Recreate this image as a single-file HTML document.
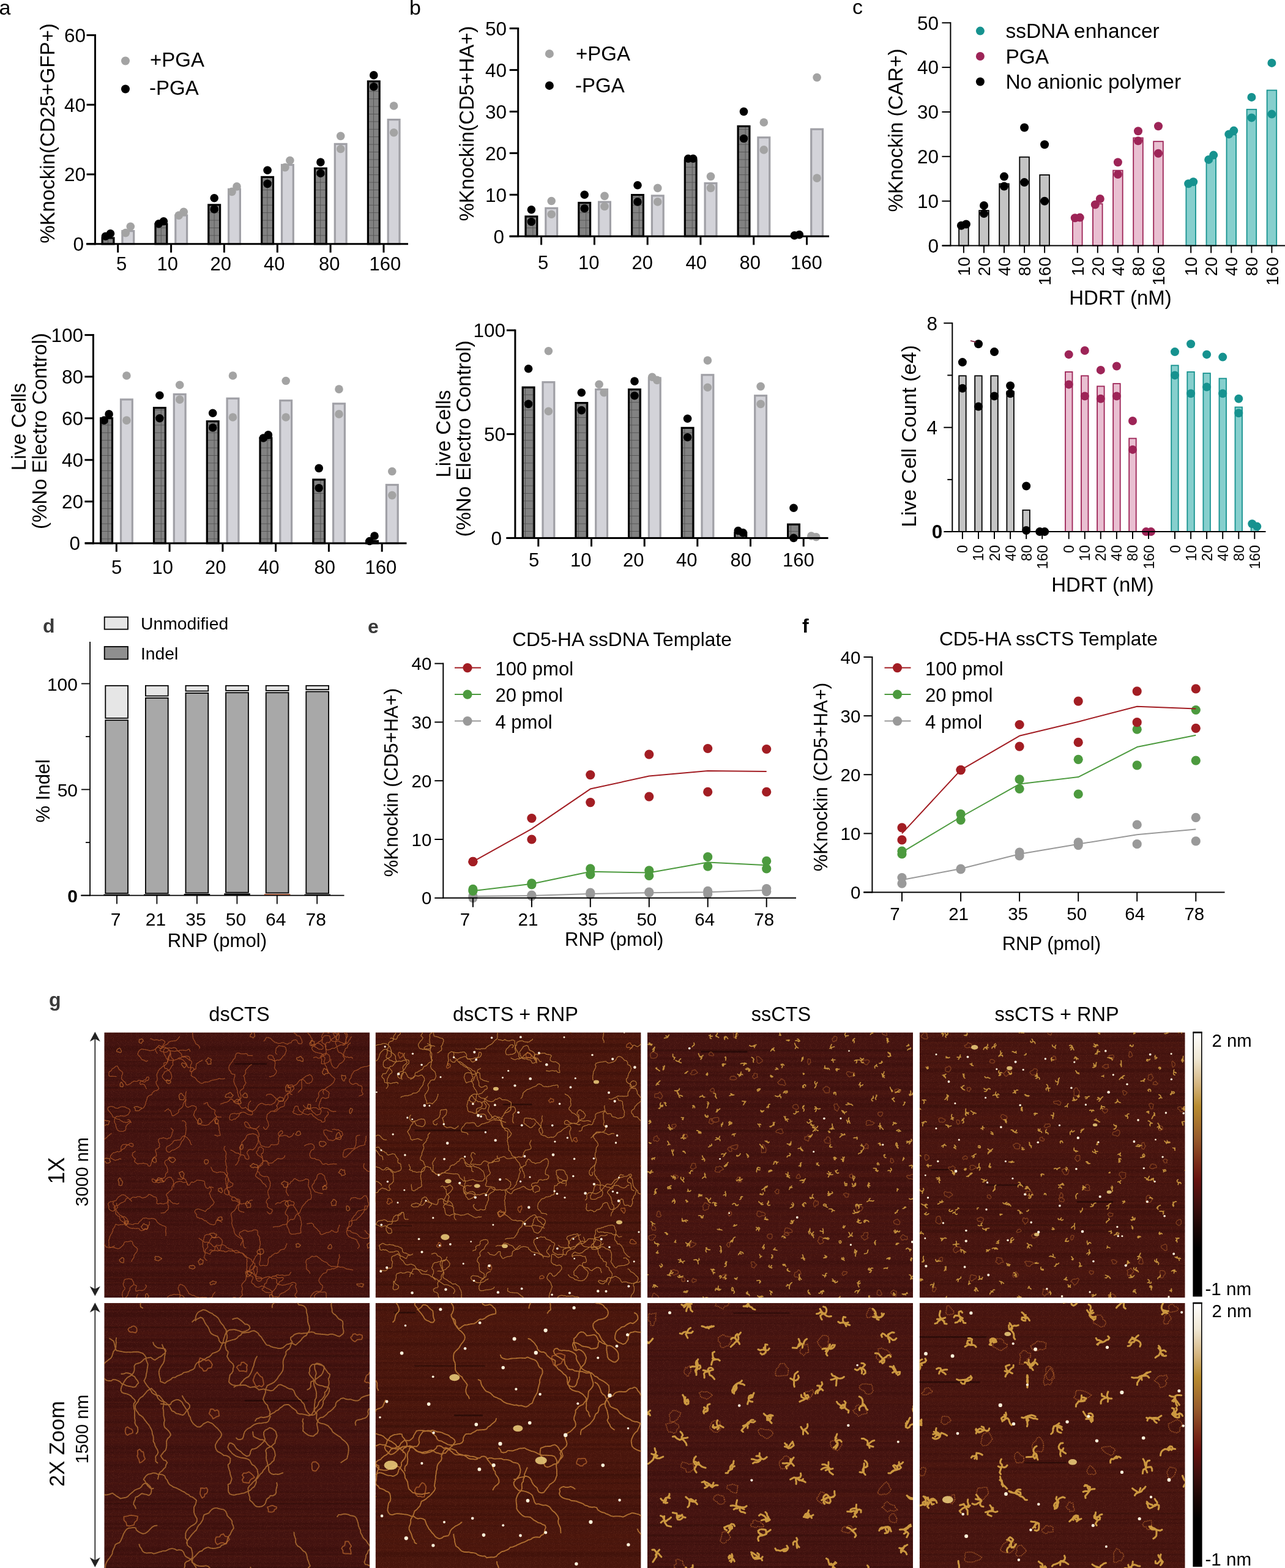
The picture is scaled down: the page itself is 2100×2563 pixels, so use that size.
<!DOCTYPE html>
<html><head><meta charset="utf-8"><title>Figure</title>
<style>
html,body{margin:0;padding:0;background:#fff;}
svg{display:block;}
text{font-family:"Liberation Sans", Arial, sans-serif;}
</style></head><body>
<svg width="2100" height="2563" viewBox="0 0 2100 2563">
<defs>
<pattern id="grid" width="12.4" height="12.4" patternUnits="userSpaceOnUse" x="2.4" y="0">
<rect width="12.4" height="12.4" fill="#828282"/>
<path d="M0 0.4 H12.4 M0.4 0 V12.4" stroke="#505050" stroke-width="0.9" fill="none"/>
</pattern>
<linearGradient id="cbar" x1="0" y1="0" x2="0" y2="1">
<stop offset="0" stop-color="#ffffff"/>
<stop offset="0.1" stop-color="#efe7d4"/>
<stop offset="0.2" stop-color="#d4b47e"/>
<stop offset="0.28" stop-color="#b88c30"/>
<stop offset="0.4" stop-color="#985c2c"/>
<stop offset="0.5" stop-color="#782a18"/>
<stop offset="0.56" stop-color="#661210"/>
<stop offset="0.65" stop-color="#3e0f0e"/>
<stop offset="0.74" stop-color="#1a0605"/>
<stop offset="0.82" stop-color="#000000"/>
<stop offset="1" stop-color="#000000"/>
</linearGradient>
<filter id="grain" x="0" y="0" width="100%" height="100%" filterUnits="objectBoundingBox">
<feTurbulence type="fractalNoise" baseFrequency="0.9" numOctaves="1" seed="3" result="n"/>
<feColorMatrix in="n" type="matrix" values="0 0 0 0 0.45  0 0 0 0 0.12  0 0 0 0 0.06  1.0 0 0 0 -0.55"/>
</filter>
</defs>
<g id="afm">
<clipPath id="clip0"><rect x="170.3" y="1687.5" width="434" height="433.5"/></clipPath>
<g clip-path="url(#clip0)">
<rect x="170.3" y="1687.5" width="434" height="433.5" fill="#42120f"/>
<rect x="170.3" y="1687.5" width="434" height="433.5" fill="#000" filter="url(#grain)"/>
<rect x="170.3" y="1700.6" width="434" height="1.3" fill="#6a2414" opacity="0.1"/>
<rect x="170.3" y="1710.3" width="434" height="2.8" fill="#140302" opacity="0.1"/>
<rect x="170.3" y="1713.2" width="434" height="2.6" fill="#140302" opacity="0.1"/>
<rect x="170.3" y="1715.8" width="434" height="1.7" fill="#140302" opacity="0.1"/>
<rect x="170.3" y="1724.9" width="434" height="2.4" fill="#6a2414" opacity="0.1"/>
<rect x="170.3" y="1731.2" width="434" height="3.1" fill="#6a2414" opacity="0.1"/>
<rect x="170.3" y="1734.3" width="434" height="1.9" fill="#140302" opacity="0.1"/>
<rect x="170.3" y="1740.6" width="434" height="3.5" fill="#140302" opacity="0.1"/>
<rect x="170.3" y="1747.8" width="434" height="3.9" fill="#6a2414" opacity="0.1"/>
<rect x="170.3" y="1754.7" width="434" height="1.8" fill="#140302" opacity="0.1"/>
<rect x="170.3" y="1760.4" width="434" height="1.4" fill="#140302" opacity="0.1"/>
<rect x="170.3" y="1764.4" width="434" height="2.3" fill="#140302" opacity="0.1"/>
<rect x="170.3" y="1768.2" width="434" height="1.3" fill="#6a2414" opacity="0.1"/>
<rect x="170.3" y="1771.3" width="434" height="3.4" fill="#6a2414" opacity="0.1"/>
<rect x="170.3" y="1774.7" width="434" height="1.6" fill="#6a2414" opacity="0.1"/>
<rect x="170.3" y="1776.4" width="434" height="2.9" fill="#140302" opacity="0.2"/>
<rect x="170.3" y="1779.3" width="434" height="1.6" fill="#6a2414" opacity="0.1"/>
<rect x="170.3" y="1780.9" width="434" height="2" fill="#6a2414" opacity="0.1"/>
<rect x="170.3" y="1794.6" width="434" height="1.5" fill="#140302" opacity="0.1"/>
<rect x="170.3" y="1796.2" width="434" height="3.5" fill="#140302" opacity="0.1"/>
<rect x="170.3" y="1808.1" width="434" height="2.3" fill="#140302" opacity="0.1"/>
<rect x="170.3" y="1810.4" width="434" height="3.9" fill="#140302" opacity="0.1"/>
<rect x="170.3" y="1816" width="434" height="2.8" fill="#6a2414" opacity="0.1"/>
<rect x="170.3" y="1818.8" width="434" height="3.2" fill="#140302" opacity="0.1"/>
<rect x="170.3" y="1824.7" width="434" height="2.8" fill="#6a2414" opacity="0.1"/>
<rect x="170.3" y="1827.5" width="434" height="1.6" fill="#140302" opacity="0.1"/>
<rect x="170.3" y="1829.1" width="434" height="2.3" fill="#140302" opacity="0.1"/>
<rect x="170.3" y="1833.6" width="434" height="1.4" fill="#6a2414" opacity="0.1"/>
<rect x="170.3" y="1842" width="434" height="1.4" fill="#140302" opacity="0.1"/>
<rect x="170.3" y="1847.1" width="434" height="3.9" fill="#140302" opacity="0.1"/>
<rect x="170.3" y="1878" width="434" height="2.9" fill="#6a2414" opacity="0.1"/>
<rect x="170.3" y="1880.9" width="434" height="2.8" fill="#140302" opacity="0.1"/>
<rect x="170.3" y="1887.7" width="434" height="3.2" fill="#6a2414" opacity="0.1"/>
<rect x="170.3" y="1890.9" width="434" height="2.7" fill="#6a2414" opacity="0.1"/>
<rect x="170.3" y="1896" width="434" height="2.4" fill="#140302" opacity="0.1"/>
<rect x="170.3" y="1900.9" width="434" height="3.8" fill="#6a2414" opacity="0.1"/>
<rect x="170.3" y="1906.6" width="434" height="1.6" fill="#140302" opacity="0.1"/>
<rect x="170.3" y="1908.2" width="434" height="3" fill="#6a2414" opacity="0.1"/>
<rect x="170.3" y="1913.2" width="434" height="1.6" fill="#6a2414" opacity="0.1"/>
<rect x="170.3" y="1920.6" width="434" height="1.9" fill="#140302" opacity="0.1"/>
<rect x="170.3" y="1929.2" width="434" height="1.8" fill="#140302" opacity="0.1"/>
<rect x="170.3" y="1931.1" width="434" height="1.8" fill="#140302" opacity="0.1"/>
<rect x="170.3" y="1941.7" width="434" height="1.2" fill="#140302" opacity="0.1"/>
<rect x="170.3" y="1944" width="434" height="2.7" fill="#6a2414" opacity="0.1"/>
<rect x="170.3" y="1946.7" width="434" height="1.1" fill="#140302" opacity="0.1"/>
<rect x="170.3" y="1948.9" width="434" height="1.7" fill="#140302" opacity="0.1"/>
<rect x="170.3" y="1950.6" width="434" height="2.9" fill="#6a2414" opacity="0.1"/>
<rect x="170.3" y="1961.9" width="434" height="1.5" fill="#140302" opacity="0.1"/>
<rect x="170.3" y="1963.4" width="434" height="3.1" fill="#140302" opacity="0.1"/>
<rect x="170.3" y="1971.2" width="434" height="3.3" fill="#6a2414" opacity="0.1"/>
<rect x="170.3" y="1974.4" width="434" height="3.7" fill="#140302" opacity="0.2"/>
<rect x="170.3" y="1978.2" width="434" height="3.2" fill="#140302" opacity="0.1"/>
<rect x="170.3" y="1993.8" width="434" height="3" fill="#140302" opacity="0.1"/>
<rect x="170.3" y="2000.2" width="434" height="3.2" fill="#140302" opacity="0.1"/>
<rect x="170.3" y="2011.9" width="434" height="3.6" fill="#6a2414" opacity="0.1"/>
<rect x="170.3" y="2023.4" width="434" height="1.5" fill="#6a2414" opacity="0.1"/>
<rect x="170.3" y="2024.9" width="434" height="1.4" fill="#140302" opacity="0.1"/>
<rect x="170.3" y="2035" width="434" height="1.3" fill="#140302" opacity="0.1"/>
<rect x="170.3" y="2044.6" width="434" height="1.9" fill="#6a2414" opacity="0.1"/>
<rect x="170.3" y="2046.5" width="434" height="3.7" fill="#140302" opacity="0.1"/>
<rect x="170.3" y="2054.1" width="434" height="2.7" fill="#140302" opacity="0.1"/>
<rect x="170.3" y="2060.4" width="434" height="2.5" fill="#6a2414" opacity="0.1"/>
<rect x="170.3" y="2065.7" width="434" height="3.1" fill="#140302" opacity="0.1"/>
<rect x="170.3" y="2071" width="434" height="3.8" fill="#6a2414" opacity="0.1"/>
<rect x="170.3" y="2074.8" width="434" height="1.4" fill="#6a2414" opacity="0.1"/>
<rect x="170.3" y="2079.8" width="434" height="2" fill="#140302" opacity="0.1"/>
<rect x="170.3" y="2081.8" width="434" height="3.8" fill="#140302" opacity="0.1"/>
<rect x="170.3" y="2085.6" width="434" height="1.1" fill="#140302" opacity="0.1"/>
<rect x="170.3" y="2086.6" width="434" height="3.1" fill="#6a2414" opacity="0.1"/>
<rect x="170.3" y="2089.7" width="434" height="2.9" fill="#140302" opacity="0.1"/>
<rect x="170.3" y="2093.9" width="434" height="1.8" fill="#140302" opacity="0.1"/>
<rect x="170.3" y="2095.7" width="434" height="2.3" fill="#6a2414" opacity="0.1"/>
<rect x="170.3" y="2098" width="434" height="2.6" fill="#140302" opacity="0.1"/>
<rect x="170.3" y="2114" width="434" height="1.9" fill="#6a2414" opacity="0.1"/>
<rect x="170.3" y="2117.6" width="434" height="3.7" fill="#140302" opacity="0.1"/>
<rect x="382.8" y="1737.6" width="53.4" height="2.7" fill="#0a0101" opacity="0.45"/>
<path d="M450.1 1968.6l1.8-1.6 2-1.2 2.3 .5 2.4 0 1.5-1.9 2.3-.7 2-1.2 2.4 0 2.3 .7 2.4-.6 2.3-.6 1.7 1.6 2.4 .6 2.3 .7 .8 2.2-.8 2.3-2.3 .6-2.4-.6-2.2 .9-1.8 1.7-1.2 2-1.3 2-1.1 2.2-1 2.1-.8 2.3 .6 2.3 2.1 1.2 1.5 1.9 .3 2.4-.2 2.4-.8 2.2 0 2.4-.3 2.4-.6 2.4 .5 2.3 1 2.2 1.3 2 .7 2.3 .5 2.4 .9 2.2 1.9 1.5 2.4 .3 2.3-.3 2.4 0 2.2-.9 2.4 0 2.4-.4 2.3-.6-.3-2.4-.3-2.4 0-2.4 .5-2.3 .5-2.4 .6-2.3-.6-2.3 .1-2.4-1.2-2.1-.2-2.4-.4-2.4-1.2-2-1.9-1.4 0-2.4-1.1-2.2-.9-2.2-1.7-1.7-.9-2.2-1.5-1.8-1.4-2-.6-2.3 M554.5 2050.7l-.2 2.4 1 2.1-1.4 2-.9 2.2-.1 2.4-.1 2.4-1 2.2 .1 2.4 .4 2.4-2.4 .5-2.1 1.2-2.1 1.1-2.4-.4-2.1 1.1-2.3 .6-2.4-.2-2.2 .8-.1 2.4-1.4 2-2.4 .5-2.3 .6-1.3 2-1.7 1.7-1.3 2-1.4 2-1 2.1-.3 2.4 1 2.2 1.1 2.1 1.7 1.7 2 1.4 .5 2.3-.6 2.4-.9 2.2-1.3 2-2.2 .9-2.4 .3-2.4-.6-2.2 1-2.2 .9-1.8 1.7-1.3 1.9-1.6 1.9-.9 2.2-.3 2.4-1.2 2-2 1.3-2.4 .3-2.3-.5-2.4 .6-2.1 1-1.5 1.9-1.1 2.1-1.5 2 .1 2.4 M609.1 2124.9l.4 2.4 .3 2.4 .3 2.4 1.3 2 2.4-.2 2.4 .5 1.6 1.8 1.4 1.9 2.3 .9 2.3 .3 2.4-.7 2.2-.7 2.4 0 2.1 1.1 2.3 .9 1.7 1.7 .8 2.2-.6 2.3-1.4 2-.6 2.3-.2 2.4 1.5 1.9 2.3-.4 2.3-.6 1.4-2 2-1.3 2.3-.7 2.3 .5 .8 2.3 .1 2.4-1.3 2-1.2 2.1-.8 2.2 1.5 1.9 1.1 2.1 1.1 2.2 1.8 1.4 2.4 .5 1.7 1.7 2.3 .6 1.8 1.6 M447.6 1816.9l2.4 0 2.1-1.2 1.7-1.7 1.8-1.5 1.7-1.7 2.1-1.2 2.3-.5 2.3-.8 1.1-2.1 0-2.4 0-2.4 1.8-1.5 1.3-2.1 1.6-1.7 1-2.2-.1-2.4-.6-2.4 1.2-2 2.1-1.2 2.2-1 1.9-1.6 1.2-2 1.8-1.6-.4-2.4-1-2.2-1.6-1.8-2.4 .3-2.4 .2-2.2 1-.4 2.4 2.2 1 2-1.3 2.4-.3 2.3-.6 1.9-1.5 2.1-1.2 2.1-1.2 1.3-2 1.5-1.9 1.3-2 2.1-1.1 2.3-.8 2.3 .6 1.8 1.6 1.7 1.8 1.1 2.1 2.4 .5 2.4-.1 1.9-1.3 2.2-1.1 .7-2.3 .8-2.2-.6-2.4-.7-2.2-1.7-1.8-2.1-1.1-1.8 1.5-2.4 .4-2.1 1.1-1.9 1.6-2 1.3-1.7 1.6-1.1 2.2 .3 2.4-.6 2.3 .8 2.3-.2 2.4 .2 2.3-.6 2.4-1.7 1.6-1.8 1.6-1.7 1.8 M501.6 2000.3l2.4-.2 2.3-.5 2.4-.5 2 1.1 1.9 1.5 .1 2.4 1.8 1.7 1.7 1.6 2 1.4 1.3 2 1.8 1.6 1.7 1.6-.2 2.4 2.1 1.4 2.4-.1 2-1.2 2.4-.4 1.8-1.6 2.4 .2 2.3-.7 2-1.3 1.7-1.7 2.1 1 2 1.5 2.2 .8 2.4-.2 1.9-1.5-.1-2.4 0-2.4 1.4-1.9 .7-2.3 .3-2.4 M297.6 1832.2l2.4-.3 2.1 1.1 1.3 2 .6 2.4-1 2.2 .9 2.2 .3 2.4-.2 2.4-.2 2.4-.3 2.3-.2 2.4-.8 2.3-1 2.2-.6 2.3-1.1 2.1-1.4 2-1.9 1.4-.4 2.4-1.2 2-.9 2.2-1.5 1.9-2.1 1.3-1.9 1.4-2.1 1.1-2 1.5-2.4 0-2.1 1.1-1.5 1.8-2.3 .7-2.3-.8-1.7-1.7-.5-2.3 .1-2.4 1.4-2 2.2-1 2.1-1.1 1.8-1.6 2-1.4 1.2-2 1.4-2 2-1.3 2.3 .2 2.4-.6 2.3-.1 2.4-.6 1.2-2.1 1.1-2.1 1.9-1.4 2.4-.4 1.9 1.5 2 1.3 1.6 1.8 1.5 1.9 1.6 1.8 .6 2.3 .7 2.3 1.5 1.9 M480.2 1852.3l-1.4 1.9-1.1 2.2-2 1.3-2.2 1-2.4-.1-1.6-1.8-2.3-.6-2.3-.7-2.2 1-2.4 .1-2.4 .5-2.2-1-1.2-2 .8-2.3 1.6-1.7 1.8-1.7 2.4 .1 1 2.1-.9 2.3-2 1.2-1.9 1.5-1 2.2-1 2.2-.3 2.3 1 2.2-.8 2.3-.3 2.4-1.7 1.7-2.4 0-2.3 .4-2.4 .1-2.4-.6-1.8 1.6-1.1 2.1-2.3 .5-2.4 .1-2.4-.3-2.3-.8-2.3-.5-2.2-1-1.6-1.8-.3-2.4-1.1-2.1-1.1-2.2-.9-2.2 0-2.4 1.4-2-.1-2.4 0-2.4-1.5-1.8-.6-2.3-1.7-1.8-2.2-1-2.1-1.1-2.4-.4-2.2-.8-2-1.4-.7-2.3-1.5-1.9-1-2.1-1.9-1.5-2.4-.5-1.6 1.7 .7 2.3 .8 2.3 1.4 1.9 2.1 1.1 2.3 .8 2.4-.1 2.4 .1 2.1 1.2 2.4 .3 2.3-.4 2.1-1.2 1.8-1.6 1.5-1.8 M362.6 1997.8l-2.1-1.2-1.7-1.7-2.1-1.1-2 1.4-2.1 1.1 0 2.4-.9 2.2-2.1 1.1-2.4-.1-2.4-.7-2.3-.6-1.8-1.5-2.2-1.1-1.1-2.1-2.3-.6-2.2-.9-1.7-1.7-2.2-1.1-2.4 0-2.1-1.1-2.3-.5-1-2.2-.1-2.4-1.1-2.1-1.7-1.7 .1-2.4 1.6-1.9 2.2-.8 2.4-.5 2.2 .9 2.2 .8 2.3 .8 2.3 .7 2.1 1.2 1.3-1.9 1.5-1.9 2.3-.9 2.1-1.2 1-2.1 1.7-1.7 2.1-1.1 1.2-2 1.1-2.2-1.1-2.1-1.4-1.9-1.3-2.1-1.4-1.9-.9-2.3-.5-2.3-1.3-2 1.2-2.1 1.3-2 1-2.2-.9-2.2-1.4-2-2.1-1.2 M596.1 2011.3l1.9 1.4 .9 2.2 1.8 1.6 2.2 .9 .4 2.4-.2 2.4-1.7 1.7-2.4 0-2.4 .5-2.4-.1-2.2-.8-2.2-1-2.2-.9-1.4-1.9-1.6-1.8-2.1-1.3-2.2-.7-2.4-.6-2.3-.5-2-1.4-1.3-1.9-2.4 .2-2.4-.4-.5-2.3 .8-2.3 1.8-1.6 2.4-.1 1.8-1.5 1.1-2.2 .8-2.2-.7-2.3-.2-2.4 .3-2.4 1.8-1.6 1.2-2.1 1.6-1.8 1.9-1.5 .6-2.3 1.6-1.8 1.5-1.8 2.4-.3 2.4-.4 2.2-.9 2.2-.9 2.1 1.3 2.2-.9 .9-2.2 .7-2.3 1.5-1.9 .8-2.2-.5-2.4-1-2.2-.1-2.4-.5-2.3-1.1-2.1-1.1-2.2-2.4-.4-2.2 1.1-1.3 2-2 1.3-2.1 1.1-2.3-.8-2.4-.2-2-1.3-2.4 0-2.4 .2-2.4 .4-1.5 1.8-.9 2.2 M272.9 2128.2l1.8-1.6-.5-2.4-1-2.1 .8-2.3 2-1.4 2.1-1.2 2.4-.1 2.2-.9 2.3-.8 2.2 1 2.3-.5 2.4-.1 2.2 1 2.3 .5 2.2 .9 1.8 1.6 1.3 2 .9 2.2 2.3 .8 1.9 1.4 .8 2.3-.3 2.4-1.8 1.6-2.2 .9-1.7 1.6-2.4 .1-2.4 0-2.4-.2-2.2 1.1-2.3 .6-2.2-1-2.4-.3-2.3 .7-2-1.3-2-1.3-2.4-.3-2.4-.3-2.2 1.1-2.3 .6-2.3-.6-2.3-.8-2.1-1-2-1.4-1.8-1.6-1.9-1.5-.4-2.3-1.9-1.5-2.2-.9-2.4-.3-2.2 1-2.4-.2-2.4-.3-1.8 1.6-1 2.1-.8 2.3 0 2.4-.9 2.2-2.1 1.1-2 1.5-2.2 .7-2.2 1-2-1.3-2.1-1.1-.8-2.3-.8-2.3-.1-2.4-.9-2.2-.9-2.2-.5-2.4 1.4-1.9 .2-2.4 1.3-2 M244.3 1996.9l0 2.4-.1 2.4-1.7 1.6-.1 2.4-1.2 2.1-1.3 2-2.4-.6-2 1.2-2.3 .9-2.3 .4-2.1-1.2-1.2-2.1-2.3-.5-2.4 .1-2.4 .1-2.4-.6-2.4 .4-2.3-.6-2.3-.7-2-1.2-1.7-1.8-1.2-2.1-1.4-1.9-1-2.1-.3-2.4-.3-2.4-1.4-1.9-1.5-1.9-1.4-1.9-2.4-.5-1.8-1.6-1.2-2.1-2-1.4-.9-2.2-1.2-2-1-2.2-.1-2.4-1.3-2.1-1.9-1.4-.5-2.4 1.3-2 M344.9 1907.8l.7 2.2 1.1 2.2 1.3 2 2.1 1.2 2.3 .5 2.3 .9 2.3-.7 2.3-.6 2.4 .3 2.4 0 2.2 .9 1.8 1.6 1.2 2.1 .9 2.2-.8 2.3-1.1 2.1 .5 2.4 .6 2.3-.1 2.4 .4 2.4 .7 2.3 0 2.4 .5 2.3 1.4 2 1.2 2 0 2.4 .6 2.4 1.5 1.8 2 1.4 2.3 .8 2.3 .4 2.2 .9 1.4 1.9 1.6 1.9 2.1 1 1.4 2 1 2.2-.6 2.3-1.4 2 0 2.4-.4 2.3 .7 2.3 1.6 1.7 2.3 .9 2.4 .4 2.2 .8 M237.6 2100.2l2 1.5-.9 2.2-1.3 2-1.4 2-2.1 1.1-2.3 .5-2.4-.3-2.4-.1-2.2 1-2.4 .4-.6-2.3 .1-2.4 1.3-2 0-2.4-2.3-.7-2-1.3-.1-2.4-1-2.2-1.2-2.1-1.2-2.1-2.4 .2-2.2-.8-2.4 .6-2.3 .2-2.3 .8-1 2.2-.1 2.4-1.3 2 .4 2.4 .8 2.3 1.6 1.8 .1 2.4-1.7 1.7-1.4 1.9-1 2.2-.1 2.4-.2 2.4 1 2.2-.1 2.4-.6 2.3 0 2.4-1 2.2-2.3 .8-2 1.2 M412.5 1961.8l-2.4-.2-2 1.3-1.2 2.1-1.6 1.8-2.3 .4-2.4-.1-2.4 .1-2.3 .7-2.4-.2-2-1.4-2.2-.9-1.7-1.7-2.3-.6-2.4-.5-2.4 .1-1.8-1.5 .1-2.4 .8-2.3 2.4 .4 2.3 .7 1.4 1.9 2.3 .5 2.4 .1 1.4 2 .3 2.4-.7 2.2-1.8 1.7-1.4 1.9-1.6 1.8-.3 2.4-1.6 1.8-1.2 2.1-1.8 1.6-2 1.4-1.7 1.6-.4 2.4 .5 2.4 .6 2.3 .2 2.4 .3 2.4-.1 2.4-.5 2.3 .8 2.3 .6 2.3 .8 2.3 1.2 2 .3 2.4 .2 2.4 1 2.2 1 2.2 1.8 1.6 1.8 1.6 2 1.2 2.1 1.3 2.1 1 2.1 1.3 1.1 2.2 .1 2.4-.3 2.3 .6 2.3 .5 2.4 1.2 2.1 2.3 .5 M548.8 1816.7l-2.4 0-2.4 .2-2.3-.8-2.1-1-1.9-1.6-1.9-1.3-2.4-.6-2.4-.1-2.3-.5-2.2-1-1.8 1.6-1.8 1.6-2.4 .4-1.8-1.6-2-1.3-2.4-.1-2.4-.2-2.2 .9-2.3 .7-2.4 .3-2.4-.2-2.3 .6-2.4 .5-1.7 1.6-.8 2.3-1 2.2-1.3 2-2.3 .7-2.4-.2-2.4 .4-1.9-1.3-2.3-.9-2.3-.5-.9-2.2 1.7-1.7-.2-2.4 1.1-2.2 1-2.2 2.1-1 2.4 .5 .8 2.3 .3 2.3 1.2 2.1 1.7 1.7 2.1 1.2 2 1.3 2.1 1.2 2.3 .6 2.3 .7 2.3 .7 1.8-1.6 2.3-.5 2.3 .6 .9 2.3 1.7 1.7 2.1 1.2 1.7 1.6 2 1.3 2 1.4 2.3 .4 2.3 .9 .5 2.3 2.4 .1 2.3-.9 1-2.1-.9-2.3 1.1-2.1 1.7-1.7 1.6-1.8 1.6-1.8 .1-2.4-1.3-2 M512.4 1729l2.1-1.1 2.4-.1 1.9 1.4 2.3 .7 2.2-1.1 .9-2.2 1.4-2 2.1-1 2.2-1.1 2.2-.9 2.2 .8 2 1.4 1.9 1.4 .6 2.3 .2 2.4-.4 2.4-.1 2.4-1.9 1.4-2.3 1-2.2 .8-2.1 1.1-2.4-.1-2.4-.3 .2-2.4 .3-2.4 .1-2.4-1.4-1.9 1.2-2.1 1.9-1.5 2.3-.8 2.1-1.1 .8-2.3 .6-2.3-.4-2.4-.6-2.3-.1-2.4 .8-2.3-1.6-1.8-1.5-1.8-2.1-1.3-1.9-1.3 .8-2.3 .4-2.3-.1-2.4-1.4-2 .7-2.3 .8-2.3 1.7-1.6 1.6-1.8 2.4 .6 2.3 .5 2.2 .9 1.7-1.7 1.6-1.7 2.4 .2 1.1 2.2 .8 2.2 1.1 2.1 1.6 1.8 .4 2.4 1.8 1.6 1.1 2.1 2.3-.9 .8-2.2 .1-2.4 .4-2.4-1.2-2.1-2.3-.2-2.4-.5-2.2-.9-1-2.2 M292.2 1966.7l-1.9 1.4-2.3-.3-2.3-.8-2.4 .2-1.9-1.5-2-1.3-1.3-2-2.1-1.3-1.9 1.4-.7 2.3-1.4 2-2.4 .2-2.1 1.1-2.4-.5-2.3-.6-2.4 .3-2.2 .8-2-1.3 .1-2.4 .7-2.3-1.2-2-.3-2.4-2-1.4-2.4 .1-1.8-1.6-2.1-1.2-2.1-1.1-2.4-.1-.9 2.2-2.1 1.2-2 1.4-2.4 .1-2.1 1.1-2.2-1-2.1-1.2-2.3-.4-2.4 .2-2 1.4-2.4-.2-2.3-.5-2.1 1-1.5 1.9-2.2 1 M425.5 2050.5l-2.3-1-2.3 .7-1.5 1.9-1.7 1.7-1 2.2-1.1 2.1-1.1 2.1-.3 2.4-1.3 2-.5 2.4-2.1 1.2-1.1 2.1-1 2.2 .2 2.4-1.3 2-2 1.3-1.7 1.7 .4 2.4 2.2 1 1.8 1.5 2.3 .6 2.3 .8 1.2 2.1-.8 2.2-1 2.2-.9 2.2 .6 2.3 2 1.3 2 1.3 1.1 2.1 2 1.3 2.2 1 2.4-.1 2.2-1 2.1-1.1 2.4 .3 2.1 1 2.1 1.2 2 1.3 2.3 .9 2.2 1 2 1.3 1.6 1.8 .7 2.3-.7 2.3 1 2.2 1.9 1.4 2.3 .7 2.4-.4 2.2 .9 2.2-1 .6-2.3 1.5-1.9 2.1-1.1 2.3-.7 2.2-1 1.9-1.5 2-1.3 1.9-1.4 1.9-1.5 1.3-2 .8-2.3 1.6-1.8 2.2-.9 M465.5 1888.9l-.5 2.3-1.9 1.5-2 1.3-2.4 .4-2.3-.6-2.4-.2-2 1.4-1.7 1.7-2.1 1.1-1.6 1.8-2 1.4-2.4 .2-2.3 .3-2-1.3-1.7-1.7-2.3-.8-2.4-.4-2-1.3-.2-2.4-1.9-1.5-1.8-1.5-2.1-1.1-2.1-1.3-1.2-2-1.4-2 .7-2.3 2-1.4 .4-2.3 .8-2.3 2-1.3 2.4 .5 1.8 1.6 1.8 1.4-.4 2.4-.1 2.4-.8 2.2-2.3 .7 0 2.4 1.5 1.9 .2 2.4 .3 2.4 .2 2.4 .3 2.4-.4 2.3-1 2.2-2.1 1.3-1.7 1.6-1.8 1.6-.5 2.3-1.2 2.1-.7 2.3-.6 2.3-1.6 1.8-.4 2.4 1.5 1.8 1.8 1.6 2.1 1.2 2 1.3 1.7 1.7 1.5 1.9 .8 2.2 2.1 1.3 2 1.3 1.4 1.9 1.1 2.2 M330.6 1732.8l-1.9 1.5-2.3 .9-1.9 1.4-2 1.3-2 1.4 .3 2.3-.7 2.3 .2 2.4-1.5 1.9-2.4 .4-1.5 1.9-2.1 1-2.4 .1 .2-2.4 1.3-2 0-2.4-.8-2.3 .8-2.3 1.4-1.9 .2-2.4-1.2-2-2.3-.8-1.9-1.5-1.8-1.6-2-1.2-2.1-1.3-2.3 .4-2.4-.3-.6-2.3-.1-2.4-1.8-1.5-1.8-1.7-1.8-1.6-1.9-1.4-1.1-2.1-1.6-1.8-2.3-.5-2.4 .6-2.3 .6-2.3-.6-2.4 .2-2.4-.1-2.3 .6-2.2 1-.7 2.4-.3 2.3 .7 2.4 .7 2.2 1.7 1.8 .7 2.2 1 2.2 1.7 1.7 2.3 .8 2.3 .6 2.4-.2 2.1 1.1 2.1-1.3 2.3-.7 2.3-.6 1.7-1.7 2.2-.9 2.4 .2 1.7-1.8 2.3-.7 2.4 .2 2.3-.4 2.4 0 2.1 1.1 1.3 2 .1 2.4 M576.5 2075.9l-2.3-.6-2.4-.2-2.3-.6-2.4-.2-2.3-.9-2-1.2-2.2-.9-2.4-.2-2.4 .3-2.2-1-2.4-.3-2.4 0-2.4 .2-2.3-.4-2.4 .4-2-1.3-2.1-1.2-1.7-1.6-1.4-2-2.2-1-2.3-.7-2-1.3-2.1-1.1-1.7-1.7-1.6-1.8-2.2-.9-1.6-1.8-2.2-1-2.1 1.2-2.4 .1-2.1-1.1-1.7 1.6-2 1.4-2.1 1.3-2.2 .8-1.5 1.9-.7 2.3 .4 2.3 .8 2.3-.6 2.4 .6 2.3-.3 2.4 1.7 1.7 1.9 1.5 1.5 1.8 .8 2.3 M440.3 1904.6l-2.3-.8 0-2.4-.5-2.3-1.8-1.6-2.3-.5-2.2 1.1-2 1.3-1.4 1.9-1.8 1.6-1.2 2.1-2.3 .6-1.3 2.1-.4 2.3 .4 2.4-.2 2.4 2 1.3 1.3 2 .8 2.3 2.2 .9 2 1.4 2.3 .6 2.4-.2 2.4-.1 2.1 1.1 .7 2.3 .4 2.4 1.3 2 .8 2.3-.2 2.4 0 2.4-.5 2.3-.8 2.3-1.3 2-1.1 2.2 0 2.4 .3 2.3 .7 2.3 .9 2.2 .3 2.4-2.2 .9-1.5 1.9-1.1 2.2 0 2.4 1.6 1.8 .5 2.3-.2 2.4 1.4 1.9 2.1 1.2 2.2 .9 2.2 1.1 0 2.4-1.1 2.1-1.3 2-2.4 .2-1.8-1.6-1.8-1.6 M209.1 1958.1l-2.3 .7-1.5 1.9-.8 2.3-2 1.3-2.1 1.2-2.2 .7-2.1 1.2-1.7 1.7-1.9 1.5-2.4 0-2.2 .9-1.6 1.8 .6 2.3 .5 2.3 1.3 2 .3 2.4 .2 2.4 2 1.3 1.7 1.7 2.3 .7 .6 2.3 .3 2.4 1.5 1.9 2 1.3 2.1 1 1.4 2 2.1 1.2 2.4 .4 2.4-.3 2.4 .1 2.3 .7 2.3 .3 2.1-1.2 2.3-.6 2.4 .4 2.4-.2 .8-2.3 1.8-1.6 1.8-1.5 1.7-1.8 1.6-1.8 2.4 0 2.4-.3 2.3 .8 2.3 .6 2.4-.1 2.3-.6 2.4 .2 2.3 .8 2 1.2 1.3 2.1 1.1 2.1 1.9 1.4 1.8 1.6 2.2 .8 2 1.4 2.3 .7 2.3 .7 1.9 1.5-.5 2.3-.2 2.4-.2 2.4 .7 2.3-.2 2.4-.2 2.4 M513.2 1709.6l1.7 1.7 2.2 .9 2 1.4 1.9 1.5 2.4 0 2.4 .2 2.1-1.3 .2-2.3-.9-2.3-1.8-1.5-2-1.3-2.2-.9-2.3-.7-2.3 .9-1.2 2.1-1.5 1.8-2.4 .1-2.1-1.3-.8-2.2-.8-2.3 1.5-1.9 1.5-1.9-.8-2.2-1.6-1.8-.9-2.2-1.2-2.1-1.7-1.7-1.5-1.9-1-2.2-2.3-.8-1.8-1.6-.2-2.3 .4-2.4 1.1-2.1 1.6-1.8 .8-2.3-.5-2.3 .4-2.4 .9-2.2 .1-2.4 M554.2 1681.3l-1.3 2.1 .9 2.2 .7 2.3-1.4 2-.8 2.2-2.2 1-2 1.3-2.2 1-1.3 2-2.2 1-1.7 1.7-1.3 2-1.1 2.1-2.4-.4-2.3 .4-1.4 2 0 2.4-.9 2.2 1.1 2.2 .9 2.2 2 1.3 2.2-.8 2.4-.3 1.7-1.6 2.4-.6 2.3 .5 1.9-1.5 2-1.4 2.2-.9 2.2-1 2.1-1 2.4-.2 2.2 1 2-1.3 1.8-1.6 .9-2.2-.8-2.3 .1-2.4 .9-2.2 1.4-2 .5-2.4-.8-2.2-1.3-2-1.4-2-1.2-2.1-2.3-.6-2.4 .1-2.4 0 M341.8 2018.1l-2.4-.2-2.4 .3-2 1.3-1 2.2-.8 2.3-.3 2.3-1.2 2.1-.4 2.4 .1 2.4 .2 2.3-.3 2.4 1.2 2.1 .1 2.4 .4 2.4 1.3 2 2.1 1.1 2.4 .1 2 1.3 2.3 .8 .8-2.3 1.5-1.8 2-1.3 2.3-.9 1.5-1.8 .1-2.4 .9-2.2 1.2-2.1 2.3 .3 2.3 .7 2.2-.9 2.2-.9 2.4 .2 2.1 1.2 2.2 1 .8 2.3 2.3 .4 1.9 1.6 2.3 .4 2.4 .3 1.5 1.9 2.2 1 1 2.2 2.2 .8 2.4-.3 2.4 0 2.4-.1 2.3 .8 1.9 1.4 1.2 2.1 1.7 1.8 1.8 1.5 2.3 .4 2.3 .8 2 1.3 2.2 1.1 .6 2.3 1.8 1.5 1.5 1.9 2.1 1.1 .1 2.4-.4 2.4-.7 2.3-1.8 1.6-2.2 .9-1.8 1.6-2.4 .5-2.4 .2-2.1 1.1-2.3 .6 M515.7 2127.5l-1.7-1.7 .8-2.3-.6-2.4-.7-2.2 1.2-2.1 1.5-1.9 1.9-1.4 2.2-1 2.3-.5 2.4 .2 2.4-.2 2.4-.3 2.4 .5 1 2.1-.1 2.4 0 2.4 .4 2.4 2.4 .4 2.4-.3 2.2 .9 1.2 2 .4 2.4 .1 2.4-1.6 1.8 .2 2.4-1.8 1.6-2.4 .1-2.3 .4-2.4 .3-2.3-.7-2.4 .2-2.2-1-1.9-1.4-2.4-.5-1.9 1.4-2.2 .8-2.4-.2-2.3-.7-2.1 1.2-2.1 1.1-.7 2.2 0 2.4-.3 2.4 1 2.2 1.1 2.1 .2 2.4 .5 2.4 2 1.3 .7 2.3 0 2.4 M168.4 1701.3l-2.4 .1-2.4 0-2.2-1.1-2.1 1.2-2.2 .8-2.4 .2-2.3 .7-2.4-.4-2.3-.6-2.1-1.1-.9-2.3-2-1.3-2.1-1.1-.4-2.3-1.2-2.1-1.4-1.9-.3-2.4-2.2-1-2.3-.6-2.2-1-1.2-2.1-.5-2.3-.5-2.4-2.1-1-2.1-1.1-2.3-.8-2.2 .9-1.7 1.7-1.2 2.1-.3 2.4 1 2.2 1.6 1.8 1.8 1.5 .5 2.4-.2 2.4-.5 2.3-1 2.2-.4 2.3 .5 2.4-1.5 1.9 .4 2.3 .7 2.3 1.2 2.1 1.7 1.7 .7 2.3-1 2.2 .5 2.4 .2 2.4-.7 2.3 .4 2.3 .7 2.3 1.2 2.1 1.6 1.8 1.2 2.1 .2 2.4 .6 2.3 1.2 2.1 1 2.2 1.4 1.9 .5 2.3-.2 2.4-.8 2.3-2.1 1.2-1.3 2-1.5 1.9-2.3 .8 M471.5 1954.4l-1.6-1.8-.8-2.2-1.5-1.9 .2-2.4 .4-2.4 0-2.4 1.1-2.1 1-2.2 1.8-1.5 2.3-.9 .4-2.4 2.1-1.2 2-1.3 .9-2.2 2.2-1.1 2 1.3 2.2 1.1 2 1.3 2.4 .2 2.3-.5 2.4-.3 2.2-1 1.9-1.4 2.4 .3 2.3 .7 .6 2.3-.4 2.4 0 2.4-.8 2.3 .9 2.2 1.1 2.2 1 2.1 .8 2.3 .8 2.3-.3 2.3 1 2.2 0 2.4 0 2.4-.9 2.2-2.2 .8-2.4 .5-1.1 2.1-2.2 1.1-.9 2.2-1.8 1.6-1.6 1.8-1.6 1.7-1 2.3-.9 2.2-1.2 2.1-.6 2.3-1.2 2.1-2 1.3-2.3 .4-1.4 2-1.1 2.1-.8 2.3-1.5 1.9-2.3 .6-2.4-.3-2.1 1.1-1.5 1.9-1.7 1.7-1 2.2-2.1 1.1-2.4 .6-2.4-.1-2 1.2-2.3 .9-2.1 1-2.4 .1-2.4 0-2.4 .3-2.3 .6 M292 1730.8l2.4-.1 2.3 .8 2.2 .9 1.8 1.6 1.1 2.2 2.1 1.2 .9 2.2 1.1 2.2 .5 2.3 2.2 1 2.4 .1 2.4-.4 2.3 .6 1.6 1.8-1.1 2.2-1.7 1.6-1.4 2-.2 2.4-.5 2.3 1.7 1.8 2.2 1 2.2 .8 1.5 1.9 1.5 1.9 1.4 1.9 2.1 1.2 1.8 1.6 2.2 1 2.4-.2 1.9-1.4 2.3-.8 2.3 .3 2.4-.2 2.3-.9 2-1.2 2.3-.7 2.4-.3 2.3-.6 2.4-.3 2.3-.7 2.1-1.2 2.3 .9 2.4 .1 2.4-.1 2.2-.9 M409.8 1799.5l-1.6 1.8-1.5 1.8-.5 2.4-.7 2.3 .3 2.4-.2 2.4 1.6 1.8 2.2 1.1 2.2 .9 1.1 2.1 .1 2.4-1.7 1.7-2.4-.5-2.3-.4-2.3-.8-2-1.3-2.1-1.2-2.4-.5-2.3 .2-2 1.4-2.3 .7-2.4-.2-2.2 1-2.1-1.1-2.4 .1-2.4 .5-2.3 .6-1.2 2.1-.7 2.3-.3 2.3 .8 2.3 2.2 .9 2.4-.6 2-1.3 2.3 .2 1.6-1.8 1.9-1.4 1.9-1.6 .7-2.2 .9-2.3 1.5-1.9 M338.2 2060.3l-2.1-1.2-1.3-1.9-1.5-2 .9-2.2 .8-2.3 .3-2.4-.2-2.3 .3-2.4 1.2-2.1 1.9-1.4 1.3-2-.8-2.3 .1-2.4 1.5-1.8 1.5-1.9 .8-2.3 1.2-2.1 1.5-1.8 2.2-1.1 2.4 0 2.3 .6 2.4-.2 2.1-1 2 1.2 1.8 1.7 1.6 1.7 1 2.2-.2 2.4-.4 2.4-1 2.1-.9 2.3-.6 2.3-.3 2.4-1.5 1.8-2.4 .5-2.2-.8-2.4 0-2.4 .5-2.3-.5-2.2-1.1-2.1 1 M279.6 1893.5l-2.4-.3-2.1 1-1.7 1.7-2.3 .7-1.8 1.6-.2 2.4 .7 2.3 1.3 2 1.6 1.8 .6 2.4 .7 2.2-.1 2.4 .2 2.4-2.1 1.1-1.4 1.9-.1 2.4-.8 2.3-1.8 1.6-2.2 1-2.3 .5-2.2 1.1-2.2 1-2.1 1-1.5 1.9-2.1 1.2-2.3-.4-1.9-1.6-.7-2.2 .6-2.4 2.2 .9 1.9 1.5 2.4 .5 2.1-1.1 2.4 .4 2.2 .9 2.4-.3 1.6 1.7 2.4 .1 1.5-2 1.1-2.1 2-1.3 1.9-1.4 2.4-.1 2.4 .4 1 2.2 1.6 1.8 .9 2.2 .3 2.4-.4 2.4 .6 2.3-.2 2.4 M496 1806.5l.8 2.3 2 1.3 2.3 .9 2.3 .6 2.3 .5 2.1 1.3 1.6 1.8 1.2 2 1.8 1.6 2.1 1.2 1.6 1.8 2.2 .9 2.2-1 2.3-.5 1.2-2.1 .8-2.3 .1-2.4-1.4-1.9-1.7-1.8-.4-2.3-.1-2.4 1-2.2 .4-2.4 1.4-1.9 0-2.4 1.7-1.7 1.8-1.6 2.2 .9 2.2 1 2.2-1 2.3-.4 .8-2.3-.1-2.4 .9-2.3-.9-2.2-2-1.3-2.1-1.2-1.8-1.7-2.3-.2-2.4 .1-1.9 1.4-2.1 1.3-1.3 2-1 2.1 .9 2.3-.6 2.3-.9 2.2-1.8 1.6-.6 2.3-.8 2.3 M325.9 1713.6l.6-2.3-1.7-1.7-1.6-1.9-2.2-.8-1.8-1.6-.3-2.4-1.2-2-1.3-2.1-1.1-2.1-.1-2.4-.4-2.3 0-2.4-.1-2.4 .4-2.4 0-2.4 0-2.4-1.1-2.1-1.9-1.5-1.9-1.5-1.4-1.9-1.9-1.6-2.2 .9-1.3 2-.2 2.4-2.3 .9-2.4-.2-1.8-1.5-1.6-1.9-1.7-1.6-2.4 .3-2.4 0-.8-2.3-.9-2.2-1.8-1.6-2.3-.4-1.7-1.8-2.3-.7-2-1.3-1.8-1.6-1.5-1.9-2.1-1.1-1.7-1.7-2.4-.4-2.3-.6-2.1-1.2-1.8-1.5-2.1-1.3-.7-2.2-1.7-1.8-1.6-1.8-1.9-1.5-2.1-1.2-2.3-.5-2.2-1-2.4 .1-2.2-1-2.3 .5-2.4 .5-2.1-1.2-2-1.3-1.3-2-1.4-1.9-2.1-1.2-1.9 1.4-1.6 1.8-.8 2.3-.3 2.3 .8 2.3 .8 2.3 1.5 1.8 .9 2.3 2.4-.3 1.6-1.7 1.2-2.1 2.4 .3 2.1 1.1 1.5 1.9 1.2 2 .5 2.4 .1 2.4 M377 1879.8l2.3 .8 2 1.2 2 1.3 2 1.4 2.4 .4 2.4 .3 1.6 1.7 2.3 .9 2.3-.3 2.3 .8 1.5 1.8 .3 2.4 1.6 1.8 2.3 .9 2.2-.9 .4-2.4-.7-2.3-1-2.1-1.4-2-.1-2.4 1.5-1.9 1.4-1.9 2.4-.6 2.3 .5 2.3 .6 1.3-2 2-1.4 1.2-2.1 1.1-2.1 .9-2.2 1.7-1.7 0-2.4 0-2.4 .8-2.2-1.5-1.9-.3-2.4-1.4-1.9-2.2-.9-2.3-.7-2.4-.5-2.2 .8-2.4-.2-2.2 1-2.1 1.1-1.2 2.1-.8 2.3-1.2 2-1.8 1.6-1.5 1.8-1.9 1.6 0 2.4-1 2.2-.9 2.2-.4 2.4-.8 2.3 1.1 2.1 0 2.4 .2 2.4-.7 2.3-.5 2.3-1.6 1.8-.3 2.4 .1 2.4-1.3 2-.9 2.2-1.4 2-1.8 1.6 M576.2 1730l-1.4-1.9-2.4 .3-2.4 .4-2-1.3-2.3 .4-2.2-1.1-1.7-1.7-1.8-1.6-1.6-1.8-2.2-.9-2.3-.7-1.5-1.9-.6-2.3-.7-2.3-.4-2.4-.6-2.3-1.3-2-.6-2.3 .6-2.4 .5-2.3 .2-2.4 .4-2.3 .6-2.4 .1-2.4 2-1.3 1.1-2.1 2.3-.6 2.4-.1 2.4-.1 2.3 1 .5 2.3 1.9 1.4 .2 2.4 0 2.4 .1 2.4-.5 2.3-.2 2.4-1.2 2.1-1.8 1.5-2.4 .2 M269.1 1816.3l2.1-1.2 1.8-1.5 2-1.4 1.2 2.1 2.4 .6 .5 2.3 1 2.2 .6 2.3 .9 2.3 2.4-.5 2-1.2 2-1.4 2.1-1.1 1.8-1.7 .2-2.4 .6-2.3 2.1-1.1 2-1.4 1.6-1.8 .8-2.2 .1-2.4 1.1-2.2 1.3-2 1.3-2 .2-2.4 .6-2.3-.5-2.4 .3-2.4-.1-2.4 1-2.2 M381.7 2125.8l-.5-2.3-1-2.2 2.2-.9 2.4 .4 1.8 1.5 2.4-.6 2.3-.6 2.1-1.1 1.4-2 1.8-1.5-1-2.2-.2-2.4 .1-2.4 1.1-2.2-.5-2.3-1-2.2-.2-2.4 1.2-2.1 1.5-1.8 1.6-1.8 1.9-1.5 .7-2.2 .4-2.4 .1-2.4 1.8-1.6 1.5-1.9-1.1-2.2-.7-2.3-.9-2.2 .2-2.4 .5-2.4-.3-2.4 .4-2.4-.4-2.3 .5-2.4-.4-2.3 .2-2.4-.3-2.4-1.6-1.8-2-1.4-1.4-1.9-2-1.3-2.4 0-2.3-.8-1.5-1.8-2.2-1-2.3-.8-2.3 .6-2.2 .8-2.3-.6-2.4 .6-2.2-1-2.2 .8-2.1 1.2-2.4 .1-1.8-1.6-2.4 .2-2.3-.5-2.4 0-1.8-1.7-1.2-2-.7-2.3-2-1.3-2.2 1-2.2-.8-1.6-1.8-1.7-1.8-1.8-1.5-2.1-1.2-2.3-.6-2.4 0-2.4 .3-1.6-1.9-2.2-.8-1.6-1.9-2.1-1.1-2.1-1 M198.1 1881.6l-.2-2.4-.2-2.4 .3-2.4 1.2-2 1.7-1.8 2.4 .1 2.4-.2 2.3 .5 2.4 .3 1.8 1.5 2.2 1.1 2.4 .2 1.1-2.1-.7-2.3-2.2-1-2.4 .3-1.9 1.3-1.9 1.5-2.3 .8-1.5 1.8-.8 2.3-2.2 1.1-2.1 1.1-1.8 1.5-1.8 1.7-2.2 .9-2.3-.8-2.2 .9-2.1 1.1-2.4 0-1.7 1.7-1.6 1.8-1.3 2 0 2.4 1.8 1.6 2.1 1 2 1.3 2.3 .8 2.2-.9 2.4-.3 1.8-1.6 2.4 .5 M361.5 1825.9l-2.4-.1-2.4 .2-2.3-.8-1.7 1.7-2.3 .8-1.3 1.9-1.7 1.8-1.4 1.9-2 1.3-1.5 1.9-1.7 1.7-2.3 .7-2.3 .6-2.4-.2-2.3-.4-2.4 0-1.8-1.7-2.1-1.2-1.6-1.7-.8-2.3-1.5-1.8-1.4-2-1.5-1.9-1.1-2.1-1.1-2.2 1.2-2.1 .3-2.3 1.1-2.2 1.8-1.6 .5-2.3-.7-2.3-2.1-1.1-2.3-.6-2.4-.2-2.2 1.1-2.2 .8-2.2 1-2-1.3-1.6-1.8-.4-2.4 0-2.4 .3-2.4 1-2.2 M164 2126.2l2.1 1.2 1.7 1.7 .8 2.3 1 2.1 1 2.2 1.6 1.8 2.2-.9 1-2.2 1.1-2.2 .2-2.4 1.3-2 2.4 0 2.2-.9 2.3-.8 2.3 .6 2.3-.6 2.2-1.1 2.3 .4 2.4 0 2.4-.4 2.4 .3 2.2-1 1.2-2 1.2-2.1 2-1.4 1-2.2 .7-2.3 .4-2.3 1.5-1.9 .9-2.2-.1-2.4 1.4-2 2-1.3 1.9-1.4 1.1-2.2 M182 1852.7l-2 1.3-1.8 1.7-2 1.4-1.4 1.9-2.2 1.1-1.4 1.9-1.6 1.7-2.3 .9-2 1.3-2.1 1.2-2.3 .7-1.6 1.7-.2 2.4-.5 2.3-1.5 2-2.2-.8-1.7-1.7-1.9-1.5-2.2-.9-1.8-1.6-1.7-1.7-1.6-1.8-2.4-.4-2.3 .5-2.3 .6-2.2-1.1-2.2-1-2-1.3-2.3-.5-2.2-1-.9-2.2-1.1-2.2-.2-2.4-1.6-1.8-2.4 .3-2.4 .1-2.2-.9-1-2.1-1.6-1.8-1.5-2-1.1-2.1 .6-2.3 1.1-2.1 1.9-1.5 1.7-1.8-.6-2.3 1-2.2-.6-2.3 1.1-2.1 1.4-2 1.1-2.1 1.4-2-1.1-2.2-.8-2.2-1.5-1.9-.4-2.4-.7-2.3-.4-2.3-1.3-2.1-.8-2.2 M411.2 1740.2l-2.2 1-1.8 1.6-1.6 1.8-1.6 1.7-1.6 1.8-1.3 2.1 .4 2.4-.3 2.3-1.4 2-1.8 1.6 1.3 2 .3 2.4 .3 2.4 .6 2.3 1.4 2-1 2.2-1.2 2.1-1.6 1.8 .3 2.3-1.7 1.8-2 1.2-1.7 1.7-.9 2.3 .2 2.4 1.4 1.9 .1 2.4 .1 2.4-.7 2.3-2.2 .9-2 1.4 .1 2.4 0 2.4 1.3 2 1.7 1.6 1 2.2 1.7 1.7 2.3 .6 2.3-.8 2.2-.9 1.4 2 1.7 1.7 1.8 1.6 2.1 1.2 2.3 .4 2.4-.4 2-1.3 1.8-1.6 1.4-1.9 1.2-2.1 1.4-2 1.6-1.7 2-1.4 2.2-1.1 2.4 .4 2.1 1.1 2.2 .9 2.4-.1 2.4-.3 2.3 .6 2.4-.2 2.1-1.2 2.1-1.1 1.9-1.5 1.3-2.1 .7-2.3-.3-2.3-2-1.4-1.5-1.9-1.8-1.6-2-1.3-2.3-.5-2.4 .2-2.4 .2-1.3 2 M489.4 2127.8l-2.4-.3-1.5-1.9 0-2.4-.4-2.4-2-1.3-1.3-2 .8-2.3 1.7-1.6 1-2.2-.6-2.3-.3-2.4-1.2-2.1-.7-2.3 1.3-1.9-.3-2.4-2-1.4-2.3-.6-2.4 .5-1.9 1.3-2.4 .5-2.3 .6-2.4 .5-2.1 1-2.4 .1-2.4 .5-2.2-1-2.4 0-2-1.2-2-1.4-.5-2.3 .6-2.4-.9-2.2-2.3-.7-2.4-.4-2.2 .7-1.8-1.6-2.2-1-1.5 1.9-1.9 1.5-.9 2.2-.6 2.4-1.1 2.1-2.2 1.1-.4 2.3-.4 2.4-1.1 2.1-2.2 1 .4 2.4 2.2 1 1.7 1.7 2.2 .9 2.4 0 2.4 .5 2.4-.1 2.4-.1 1.2-2 2.1-1.3 1.1-2.1 1.8-1.6 .7-2.3 .9-2.2 1.7-1.7 1.8-1.6 .7-2.3 1.7-1.7 2.3-.5 1.7-1.7 1.1-2.2-1.4-2-2.2 .8-2.4 .3-2.4-.2-2.4-.4-.9-2.2-2.4-.3-2.3 .6-2.3 .7 M549.9 1902.7l-2.4 0-2.4-.3-2.3 .5-2.4-.1-2.3 .7-2.4 .2-1.9-1.6-2.4-.1-2 1.3-2.3-.6-1.4-1.9-1.2-2.1-1.8-1.6-2-1.3-2.4-.1-2.4-.5-1.3-2-2.4 .4-2.3-.3-2.2-1-.8-2.3-.7-2.3 .1-2.4 1.2-2 .6-2.3 1.9-1.5 2.3-.8 1.3-2.1-.1-2.4-1-2.1-1.6-1.8-2.3-.6-2.4 0-2.4 .4-2.3 .7-2.2 .9-1.9 1.5 M310.6 1718.7l-.6-2.4-1.8-1.5-1.9 1.4-2.2 .9-2.4-.2-2.4-.4-2.4 .2-2.4 0-2.2 .9-2.4 .3-2.4 0-2.2 .8-2.3-.7-2.4 0-2.3-.7-2.3-.7-1.8 1.6-1.8 1.6-2.3 .3-2.4-.3-2.3-.7-2.3-.7-1.9-1.5 1-2.1 1.2-2.1 1.7-1.7 1.1-2.1 1.3-2.1 1.5-1.8 .6-2.3-1.7-1.7-2.2-1-2.2-.8-1.9 1.4-2.4-.1-2.2-1-2.4 .2-2.4 .4-2.3-.6-2-1.3-2.4-.6 M241.2 1733.7l-2 1.3-2.3-.8-1.8-1.6-2.4-.1-1.7-1.7-1.2-2.1-1.6-1.7-1.5-1.9-1.7-1.6 .6-2.4 1-2.1 1.2-2.1 2-1.4 2.3-.8 2.3 .7 2.4-.1 2.2 .8 2.4 .3 2.3 .8 2.4 .1 2.3-.5 2.4-.2 2-1.4 2.1-1.2 1.7-1.7 1.6-1.8 1.4-1.9 2.2 1 2.2 .8 2.4 .6 1.9-1.4 1.8-1.6 2.3-.8 1.9-1.5 1.1-2.1 2.2-1 2.2-.9 2.4-.1 2.4-.2 2.4-.3 2.1-1.2 1.5-1.8 1.6-1.8 1.2-2.1 M595.3 1902l-1 2.2 0 2.4 .3 2.3 1.9 1.5 1.8 1.6 1.6 1.8 2.3 .8 2.4-.1 2.3-.4 2.4 0 1.5 1.9 1.5 1.9 2.2 .9 1.7 1.7 1.8 1.6 1.6 1.8 1.5 1.8-.7 2.3-1.3 2-1.4 1.9 .3 2.4 2.4-.3 1.5-1.8 1.5-1.9 2.3-.6 2.3 .6 1.4-2 1.9-1.4 2.1-1.2 2.4-.3 1.7-1.7 2.2-.9 2.4 .6 2.3-.4 1.5 1.9 1.5 1.8 1.3 2.1 1.6 1.7 1.8 1.6 1 2.2 .6 2.3 M221 1881.7l-1.8 1.6-2.3 .7-.3 2.4-.3 2.4 1.4 1.9 1.4 2 2.1 1.2-.6 2.3-1.2 2.1 1.8 1.6 2 1.4 1.9 1.5 2.2-1 2.4 .1 2.4-.1 2.3-.6 2.2 .8 2.4 .3 2.2 1 1 2.2 2.2 1 1.9-1.5 .5-2.3 .7-2.3 .7-2.3 1.1-2.1 1-2.2 1.2-2.1 2-1.4 2.3-.7-.2-2.4-.2-2.4-.9-2.2-.6-2.3 1.3-2.1 2.3-.3 1.7-1.8 1.8-1.5-.8-2.3 1-2.2-1.4-2-.8-2.3-.1-2.4 1.3-2 2.2-.9 2.4 .3 2-1.2 2.3 .7 2.3 .9 2.3 .4 1.9-1.5 2.4 .2 1.2-2.1 1.2-2 .7-2.3 .1-2.4 1.3-2.1 .5-2.3-2-1.3-1.5-1.9 M186.9 2036.5l-2 1.2-2.3 .9-2.2 .7-2.4 .5-2.1-1.3-2.4 0-1.3-2-1.3-2-1.2-2.1-1.8-1.6-1.6-1.8-2-1.4-1.5-1.8-2.4 .3-1.7 1.7-1.8 1.6 .3 2.4 .5 2.3 .9 2.3 .5 2.3-.3 2.4-.9 2.2-1.9 1.5-2.1 1.1-2 1.3 .3 2.4-1.5 1.9-2.4-.3-2.4-.4-2.4 .1-2.3-.7-1.4-1.9-1.4-2-1.3-2-2.2-1.1-2.3 .4-2.4 .6-2.4 .3-2.4 .1-2.1 1-1.2 2.1-1.4 1.9-1.7 1.7-.3 2.4 .7 2.3 1.8 1.6 1.4 2 2.4-.1 2.4 .3 2.2 .9 2.4 .4 1.5 1.9 .1 2.4 .6 2.3 1.1 2.2 2.2 .9 1.9 1.4 1.5 1.9 2.4 .5 2.2 .9 1.3 2 .7 2.3 1.8 1.6 2.2 .8 1.8 1.6 .8 2.3 .1 2.4 .6 2.3-.8 2.2-1.5 2 .4 2.3 M233.1 1811.9l1.7-1.6 1.3-2 1.2-2.1 .7-2.3 .3-2.4 1-2.2 .7-2.3 .4-2.4 1.1-2.1 1.9-1.5 2.1-1.2 2.4-.2 .6-2.4 1.5-1.8 1.7-1.7 2.2-1 2.4-.2 2-1.4 1.4-1.9-1-2.1-1.2-2.1-1.4-2-.8-2.3-.3-2.3 1.6-1.8 .5-2.3-.2-2.4-.4-2.4-.2-2.4 .4-2.3 1.3-2 .6-2.4 1.5-1.8 1.6-1.9 2-1.2 1.4-1.9 2.2-1.1 2.1-1 1.7-1.7 1.5-2 .8-2.2 .5-2.4 .3-2.4 .6-2.3 1-2.2 1.1-2.1 .7-2.3 1.8-1.5 M586.8 1791.5l2.3-.8 2.3-.7 1.8-1.6-.8-2.3-1.4-1.9 .2-2.4 .7-2.3-.3-2.4-.8-2.2-2.4-.3-2.3-.7-1.6-1.8-2-1.4-2.4 .2-1.9 1.3-2.4 .3-2-1.3-1.9-1.5-1-2.2 .1-2.4 1.4-2 1.5-1.8 .2-2.4 .8-2.3 1.5-1.8 1-2.2 1.4-1.9 2.3-.8 2.3-.7 2.2-1 1.9-1.4 1.9-1.5 2.3-.7 2.3-.6 2.3-.7 2.4 0 2.3-.7 2.3-.8 1.7-1.6 2.1-1.3 .3-2.4 1.3-2 .3-2.4 1.3-2 .1-2.4 .5-2.3 1.6-1.8 2.4-.4 2.1-1.1 1.4-2 1.8-1.6 1.1-2.1 2.1-1.2 2.1-1.1 2.4 .2 2.4-.2 1.6 1.8 1.2 2.1 2.4 .4 2.2-1 2.4 0 1.5 1.8 1.5 1.9 1.6 1.8 1.4 2-.4 2.4-.7 2.3 M542.8 1849.8l-2.4-.6-2.3-.5-2.3-.6-2.1-1.2-2.4-.1-2.2 .9-.1 2.4 .6 2.4 .7 2.2 1.8 1.6 1.4 2 1.4 1.9 .9 2.2 2.1 1.2 2.4-.1 2.3 .8 2.4-.1 1.9-1.4 1.8-1.6 2.2-.9 2.2-.9 2.4-.1 1.8-1.6 2.1-1.2 .8-2.3-.7-2.3-.9-2.2-2.3-.6-1.9-1.5-2-1.2-2.3 .9-2.1-1.2-2.4-.5-2.3 .7 M350.9 1855.4l2.3 .4 2.1 1.3 2.2-.9 2.4-.1 0-2.4-.9-2.2-.1-2.4-1.3-2.1 .6-2.3-.3-2.4-.6-2.3-.4-2.4-2-1.1-2.3-1-.8-2.2 .8-2.3 .6-2.3 .7-2.3-.6-2.4-1.2-2-1.5-1.9 .3-2.4 .9-2.2-1.7-1.7-2.3-.9-2.2-.8-1.6-1.8-1.9-1.5-1.6-1.7-1-2.2-.2-2.4-2.4-.1-1.7 1.7-2.3 .2 M412.4 1725.5l-2.4-.1-2.4 0-2.4-.3-1.2-2-2.1-1.2-2.3 .8-2.4-.2-2.4 .1-2.4-.4-2.1-1-2.4 0-2 1.4-1 2.2-.4 2.4-.5 2.3-1.9 1.5-1.5 1.9-.7 2.3-1.8 1.6-1.3 2-1.5 1.9-.9 2.2-.3 2.4 0 2.4 1.2 2.1 1.8 1.5 .3 2.4 1.8 1.6 2.3 .6 2.4 .4-.1 2.4-.6 2.3-.8 2.3-.3 2.4-.1 2.4 1 2.1 .7 2.3 1.1 2.2 1.1 2.1 1.2 2.1 .4 2.3 .9 2.3-.3 2.3 .8 2.3 .5 2.3 .9 2.3 1.6 1.8-.1 2.4-1.2 2-2.2 1-2.1 1.1-2.4-.2-1.9-1.3-1.8-1.6-1.8-1.6-2.4 .5-1.1 2.2-2 1.2-2.1 1.2-2.3 .6-2.4 .2-2 1.4-2.3 .5-2.2 1 M348.7 1941.5l-2.2-1.1-2.4 0-2.2 .9-2.1 1.3-2.2-.7-1.6-1.9-.7-2.2-1-2.3 .5-2.3-1-2.2-2.3-.9-2.3-.5-2.4-.2-2.4-.3-2.4-.1-1.9 1.5-2.1 1.2-2 1.3-2.1-1.1-2.1 1.2-1.1 2.2-1.4 1.9-2.3 .2-1.3-2-.3-2.4-.9-2.2-1.1-2.1-1.5-1.9-2.3-.5-2 1.3-2.4 .1-2.3-.8-2.4 .1 M367.8 1873.6l-1.6 1.8 0 2.4 .5 2.3 1.8 1.7 .8 2.2 .6 2.4-.8 2.2-.4 2.4 .9 2.2-.7 2.3-.6 2.4 .7 2.3 .4 2.3 .1 2.4 1.2 2.1-.3 2.4-.7 2.3 .6 2.3 .6 2.3 1.3 2.1-1 2.1 .1 2.4 1 2.2 .6 2.3-.4 2.4 .6 2.3-1.5 1.8 .3 2.4-.6 2.4 .5 2.3-.3 2.4 .8 2.3 2.1 1.2 .3 2.4 0 2.4-1.8 1.5-2.4-.5-2.2-.9-1.5-1.9 .2-2.4 .2-2.4 1.5-1.9 2.2-1 2-1.2 2.4 .3 1.8-1.7 2.3-.7 1-2.2 .5-2.3-2.3-.9-2-1.3-1.8-1.6-.8-2.2-.9-2.3-1.2-2.1-.3-2.4-1.9-1.4-2.1-1.2 M351.2 2112.1l-1.3 2-1.7 1.7-.7 2.3-.7 2.3-2.4 .5-2.3 .4-2.3 .8-2.1-1.2-2.4-.5-2.3 .3-2.4-.3-2.4 .3-2.3 .5-2.2-.9-2.4-.4-2.3-.8-1.5-1.8-2.4 .2-2.2-1-2.2-1.1-2.2-.9-.6-2.3-1.4-1.9-1-2.2-1.6-1.8-1-2.2-1.6-1.8-2.1-1.2-2.1-1.1-2.3-.6-2.1 1.2-.5 2.4-1.1 2.1 .3 2.4 1.1 2.1 .9 2.2 .5 2.4 .2 2.4 .4 2.3-1.2 2.1-.5 2.4-.2 2.4 .9 2.2 2.4 .4 2.2 1 2.3-.7 2.1-1.2 2.4-.1 M430.6 1842.3l1.1 2.2 1.8 1.6 2.3-.6 1-2.2 1.5-1.9 1-2.2-.7-2.3-.5-2.3-.9-2.2-1-2.2-.8-2.3 .8-2.2 .1-2.4 .9-2.3 2.1-1.2 1.7-1.6 1.7-1.7 2.4-.2 2.4-.3 1.9-1.4 2-1.4 1.9-1.5-.1-2.4-1.5-1.8 1.6-1.8 1.1-2.2 .6-2.3 2.4-.6 2.2-.7 2.4 0 1.5-1.9 1-2.2 1-2.2 .3-2.4 2-1.3 1.6-1.8 1.6-1.7 2.4 .3 1.8 1.6 2.1 1.1 M598.4 1857.1l-.2 2.4-.5 2.4 .3 2.4-1.1 2.1-.9 2.2 .6 2.4-2.3 .8-2.3 .7-2.4 .2-2.2 .8-2.2 1-1.7 1.7-2.4 .1-1.4 1.9-2.1 1.2-1.7 1.7-1.9 1.5-1.4 1.9-1.9 1.6-1.7 1.6-1.6 1.8-1.9 1.4-2.3 .9-2.2-.8-.5-2.4 .3-2.4 .4-2.3 .8-2.3 .8-2.2 2.4-.4 2.1-1.2 2.3-.5 2.4 .3 2.4-.2 2.4 0 2.3-.7 .7-2.3 1.3-2 .5-2.3 .4-2.4-.3-2.4 .6-2.3-.6-2.4 .3-2.3 1.3-2.1 2.3-.4 2.4-.3 M190.1 1759.8l-2.3-.5-2.4 0-2.4-.1-2.4 .3-2.3-.7-.5-2.3 .1-2.4 .6-2.4 2.2-.8 1.6-1.8 1.2-2.1 2.2-1 1.8-1.6 1.8-1.6 2.3-.4 1.4 2 .7 2.2 1.5 1.9 1.9 1.5 2 1.3 1.3 2 0 2.4-1.3 2-.2 2.4-.4 2.4 1 2.2 1.8 1.6 1.5 1.9 2.2 1 .5 2.3 1.5 1.9 2.4-.2 2-1.3 2.3-.7 1.5-1.9 2.1-1.2 2.1-1.1 2.3 .7 2.4-.2 1.8-1.5 2.4-.1 2.4 .6 2.1 1.1 2.2 1 2.4-.3 1.2-2.1 2.4 .1 1.7-1.7 1-2.2-1.2-2.1-2.4 .3-1.1 2.2-1.1 2.1-2.4 .5-2 1.3-2.4 .2-1.7 1.6-1.1 2.2 1.4 1.9 2.3-.7 2.4 .3 1.9 1.5 1.1 2.1 1 2.2 1.3 2 M198.3 1989.4l2.4-.3 2.3-.6 2.1 1.3 1.7 1.6 1.3 2 1.2 2.1-.2 2.4-2.2 .9-2.4 .4-1.6 1.7-2.3 .9-2.3-.2-2.4 .2-2.3 .8-2.3-.7-2.2-.9-1 2.1-.7 2.3-1.4 2-1.7 1.7 .3 2.4-1.1 2.1-.8 2.3-1.5 1.8-1 2.2-1.1 2.2-.2 2.4-1.2 2.1 .1 2.4 .2 2.4 .1 2.4-.4 2.3 1.2 2.1 2.1 1.2 2.3-.7 2.4 .3 2.3 .6 2.2 1 2.3 .5 2.4-.3 1.8-1.6 1.9-1.4 1.7-1.8 1.9-1.4 .1-2.4 1.5-1.9 2.2-.8 2.4 .4 2.3-.6 2.3-.8 2.3 .5 1.6 1.8-.1 2.4 1.4 1.9 1.6 1.8 1.9 1.5 1.9 1.4 1.1 2.1-.5 2.3-.8 2.3-1.7 1.7-1.4 1.9-1.3 2.1 0 2.4-.9 2.2-1.7 1.7-1 2.2-.9 2.2 M475.5 2079.6l-1.6 1.8-.6 2.3-2.3 .6-2.4 0-2.3 .6-2.4 .2-2.1-1.2-2.4 .3-2.3 .6-2.2-.9-2.4-.2-1.9 1.4-2 1.3-2.4-.5-1.8 1.5-2.4 .5-2-1.3-2.4 .2-2.3 .7-2.4 .5-2.1 1-2.2 1-2.4 .2-2.3-.4-2.4 .5-2.3-.7-1-2.2-.2-2.3 1.2-2.2 .6-2.3 .9-2.2-.6-2.3 .2-2.4-.1-2.4-2-1.4-2.3-.6-1.5 1.9-1 2.1 .5 2.4 .9 2.2 .8 2.3 .7 2.3 1.8 1.6 1.1 2.1 2.2 1 2.3 .3 2.4 .4 2 1.4-.6 2.3-1.4 2-2.2 .8-2.4-.5-1.9-1.4-1.2-2.1-.4-2.4-.7-2.3-1.9-1.5-1-2.1-2.2-1.1-2.3-.6-1.9-1.5-2.3-.6-1.7-1.8-2.3-.6 M256.9 1721.8l-1.1-2.1-1.3-2-.2-2.4 .8-2.3 2-1.4 2.4 0 1.6 1.8 2.3 .8 2-1.4 2.2-1 2.4-.1 1.9 1.4 2 1.2 2 1.4 2 1.3 .6 2.4 .5 2.3 .1 2.4-.2 2.4 1.2 2.1 1.5 1.9 1.9 1.4-.4 2.4-1.1 2.1 .8 2.3-.4 2.4-1.9 1.4-1 2.2-1.1 2.1-1.5 1.9-2.1 1.1-2.4 .3-1.7 1.6-2.3 .7-.5 2.4-1.6 1.7-1.2 2.1 .5 2.4 1.5 1.8 1.5 1.9 1.8 1.6 2.3 .3 2.4 .5 2.2-.8 1.8-1.7 1.3-2 .3-2.4-.3-2.3-.8-2.3-.4-2.4-1.8-1.5-1.3-2.1-2-1.3-1.7-1.8-2.4 .1-1.4-1.9-.2-2.4-.6-2.3 .2-2.4 2.2-1 2.3 .6 1.8-1.7 .3-2.3 1.1-2.2 .4-2.3 .3-2.4 1.4-2 1.2-2-.9-2.3-.4-2.3-1.5-1.9 M263.2 1982.9l2.4-.3 2.4-.3 2.2-.9 1.3-1.9 2-1.5 1.5-1.8 .1-2.4 .4-2.4-1-2.2-.3-2.3 1-2.3-.8-2.3-.3-2.3-.1-2.4-1-2.2-1.2-2.1 .8-2.2 2.1-1.2 1.6-1.8 1.9-1.6 2-1.2 1.1-2.2-.3-2.3 .6-2.4 1.7-1.6 1.7-1.7 1.6-1.8 2-1.3 2.4-.4 2.3-.6 2.4-.1 2.1 1.1 2.2 1 2.3-.6 2.4 0 1.5 1.9 1 2.2 M527.1 1950.9l-2.4-.2-2.3-.6-2.4-.3-2.1-1.2-2.4 0-1.6-1.8-1.4-2-1.4-1.9-1-2.1-.4-2.4 1.3-2 1.5-1.9 1.4-1.9-.2-2.4 2-1.3 1.4-2 .9-2.2 .2-2.4 1.1-2.2 1.9-1.4 2.4-.4 2.4 .4 1.7 1.6 2.1 1.1 1 2.2 .1 2.4 .8 2.3 1.5 1.8 .5 2.4 .6 2.3-.8 2.3-2.4 .4-1.6 1.8-2.3 .8 M393.5 2035.4l.2-2.4 1.6-1.8 1-2.2 .4-2.4-.7-2.3-1.5-1.9-1.4-1.9-2-1.3 0-2.4 .8-2.2 2.2-1.1 2.1-1.1 1.9-1.5 2.4-.1 2.2 .9 1.9 1.5 2.3-.7 2.3-.3 2.4-.2 2.1-1.2 2.3-.8 2.4 .3 2.1 1 .8 2.3-.2 2.4 0 2.4 1.6 1.7 1.3 2 .4 2.4-.1 2.4 .8 2.3 .3 2.3 0 2.4-.6 2.4-.7 2.3 .1 2.4 .3 2.3 .3 2.4 .9 2.3-.3 2.3 0 2.4 .1 2.4 0 2.4 0 2.4-1.1 2.2-.4 2.3-.2 2.4 1.3 2 2.4 0 2.3-.7 2.4 .5 2.4 .2 2.3-.6 .7-2.3 .7-2.3 .2-2.4-.4-2.4 1.2-2 1-2.2 2.4-.1 1.3-2 2-1.4 1.9-1.5 2.1-1.2 2.3 .4 2.1-1.2 1.8-1.6 1.1-2.1 2.1-1.2 2.3-.5 2.4-.1 1.5-2 1.5-1.8 .2-2.4 1.3-2 .2-2.4 M540.7 1731.5l-.2 2.4 .2 2.4 .7 2.3 .8 2.3 1.4 1.9 1.6 1.8 2.2 1.1 2.4 .2 1.7-1.7 1.3-2 1.2-2.1 1.5-1.8 2.3-.9 1.9-1.4 1.6-1.8 1.3-2 .9-2.2-1.6-1.8-1.4-2 1.1-2.1 .1-2.4 .7-2.3 1.5-1.9 0-2.4 1.5-1.8 2.3-.9 .5-2.4 .5-2.3 2-1.4 1.9-1.5 M215.1 1963.5l-1.6-1.8-1.6-1.7-1.9-1.6-1.7-1.6-2.1-1.2-1.8-1.6-2.2-1-2.4-.2-2.1 1.1-1.9 1.4-2.1 1.1-1.5 1.9-1.4 2-1.2 2.1-2.3 .6-2.3 .6-2.4 .6-2.3 0-2.1 1.3-1.4 2 0 2.4 1.3 1.9-.4 2.4 .6 2.3 1.9 1.5 2.1 1.2 2.3 .6 2-1.3 1.8-1.6 2.1-1.2 1.6-1.8-.3-2.4-1.2-2.1-.1-2.4 M440.3 1759.7l2.4 .4 1.9-1.3 2.4-.2 1.7-1.8 1.7-1.7 1.1-2.1 .5-2.3-1.3-2-1.7-1.8-.5-2.3 .8-2.3 0-2.4 .7-2.3-.8-2.3-.7-2.3-.2-2.4-1.6-1.8-.7-2.3-1.9-1.4-2.4-.4-2.4 .1-1.3 2.1 .1 2.4 1.6 1.7 2.3 .7 2.4 .2 2 1.3 2.1 1.3 2.2-.9 2.2-.9 2.4 .1 2.4-.3 1.5-1.9 1.7-1.7 1.2-2.1 1.7-1.6 2-1.4 .5-2.3 .9-2.2 .8-2.3-.8-2.2-.1-2.4-1.9-1.5-2.3-.6-2.4-.4-2.4-.2-2.3-.5-1.5 1.8-2.1 1.2-1.2 2.1-.1 2.4-.5 2.3 0 2.4 1.8 1.6 M431.3 1701.6l1.7-1.7 1-2.2 1.5-1.9 2.4 0 2.2 .8 2.3 .7 1.6 1.8 1.5 1.9 2.1 1.1 1.6 1.8 2.4 .3 2.2 1 2.4 .3 2.4-.3 2.2-1 2.4 0 2.1 1 2.3 .9 2.2 .9 1.8-1.6 2.3-.5 2.2-.9 1-2.2 2-1.4 2.3-.7 2.4 0 1.8 1.5 .7 2.3 1.3 2.1 2.3 .5 2.4-.1 1.6-1.8-.5-2.4-.4-2.3-1.4-2.1-.6-2.3-1.7-1.7-2.3-.3-2.3-.8-1-2.2-2.3-.7-1.3-2-1.1-2.1 .4-2.4 .8-2.3 .6-2.3 1.5-1.9-1.3-2-1-2.1-1.8-1.7-1.4-2-.9-2.2-.5-2.3-.1-2.4 M574.5 1694.8l-1.9 1.6-.4 2.3-1.9 1.5-1 2.2-1 2.2-2.2 1-2.4 .2-2.4-.2-2-1.4-2.3-.4-2.1-1.2-2.2-1.1-2.3 .7-2.3 .4-2.4-.5-2.4-.1-1.7-1.6-1.5-1.9-.8-2.3-.2-2.4-2.2-.9-2.4-.3-2.4 .3-2.4 .2-1 2.2-1.7 1.6-1 2.2-1.2 2.1-2.2 1-2.1 1.2-1.8 1.6-2.1 1.1-2.3 .9-1.7 1.7-1.2 2.1-1.8 1.6 .3 2.3 1.3 2.1 1.8 1.5 2 1.3 2.4 .6 2.3 .6 2.3 .5 2.4 .5 2.2 .9 1.4 1.9 .8 2.3 1.8 1.6 .6 2.3-.9 2.2-.9 2.3 1 2.1 .7 2.3 .7 2.3 1.8 1.6 .2 2.4 1 2.2-.2 2.3 1.5 1.9 1.8 1.6 1.7 1.7 1.5 1.9 1.6 1.8 1.9 1.4 2 1.3 .8 2.2-1.2 2.1-.7 2.3-1.4 1.9-2 1.4-1.6 1.8-2.1 1.2-2 1.3-2.1 1.1-1.8 1.6-1.9 1.5-1.8 1.6-1.3 2 .9 2.2 .7 2.3 M601.4 1971.7l-2.3-.5-2.4-.1-.8 2.2 .7 2.3-.3 2.4-1.8 1.6-.6 2.3-1.7 1.7-1.5 1.9-1.4 1.9-1.8 1.6-1.9 1.5-1.9 1.4-1 2.2-2.4 .1-2.4 .6-2.3 .4-2.4 .4-2.3 .7-.2 2.4-.2 2.4-.2 2.4-.5 2.4-1.2 2-.9 2.3-1.3 2 .2 2.3 .4 2.4 1.2 2.1 1.4 2 2.1 1 2.2 1 2.1 1.1 2.4 .4 2.2 1 2.3 .5 .4 2.3 1.1 2.1 1.2 2.2 1.1 2.1 .8 2.3-1.4 2-1.7 1.6 M214.5 1834.7l-1.8-1.6-2.4-.1-2 1.4-2.3 .4-2.4-.5-2.4-.3-1.9-1.3-2.2-1-1.6-1.8-2.4-.5-2.3-.6-2.2-1-1.8-1.5-2.4-.5-.6-2.3-1.2-2.1-1.7-1.6-1.3-2.1-1.6-1.7-1.6-1.9-.5-2.3 1.2-2.1 2.3-.7 2.3-.6 2.4 .5 2.3 .4 1.8 1.7 2.3 .4 2.4 .2 1.9-1.4 2.4-.7 2.3-.7 2.3 .4 2.4 .2 2.1 1.2 2.2 .9 2.3 .7 1.5 1.9 .3 2.4-1.3 2.1-1.1 2.1-1.7 1.7-2.3 .9-2.1 1.1-2.4-.1-2.3-.3-2.4-.3-2.3 .9-2.3 .3-2.4 .1-1.6 1.9-1.1 2.1-.2 2.4 0 2.4 .9 2.2 1.4 2-.3 2.4 1.1 2.1 .6 2.3 1.1 2.2 1.9 1.5 2.3 .6 2.4 .1 2.4 .2 2.2-.9 2-1.4 .7-2.3-.2-2.3 1-2.2 1.4-2 1.8-1.6 2-1.3 1.7-1.7-1-2.1-1.9-1.5-2.4 .2" fill="none" stroke="#c0642c" stroke-width="1.3" stroke-linecap="round" stroke-linejoin="round" stroke-dasharray="2 1.2" opacity="0.7"/>
<path d="M557.6 1857.4l-.1 2.9-1.5 2-2 .3-1.5-.8-1.9 .2-1.7-1.7 .3-2.9 .5-2.3 1-2 1.5-1.5 2-.5 1.2 2.5 .7 1.9Z M491.2 2035.7l-1.5 1.3-.7 1.3-1.4 .2-1.1-.4-1.9 .7-.5-1.6 .2-1.5-.7-1.8 1.5-.7 1.2-.5 1.4-.4 .7 1.5 1.6 .3Z M179.3 1897l1.6 1.8-1.9 1.4-2.5 1-2.9-.1-1-2.1-2.2-.6-1.9-1.4 1.6-1.5 .9-1.8 2.7-.5 2.5 .5 3-.1 .3 2Z M563.1 1916.4l1.6 2.8-2.2 1.6-2.2 .2-2 .8-.8-2.8-1.8-.7-2.4-1.9 2-2.2 .9-2.3 2.1-.8 1.8 1.9 2.3-.9 1.1 2.1Z M286.9 1895.4l-.8 1.7-1.5 1.4-1.8 1.8-3-.8-1.5-1.6-1.5-1-.4-1.5-1-1.9 1.3-2 3.3 .3 2.4 0 2.2 .7 .9 1.5Z M469.5 1935.7l.7 1.8-.2 2.7-2.9 .3-2.6 .4-1.5-2.2 .2-1.9-3.2-1.1 .4-2.3 2.1-1.3 1.9-1.7 2.5 1.4 2 .6 2.1 1.1Z M255.1 1896.3l.7 1.9-1.1 1.5-1.6 .5-1.5-.4-1-1.2-1.5-.6-.8-1.7 1.1-1.6 .8-1.4 1.3-.8 1.6-.1 1.5 .5 .4 1.9Z M495.4 1730.9l0 1.7-.3 2.4-3.5-.7-1.8-1.4-2.4 .7-1.5-1.1-1.3-1.6 .3-1.9 3.1-.3 1.3-1.4 2.5-.6 1.1 2.1 1.6 .7Z M475.1 1779.5l-.3 2.8-1.5 2.1-2.2-.9-1.4 0-2.1 .7-.6-2.5-.1-2.2-.1-2.4 1-2.1 1.5-2.1 2 1.3 .5 3 1.6 .3Z M241 2005.2l.5 2.7-2.4 1-2.2-.8-1.6 1.9-1.9-1-1.3-1.7-1.5-2.1 2-1.9 1-1.7 1.6-1.7 1.8 1.9 1.9 0 2.1 1Z M420.8 1905.6l1.5 2.2-3.6 .6-2.7-1-1.7 1.4-2-.6-2.1-.9-1.7-1.7 2.9-1.2 .7-1.5 1.9-1.3 2.1 1.8 2 0 2.1 .7Z M301.5 1793l-.3 2.6-1.3 2.2-2.3-.2-1.8-.1-2-.2-.6-2.3-.5-2-.3-2.4 1.3-2 1.8-1.7 2.2 1.2 .9 2.2 1.7 .7Z M354.2 2019.1l-1.9 1.3 .4 2.3-2.4 1-2.4-1.1-1.9-.7 .2-1.8-1.7-1-2.2-2.4 3.1-.9 2.4-.2 2.2 0 1.1 1.4 2.7 .3Z M607.6 2035.8l-1.4 1.8-.6 1.7-1.6-.6-1.1 .8-2 .8-.2-2.6-.6-1.9 0-2.3 1.8-.4 .9-1.5 1.4 .3 .8 1.4 2.4 0Z M533.2 1869.7l-1.6 1.9-1.8 1.2-1.7 1.4-2.3-.1-2.1-.9-1.4-1.5-.4-2-.2-2.2 1.6-1.8 2.6 .1 2 0 2.2 .4 2 1.3Z M513.3 1705l.5 1.8-1.7 .8-1.6-.2-1.7 2.1-1.9-1-.5-1.9-.6-1.6 1.8-1.1 .1-1.6 1.1-2.1 1.9 1.5 1.7 .3 1.5 1.1Z M279.2 1768.2l-.6 1.6-1.5 .8-1.2 .7-1.4-.4-1-.6-1.1-.8-.4-1.3-.4-1.7 1-1.5 1.9 .4 1.2 .4 1.1 .4 1.1 .6Z M430.8 2045.9l-.1 2.2-1.8 1.4-1.9 1-2.1-.5-1.7-.9-2.6-.8-.5-2.4 1.5-2 1.5-1.3 1.9-.5 2-.8 2.6 .3 .7 2.3Z M404 1790.8l.5 1.7-.8 1.8-2.3-.3-1.5-.2-1.7-.2-1.2-1.2-.6-1.6 1-1.4 1.2-1 1-1.7 2 0 1.3 1.5 .8 1.2Z M549.3 1966l-.2 1.8-.3 2.6-2.4-.4-1.8 .7-2.4-.1-.2-2.7-1-1.9 .9-2 1.7-.7 .8-2.9 2.3 .2 1.4 1.9 1.9 1.2Z M177.9 1835.2l-.2 1.9-1.4 1.6-2.6-.5-2 1.4-2.2-.9-.9-1.8-2.6-1.7 1.9-2 2.4-.7 1.5-1.5 2 1 2.4-.2 3.1 .8Z M344.1 1734.5l.8 2-.2 2.9-2.5-.3-2.1 .7-1.3-1.8-.2-2.1-2.5-1.4 1-2.3 1.8-1 1.2-2.4 2 1.2 1.8 .7 1.7 1.4Z M200.5 1932.2l-.7 2.3-.5 2.7-1.7 .7-1.7-.2-1.6-.7 .3-3.2-.3-1.6-1.3-2.8 1-2.4 1.7-1.7 1.8 1.6 .5 2.9 1.6 .3Z M353 2096.9l-1.3 1.2-1 1.1-2.2-.7-1.4 1.1-3 .6-.4-1.9-.8-1.4 1.2-1.3 2.1-.2 .7-1.6 2 .3 1.5 .7 3.1 .3Z M462.7 1796.8l.9 1.7-1.6 1.3-2.7-.5-1.8 .6-1.8-.7-1.3-1-2-1.4 1.9-1.5 1.6-.9 1.4-1.3 2.1 .8 2 .3 1.7 1Z M202.1 2059.9l.2 1.9-.5 2.2-1.8-.2-1.3-.2-1.3-.6-1.1-1.2-1.3-1.9 1.2-1.9 1.6-.5 .8-1.5 1.5-.4 1.5 .6 1 1.7Z M265.7 1929.5l2 2.3-4 .3-2.2 0-2.1 1.4-2.2-1-2.9-.9 .2-2.1 3.5-.9-.8-2.1 2-1.6 2.6 1.1 2.7 .2 .3 1.9Z M491.4 1852.7l0 1.5-1.5 .8-1.4 .8-1.8 .1-1.8-.5-1.8-1 .8-1.7 1.1-1.1 .3-1.3 1.3-1 2.1-.4 1.7 .9 .2 1.7Z M565.5 1761.6l-.8 1.6-1.4 .6-.5 3.1-2.3-.3-.7-2.6-1.3-.8 .2-1.6-.6-1.7 .2-2.7 2.6 1.1 1.4 0 2.1-.4 .2 2.2Z M393 1800.8l1.4 1.8-1.5 1.7-3.2-.3-2.3 0-2.1-.7-1.8-1-1.8-1.5 2-1.5 1.7-1 1.7-1.6 2.7 .4 2.2 .8 1.3 1.4Z M542.1 2038.1l-.2 1.4-.6 1.4-1.4 .2-1.3-.1-1.7 .1-1-1.3 .2-1.7 .7-1.2 .9-.7 .7-1.5 1.7-.7 1.2 1.4 .6 1.4Z M536.1 1751.7l0 2.8-2.8 .2-1.4 0-1.6 2.4-1.8-1.1-1.5-1.8-.3-2.5 1.7-1.8 .2-2.5 1.7-1.1 1.7 1.8 1.8-.3 1.6 1.4Z M331.8 2062.6l-.2 2.2-1.1 1.8-1.8-.9-1.3 1.6-1.8-.4-.3-2.4-1.3-1.9 .9-2.1 1.4-1.1 1-2.2 1.5 1.5 1.2 .8 2.1 .5Z M409.3 1969.2l.7 2.3-1.1 2.2-2.4-.5-1.9 1.1-1.3-1.9 .2-2.1-2.2-1.1 .1-2.3 1.2-1.9 1.8-1.8 1.9 2.7 1.1 .8 2.2 .4Z M410.8 2082.2l-2 1.1-.2 1.5-1.5 1.2-2.4 1-2.4-1 .2-2.4-1-1.4-.2-1.8 2.1-.8 1.6-.9 2.1-.1 2.2 .3 2.8 1Z M356.8 1833l-.7 1.3 .2 2.3-1.6 .6-1.6-.5-1.4-.6 .1-2-.8-1.1-.7-2.1 1.5-.9 1.3-1.1 1.5 .1 .9 1.5 1.4 .7Z M381.2 1790.4l-1.5 1.8-1.4 1.5-2.5 .5-2-1.2-3.1 1-2.8-1.2 1.1-2.4 .6-1.7 2.3-.7 1.7-.9 2.6-1.7 1.9 1.9 1 1.6Z M264.5 2057.2l-1.9 1.6-2.2 .7-1.3 1.5-2.2-.7-2.1-.3-1.9-1.1 1.2-1.7-1.1-1.7 1-1.9 3 .5 2-.3 1.6 .9 1.2 1.1Z M318.9 2071.1l-.8 1.5-1.4 1-1.7 .8-1.8-.8-1.5-.4-2.1-.5-.4-1.6 .2-1.6 1.9-.9 2 .2 1.6-.7 1.8 .5 1.1 1.2Z M507.5 1808.7l.2 1.6-1.1 .9-.8 1.5-1.4 .7-.7-2.3-.8-1-.6-1.4 .7-1.4 .2-2 1.3-.3 1.2 .6 1.6-.5 .5 1.9Z M234.3 1701.6l-1.4 1.3-1 .7-.7 1.9-1.6-.4-1.3-.6-1.2-1.2 .5-1.7-.3-1.7 .9-1.3 1.6 .4 1.3-.9 1.5 .3 .9 1.5Z M209.3 1998.7l-.3 1.1-.9 .7-.9 .5-1.6 2-1.5-1.2 .2-2-.7-1.1 .9-1 .3-1.2 1-1.4 1.4 1.1 1.6-.1 1.5 .9Z M198.3 1717.1l.2 1.7-1.1 1.5-1.9 .2-1.4-1-1.5 0-1.9-.6 0-1.8 .8-1.5 1.1-1 1.3-.8 1.7-.7 1.3 1.3 .3 1.5Z M534.3 1941.3l-.9 1.4-.5 1.5-1.8-.4-1.1 0-2.2 1.1-.4-2 .2-1.6 .1-1.4 1.4-.5 .7-1.7 1.7-.3 .6 2 1.5 .4Z M575.5 1815.6l-.6 1.1-.2 1.5-.9 .6-1.2 1.5-1.3-.8 .1-2.5-.4-1.4 .3-1.5 .8-.8 .6-1.8 1.2 .2 1.1 .6 1.3 1Z M201.4 1773.2l-.1 1.6-.7 1.7-1.4 0-1.1-.4-1.4 .1-.5-1.5 .1-1.5-.2-1.5 .7-1.3 1-1.4 1.5 .2 .5 2 .8 .7Z M397.1 1875l.1 1.6-1 1-.9 1.1-1.2 .1-1-1-1.4-.9 0-1.9 1.1-1.3 .4-1.3 .9-.8 1.3-.6 1.5 .2 .2 2.2Z M363.4 1945.5l.3 1.4-.7 1.5-1.6 1.4-1.9-1.6-.9-.9-1.8-.4 .2-1.4-.1-1.4 .7-1.5 1.8-.2 1.9-.8 1.4 1.3-.5 1.8Z M243.3 2118.8l-1.2 1.2-.3 1.5-1.1 1-1.3-.2-1.7 .1 0-2.2 .7-1.4-1-1.6 .7-1.4 1.2-1.1 1.5-.2 .6 2.2 1 .7Z M594.3 2100.5l-1.6 1.1 .3 1.9-2.7 0-1.6-1.3-1.9 .3-1.3-.8-2.1-1.2-.3-1.9 4.1 .3 1.4-.2 1.7-1 1.5 .8 2.4 .5Z M470.7 1967.7l.7 1.8-.5 2-1.4 1-1.3-1.5-.6-1.3-1.3-.4-.4-1.6 .4-1.6 .7-1.5 1.1-.7 1.4-.6 1.1 1.1-.3 2.2Z M571.7 1975.2l-.1 1.9-1.4 .9-1 1.1-1.4 0-1-1.1-.9-1.1 .3-1.7-.1-1.4 .1-2.3 1.6-.4 1.4 .5 1 1 .4 1.4Z M416.2 1691.5l.3 2.4-1.5 1.1-1.1 1.7-1.4-.9-1.1-1-2.7-.1 .5-3.2 1.7-1.7 .4-1.7 1.3-.5 1.4-2 2.1 .3-.5 3.8Z M446.6 2120.9l-1.4 1.8-1.5 .1-.3 2.8-1.5 .3-1.7-.3-1.1-2.1 1.9-2.6-.3-1.5-.2-2.7 1.5-.2 1.5-1.1 1.2 1.6 .3 2.1Z M231.9 1812.1l-2.7 1.3-1.1 1.3-1.8 1-2.6 0-2.6-.4 0-2-.1-1.2-2.1-1.9 2-1.4 2.9-.1 2.3 .4 1.3 1.1 3 .2Z M304.5 1741l-.7 1.6-1 1.2-1.2 1.5-1.7-.7-.7-1.6-.7-.8-1.1-1.2-.8-2.1 1.2-1.8 2.3 .9 1.1 .6 1.3-.1 1.2 .9Z M301 1919.9l-1.1 1.7 .3 3.5-1.9 1.1-1.6-2.2-1.5-.4-.2-2.1-1-1.6-1.3-3.1 2.3-.9 1.6-.6 1.6-.8 .9 2.2 1.5 1Z M363.2 1992.5l.3 1.4-1.9 .6-1.3 1.1-1.9-.2-1.5-.7-2.4-.5 .7-1.7 1.5-1 .1-1.3 1.7-.6 1.9-.6 2.2 .5-.2 1.9Z M329.8 1833.2l0 2.3-1.8 .8-1.1 .5-1.3 1-1.7-.4-1.2-1.8 .7-2.4 .9-1.3 0-2.3 1.2-1.5 1.6 .4 1.2 1.2 .6 1.8Z M340.5 1899l-.3 1.4-1.1 1-1.1 1-1.8 .6-1.2-1.3-.8-1.3-.4-1.4 .4-1.5 .6-1.5 1.6-.6 1.5 .4 1.6 .2 1 1.3Z" fill="none" stroke="#bc6a2e" stroke-width="1.3" stroke-linejoin="round" opacity="0.75"/>
</g>
<clipPath id="clip1"><rect x="613.6" y="1687.5" width="434" height="433.5"/></clipPath>
<g clip-path="url(#clip1)">
<rect x="613.6" y="1687.5" width="434" height="433.5" fill="#48150c"/>
<rect x="613.6" y="1687.5" width="434" height="433.5" fill="#000" filter="url(#grain)"/>
<rect x="613.6" y="1687.5" width="434" height="1.5" fill="#140302" opacity="0.1"/>
<rect x="613.6" y="1692.3" width="434" height="2.2" fill="#6a2414" opacity="0.1"/>
<rect x="613.6" y="1694.5" width="434" height="3.1" fill="#6a2414" opacity="0.1"/>
<rect x="613.6" y="1697.6" width="434" height="1.3" fill="#140302" opacity="0.1"/>
<rect x="613.6" y="1700" width="434" height="3.5" fill="#6a2414" opacity="0.1"/>
<rect x="613.6" y="1703.5" width="434" height="2.1" fill="#6a2414" opacity="0.1"/>
<rect x="613.6" y="1705.6" width="434" height="2.3" fill="#140302" opacity="0.1"/>
<rect x="613.6" y="1707.9" width="434" height="1.2" fill="#140302" opacity="0.1"/>
<rect x="613.6" y="1709.2" width="434" height="2.2" fill="#140302" opacity="0.1"/>
<rect x="613.6" y="1716" width="434" height="2.6" fill="#140302" opacity="0.1"/>
<rect x="613.6" y="1718.6" width="434" height="2.7" fill="#140302" opacity="0.1"/>
<rect x="613.6" y="1721.3" width="434" height="1.1" fill="#6a2414" opacity="0.1"/>
<rect x="613.6" y="1724.6" width="434" height="1.1" fill="#6a2414" opacity="0.1"/>
<rect x="613.6" y="1736.5" width="434" height="2.4" fill="#140302" opacity="0.1"/>
<rect x="613.6" y="1745.1" width="434" height="3.1" fill="#6a2414" opacity="0.1"/>
<rect x="613.6" y="1748.2" width="434" height="3.5" fill="#6a2414" opacity="0.1"/>
<rect x="613.6" y="1751.7" width="434" height="2.1" fill="#140302" opacity="0.1"/>
<rect x="613.6" y="1753.8" width="434" height="3.4" fill="#140302" opacity="0.1"/>
<rect x="613.6" y="1760" width="434" height="3.7" fill="#6a2414" opacity="0.1"/>
<rect x="613.6" y="1766.1" width="434" height="3.7" fill="#140302" opacity="0.1"/>
<rect x="613.6" y="1771.7" width="434" height="3.2" fill="#140302" opacity="0.1"/>
<rect x="613.6" y="1774.9" width="434" height="1" fill="#140302" opacity="0.1"/>
<rect x="613.6" y="1775.9" width="434" height="3.8" fill="#6a2414" opacity="0.1"/>
<rect x="613.6" y="1779.8" width="434" height="1.5" fill="#6a2414" opacity="0.1"/>
<rect x="613.6" y="1785.2" width="434" height="2.3" fill="#140302" opacity="0.1"/>
<rect x="613.6" y="1793.4" width="434" height="1.9" fill="#140302" opacity="0.1"/>
<rect x="613.6" y="1808.8" width="434" height="3.6" fill="#140302" opacity="0.1"/>
<rect x="613.6" y="1815.4" width="434" height="2.7" fill="#6a2414" opacity="0.1"/>
<rect x="613.6" y="1818.1" width="434" height="3.2" fill="#6a2414" opacity="0.1"/>
<rect x="613.6" y="1831.2" width="434" height="3.8" fill="#6a2414" opacity="0.1"/>
<rect x="613.6" y="1836.4" width="434" height="2.3" fill="#6a2414" opacity="0.1"/>
<rect x="613.6" y="1838.7" width="434" height="3.5" fill="#140302" opacity="0.2"/>
<rect x="613.6" y="1842.2" width="434" height="1.4" fill="#6a2414" opacity="0.1"/>
<rect x="613.6" y="1843.6" width="434" height="1.2" fill="#140302" opacity="0.1"/>
<rect x="613.6" y="1844.8" width="434" height="1.1" fill="#140302" opacity="0.1"/>
<rect x="613.6" y="1853.3" width="434" height="1.7" fill="#6a2414" opacity="0.1"/>
<rect x="613.6" y="1861.1" width="434" height="2.2" fill="#6a2414" opacity="0.1"/>
<rect x="613.6" y="1866.2" width="434" height="3.8" fill="#140302" opacity="0.1"/>
<rect x="613.6" y="1869.9" width="434" height="1.3" fill="#6a2414" opacity="0.1"/>
<rect x="613.6" y="1871.2" width="434" height="1.7" fill="#6a2414" opacity="0.1"/>
<rect x="613.6" y="1872.9" width="434" height="2.4" fill="#6a2414" opacity="0.1"/>
<rect x="613.6" y="1875.3" width="434" height="3.9" fill="#140302" opacity="0.1"/>
<rect x="613.6" y="1879.3" width="434" height="1.5" fill="#140302" opacity="0.2"/>
<rect x="613.6" y="1884.2" width="434" height="4" fill="#140302" opacity="0.1"/>
<rect x="613.6" y="1889.7" width="434" height="3.4" fill="#6a2414" opacity="0.1"/>
<rect x="613.6" y="1898.7" width="434" height="2.7" fill="#6a2414" opacity="0.1"/>
<rect x="613.6" y="1907.6" width="434" height="3.2" fill="#140302" opacity="0.1"/>
<rect x="613.6" y="1920.4" width="434" height="2.5" fill="#6a2414" opacity="0.1"/>
<rect x="613.6" y="1925" width="434" height="3.9" fill="#6a2414" opacity="0.1"/>
<rect x="613.6" y="1928.9" width="434" height="1" fill="#140302" opacity="0.1"/>
<rect x="613.6" y="1929.9" width="434" height="2.5" fill="#140302" opacity="0.1"/>
<rect x="613.6" y="1935.1" width="434" height="3.9" fill="#6a2414" opacity="0.1"/>
<rect x="613.6" y="1942.9" width="434" height="3.4" fill="#6a2414" opacity="0.1"/>
<rect x="613.6" y="1946.2" width="434" height="1.1" fill="#140302" opacity="0.1"/>
<rect x="613.6" y="1947.3" width="434" height="1.1" fill="#140302" opacity="0.2"/>
<rect x="613.6" y="1948.4" width="434" height="2" fill="#140302" opacity="0.1"/>
<rect x="613.6" y="1952" width="434" height="2.1" fill="#6a2414" opacity="0.1"/>
<rect x="613.6" y="1955.8" width="434" height="1.2" fill="#140302" opacity="0.1"/>
<rect x="613.6" y="1957" width="434" height="3.8" fill="#6a2414" opacity="0.1"/>
<rect x="613.6" y="1960.9" width="434" height="2.1" fill="#140302" opacity="0.1"/>
<rect x="613.6" y="1973.7" width="434" height="2.6" fill="#140302" opacity="0.1"/>
<rect x="613.6" y="1979.6" width="434" height="1.1" fill="#140302" opacity="0.1"/>
<rect x="613.6" y="1980.6" width="434" height="3.5" fill="#140302" opacity="0.1"/>
<rect x="613.6" y="1994.9" width="434" height="1.9" fill="#6a2414" opacity="0.1"/>
<rect x="613.6" y="1996.7" width="434" height="3.5" fill="#140302" opacity="0.2"/>
<rect x="613.6" y="2012.4" width="434" height="3.7" fill="#140302" opacity="0.2"/>
<rect x="613.6" y="2021.3" width="434" height="3.3" fill="#140302" opacity="0.1"/>
<rect x="613.6" y="2026.7" width="434" height="1.4" fill="#140302" opacity="0.1"/>
<rect x="613.6" y="2028" width="434" height="1.1" fill="#140302" opacity="0.1"/>
<rect x="613.6" y="2031.9" width="434" height="1.2" fill="#140302" opacity="0.1"/>
<rect x="613.6" y="2033.1" width="434" height="2.8" fill="#6a2414" opacity="0.1"/>
<rect x="613.6" y="2038" width="434" height="2.4" fill="#140302" opacity="0.1"/>
<rect x="613.6" y="2042.8" width="434" height="3.8" fill="#140302" opacity="0.1"/>
<rect x="613.6" y="2046.6" width="434" height="2" fill="#6a2414" opacity="0.1"/>
<rect x="613.6" y="2054.7" width="434" height="3.6" fill="#140302" opacity="0.1"/>
<rect x="613.6" y="2067.7" width="434" height="3.4" fill="#140302" opacity="0.1"/>
<rect x="613.6" y="2071" width="434" height="3.6" fill="#6a2414" opacity="0.1"/>
<rect x="613.6" y="2083.5" width="434" height="3.5" fill="#140302" opacity="0.1"/>
<rect x="613.6" y="2087" width="434" height="1.5" fill="#140302" opacity="0.1"/>
<rect x="613.6" y="2094.4" width="434" height="2.4" fill="#140302" opacity="0.1"/>
<rect x="613.6" y="2097.9" width="434" height="3.4" fill="#140302" opacity="0.2"/>
<rect x="613.6" y="2102.3" width="434" height="1.9" fill="#6a2414" opacity="0.1"/>
<rect x="613.6" y="2118.2" width="434" height="3.5" fill="#6a2414" opacity="0.1"/>
<rect x="605.5" y="2002.9" width="67.5" height="1.5" fill="#0a0101" opacity="0.45"/>
<rect x="677.6" y="1846.3" width="119.4" height="2.9" fill="#0a0101" opacity="0.45"/>
<rect x="821.7" y="1804" width="47.8" height="2.7" fill="#0a0101" opacity="0.45"/>
<path d="M739.6 1719.7l2.4 .1 2.2 .9 2.4-.1 2.4 .3 2.3-.7 2.4-.2 2.3-.3 2.4-.3 1.9 1.4 1.5 1.9 .9 2.2-.8 2.3 .6 2.3 2.1 1.2 2.4 .1 2.4-.2 2.4 .2 2.2-.8 2.3-.8 2.3-.5 2.4-.1 2.4-.3 1.9-1.5 1.1-2.2 .5-2.3-1.3-2-2.4-.3-.8 2.2 .2 2.4-1.2 2.1-.8 2.3-1.7 1.6-1.4 2-1.4 2-2.1 1.1-2.4 .1-1.7-1.7-1.2-2.1-2.2-.9-2.4 .2-.9-2.3-1.7-1.7-2.4-.5-2.2 .8-2.3 .8-2.3 .6-2.1 1.2-2 1.3-1.7 1.7-2.3 .8-1 2.1-2.4 .3-2.2-1-1.9-1.4-.5-2.4 M705.5 2049.8l2.2-.9 2.3-.5 2.4 .2 1.6 1.9 .8 2.2 2.3 .6 2.2 1 1.7 1.7 .9 2.2-1.1 2.2-.6 2.3-1 2.2 .2 2.4 1.1 2.1 .9 2.2 .7 2.3 1.4 2 1.3 2-.3 2.4-1.3 2-1.4 2-.8 2.2 .3 2.4-.4 2.4-2.2 1-1.7 1.7-1.4 2-.6 2.3 .6 2.3 .4 2.4-1.5 1.8-2.4 0-2 1.4-1.9 1.4 .4 2.4 1.6 1.8 2.4 .4 2 1.2 1.5 1.9 0 2.4 .6 2.3 1.7 1.8 .8 2.2 1.4 2 1 2.2 2.2-.8 2.4-.3 2.4-.5 2.2-1 1.9-1.4 1.6-1.7 2.4 .1 2.4-.5 2.2-.9 2.4 .4 1.4 2 M1019 2056.6l2.3-.6 2.4 .3 1.2 2.1 2.2 .9 .6 2.4 .7 2.2-1.7 1.8-1.8 1.5-2.4 .3-2.2 1-2.4 .2-2.4-.1-2.3 .6-2.4 .1-2.2 1.1-1.5 1.9-2.3-.6-1.4-1.9-1.6-1.8-1-2.2-1.6-1.8-.9-2.2 1-2.2 .3-2.3-.7-2.3 .6-2.4 0-2.4-.5-2.3-1-2.2-.8-2.2-2.4-.4-1.9-1.5-2.4-.2-1.7-1.6-2-1.4-2.4-.6-2.3 .2-1.5 1.9-2.3 .6-2.4 .4-2.3-.8-1.3-2-1.9-1.5-.9-2.3 1.2-2.1-.3-2.3-.1-2.4 .7-2.3 1.3-2.1 2.3-.4 2.4-.2 2.4-.5 1.4-1.9 2.3-.7 2.4 .5 2.4-.1 2.3-.4 2.1-1.3 M773.6 1915.2l-2.3-.8-.4-2.4 .1-2.4-1.4-1.9-.6-2.3-1.9-1.6-2.4-.2-1.4-1.9-2.1-1.2-1.3-2-1.3-2-.4-2.4-2.1-1.2-2.4 .4-2 1.3-.6 2.3-1.8 1.7-2.3 .6-1.2 2.1-2.1 1.1-1.6 1.9-2.4-.1-2.2 .9-1.8 1.6-.5 2.4-1.3 2-1.8 1.6-2.3 .7-1.9 1.5-1.8 1.6-2.2 .8-2.2 1-2.3 .7-2.4 0-2.4 .3-2.4-.2-1.6-1.7-2-1.4-2.2-1.1-1.1-2.1-1.4-2-.3-2.4-2.4-.2-2.1-1.2-2.4-.3-2.2 .9-2.1 1.2-1.6 1.8-1.5 1.8-.4 2.4-.7 2.3 0 2.4-.8 2.3 .2 2.4 .3 2.3 .4 2.4 .7 2.3-.5 2.4 .3 2.3 .6 2.4-1.6 1.8-2.1 1.1-2.3 .6-1.5 2-2.3 .5-1.5 1.8-2.4 .4-2.2-1-.6-2.3-.3-2.4-.4-2.3 .1-2.4 M623.5 1937.5l-.9-2.2-2.1-1.1-1.6-1.8-2.3-.9-2.2-.8-2.3-.8-2.4 .3-2.3-.7 .7-2.3-.3-2.4-1.1-2.1-1.9-1.6-.9-2.2-1.1-2.1 0-2.4 1.9-1.5 .6-2.3 1.4-2 1.7-1.7 2.3-.8 2.3 .6 2.3 .6 2.3 .8 2.3 .5 2 1.4 1.9 1.4 2.1 1.1 2.3-.7 1.6-1.9 1.8-1.5 2.3 .5 2 1.3 1.6 1.9 1.1 2.1 1.8 1.6 1.8 1.5 .5 2.4-.3 2.3 .6 2.3-.1 2.4 .1 2.4-.3 2.4-1.6 1.8-1.4 1.9-2.3 .6-1.3 2-.5 2.4 1.3 2 .9 2.2-1.7 1.7-2.3-.4-2.1-1.3-1.9-1.5-2.4 .1-2.1-1.2-2.3 .8-1.6 1.7-2.3 .9-.9 2.2-1.3 2-2.4-.4-1.3 2.1-.6 2.3 .1 2.4 .8 2.3-.4 2.3 .3 2.4-.5 2.3-2.1 1.2-.9 2.2-.2 2.4 .3 2.4 .1 2.4 .5 2.4 .1 2.4 1.5 1.7 .7 2.4 M1045.9 2094.5l-1.8 1.5-2.4 .1-2.4 .5-2.3 .7-1.6 1.7-.4 2.4 1.4 2 0 2.4 .2 2.4-.4 2.3-.9 2.3-1.3 2-1.8 1.6-.7 2.3-.5 2.3-1.4 2-1.8 1.6-1.5 1.8-1.5 1.9-.5 2.4-.1 2.4 1.7 1.7 2.1 1.1 1.2 2.1 1.7 1.7 2.2 1 .4 2.3 1.4 2 1.1 2.1 2.2 1.1 2.3 .6 2.4 .4 2 1.3 2.3 .7 2.3 .3 1.9 1.5 2.2 1 2 1.2 2.3 .8 2.4-.3 1.8-1.5 1.4-2 1.9-1.5 2-1.4-.3-2.3-1.9-1.6-1.4-1.9-1.1-2.1 .3-2.4 0-2.4 .1-2.4-1.5-1.8-1.9-1.6-.3-2.4-2.1-1-2.1-1.1-.1-2.4 .8-2.3 .6-2.3 .4-2.4 .6-2.3 .3-2.4-.4-2.4-2-1.2-1.6-1.8 .1-2.4-1.2-2.1-1.6-1.8-.5-2.3 M775 1968.8l-1.7 1.6 .7 2.3 1.3 2 1.9 1.5 1.5 1.9 2.4 .3 2.3-.5 2-1.4 2.3 .9 2.3 .4 2.4-.5 1.4-1.9-.5-2.3 .9-2.2 1.3-2.1 .7-2.3 .5-2.3 1.3-2 .5-2.4-.4-2.3 .3-2.4 .1-2.4 2.1-1.2 1.4-1.9 2.3-.6 1.9-1.6 1.8-1.5 1.2-2.1-.6-2.3-2.3-.8-2.4-.5-2.2-.9-2.4 .4-2.3-.3-2.4-.2-1.3-2.1 1-2.2 .4-2.3 1-2.2-.8-2.3-.1-2.4 .8-2.2 1.6-1.8 2-1.3 1.8-1.7 .2-2.4-1.3-2-.8-2.3-.6-2.3 .1-2.4-1.1-2.1 0-2.4 1.7-1.7 2.3-.5 2.3-.6 1.4-2 2.4 .1 2.4 .5 2.3-.5 2.4 .2 1.8-1.6-.7-2.3-2.1-1.2-1.3-1.9 .4-2.4 M874.7 1836l-.5 2.3-1.8 1.5-1.9 1.6-1.6 1.7-2.4 .4-1.9-1.5-1.9-1.4-2.2-1-1.3-2-2.3-.8-.9-2.2 .5-2.4 .1-2.4 1.1-2.1 2.4-.2 2.4 .2 2.3 .6 2.4-.3 1.9 1.5 2.2-.8 2.2 .9 1.7 1.8 1.1 2.1 1.9 1.5 1.8 1.6 1.3 2 1.8 1.6 1.1 2.1 1.3 2 .5 2.4 .8 2.2 .2 2.4-1.4 2 M826.5 1834.6l-2.3-.6-2.3-.9-2.2-.9-2-1.3-1.9-1.5-1.1-2.1-1.8-1.6-2.2-.9-2.2-.9-1.9 1.4-2.3 .6-1.3 2.1-1.4 1.9-2.3 .6-2.4-.5-1.8-1.6-.4-2.3-.6-2.3-1.6-1.9-2.2-.9-2.4 .2-2.4 .1-2.3 .6-2.4-.4-1.7-1.7-.8-2.3 .3-2.4 .3-2.3 1.8-1.6 2.4-.4 2.3-.5 1.9-1.6 .9-2.2-.4-2.4 .3-2.4 2.1-1.1 2.1-1 2 1.3 1.5 1.9 1.5 1.9 1.9 1.5 .5 2.3-1 2.2-.5 2.3-.9 2.3 .9 2.2 1.6 1.8 .9 2.2 2.1 1.2 .6 2.3 1.5 1.9 2.3 .9 1.9 1.3 2.2-1 1.8-1.5 2.3-.9 2 1.3 1.8 1.6 2.4-.4 M631.3 1779l1.7-1.7 1-2.1 .1-2.4-1.3-2-.1-2.4 .1-2.4 .3-2.4 1-2.1 1-2.2 1-2.2 1.6-1.8 2.1-1.2 1.2-2.1-1.1-2.1-1.6-1.8-1.5-1.9-2.3-.7-2.4 .1-2.4 0-1.8-1.5-1.5-1.9-.1-2.4 .1-2.4 .6-2.3 1.6-1.8 2.2-1 1.7-1.6 2.2-.9 2.1-1.3 2-1.3 .9-2.2-.3-2.4-.2-2.4 .6-2.3-.9-2.2-1.1-2.1-.3-2.4-1.9-1.4-1.5-1.9-2.1-1.2-2.2-1-2.4-.1-2.4 .3-2 1.3-2.4 .1-2.4 .4-2.4 .3-1.8 1.5-2.4 0-2.3 .8-2.3 .5-1.8 1.6-2.3-.6-2.3 .7-2.2 1-2.4 .1-2.3-.5-2.2 1-2.4 .1-1.7-1.7-1-2.2-.3-2.3-1.8-1.6-1.7-1.7 1.3-2 2.3-.8 2.3-.4 1.2 2.1 2 1.2 2.2 1.1 2.3-.4 2.4-.6 2.4-.3 2.3 .2 2.4-.2 M1016 2021l-2.3 .8-2.4 .1-1.8-1.6-1.4-2-2.3-.2-2.4 .4-2.2-.9-1.7-1.8-2.4 0-2.3-.5-2.3-.7-2.4-.1-2.3 .6-1.9-1.4-2.4 .2-2.4-.3-2.2 .8-2.1-1.2-1-2.2 0-2.4 2.3-.6 2.4 0 2.1-1 2.4-.6 2.2-.9 2.2-.8 2.4-.5 2.2-1 2.4-.1 2.3-.6 2.4 0 2.2 1 1.3 2.1 .1 2.3 .9 2.2 1.3 2.1-.3 2.4-.1 2.4-.6 2.3-1.1 2.1-.4 2.4 .4 2.4 1.2 2 2 1.5 .1 2.4 1.8 1.5 2.3-.5 1.7 1.7 1.8 1.6 1.1 2.1 1.3 2 .9 2.2 .5 2.4 1 2.2 1.4 2 1.8 1.6 1.5 1.8 1.9 1.4 2.2 1 M935.7 2052.9l2.3-.7 2.4-.2 2.4-.3 2.3 .4 2.4-.3 2.4 .6 2.1 1.1 2.4 .3 2.4-.1-.1 2.4 1.3 2 .4 2.4-.3 2.4-2.3 .9-2.3-.5-1.5 1.9-.5 2.4 1.2 2.1 1 2.1 1.7 1.8 1.9 1.5 2 1.3 1.3 2 .7 2.3-.7 2.3-.6 2.3-1.2 2.1-1.3 2-1.8 1.6-1.8 1.6-2.3 .7-2.4 .4-2.3-.3-2.4-.6-2.2-.8-2.4-.3-1.7-1.7-2-1.3-2.3-.6-2.3-.8-1.5-1.9-1.5-1.8 M850.4 2036.2l-2.3 .4-1.4 2-2 1.3-.9 2.3-2.2 .9-2 1.2-1.9 1.6-.5 2.3-.1 2.4-.9 2.3-2.4 .5-2.3 .4-2.4 .1-2.1 1.1-2.3 .7-1.9 1.5-2.3-.6-.7-2.3-1.7-1.8-.6-2.3 .5-2.4-.9-2.2-2.4 .4-1.8 1.6-1.5 1.9-1.8 1.6-2.2 .9-2.3-.7-2.3-.7-2.4-.2-1.2-2.1-2-1.3 M667.2 1993.2l-2.4-.2-2.4 0-1.5-1.8-.4-2.4-.3-2.4-.2-2.4-.6-2.3-2.4-.3-1.9 1.5-2.1 1-1.9 1.5-.8 2.2 .4 2.4-.1 2.4-1.1 2.1-2 1.4-2.3 .1-2.4 .1-2.3 .7-2.4 .2-2.3-.7-2.4 .5-1.8-1.6-2.1-1.1-2.3-.6-2.1 1.3-2.4-.2-2.2 .8-2.4 .3-1.6 1.8-1.3 2-.6 2.3 2.3 .8 2.2 1 2.2 .9 2.1 1.2 2.2-.9 2.2-1 2.4-.1 2.2 .9 1.5 1.9 2.1 1.1 2.4 .4 1.4 1.9 .4 2.4 0 2.4-1.9 1.4-2.4 .1-2.2-.8-1.2-2.2-1.2-2-.4-2.4 .1-2.4 1.2-2.1 1.6-1.8 2.1-1.1 2.4-.2 2.2-.9 .8-2.3-.3-2.4 .6-2.3 1.1-2.1 .8-2.3 1.9-1.4 1.8-1.5 2.4 .1 2.3 .7 2.2-1 1.4-1.9 1.6-1.8 M994.7 2100l-.3-2.3 1.8-1.6 .9-2.2 .7-2.3 0-2.4 1.7-1.8 .8-2.2 .3-2.4-.9-2.2-1.3-2-1.7-1.7-1.1-2.2-.4-2.3-1.9-1.5-2.3-.7-.8-2.3 1-2.2-.1-2.4-2.1-1.1-2.4-.2-1.3-2-.8-2.3-2.3-.9-1.1-2.1-.3-2.4-2.1-1.1-.4-2.4-1-2.2 .1-2.4-.2-2.4-1.2-2-2.1-1.2-2.4 0-2.1 1.2-2.2-1-2.3-.4-2.4 .1-1.4 2-2 1.2-2.3 .9-1.7 1.7-1.9 1.5-1.6 1.7-2.4 .5-2.1 1.1-2.3-.7-2.4-.6-2.1-1.1-2.4 .5-1.4 1.9-1.6 1.8-.1 2.4 1.6 1.8 M1008.9 1794.8l1.2 2.1 1.5 1.9 2.4 .2 2.2 .9 1.5 1.9-.4 2.3 .6 2.3 .5 2.4-.4 2.3 .8 2.3 1.2 2.1 .7 2.3-.7 2.2 .4 2.4-.8 2.3-1.8 1.6-2.1 1-2.4-.1-2.2 1-2.4-.2-1.9-1.4-2.3-.8-2.4-.1-2.2-1-.5-2.3-1.5-1.9-2.4-.2-2.4 .4-2-1.3-1.1-2.1-1.8-1.7-2.3 .7-2.1 1-2.4 .4-2.2 .9-2.4 .5-2.1 1-1.7 1.8-.1 2.4 .2 2.4-1 2.2-1.7 1.7-.1 2.4-1.4 2-.3 2.3-2 1.3-2.4-.2-2.3-.7-2 1.4-2.3 .5-2.3 .8-2.2 1-1.7 1.6-.1 2.4-.8 2.3-2.1 1.2-2.4 0 M606.4 1733.8l2.3-.9 2.2 .8 2.4 .7 2.2-.9 1.9-1.5 1.1-2.2 .9-2.2 .6-2.3 .7-2.3 1-2.2 1.6-1.8 1.9-1.5 1.5-1.8 2.4-.6 2.4 .1 1.9 1.4 2 1.3 2.4 .2 1.9 1.5 1.6 1.7 2 1.4 1.7 1.6 1.3 2.1 .2 2.3-.2 2.4 1.2 2.1 0 2.4-1.6 1.7-1.8 1.6-1.3 2.1-1.6 1.7-2.4 .2-2.1 1.2-1.5 1.9-.7 2.3-1.3 2-1.2 2.1-1.2 2.1-2.3 .5-2.4-.1-1 2.1-1.3 2.1 1 2.2 1.9 1.4 1.4 2 .2 2.4 .5 2.3 2.4 .4 2.4 .1 2.4 .3 2.2 .9 2.4-.5 2.2-.9 2.4 .1 2.3-.7 2.4 .4 .7 2.3 M825.7 2025.5l2.2-1.1 2.4-.1 2.4-.1 2.4-.3 2.4-.3 2.3-.2 1.7-1.7 1.2-2.1 1.8-1.5 .6-2.4 1.5-1.8 .4-2.4 1.1-2.2 1.6-1.7 1.9-1.5 1.5-1.9 .6-2.3 .3-2.4 1.6-1.7 2.1-1.2 1.8-1.5 1.7-1.7 1.8-1.7 1.9-1.4 1.7-1.7 2.2-.8 2-1.3 2.3-1 2.2 .8 1.1 2.2 1.2 2 .7 2.3 1.1 2.1 1.8 1.6 2.1 1.3 1.6 1.7 1.3 2.1 2.4 .3 1.8-1.7 .8-2.2 .2-2.4-1.4-1.9-1.9-1.5-2.2-1.1-1.8-1.5-2.4-.5-2.4 .1-2.4 0-2.3 .5-1.2 2.1-1.3 2-.5 2.3 .1 2.4-1.4 1.9-.4 2.4-1.1 2.2 1.3 2 1 2.2 1 2.1 .7 2.3 2.2 1 2.2 .9 2.4 .2 1.7-1.7 1.8-1.6 1.2-2.1 .8-2.2 1.5-1.9 1.8-1.6 .8-2.3 .5-2.3 M973.7 2009.9l-.6 2.3 .3 2.4 0 2.4-1.5 1.8-.5 2.4 .5 2.3 1.2 2.1 .1 2.4-1.6 1.8-1.1 2.2-2.1 1.1-1.5 1.8-.8 2.3 .6 2.3 .9 2.2 2.4 .6 2.4 .2 2.3-.3 2.2-1.1 2-1.2 1.7-1.8 .7-2.3 .3-2.3 .8-2.3-.8-2.2-2.1-1.2-2.3-.8-2.3-.5-1.7-1.7-2.4 .4-2.4-.2-2.3 0-2.4-.5-2.3 .7-1.4 1.9-1.9 1.5-1.5 1.8-2.3-.8-2.1-1-2.4 .4-2.1 1.2-1.5 1.8-2.1 1.3-1.9 1.4-.7 2.2-1.4 2.1-1.7 1.6-2 1.3-2.4-.2-2.2-1-1.1-2.1-2.4 .4-2.3 .4-2.4 .1-2.4-.3-2.4-.4-2.4-.3-2-1.3-1.6-1.8 M829.9 2105.7l-.3 2.4 .1 2.4 2.2 .9 2.1 1.2 2.4 .1 2.4 .2 2.3 .4 2.4-.2 2.4 .3 1.9 1.4 2 1.4 1.5 1.9 2.3 .7 1.4 1.9 .9 2.3 0 2.4 1.5 1.8 2 1.4 2.4 .4 2.2-.8 2.2 .9 2.4 .5 2.1-1.2 1.7-1.7 2.2-.9 2.4-.4 2.4-.1 2.4 .2 2.2 .9 2.2 1 1.3 2 2.3 .6 2.4 .2 2.3 .6 2 1.4 1.4 2 2.2 .9 2.4 .1 1.8-1.5 .4-2.4 1.2-2.1 .1-2.4 1.6-1.7 1.8-1.6 1.5-1.9 1.4-2 1.8-1.5 2.4-.5 2.3-.6 2.1 1.2 2.3-.5 2.2 1.1 2.4-.1 2.4-.1 2.4-.1 2.3-.4 2.4 .7 2.2 .8 2.4 0 2.4 .2 2 1.3 .2 2.4 .1 2.4 0 2.4 2 1.3 2.4 0 2.4 0 2.3 .6 2.3 .6 2 1.3 1.6 1.8 2.2 1.1 1.8 1.5 1.5 1.9 M948.1 1837.8l-2.2 1-2.1-1.1-2.3-.4-2.1-1.3-2.4-.2-2.3 .7-2.4 .5-2.2 .9-2.4 .1-2.4 .1-2.3-.8-.7-2.3 .6-2.3 2-1.3 2.4 .1 1.9 1.5 1.5 1.9 2.3 .5 2.3 .8 2.4-.2 2.2 1 2.1-1 2.2-1.1 .7-2.3 .7-2.3 0-2.4 .4-2.4 .1-2.4-1.9-1.5-1.5-1.9 1.2-2.1 1.3-2 1.6-1.7 2.4 .5 1.6 1.7 2.3 .9 1.1 2.1 1.7 1.8 .9 2.2-1 2.2-1 2.1-2 1.4-2.4 .1-1.6 1.8-1.8 1.6-2.2 1 M711.5 2092l-1.8-1.7-1.5-1.8-1.8-1.5 .1-2.4 1.3-2 .8-2.3 0-2.4-.6-2.3-1.8-1.6-.6-2.3 1.4-2 .2-2.4 1.4-1.9 1.8-1.6 2.4-.2 2.4-.5 2.2-1 2.4-.2 2.2-.8 2.3-.9 2.3-.6 2.2-.8 2.2 1 1.6 1.8 1.6 1.8 .9 2.2-.5 2.4-.9 2.2-2 1.4-1.8 1.5-1.5 1.9-2.3 .7-2.2 .9-2 1.4-2.4 0-2.3-.6-2.3 .6 M772.8 2044.6l2.1-1.2 2.4-.4 .7-2.3-.7-2.3 1.6-1.9 2.1-1 2.4-.4 1.3-2-.3-2.4 1-2.2 2.2-.9 2.2-1 2.4-.4 2.4 .2 2.2 .8 .8 2.3 .1 2.4-1.7 1.7-1.8 1.6-1.3 2-1 2.2-.8 2.2-2.1 1.2-2.1 1.3-1.5 1.8-1.4 2 .3 2.4 .9 2.2-1.7 1.7-2 1.3-.9 2.3-.8 2.2 .4 2.4 1.9 1.6 1 2.1-.2 2.4 .1 2.4 .5 2.3 0 2.4 .7 2.4 2.2 .8 1.8 1.7 2.2 .8 1.2 2.1-.4 2.4 0 2.4-1.2 2-1.9 1.5-2.2 .9-.4 2.4-.2 2.4-.8 2.3-1.7 1.6 .1 2.4 0 2.4 .7 2.3 1.9 1.6 2.3-.3 2.4-.2 2.3-.8 2.3-.5 2.4 .1 2.4-.4 2.4-.3 2.3-.7 2.1-1 1.4-2 M715.8 1788.3l-.2 2.4-.8 2.3-.9 2.2-.6 2.3-2 1.4-1.3 2-1.8 1.6-1.6 1.8-2.2-1.1-2.4-.3-2.3 .5-2.3 .7-.1-2.4 0-2.4-1.3-2-.7-2.3-.8-2.3-.4-2.3 1-2.2 1.8-1.6 1-2.2 1.4-1.9 .8-2.3 .3-2.4-1-2.2-.2-2.3 1.2-2.2 1.7-1.6 .8-2.3 1.9-1.5 2.3-.5 2.4 .1 1.4-1.9 1-2.2 .7-2.3-.7-2.3-.3-2.4-.8-2.2-1.8-1.6-1.8-1.6-1.9-1.4-.9-2.3-.9-2.2 1.1-2.1-.1-2.4 .6-2.4 .4-2.3-.6-2.4 .6-2.3-.1-2.4 .2-2.4 0-2.4-1.4-2-1.5-1.8-1.9-1.5-2.3-.3-2.4-.3-2.3-.7-.7-2.3 1.7-1.8 2.1-1 2.3-.7 2.3-.8 2.4-.2 2.1 1.1 2.4 0 2.2 .8 M785.3 1746.1l-1.8 1.5-2.3 .8-1 2.2-.2 2.4-1.5 1.8-2.2 .8-2.3 .8-2.2-.9-2.1-1.1-2.3-.9-2.3-.2-2.4 .2-2.2 1.1-1.1 2.2-.5 2.3-.6 2.3 1.2 2.1 .6 2.4 .7 2.3 1.4 1.9 2.1-1.1 2.3-.7 2.4-.7 2.3-.5 2.3-.6 .7-2.3 .9-2.2 .7-2.3 1.6-1.8 .7-2.3-1.4-2-.5-2.3-2.2-1-2.3-.6-1.3-2.1-2.1-1.2-2.1-1-2.2-.9-1.9-1.5-1.9-1.5-2-1.3-1.8-1.6-1.9-1.5-2-1.4-2.3-.3 M786.7 1988.9l-2.3 .5-2.4-.4-2.3 .8-2.3 .7-2.2-.9-2.2-1-2-1.2-2.2-1.1-2-1.3-2.2-1.1-2.3 .5-2.2 .9-2.3 .7-2.4 .2-2.4 .3-2.3-.6-2.3-.9-2.4-.2-2.2-.9-2.4 .5-2.3 .7-2.2 .8-1.9 1.5-2.2-1-2.4-.4-1.8-1.6-.9-2.2-.4-2.4-.4-2.4-.3-2.4-1.8-1.5 .1-2.4 1.5-1.9 1.4-1.9 2.4-.3 1.9-1.5-.5-2.4 .8-2.2 .6-2.4 1.1-2.1-1-2.2-1.8-1.6-1.6-1.8-.5-2.3 .1-2.4-.7-2.3-2-1.4-1.3-2 M923.5 1788.2l1.9 1.4 2.3 .7 1.7 1.7 1.4 2 1.8 1.5 .2 2.4-.5 2.3 .3 2.4 .6 2.3-.4 2.4-1.5 1.9-1.4 1.9 0 2.4 2 1.4 1.6 1.8 1.2 2.1 2.3 .7 2.2 1 1.8 1.6 2.1 1.2 1.1 2.1 1.6 1.8 .3 2.3 1.7 1.7 2.4 .4 2.2 .9 2.4 0 2.4-.4 2.3-.5 2.4 .4 2.3 .6 1.8 1.6 M796.7 1792l-1.2 2.1-2.1 1.1-1.6 1.8 .1 2.4-.7 2.3 1 2.1 1.7 1.7 .8 2.3-.6 2.3-1.2 2.1-2.4 .4-2.2-1-2.2 .8-2 1.4-1.3 1.9-1.9 1.6-2.3 .4-.8 2.3-2.4-.1-2.2-1-2.2-1-2.4-.4-2.3-.2-1.6-1.8-.5-2.3-.2-2.4-.9-2.2 0-2.4 .9-2.3 .4-2.3 .6-2.4 1.6-1.8 0-2.4 1.4-2 1.6-1.7 1.9-1.5 2.1-1.2 2.4-.3 2.3 .3 2.4 .3 2.3-.7 2.3-.8 2.3-.5 1.4-2 2-1.3 .9-2.2 2.3-.7 2-1.3 0-2.4-1.1-2.1-2.4-.2-2 1.4-2.2 .9-2.4 .4-1.9-1.6-1.5-1.8 .1-2.4-.3-2.4-.7-2.3-1.1-2.1-.8-2.3-.2-2.4-.8-2.2-.7-2.3 1.3-2 2.4-.4 2.1 1.1 .4 2.4 .1 2.4 .1 2.4 1.1 2.1 2.3 .8 1.8 1.6 2.3 .7 2.3 .3 2.3 .8 2.4 .5 M669.3 2087l1-2.2 .2-2.4 1.2-2.1 1.8-1.5 .9-2.3 .8-2.3 2.4 .2 2.3-.3 2.2 1 2.2 1 1.3 2 1.6 1.8 1.3 2 2.2 .8 2.4-.1 2.4 .5 2.4 .2 2.3 .5 2.3 .7 1.5 2 2.1 1 2.4 .2 1.9 1.6 2.1 1.1 2.1 1.1 1.6 1.8 2 1.3 2 1.4 2 1.3 2 1.4 1.9 1.4 2.4-.2 2.3 .4 2.4 .6 2 1.3 2.3 .7 1.8 1.5 1.9 1.5 1.4 1.9 .8 2.3-1 2.2-1.2 2.1 M733 1741.7l-1.6-1.8 .2-2.4 .6-2.3 1.4-2-.9-2.2-.2-2.4-.2-2.4 .2-2.4 1-2.2 2.1-1.2 1.9-1.4 2.3 .3 1.7 1.7 .5 2.4-.7 2.3 .2 2.3 1.7 1.7 2.1 1.2 2 1.3 .7 2.3 1.8 1.7 1.7 1.7 1.6 1.7 2.3 .7 1.8 1.6 1.9 1.4 2.1 1.2 2.4 .4 1.1 2.2 2 1.3 1.9 1.5 1.2 2.1 .7 2.3 .7 2.3 .5 2.3 1.4 1.9-.6 2.4-1.9 1.4-.3 2.4 1.3 2 1.3 2 .9 2.2-.5 2.4 1.5 1.9 .8 2.2 1.8 1.7 1.1 2.1 .9 2.2 .4 2.4-1.3 2-.2 2.4-.2 2.4-.5 2.3-1 2.2-.9 2.2-2.4 .7-2.2-.7-2.1-1.2-1.7-1.8-.4-2.3 1.3-2.1 .7-2.2 2.3-.9 1.8 1.6 1.4 2 1.3 2 1.8 1.5 2.2 1.1 1.6 1.8 2.3-.5 2.3 .8 1.3 2 M638 1697.3l2.2-.8 2 1.3 2.3 .7 2.4 .4 1.9-1.3 .6-2.4 .9-2.2 2-1.3 1.8-1.7 .4-2.3 .4-2.4 1.3-2 .8-2.3-1.1-2.1-2-1.4-2.4-.2-2.3-.5-1.9-1.5-2.3-.8-1.9-1.5 .1-2.4-.1-2.3 1.4-2 2.4 .1 2.4 .2 2.3-.5 2.3-.6 2.4-.2 2.1 1.3 1.1 2.1 2.3 .8 2.4-.2 2.4 .4 2.1 1.1 2.3-.5 1.7-1.7 2.2-1 2.3-.6 2.2 .9 2.2 1.1 1.4 1.9 2.2 .9 2-1.3 1.9-1.4 2.4 .5 2 1.2 1.2 2.1 .7 2.3 1.2 2.1-.2 2.4-.2 2.4-1.7 1.6-2.2 1.1-1.1 2.1-1.1 2.1-1.3 2.1-1.1 2.1 2 1.3 1.5 1.9-1 2.2-1.5 1.9-1.9 1.4-1.1 2.1-1.4 2-.9 2.2 .9 2.3 .9 2.2 1.7 1.6 2.4 .2 2.2 1.1 2-1.2 2.4-.1 2.4 .4 2.4-.1 2.4-.2 .1-2.4-.1-2.4-1.3-2-1.9-1.4-2.4 0 M987 1704l.1-2.4-1.3-2-.8-2.3 .4-2.4 .8-2.2 .1-2.4 .3-2.4 .2-2.4 .6-2.3 .8-2.3 1.3-2-.3-2.4 1.4-1.9-1-2.2-1.1-2.2-2.1-1.2-1.4-1.9-.5-2.4-.5-2.3-.7-2.3-.2-2.4 0-2.4 1.5-1.9 1.4-1.9 1.8-1.6 1.9-1.5 1.9-1.5 1.8-1.5 2.1-1.2 1.9-1.5 1.4-1.9 1.6-1.9 1.1-2.1 0-2.4 2.3-.6 .5-2.3-.3-2.4 .5-2.3-.9-2.2-1.4-2-1.3-2-2.4-.1-2.1 1.2-2.1 1.2-2.3 .5-2.4-.1-2.4 .1-2.4-.2-2.1 1.3-1.3 2-1.2 2.1-2.2 .8-2.3-.9 M1053.8 1740.4l2.2 1.1 2.4 0 2.2 .8 2.1-1.2 2.1 1.2 2.1 1.2 2-1.3 1.9-1.4 1.3-2.1 1.9-1.4 .3-2.4 1.3-2.1 1.1-2.1 2.3-.7 2.1 1.2 2.3 .6 .9 2.2 .4 2.3-1 2.2-1.6 1.8-2.2-.8-2-1.3-1.6-1.8-2.4-.2-2.3 .7-1.8 1.5-2.1 1.2-1.9 1.5-2 1.4-2 1.3-1.8 1.6-2.2 .9-1.4 2-1.1 2.1-2 1.3 M797.9 2090.1l-1.7 1.6-2.4 .5-1.6 1.8-2 1.4-2.3 .6-2.3 .7-2.4 0-2.4-.1-2.3-.4-2-1.5-2.3-.6-2-1.4-1.7-1.6-1-2.2 .8-2.3 1.9-1.4 2.4 0 2.4 .5 2.4 .1 2.3 .4 1.7 1.7 2.3 .7 2.1 1.2 2.3-.7 2.1-1.1 1.9-1.5 .3-2.4 .8-2.3 1.7-1.7 2.1-1 2.4-.6 M631.5 1863.1l-2.4 0-2.3-.6-2-1.4-1.6-1.7-1.3-2-1.9-1.5-2.3-.6-2.3 .8-2 1.4-1.8 1.6-2.4 .3-1.9 1.5-2.1 1.1-1.9 1.5-2.2 .8-2.3 .8-2.1 1.2-1.3 2-.8 2.3-1.2 2.1 1.5 1.9 2.1 1.2 2.3 .5 2.3 .9 2.1 1 2.2 1 2.4 .4 2.2-.9 1.3-2.1 2.3-.8 2.3-.5 2.4-.3 1.6 1.8 1.3 2 1.5 1.9 2.2 1 2.4 .3 1.4 2 2.3 .4 .8 2.3 1.9 1.5 2.2-.8 2.4-.5 2.2-1 2.4 .2 2.2 .8 .9 2.2 1.4 2 1.2 2 1.8 1.7-.9 2.2 .1 2.4 1.4 2 2.4 .3 1 2.1 .1 2.4 .9 2.2-.3 2.4-1.2 2.1-2.2 1.1-2.3 .5-2.2 1-2.3 .5-2.4-.3-1.9-1.5-1.5-1.9-2.1-1.2-2.4 .3-2.4-.1-2 1.4 M655.1 1793.8l1.8-1.6 2.4-.4 2.3-.7 2.4-.2 2.3 .3 2.2-1 2.4-.5 2.2-1 1.6-1.7 2.4-.4 2.4 .1 2.2-.9 1.7-1.7 1.9-1.4 .6-2.4 1.6-1.8 1.2-2 1.7-1.8 1.1-2.1 .1-2.4 1-2.2 1.1-2.1 0-2.4-.7-2.3-1.8-1.7-1.3-2-2.4-.1-2.1 1-2.3 .7-2.3-.7-2.4-.1-2 1.4-1.4 1.9-2.2 1.1-1.7 1.6 M1027.8 1937.3l-2.4 .2-1.6 1.8-1.7 1.7-2.2 .9-2.4-.4-2.3-.8-2.2-.9-1.9-1.5-2.2-.8-2.4 0-2.4 .2-2.2 .9-1.9 1.5-1.6 1.8-1.8 1.6-1.3 2-2 1.4-.8 2.2 1.4 2 1.7 1.7 1.1 2.1 1.7 1.8 .5 2.3 .3 2.4 .9 2.2-.2 2.4 .9 2.2 1.9 1.5 .6 2.3 .2 2.4-1.2 2.1-.4 2.4-1.1 2.1-1.6 1.8-.4 2.4-.5 2.3 M893.7 1985.5l-1.6-1.8-2.4-.1-2.4-.4-2.4 .1-1-2.1-1.3-2.1-1.9-1.4-1.4-2-.6-2.3 0-2.4 .5-2.3 .6-2.3 1.5-1.9 1.7-1.8 1.2-2 2-1.4 2.4-.2 2-1.3 1.9-1.5 2.4 0 2.4-.5 2.3-.5 1.5-1.9 2.3-.2 2.3-.9 .2-2.4-.2-2.4-.1-2.4 .3-2.3 0-2.4 .4-2.4 2.4 .1 2.1-1.2 .8-2.3 2.3-.5 1.8-1.6 2.4-.2 1.9-1.5 2.1-1.1 2.4-.4 1 2.1-.5 2.4 .4 2.4-.7 2.3 M877.1 1737.5l-.2-2.4-1.8-1.5-1.4-2-1.5-1.9 .3-2.4 1.4-1.9 .9-2.2 2.4 .1 2.2 1 2.1-1.1 1.9-1.4 2.4-.2 2.4-.2 2.4 .1 1.9 1.5 2.3 .5 2.4 .3 2.4 .5 1.6 1.7-1.3 2-.8 2.3 0 2.4 1.6 1.8 2.2 .9 2.4 .5 2.3-.6 2 1.2 2 1.3 2 1.4 .9 2.2-.3 2.4-.6 2.3 .2 2.4 .9 2.2 .1 2.4-2.4 .1-1.9-1.4-1.6-1.8-2.3 .8-2.4-.6-2.3-.4-2.3 .7-2.3 .5-2.4-.5-2.4-.3 M689.8 1863.7l-2.4-.4-2.1-1.1-2.2-1-2.4 .3-2.2 .9-2.4 .1-2.1 1.2-2.1-1.1-1.3-2.1 0-2.4-1.1-2.1-1.2-2.1-1.1-2.1-1.3-2.1 1.5-1.9 1.5-1.9 1.2-2 .4-2.4 1.2-2 1.7-1.8 1.5-1.8 .2-2.4 2.4-.1 1 2.1 1.1 2.2 1.5 1.9 2.3 .5 2.4 .4 2.2 .8 2.4 .2 2.1-1.1 1.3-2 1.1-2.2-.1-2.4-.5-2.3-1.4-2-2.4-.1-2.3-.5-2.3 .7-2.4 .6-1.9 1.4-2.3 .6-2.4 .4-2 1.3-2.3-.7-1.6-1.8-1.3-2.1-.2-2.4 .2-2.4 1.5-1.9 M1047.1 1905.6l.8 2.2 1.9 1.5 2.2-1.1 2.3-.6 2.3 .6 2-1.4 1.9-1.5 2.3-.7 2.2 .8 1.2 2.1 1.3 2 2.1 1.1 1.4 2 .5 2.3 .5 2.3 1.1 2.2 1.9 1.4 1.3 2.1 0 2.4 1.5 1.8 .4 2.4 .5 2.3-.5 2.4-1.8 1.5-2.3-.5-2.3-.8-2.3-.5-2.2 1.1-1.7 1.6-2.2 1-2.4 .1-1.6 1.7-1.8 1.7-1.3 2-1.3 2-2.2 1-2.3 .7-.6 2.4-1.2 2-2.4 .4-2.3-.7-1.7-1.7 .1-2.4-1.8-1.5-1.7-1.7-1.5-1.9-1.5-1.9-1.3-2 0-2.4-.7-2.3 0-2.4-.3-2.3-1.1-2.2-2.1-1.1-1.1-2.1-.2-2.4 M886.4 1823.9l-.8 2.3-.1 2.3 1 2.2-.5 2.4-1.4 2-.4 2.3 .1 2.4-.3 2.4-1.6 1.8-1.7 1.7 .3 2.4 .8 2.3 1.5 1.8 .9 2.3 2.2 1 2.2 1 2.4-.2 1.7 1.7 2.1 1.1 2.3 .5 2.3-.8 2.4-.1 2.4 .4 1.9-1.4 2.1-1.2 1.2-2 1.2-2.2 1.9-1.3 2.3-.8 2.2-1 1.5-1.9 2-1.3 1.7-1.7 2.3-.7 1.8-1.5 2.1-1.2 2.2-1 1.6 1.8 .9 2.3-.6 2.3-1.3 2-.4 2.4 .2 2.4 .6 2.3 .8 2.2 .4 2.4 .8 2.3 1 2.2 .7 2.2 M826.4 1926.8l2.1 1 2 1.3 1.8 1.7 2.1 1.1 0 2.4 .4 2.4-.9 2.2-1.3 2-1.4 1.9-2.4 .5-2.1 1-1 2.2 .4 2.4 .8 2.3-.6 2.3-1.2 2.1 .7 2.3-.7 2.3-.8 2.2 .7 2.4 .2 2.4-.3 2.3 .7 2.3 .2 2.4 .3 2.4 .4 2.4-.5 2.3-1.7 1.6-1.9 1.6-1.2 2-2 1.4-2.4 .4-2-1.3-1.1-2.2-.7-2.3 1.5-1.8 2.4 0 2.2 .9 2.4 .1 2.4 .5 1.1 2.1 1.5 1.9 2.2 1.1 1.8 1.5 2 1.4 1.7 1.7 1.8 1.6 2.2 .8 2.4 .4 2.4-.4 1.9 1.4 2.4-.2 2.4-.3 2.4 .4 2.2 .9 1 2.2 1.4 1.9 .9 2.3 2.1 1.2 2.4 .1 2.4 0 2.4 .1 2.3-.6 2.2-1 2.4-.1 2.2 .9 2.4 .1 2.3 .6 2.2 .9 2.4 .2 2 1.4 2.2 .9 M870.5 1698.4l-1.4 1.9-2.3 .9-1.6 1.7-2.4 .6-2.3-.3-2.4-.1-2.3-.7-2.1-1.2-2.4 .1-2.3 .4-2.2 1-2.2 1.1-.2 2.4-.5 2.3-1.6 1.8-.7 2.3 0 2.4 .9 2.2 .3 2.4-1.6 1.7-2.1 1.2-2.2 .9-2.4-.1-2.3 .8-2.4 0-2.3-.4-.8-2.3-.7-2.3 .9-2.2 .9-2.3 1.9-1.5 1.6-1.7 1.3-2 2-1.4 2.3-.4 2.2 .9-.3 2.4-1.9 1.5 M749.1 1934l1.7 1.7 2.1 1.3 2.1 1 2.1 1.3 2.2 .9 1.4 2-.3 2.3-.8 2.3 1.9 1.5 1.9 1.5 2.3-.6 2.1-1.2 2.4 .1 2.3-.5 2.1 1.2 1.7 1.7 .4 2.3-1.4 2-1.5 1.9-1.8 1.5-2.3 .8-2.1 1.1-2.4 .3-1.2-2.1-1.8-1.5-1.1-2.2 .4-2.4-.9-2.2-2-1.4-1.1-2.1 0-2.4 .5-2.4 1.3-2 .2-2.4 0-2.4 1.1-2.1-.3-2.4-1.3-2 .2-2.4-.6-2.3 M777.4 1713.8l2.1 1.1 2.4-.3 2.3 .5 2.2-.9 2.4 0 2.4 0 2.4-.4 1.2-2 2-1.4 1.9-1.4 2.2-1.1 2.1-1.1 1.9-1.5 1.5-1.8 1.4-2 1.8-1.6 2.1-1.2 1.2-2.1 .1-2.4-.3-2.4 .5-2.3 .1-2.4 1.6-1.8 .8-2.3 1.3-2 .1-2.4 .3-2.4 .8-2.2 .4-2.4 .8-2.3 1.1-2.1-.6-2.3 .9-2.2 .7-2.3-.6-2.3 .8-2.3-.2-2.4-.6-2.3-1.1-2.1-2-1.4-.4-2.3-.1-2.4 .3-2.4 .7-2.3 .7-2.3 .4-2.4-.2-2.3-.5-2.4-1.2-2.1-1.8-1.6-2-1.3-1.5-1.8-1.5-1.9-1.4-2-2.4-.5-.9-2.3-.4-2.3-.1-2.4-.4-2.4 .8-2.2 .3-2.4 2.2-1 1.7-1.7-.4-2.3 0-2.4-1.1-2.2-1.3-2-1.4-1.9 1.8-1.6 2.4 .2 2.1 1.3 2.4 .1 2.3-.3 2.4 .2 2.3 .8 2.2 .9 2.4 .1 1.6 1.8 2.4 0 M835 1729.2l2 1.3 2.2 .9 2.3 .8 2.3-.7 2.1-1.2 2.2 .9 2.2-1 2.2-1 2.4 0 2.3-.5 2.4-.2 2.4-.4 2.4 .3 2 1.2 2.4 .5 2.3-.4 2.4-.3 1.5 1.9 1.8 1.6-.3 2.4-1.9 1.5-2.2 .9-2.4 .2-1.2-2.1-.9-2.2-2.1-1.2-2.4-.1-2.1-1-2.3-.8-2.3 .6-2.3-.8-2-1.3-.8-2.3-1.4-1.9-.3-2.4-1-2.2 1.1-2.1 1.6-1.7 1.3-2.1 1.5-1.9 1.1-2.1 2.3-.5 2.2-.9 2.4 .4 1.2 2.1 .7 2.3 .8 2.3 1.8 1.5 2.4 .5 2 1.4 1.8 1.5 .5 2.4-.6 2.3 .7 2.3 2 1.4 2.4 .1 1.6 1.7 1.2 2.1 1.4 2 2.4 0 M824.4 1819.9l2.1-1.2 2.3-.3 2.1-1.2 2.1-1.2 1.4-2 .7-2.3-.6-2.3 .7-2.3 .2-2.4-.1-2.4-1.7-1.6-2.3-.8-1.7-1.6-2.4-.3-2.4-.4-2.4 .1-2.4-.1-1.4-1.9-2.1-1.3-2.2 .7-1.7 1.8-2.4-.3-1.9 1.5-1.7 1.6-2.2 1-2.4 0-2.4-.6-2.3-.4-1.9-1.5-2.1-1.1-1.8-1.6-2.4-.4-2.3-.2-2.1-1.3-1.8-1.5-1.4-2 M625.7 1895.6l-.2-2.4-.4-2.4-1.8-1.6-2.4-.3-1.3-2-1.6-1.9-.9-2.2-1.9-1.4-.9-2.3-2.3-.4-2-1.4-2.3-.7-2.2-.9-1.4-1.9-2.1-1.3-1.1-2.1 .9-2.3 0-2.4 .6-2.3-.2-2.4-1.4-2-.4-2.3 .8-2.3 .2-2.4-.3-2.3-.7-2.3 0-2.4-2.2-.9-1.9-1.5-1.9-1.4-2.4 .2-2.4-.1-2.4 .5-2.4 .3-2.2 .7-2.3 .7-1.7 1.7-1.6 1.8-2.2 1.1-2.3-.6-2.4 .4 M969.3 1765.6l-.7-2.3 .1-2.4 .1-2.4 .5-2.3 .4-2.4 .2-2.4 1.4-1.9 .9-2.3 1-2.1 .7-2.3-1.2-2.1 .9-2.3 2.2-1 2.3-.6 2.3-.5 2.4-.5 2.4 .1 2.3-.8 2.4-.2 1.9 1.4 2 1.3 2.4-.2 2.3-.6 2.4-.6 2.2-.8 2-1.4 1.6-1.8 .9-2.2 1.4-2 2-1.2 2.4 .2 2.2 1 1.8 1.5 1.6 1.9 1.6 1.7 2.4 .4 1.9 1.4 .9 2.3-.1 2.4 2 1.3 2.2 1 .8 2.3 .9 2.2-.8 2.3-.6 2.3-1.6 1.7-1.1 2.2-.7 2.3-.7 2.3-.5 2.3-1.9 1.5-.2 2.4 .5 2.3 1.6 1.8 2 1.3 2.3 .7 1.7 1.8 .6 2.3 2.2 .7 2.4-.5 1.7-1.7 1.6-1.8-.1-2.4-1-2.2-2.1-1.1-2.4-.3-2.1 1.1-1.6 1.8-1.2 2.1 .2 2.4 .3 2.4 1.9 1.4 2.1-1.2 1.8-1.6 M959 1967.7l-.6 2.3 .2 2.4-.8 2.3 .5 2.3 1.5 1.9 2.4 .3 2.1-1.1 2.4 .2 2.3 .9 1.7 1.6 2.3-.7 1.6-1.9 2.1-1 2.4-.2 2-1.3 1.1-2.1 2-1.4 .3-2.4 1.1-2.1 2.1-1.1 2.2-1.1 2.4 .4 1.1 2.1 .7 2.3 1.2 2.1 .7 2.3 1.5 1.9 2.2 .8 2.4-.7 2.3-.3 1.8-1.7 2-1.2 1.8-1.6 1-2.2 1.8-1.6 .8-2.2-.3-2.4 .6-2.3 1.9-1.6 2.1 1 .7 2.3 .1 2.4 .7 2.3 1.1 2.2 2.3 .6 2.3-.6 2.3 .6 1.8 1.6 2.4-.2 .8-2.3 1.1-2.1 .3-2.4-.3-2.4-.4-2.4 1.9-1.4 .1-2.4 1.2-2.2 1.9-1.4 .1-2.4 1-2.2 .4-2.3 M668.3 1903.4l.6 2.3 1.4 2 .3 2.3-1.7 1.7 1.9 1.3 2.4-.1 1.1 2.1 2.4-.1 2.3 .7 2.3 .8 2.3-.6 2.4-.2 2.4 0 2.3-.6 2-1.4 1-2.2 .7-2.3 .7-2.3-.7-2.3-1.3-2-.4-2.4-1.3-2-2.1-1.2-2.2-.9-.4-2.3 .6-2.4 1.3-2 .9-2.2-.2-2.4 1.1-2.1 .8-2.3 1-2.2 .7-2.3-.8-2.3-.8-2.2 1.5-1.9 1.7-1.7 1.6-1.8 1.2-2.1 .2-2.4 1.9-1.5 .2-2.4-.2-2.4 1.5-1.8 1.7-1.7 M897.7 2121l-.6-2.3 .9-2.2 .2-2.4 1.1-2.1 1-2.2 .4-2.4 1-2.2 .8-2.2-1.3-2-.6-2.4-.8-2.3-1.5-1.8-1.6-1.8-1.8-1.5-1.1-2.2 .4-2.4 1.3-2 1.1-2.1 1.8-1.6 2.3 .6 1.3 2 1.3 2 2.3 .8 2.1-1.3 2-1.3 1.3-2 1.8-1.6 1.9-1.4 1.2-2.1 1.7-1.7 .4-2.3-.4-2.4-1.6-1.8-2.3-.7-2.3 .8-2.4 .3-1.6-1.8-2.4 0-1.8-1.5-1.7-1.8-.9-2.2 .4-2.4 .4-2.3 .1-2.4-.5-2.4 1.5-1.9 2.4 .5 2.2 .8 1.6 1.9 1.8 1.5 2.2 1 2.3-.7 2.1-1.1 2.1-1.2 .9-2.2 .1-2.4 .3-2.4-.6-2.3 1.4-1.9 2.4-.4 2.1-1.2 2.4-.3 2.4-.1 2.4-.2 2.3-.7 2.1-1 2.4-.2 2.3-.8 1.7-1.7 2.1-1.1 2.2-1 2.4-.2 2.4-.4 2.1-1 .9-2.3-.5-2.3-.8-2.3-1.1-2.1 M945.1 2089.3l-1.7-1.7-1.3-2-2.3-.3-1.9-1.5 .2-2.4-.5-2.3 1.2-2.1 1.9-1.4 1-2.2 1.6-1.7 1.6-1.8 1.5-1.9 2.4 0 2.1 1.2 2 1.2 2.3 .9 2.2 .9 2.4-.1 2.1 1.1 1.5 1.8 1.9 1.5 2.4 .5 1.5-1.9 2.1-1.1 2-1.3 2.2-1 2.4 .2 2.2 1 1.8 1.6-.3 2.4 1.3 2-.4 2.4 M661.1 1721.4l-1.1 2.2 .1 2.4 .6 2.3 1.1 2.1 1.9 1.5 .2 2.4 1.4 1.9-1.1 2.1-2.1 1.3-1.7 1.6-1.6 1.8-.6 2.4 .9 2.2-.3 2.4 .1 2.4-.1 2.4-1.2 2-.9 2.2-.6 2.4-1.7 1.6-2.2-.9-1.6-1.8-1.1-2.2 .4-2.4 1.5-1.8 1.9-1.5 2.3-.8 2.3-.6 1.9-1.5 1.4-1.9 1.2-2.1 1.3-2 .7-2.3 1.9-1.6 1.9-1.3 .1-2.4 0-2.4-2.2-1.1-2.4-.1-2.2 1-2.3-.3-1.9 1.4-2.4 .4-2.4-.4-2.3 .6-2.4 0-2.3 .7-2.4-.4-2.1-1.1-2.2-1-2.3-.4-1.2-2.1-2.2-.9-1.9-1.4-.1-2.4 1.1-2.1 .8-2.3 0-2.4-.3-2.4 .3-2.4 1.6-1.7 .7-2.3-.5-2.4-.2-2.3 1.4-1.9 1.9-1.6 2.4-.3 2.1-1.1 .4-2.4 .2-2.4 .4-2.3 1.3-2.1 1.6-1.8 .7-2.3 M833.7 1943.8l2.4 0 1.8-1.5 2.1-1.3 1.1-2.1 1.6-1.8 1.4-2-.1-2.4 1.1-2.1 1.1-2.1 .8-2.3 .8-2.3 .3-2.3 .6-2.4 1-2.2 .8-2.2-1.5-1.9 0-2.4 1.7-1.7 2-1.3 2.4-.5 1.4-1.9 2.4-.5 .8-2.2-.6-2.3 1.9-1.5 .6-2.4 1.8-1.5 2.3 .6 1.3 2 1.6 1.9 2 1.2 2.4 0 1.7 1.8 2.2-1 2.3-.5 2.4 0 2.1-1.2 1.7-1.7 2.1-1.2 2.1-1.2 1.9-1.4 2.4 0 1.5 1.9 .8 2.3 .1 2.4-.5 2.3-.5 2.4-1 2.2-1.2 2-1 2.2-.7 2.3 .1 2.4-.7 2.3 2 1.4 2.3 .4 1.7 1.7-.1 2.4-1.3 2-2 1.3-2.4 .2-2.4 .5-2.3 .6-2.2-1-2.4 .2-2 1.3-.3 2.4-1.7 1.6-2.4-.4-2.3 .4-2.4 .4-1.8 1.6-.3 2.3 1.7 1.8 1.2 2.1-.6 2.3 .3 2.4 1.6 1.8 M674.4 2049.7l-2 1.4-2.4 .3-2.2-.8-2.2-.9-2-1.4-2.4-.1-2.1-1-1.5-1.9 .1-2.4-.9-2.3-2.1-1.2-2.2-.9-2-1.3-2.4 0-2.4-.5-2-1.2-2.3-.6-2.4-.3-2.4-.4-2.4 .5-2.4 .1-2.3-.4-1.9-1.5-2.3-.7-2 1.4-2.2 1-1.6 1.8 1.2 2.1 .1 2.4 .8 2.2 2.3 .5 2.1-1.2 2.2 1 2.3-.6 2 1.3 2 1.4 2 1.2 2.4-.2 2.4 0 2.4-.4 2.2-.9 2.4-.4 2.3 .5 .9 2.2 1.2 2.1 1.2 2.1 .2 2.4-.5 2.3 1.7 1.8 1.8 1.5 1.9 1.5 1.2 2.1 1.1 2.1 1.9 1.5 2.3 .7 2.4-.3 2.2-1 2.4 .1 2.2 1 2.2 .9 1.8 1.6 .9 2.3 1.5 1.8 2.2 .9 2.3 .8 2.4 0 2.1 1.2 2.2 1 2.2 .7 2.4-.3 1.2-2 M948.7 2018.2l-2.2 1-2.4 .6-2.3 .3-1.4 2-2.4 .5-2.3 .3-1.7 1.8-1.3 2-1.6 1.7-2.1 1.2 .4 2.3-.4 2.4-.2 2.4 1.8 1.7 1.7 1.7 .6 2.3-2.2 .9-2.1 1.2-1.8 1.6-1.1 2.1 0 2.4-2.3 .8-2-1.3-2.4 .2-2.4 .1-2.4 0-2.4 .4-2.2-.8-2.2-1-2.1-1.2-1.7-1.7-.3-2.4 1.3-2 .1-2.4 .5-2.4 1.3-2-.1-2.4-1.9-1.5-2.3-.6-1.5-1.9-2-1.3-2.3-.7-2.3-.6-2.2-1-.7-2.3-2.3-.6-2.4 .3-2.3-.6-2.3 .6-2.1 1.2-2.2 .8-2.3 .7-2.2 1.1-.6 2.3-.4 2.3 1.1 2.2 .9 2.2 1.3 2 1 2.2 .6 2.3 1.8 1.6 1.2 2 1.2 2.1 1.4 2 2.2 .8 1.8 1.6 1 2.2 .2 2.4 M1029.2 1715.3l1.9-1.5 1.6-1.8 1.1-2.1 1.9-1.5 2.4 .2 1.6 1.8 2.4 .4 1.9-1.3 2.1-1.2 1.2-2.1 2-1.3 1.1-2.1-.8-2.3 .4-2.3 1.1-2.1 .7-2.3 1.2-2.1 .3-2.4 1.2-2.1 2.3 .6 1.6 1.8 1.7 1.7 1.4 1.9 2.4-.1 2.4 0 2.2-.9 2.3-.8 2.3-.8 .6-2.4 .6-2.3-.1-2.4 .1-2.4-1.3-2-1.2-2-.3-2.4 .3-2.4-1.3-2.1-2.3 .6-2.2 1-2 1.2-1.6 1.8-1.6 1.8-2.4 .1-2.3-.8-2.4-.1-2.3-.6-2.1-1.1-2.2-1.1-2.3-.5-2.2-1-1.6-1.8-2.2 .9-2 1.3-1.9 1.5-1.9 1.4-2 1.3-2.2 .9-2.2-.9-1.1-2.2-1.6-1.8-.9-2.2-.6-2.3-1.3-2-1-2.2-2.1-1.1-2.2-.9-2.3-.7-2.2-1-2.4-.1-2.4 .4-2.2 .8-1.1 2.1-1.3 2-2.3 .6-2.4 .3 M745 1993.7l-1.8-1.6-.8-2.3-.1-2.4 1.1-2.1-1-2.2-.9-2.2 0-2.4-.5-2.4 .4-2.3-2-1.5-1.8-1.5-2.4-.4-2.3-.6-2.4-.5-2.3-.6-2.2-1-1.2-2 0-2.4 .4-2.4 1.7-1.7 1-2.2 1-2.2 1.2-2.1 2-1.3 2-1.2 1.8-1.7 1.5-1.8 1.3-2 1.3-2.1-.7-2.3-1.8-1.6-1.6-1.8-2.3 .6-1.8 1.6-2.2 1-2.4-.1-2.4-.5-2.1-1-2.2 1 M764.6 1854.7l-.5-2.3-2.3-.9-2.3-.4-2.3-.6-2.4-.4-1-2.2 .1-2.4 1.3-2 1.1-2.1 2.1-1.2 1-2.2 1.4-1.9 2.3-.7 2.4 .2 2.4-.1 2.4-.4 2.4-.1 2.3 .5 1.8 1.6 1 2.2 1.6 1.8 2.4 0 2.1-1.1 1.8-1.6 2-1.4 2.3-.2 2.4-.7 2.1-1 2.4-.2 2.2-1.1 1.9-1.4 2.2-.9 2.2-1.1 2.4 .1 2.3 .5 2.3-.5 2.3 1 2.3-.3 1.5 1.9 1.4 2 .9 2.2 .4 2.3-.2 2.4 1.9 1.4 2.3 .7 2.4 .1 2.2 1 1.9 1.5 1 2.2 1.5 1.9 1.6 1.7-.8 2.3-1.2 2-1.7 1.8-1.9 1.4-2 1.3 M656.9 1764.5l-.4-2.3-1.3-2.1 .3-2.4 .9-2.2 1.7-1.7 2.1-1.1 2.4 .1 1.2 2.1 1.2 2 1.1 2.2 1.2 2.1 2.2 1 2.4 0 2.3 .6 1.9-1.4 1.5-1.9 .6-2.3 .1-2.4 1.4-2 2.4 .1 1.6-1.8 2.3-.8 1.8-1.5 2.3-.7 1.4-2 .7-2.2 2.1-1.2 2.3-.6 1.7-1.8 1.5-1.9 1.7-1.6 2.2-1 2.2-1 .7-2.3-1.8-1.6-.5-2.3-.6-2.3-.6-2.3 .2-2.4 .5-2.4-.6-2.3 .2-2.4 .9-2.2 .8-2.3-1.7-1.6-.6-2.3-.5-2.4-.3-2.4-.2-2.4 .8-2.2-.2-2.4-.1-2.4 .8-2.3 2.1-1 2-1.3 2.4-.6 2.3-.6 2.4 .5 .8-2.2 1.9-1.5 2.4 .2 2.3 .4 2.4 .2 2.1-1.1 M974.1 1899.9l-.9 2.3-.8 2.2-.7 2.3-.5 2.4 .8 2.2 .3 2.4-1.5 1.8 .5 2.4 .8 2.3 1 2.1 1.9 1.5 .4 2.4 1.8 1.6 1.8 1.6 1.2 2.1 1 2.2-.2 2.4 .1 2.4-.4 2.3-.1 2.4 1.8 1.6 1.6 1.8 1.1 2.1-.2 2.4-.6 2.3-1.2 2.1-2.1 1.1-2.3 .7-2.4 .6-1.7 1.7-2.3 .7-2.4 .1-2.4-.1-2.2-.9-.3-2.4-.2-2.4 1.4-1.9 1-2.2 1.6-1.8 1.2-2.1 .3-2.3 .5-2.4 .8-2.3 1.5-1.8 1.9-1.5 2.3 .5 2.4 .4 2.4 0 2.4-.3 2 1.2 2.4 .7 2 1.2 2.3 .7 2.4-.1 2 1.4 2.1 1.2 1.9-1.4 .3-2.4 1.4-1.9 .7-2.3 1.4-2 1.9-1.4 1.5-1.9 1.4-2 1.2-2 .2-2.4 1.1-2.1 1.7-1.8 2.1 1.2 2.4-.1 M749.1 1840.2l-1.5 1.9-2 1.2-1.8 1.6-2.4-.3-2.1-1.1-2.2-1-2.4 0-2.4 .4-2.3 .6-1.7-1.7-2.2-.9-.7-2.3-.4-2.3 .1-2.4-.7-2.3-.8-2.3-.6-2.3 2.2-1 1.3-2 2-1.3 .7-2.3 .7-2.3 .2-2.4-.5-2.3-2.4 .1-2.4 .4-2.4 .2-2.3 .4-.6 2.3-.2 2.4 .1 2.4-.9 2.2-.7 2.3-1.8 1.6-1.9 1.4-2.3 .9-1.7 1.7-2 1.2-.2 2.4 1 2.2 2.1 1.2 2.4-.2 1.1-2.1 M912.4 1923.5l.6 2.3 2.3 .7 2.1 1 1.8 1.7 2.4 .3 2.2 .9 2.4-.2 .8-2.3 .7-2.3-.7-2.3-.4-2.4-1.9-1.5-.9-2.2-.7-2.3-1.7-1.7-2.2-.9-2.4-.1-2.4-.4-2.3 .7-2.4 .4-.9 2.2 .7 2.3-.4 2.4 1.6 1.8-.1 2.4 .5 2.4 1 2.2 .1 2.4 2.1 1.2 2.3 .6 2 1.3 2.4 .1 2.4 .1 M856.4 1925.1l1-2.2-.3-2.4-.9-2.2-.4-2.4-1.7-1.6-.6-2.4-.4-2.3-1.4-2-1.6-1.7-.5-2.4-.9-2.2-1.6-1.8-1.7-1.7-1.2-2.1-1.8-1.6-.1-2.4-2.2-1-2.3-.8-1.4-1.9-.7-2.3-1-2.2-1.4-1.9-1.9-1.5-.4-2.3 .4-2.4-.3-2.4-1-2.2-.1-2.4-.6-2.3-.4-2.3 .9-2.2-.2-2.4-.3-2.4 .3-2.4 0-2.4 .2-2.4-2-1.3-2.3-.7-.8-2.3-1.6-1.7-1.2-2.1-1.9-1.5-1.1-2.2-.1-2.4-.1-2.4 .3-2.3 .3-2.4 .9-2.3 1.6-1.7 1.3-2 1-2.2 1.3-2 1.2-2.1 1.8-1.6 1.7-1.7 .9-2.3 2.4 .1 2.2-.9 2.3-.7 2.3 .5 1.5 2 .7 2.3 0 2.4-1.2 2-1.7 1.7-1.4 2 .5 2.3-.4 2.4-.4 2.4-.2 2.4 .3 2.3 1.4 2 M985.8 2032.8l-1.6 1.8-2.4 .5-2 1.3-2 1.3-2.4 .5-2.3-.4-2.4-.2-2.4 .7-2.4 0-2.3 .3-2.4 0-2.4-.5-2.4-.3-2.3-.4-1.8-1.6-1.6-1.8-1-2.2-.6-2.3-1.1-2.1-1.7-1.7 .1-2.4-.8-2.2-.5-2.4-1.3-2-2.3 .8-2.4 .1-2.4 .2-2.1 1.1-2.4 .4-2.3 .7-2.2 .9-1.3 2-.2 2.4 1.9 1.5 .9 2.2 1.5 1.8 .3 2.4 M642.9 2094.1l1.7 1.6 1.1 2.1 1.8 1.6 2.2 1 1.8 1.6-.1 2.4-1.1 2.1-2.2 1.1-2.3 .5-2.4-.1-1.2-2 .3-2.4 .8-2.3 0-2.4-.4-2.3 1.3-2 2.1-1.3 .4-2.3 .8-2.3-.1-2.4 .1-2.4 1.3-2 2.3-.6 2.3-.9 2.3-.6 2 1.3 2.4-.3 2.4-.2 1.9-1.4 2.4-.1 2.3 .5 2.3 .8 1.9 1.5 2.2 .8 M621.4 2076l2.3 .5 2.4 .2 2.4 .5 2.3-.4 1.9-1.6 1.5-1.8 2.3-.8 2.4 .4 1.6-1.8 .3-2.3-.1-2.4 .8-2.3-.1-2.4-1.7-1.8 .2-2.3 0-2.4 1.6-1.9 2.2-.9 2.2-.8 2.2-1 1.8-1.6 1.3 2 2 1.3 2.3 .7 2.2 .8 2.1 1.3 2 1.3 2.4 .5 .9-2.2 1-2.2 2.3-.7 2.4-.3 M608 1997.1l.8-2.3 2-1.2 .7-2.3-1.2-2.1-1.4-1.9-1.4-2-2.2-.9-1.3-2-2-1.3-2.3-.6-1.1-2.2-.3-2.3-.5-2.4 .2-2.3 .1-2.4-1.9-1.5-2.4-.1-2.1-1.1-2.4-.5-2.2-.9-2.3-.6-2.4-.3-2.4 .5-2.3 .3-2.3 .9-2.1 1.1-2.4 .3-1.6 1.8 .8 2.2 .1 2.4-.5 2.4 .3 2.3 1.5 1.9 2.2 1.1 .9 2.2 2.1 1.2 2.2 1.1 .7-2.3-.4-2.4-1.1-2.1 M1003.5 1853.1l-2.3-.5-2.4 .4-2.1 1.2-2.2 .7-2.1-1.2-2.1-1.3-2.3-.5-2.1-1-2.4-.3-2.4 .2-2.2 .9-2.4 0-2.3 .9-2 1.3-1.7 1.7-.8 2.2 .6 2.3 1.8 1.6 .8 2.2 2 1.4 1.1 2.1 1.3 2.1 .1 2.4-1.2 2.1-1.7 1.6-.1 2.4-.5 2.4 .2 2.4-1.4 1.9-.1 2.4-.2 2.4 .7 2.3 1.1 2.1 .7 2.3-.9 2.2-.4 2.4-.9 2.2-1.3 2-2.1 1.2-1.4 1.9-2 1.3-1.1 2.2-1.4 1.9-.4 2.4-.2 2.4 1.3 2 1.8 1.6 2.2-1.1 .4-2.3-.8-2.3 M935.3 1679.6l-2.4 .3-2.2 .8-1.8 1.7-.6 2.3 1.9 1.4 1.8 1.6 2.2-1 .5-2.3-.4-2.4-.9-2.2 .5-2.4 .3-2.3-1-2.2-.4-2.4-.6-2.3-.6-2.4 1-2.2 2.2-.7 2.2-.9 2.4-.7 1.2-2 .4-2.4 .6-2.3-1.5-1.9-1.4-1.9-2.1-1.2-1.6-1.7-.9-2.3-.6-2.3-2-1.3-2.2-1-1.9 1.5 .5 2.3 .7 2.3 1.7 1.7 2.1 1.2 2.3-.3 2.1-1.2 2.3-.7 2.2-1 2.3 .3 2.4 .4 2.1 1.2 2.1 1.2 2.2 1 1.2 2 1.2 2.1 2.2 .9 1.2 2.1 1.9 1.3 .3 2.4-1 2.2-2.2 1-2.3 .7-2.3 .4 M956.4 1961.5l2-1.3 .9-2.2-.5-2.3 .2-2.4 1.1-2.1 2-1.5 2.3-.2 2.4-.1 2.4 .6 2.2 .9 2.3 .4 2.3-.9 2.2-1 1.9-1.4 1.8-1.6 2-1.4 .8-2.2 2-1.3 1-2.2 1.9-1.5 1.5-1.9 2.3-.6 2.4 .6 2.3 .3 2.2-1.1 1-2.1 1.6-1.8 1.3-2 2.1-1.2 2.2-1 2.2-1.1 2.2-.8 2.2-.9 2.4-.1 2.1-1.1 2.4-.2 2.4-.1 2.1-1.2 1.6-1.8 2.3-.7 1.9 1.5-.6 2.3-2.1 1.2-2 1.3-1.7 1.7-.6 2.3 .3 2.4 2 1.3 2.3 .4 1.3 2 .3 2.4 .1 2.4 .2 2.4 1 2.2 2.2 1 2.2 .9 M899.3 2035.8l-1.5 1.9-1.1 2.1-1 2.2-1.8 1.6-.8 2.2 1.3 2.1 1.7 1.6 1.5 1.9 .7 2.3-2.2 1-2.3-.7-2.4-.3-2.3-.3-2.4-.4-1.7-1.7-2.2-.9-2.3-.9-1.8-1.5-2.4 0-2.3-.6-2.2-1-2.4-.3-1.9-1.4-1.6-1.8-2-1.2-.4-2.4-2.3-.7-2.3-.6-2.4-.4-2.3 .3-2.4 .5-2.1 1.2-1.7 1.6-2.2 1-2.4 .1-1.9-1.4-2-1.5-1-2.1-2.1-1.2-2.2-.9-2.3-.7-1.9-1.5-2.4-.4-2.1-1-2.3 .9-1.4 1.9-2 1.3-2.4 .3-2.3-.2-2.4 .2-2.2 1.1 M711.8 1892.6l-1.3 2-1.1 2.1-1.5 1.9-1 2.2 0 2.4 1.1 2.2-.2 2.3 .1 2.4-.5 2.4 .2 2.4 2 1.4 1.8 1.5 1.7 1.7 2.4 .4 2.2 .8 2.4-.4 .5-2.3 2.2-1 2.4 .1 2.4-.2 2.2 .8 2.4 0 2.4 .4 2.4 .3 2.4 .3 2.4 .2 2.4-.2 2.4 0 2.3 .7 1.3 2 .6 2.3 1.3 2.1 2 1.3 1.7 1.6 1.6 1.8 2.4 0 2.4 0 2.4-.3 2.2-1 2.4-.3 2.3-.6 2.4-.1 1.9 1.5 2.3 .4 2.4 .5 2.4 .1 2.4-.2 2.3 .1 2.3-.8 .9-2.2 1.8-1.7-.3-2.3-.7-2.3-.4-2.4-.7-2.3-.9-2.2-2.1-1.1-1.6-1.9-2-1.3-1.9-1.4-2.4-.2-2.1-1.2-2.4-.2-1.2-2.1-2.2 1-2.1 1.2-2.4-.3-2.3-.3-2.4-.3-1-2.2-.9-2.3-1.6-1.7 M1046.5 1831.5l-1.6-1.9-1.6-1.7-1.5-1.9-2.3-.6-2.4 .2-1.9-1.5-.5-2.3-1.9-1.5-1.1-2.2 .5-2.3 1.6-1.8 2.1-1.2 1.3-2 .5-2.4 1.8-1.5 1.6-1.8 1.6-1.8 2.2-1 1.5-1.8 2.1-1.3 0-2.4-.9-2.2-1.7-1.7-1.2-2.1-1.7-1.8-1.7-1.6 .2-2.4-.6-2.3-1.3-2-1.2-2.1-2.3 .4-2.4-.5-2.3 .4-2.2 1.1-.2 2.4-1.7 1.7-1 2.2-.2 2.3 .4 2.4-2.3 .8-2.4 0-2.4 .2-2.4-.3-2.4 .2-2.4-.1-2.3-.5-2 1.3-2 1.4-2.3 .5-2.1 1.3-2.2 .9-2.4-.1-2.2-.9 M701.1 1974.1l1-2.1 2-1.4 1.2-2-1-2.2-2.3-.8-2.2-.8-2-1.4-2.2 .8-1.8 1.6-.9 2.2-1.7 1.7-2.3 .6-2.3-.9-1.8-1.5-2.3-.7-2.3-.8-2.2 .8-2.4 .4-2.3 .8-1.4 1.9 1.8 1.6 2.2 1 2.4 0 2.3-.4 2.4 .1 1.7-1.7 1.6-1.8 1.7-1.7-.3-2.4 1.6-1.8-.2-2.4 1-2.2 2.2-.9 1.9-1.4 2.3 .9 1.4 1.9 1.1 2.1 1.6 1.8 1.4 2 2.2 .9 2.1 1.1 2.2 1 2.3 .5 2.3 .9 1.9-1.5 .7-2.2 .2-2.4 .1-2.4 2.3-.8 2.3-.7 2.4 .2 1.9 1.5 2 1.3 1.9 1.5 2.4 .1 2.1-1.1 2.1 1.2 1.9 1.5 1.5 1.9 1.1 2.1 .1 2.4 M874.3 1949.3l2.1-1.1 2.2-.9 2.4-.3 .7-2.3 .4-2.4-1.2-2-1.8-1.6-2.3-.8-2.4 .1-2.1 1.2-1.6 1.7-1 2.2-1.7 1.7-2.4 0-2.3-.7-2.1-1.1-2.2-1.1-1.4-1.9-2.3-.8-2.2 1-2.2 1-2.1 1.1-2.3 .5-2.2 1-2.3 .6-2 1.3-1.9 1.5-.9 2.2-1.4 1.9-2.4-.4-1.6-1.8-2.3-.4-.9-2.2-1.6-1.8-2.3 .5-2.4 0-2.4 .6-2-1.3-2.4 .2-2.4 .3-2.4 0-2.2-.9-2.4 .2-1.7-1.7-2.1-1.2-2.2 .8-1.2 2.1-1.2 2.1-1.2 2-1.5 2-2.3 .6-2.4-.5-2.2 1-2.2 .7-2.2 1.1-2.3-.8-2.3 .5-2.4-.2-2.3-.5-2.3-.8-2.3-.8-2.4 .1-2.4 0-2.2 .7-2.4 .6-1.8-1.6-.7-2.3 0-2.4-.9-2.3 .7-2.3 1.5-1.8 2.3-.6 2-1.3 2.3 .7 2.4 .5 2.3-.8 M988.1 1807.1l-.5 2.4 .6 2.4 .4 2.3-.1 2.4-1.7 1.7-1.4 2 .9 2.2-.2 2.4 0 2.4 .4 2.4 .6 2.3 .2 2.4-1.2 2.1 .4 2.4 1.6 1.8 1.6 1.7 .5 2.4-1.3 2-1.1 2.1-2.2 1-2.3 .8-2.3-.5-2.4 0-2.4 0-2.3 .9-1.4 1.9-1.9 1.5-1.5 1.8-1.2 2.1-2 1.4 M814.2 1699.1l2.3 .6 2.4 .2 2.1 1 2.3-.6 1.9-1.5 1.8 1.6 2.3 .7 2.4 .2 2.3-.5 2.3-.8 2.4 0 2.1 1 .3 2.4 .3 2.4 .2 2.4 .7 2.3 .3 2.4 .9 2.2 1.2 2.1 1.3 2 .9 2.2 1 2.2-.2 2.4 .6 2.3 1.9 1.5 2.3-.4 1.8-1.6 1.2-2.1 1.9-1.5 1.8-1.6 2-1.3 2.4-.2 2.3 .6 1.5 1.9 1.7 1.7 1.3 2 2.1 1.2 2.2 .9 1.8 1.5 2 1.5 M911.9 1777.7l.4-2.4-1.5-1.9-2.3 .2-2.3 .7-2.4-.2-2.2 1-2.4 .6-2.3 .3-2.4 .4-2.4-.4-2.4 .1-2.3-.6-1.8-1.7-1.9-1.3-2.3-.8-2.4 .4-1.6 1.8-1.9 1.5-2.2 .8-2.3 .6-2.1 1.2-2.2 1-2.1 1.1-2.4 .5-2 1.2-1.8 1.6-1.9 1.5-1.7 1.7-.2 2.4-.8 2.3-.7 2.3-1.7 1.6 M715 1720.8l2.3-.8 1.6-1.8 2.1-1.1 .8-2.2-.2-2.4-.7-2.3 1.6-1.7 1-2.2 .6-2.3 .9-2.3-.4-2.3-1.3-2-2.4-.4-2.3-.6-2.2-1-2.2-.8-2.4-.5-2.3-.4-.6-2.4-.3-2.3-1-2.2-.9-2.3-1.8-1.5-.3-2.4-.1-2.4 .5-2.3 2.4 0 2.2-.8 1.6-1.9 1.3-2 1.9-1.4 1.6-1.8 2.3-.7 2.4 .2 2.1-1.1 1.6-1.8 1.6-1.8 1.2-2.1 1.7-1.7 1.9-1.4 1.7-1.7 1.7-1.7 2.1-1.2 2.4 .4 .9 2.2 1.9 1.5 .8 2.2 2.1 1.3 2.4-.1 2.2-1 1-2.2 2.4 0 2.2 .9 1.7 1.6 2.3 .8 1.9 1.5 2.3 .4 1.4 1.9 .9 2.3 1 2.1 2 1.5 2.3 .2 1.1 2.1 .8 2.3-1.6 1.8-.8 2.2-1.8 1.7-1.2 2-2.1 1.3-2.4 .1-2.4 .1-1.9-1.5-1.9-1.4-2.4 .2-2.4-.2-2.3 .4 M730.5 2054.7l-.8 2.2-1.1 2.2-1.7 1.7-2.4 .2-1.6 1.8-.4 2.3-.3 2.4 .8 2.3 .4 2.3-.3 2.4 .9 2.2 1.1 2.1 .6 2.4-1 2.2-1 2.2 .3 2.4 1.8 1.5 2.1 1.3 2.2 1 1.8 1.5 1.8 1.6 2.2 .8 1.8 1.6 1.8 1.6 2.4-.2 2.4-.2 1.8 1.6 2 1.4 2.1 1.2 .7 2.3 .9 2.2 1.4 2 .6 2.3 .4 2.4 0 2.4-.3 2.4 .4 2.3-.5 2.4-1.7 1.7-2 1.3-2.3 .5 M1026.1 2074l2.2 1 1.3 2 1.4 1.9 2.3 .9 2 1.2 1.8 1.6 1.6 1.8 1.7 1.7 1.9 1.4 .6 2.3-.5 2.4-.9 2.2-1.9 1.4-2.2 .9-2.3 .8-2.3 .7-2.2-.9-2.4-.2-2.3-.6-2.1-1.2-2.4 .1-2.4 0-2.3 .7-1.7-1.7-.9-2.2-1.3-2.1-1.9-1.3-2.2-1.1-1.9-1.5-2.4 .2-2.1 1-2 1.4-2.4 .1-2.2-.8-2.4 .6-1.6 1.8-.8 2.2 .4 2.4-2.4 .5-1.3 1.9-2.2 1.2-2.3-.5-2.3-.6-1.8-1.7-1.6-1.7 1.9-1.5 2.4 .4 2.2 .9 2.3 .7 2.1-1.3 2.4 0 1.7-1.6 .6-2.4 M776.6 1886.7l-1.5-1.8-2.1-1.1-2.3 .7-.4 2.4-1 2.2 1.1 2.1 1.2 2.1 .9 2.2-1.5 1.8-1.1 2.2-.9 2.2 1.3 2 2.1-1.1 2.4 .5 2.4-.1 2.3 .7 2.4-.1 2.4 .3 2.2-.9 1.3-2.1 1.5-1.8 2-1.4 2.4 .1 2 1.2 2.3 .8 2.3 .7 2.4 .1 2.3-.3 1.9-1.5 .8-2.3 1.7-1.6 2.4-.4 2.2-1 2.3-.5 2.2-1.2 2.3-.5 2.1-1.1 2.3 .9 1.5 1.8 2.2 1 2.4 0 2.4-.3 2.3-.5 2.4-.5 2.4-.1 2.3-.6 2.4-.1 2-1.3 2.3 .6 2.4 .5 2.2-.9 .3-2.3 1-2.2 .3-2.4 1.4-1.9 1.4-2 2.4 0 2.3-.7 2.3-.5 2-1.4 .2-2.4-1-2.2-1.1-2.1-.1-2.4 1.3-2 .8-2.3" fill="none" stroke="#cc8c40" stroke-width="1.3" stroke-linecap="round" stroke-linejoin="round" stroke-dasharray="2 1.2" opacity="0.8"/>
<path d="M1034.1 1709.2l-.5 1.9-1.3 1.8-2.7-.3-1.6-.9-2.7 .9-1.8-1.4 .5-2 .3-1.7 1.7-1 1.5-1.4 2.5-.7 1 2.4 1.1 1Z M824.7 1983.8l-.6 1.6-1.5 1.3-2.2 .3-2.9 2.6-2.7-1.7 1.1-2.9-1.7-1.2 .4-1.7 .9-1.8 2.1-2 2.8 2.3 2 .3 3.7 .5Z M658.3 1724.6l0 2-1.8 .7-1.2 1.2-2 1.5-.9-2.5-.5-1.6-1.2-1.3 .3-1.9 .4-2.4 2.1-.3 1.5 2 1.8-.6 1.6 1.1Z M720.7 2035.2l.6 1.9-1.8 .7-1.4-.2-1.2 1.3-1.7-.3-1.5-1.3 .1-2.1 2.1-.9 .1-1.3 .8-2 1.7 .3 1.5 .7 .6 1.7Z M1039.1 2030l.8 2.3-2.6 1-2.4-.1-1.7-.1-1.7-.5-2-.8-.2-1.8 .8-1.5 .4-1.9 2.3-.9 2.2 1 1.2 1.1 .8 1.1Z M803.6 2071.5l.1 2.2-.8 2.1-1.7 .3-1.1-1.8-1.1-.1-1.7-.5-.5-2.2 .5-2.2 1.4-1 1.2-.5 1.4-1.1 1.1 1.4 .4 1.8Z M904.4 1798.8l.3 1.7-1.6 .8-1.8-.8-1.3 1.6-1.9-.3-.7-1.5-1-1.5 1.8-1.1 .8-.9 .8-1.8 1.7 1.2 1.4 .3 1.9 .7Z M867.9 1725.3l.4 2.1-1.8 1.3-2.2-.1-2 1.4-1.9-1.1-.2-2.1-1-1.5 .6-1.6 .6-2 1.8-1.9 2.2 2 1.3 1 2 .7Z M736.2 1742.2l-.4 1.7-1.5 .4-1 .4-1.1 1.5-1.7-.3-.8-1.8 .4-1.9 .9-1.2 .2-1.6 .9-1.3 1.4 .5 1.2 .6 1.1 1.2Z M1021.8 1978.1l0 1.5-.6 1.6-1.3 2.1-2.1-1.8-.4-1.9-1.6-.2-.7-1.3-.5-1.9 1.1-1.7 2.3 .8 1.5-.6 1.8 .2-.2 2Z M889.4 2087.6l-1.2 1.5-1.2 .7-1.3-.2-.9 .2-2 .9-1.2-1.3 .5-1.8 .4-1.3 1.2-.6 1-.7 1.3-.5 .9 1.1 1.4 .6Z M641.1 1963.6l-.4 2.2-2.5 .1-.9 1.2-1.8 1.5-2-1-1.4-1.7 1.2-2.3 .8-1.2-.5-2.7 1.9-.9 1.9 .7 1.7 .6 .8 1.8Z M852.6 1976.1l-1 1.4-.7 1-.5 3.1-1.7-.1-.9-2.2-1.4-1 0-2.2 .3-1.9 .9-1.6 1.5 .8 1.1-1.6 2.2-.9 .5 2.9Z M943 1862.9l.8 1.9-1.2 1.4-1.5 .6-1.2-1.2-.7-.9-2 0-.5-1.8 1-1.5 .7-1.4 1.4-.2 1.3-.5 1.4 .5-.2 2Z" fill="none" stroke="#bc6a2e" stroke-width="1.3" stroke-linejoin="round" opacity="0.75"/>
<ellipse cx="727.4" cy="2022.1" rx="7.1" ry="4.8" fill="#e8c878" opacity="0.9"/>
<ellipse cx="974.5" cy="1768.5" rx="4.6" ry="3.1" fill="#e8c878" opacity="0.9"/>
<ellipse cx="1012" cy="1997.9" rx="5.1" ry="3.4" fill="#e8c878" opacity="0.9"/>
<ellipse cx="779.8" cy="1938.5" rx="5" ry="3.3" fill="#e8c878" opacity="0.9"/>
<ellipse cx="810.4" cy="1779.7" rx="4.5" ry="3" fill="#e8c878" opacity="0.9"/>
<ellipse cx="732.4" cy="1930.8" rx="5.3" ry="3.5" fill="#e8c878" opacity="0.9"/>
<ellipse cx="825" cy="2036.8" rx="5" ry="3.3" fill="#e8c878" opacity="0.9"/>
<circle cx="665.8" cy="1826.9" r="1.6" fill="#fff4dc"/>
<circle cx="726.1" cy="1894.6" r="1.9" fill="#fff4dc"/>
<circle cx="1008.7" cy="1949.7" r="1.8" fill="#fff4dc"/>
<circle cx="866" cy="1924" r="1.5" fill="#fff4dc"/>
<circle cx="786.1" cy="1824.9" r="1.8" fill="#fff4dc"/>
<circle cx="956.6" cy="1950.5" r="2.3" fill="#fff4dc"/>
<circle cx="906.9" cy="1866" r="1.6" fill="#fff4dc"/>
<circle cx="990.5" cy="2110.7" r="2" fill="#fff4dc"/>
<circle cx="830.7" cy="1750.3" r="1.5" fill="#fff4dc"/>
<circle cx="852.8" cy="1839.3" r="1.9" fill="#fff4dc"/>
<circle cx="877.8" cy="2023.8" r="1.3" fill="#fff4dc"/>
<circle cx="880.9" cy="1721.2" r="1.9" fill="#fff4dc"/>
<circle cx="940.3" cy="1762.5" r="1.6" fill="#fff4dc"/>
<circle cx="793.4" cy="1850.8" r="1.7" fill="#fff4dc"/>
<circle cx="808.9" cy="1806.2" r="1.9" fill="#fff4dc"/>
<circle cx="757.2" cy="2065.4" r="1.5" fill="#fff4dc"/>
<circle cx="689.5" cy="2046.6" r="2" fill="#fff4dc"/>
<circle cx="701.9" cy="1807.4" r="1.4" fill="#fff4dc"/>
<circle cx="1001.5" cy="1947.6" r="1.7" fill="#fff4dc"/>
<circle cx="809.7" cy="1863.9" r="2.2" fill="#fff4dc"/>
<circle cx="970.9" cy="1935.6" r="2.1" fill="#fff4dc"/>
<circle cx="674.5" cy="1722.3" r="1.6" fill="#fff4dc"/>
<circle cx="902.1" cy="2116.2" r="1.7" fill="#fff4dc"/>
<circle cx="642.2" cy="1854.1" r="1.7" fill="#fff4dc"/>
<circle cx="673.6" cy="2113.3" r="2.2" fill="#fff4dc"/>
<circle cx="720" cy="1760.6" r="1.5" fill="#fff4dc"/>
<circle cx="623" cy="1880" r="1.6" fill="#fff4dc"/>
<circle cx="716.9" cy="1920.7" r="1.7" fill="#fff4dc"/>
<circle cx="1001.2" cy="1731.1" r="2.1" fill="#fff4dc"/>
<circle cx="995" cy="1786.1" r="2" fill="#fff4dc"/>
<circle cx="728.5" cy="2107.8" r="2.2" fill="#fff4dc"/>
<circle cx="850.9" cy="1695.2" r="1.9" fill="#fff4dc"/>
<circle cx="718.5" cy="2035.7" r="1.6" fill="#fff4dc"/>
<circle cx="1036.2" cy="2061.9" r="1.5" fill="#fff4dc"/>
<circle cx="817.2" cy="1928" r="2.1" fill="#fff4dc"/>
<circle cx="938.7" cy="2057.2" r="1.3" fill="#fff4dc"/>
<circle cx="1044" cy="2013.8" r="1.6" fill="#fff4dc"/>
<circle cx="910.8" cy="2040.8" r="1.9" fill="#fff4dc"/>
<circle cx="772.9" cy="1804.4" r="1.8" fill="#fff4dc"/>
<circle cx="968" cy="1724.4" r="1.7" fill="#fff4dc"/>
<circle cx="873.7" cy="2050.8" r="1.4" fill="#fff4dc"/>
<circle cx="725.3" cy="1837.5" r="1.7" fill="#fff4dc"/>
<circle cx="821.5" cy="1761.5" r="1.4" fill="#fff4dc"/>
<circle cx="803.6" cy="1696.3" r="1.7" fill="#fff4dc"/>
<circle cx="1008.6" cy="1856.1" r="1.8" fill="#fff4dc"/>
<circle cx="650" cy="1965.7" r="1.5" fill="#fff4dc"/>
<circle cx="707.8" cy="1990.7" r="1.6" fill="#fff4dc"/>
<circle cx="661.9" cy="1888" r="1.8" fill="#fff4dc"/>
<circle cx="1004.7" cy="1800.1" r="2.1" fill="#fff4dc"/>
<circle cx="1027.4" cy="2102.6" r="2" fill="#fff4dc"/>
<circle cx="660.8" cy="1945.3" r="1.4" fill="#fff4dc"/>
<circle cx="990.9" cy="1841" r="2.2" fill="#fff4dc"/>
<circle cx="622.3" cy="2078.1" r="2" fill="#fff4dc"/>
<circle cx="805.9" cy="2002" r="1.5" fill="#fff4dc"/>
<circle cx="735.9" cy="2033.8" r="1.9" fill="#fff4dc"/>
<circle cx="906.1" cy="1947" r="1.7" fill="#fff4dc"/>
<circle cx="741.7" cy="1728.2" r="1.6" fill="#fff4dc"/>
<circle cx="774.6" cy="2093.4" r="1.7" fill="#fff4dc"/>
<circle cx="930.9" cy="2113.4" r="2" fill="#fff4dc"/>
<circle cx="615.4" cy="1785.3" r="1.3" fill="#fff4dc"/>
<circle cx="769.7" cy="2029.5" r="1.3" fill="#fff4dc"/>
<circle cx="776.8" cy="1957.3" r="2.1" fill="#fff4dc"/>
<circle cx="902.7" cy="1839.6" r="1.8" fill="#fff4dc"/>
<circle cx="775.3" cy="1719.8" r="2.1" fill="#fff4dc"/>
<circle cx="1006.5" cy="1867.9" r="1.7" fill="#fff4dc"/>
<circle cx="995.9" cy="2038.5" r="1.7" fill="#fff4dc"/>
<circle cx="689.1" cy="1740.5" r="1.8" fill="#fff4dc"/>
<circle cx="857.4" cy="1890.1" r="2" fill="#fff4dc"/>
<circle cx="893.3" cy="1740.2" r="2.3" fill="#fff4dc"/>
<circle cx="629.2" cy="1710.8" r="1.6" fill="#fff4dc"/>
<circle cx="938.6" cy="1894.2" r="1.7" fill="#fff4dc"/>
<circle cx="633.4" cy="1931.4" r="1.7" fill="#fff4dc"/>
<circle cx="684.6" cy="2025.2" r="1.8" fill="#fff4dc"/>
<circle cx="696" cy="1962.7" r="1.4" fill="#fff4dc"/>
<circle cx="799.5" cy="2069" r="2.3" fill="#fff4dc"/>
<circle cx="927.3" cy="1859.8" r="1.6" fill="#fff4dc"/>
<circle cx="857.7" cy="2000.5" r="1.9" fill="#fff4dc"/>
<circle cx="914.6" cy="1804.2" r="1.7" fill="#fff4dc"/>
<circle cx="922" cy="1695.5" r="1.4" fill="#fff4dc"/>
<circle cx="751.3" cy="1933.8" r="2" fill="#fff4dc"/>
<circle cx="813.9" cy="2112.4" r="2.2" fill="#fff4dc"/>
<circle cx="852.7" cy="2106.4" r="1.9" fill="#fff4dc"/>
<circle cx="623.3" cy="2002.1" r="1.9" fill="#fff4dc"/>
<circle cx="632.2" cy="2072.1" r="2.1" fill="#fff4dc"/>
<circle cx="982.7" cy="2025.6" r="2" fill="#fff4dc"/>
<circle cx="759.7" cy="1890.7" r="1.6" fill="#fff4dc"/>
<circle cx="693.8" cy="1807" r="2.2" fill="#fff4dc"/>
<circle cx="1037.4" cy="1744.6" r="2.3" fill="#fff4dc"/>
<circle cx="794.3" cy="1953.3" r="1.9" fill="#fff4dc"/>
<circle cx="841.5" cy="1774.5" r="2.1" fill="#fff4dc"/>
<circle cx="910.4" cy="1951.3" r="1.8" fill="#fff4dc"/>
<circle cx="970.4" cy="1893.6" r="1.7" fill="#fff4dc"/>
<circle cx="651.2" cy="1755.4" r="2.2" fill="#fff4dc"/>
<circle cx="1020.2" cy="1687.6" r="1.4" fill="#fff4dc"/>
<circle cx="864.3" cy="1973.5" r="2.2" fill="#fff4dc"/>
<circle cx="1011.5" cy="1924.9" r="1.3" fill="#fff4dc"/>
<circle cx="778.2" cy="1732" r="1.9" fill="#fff4dc"/>
<circle cx="936.8" cy="1922.5" r="1.7" fill="#fff4dc"/>
<circle cx="932.5" cy="1777.2" r="1.9" fill="#fff4dc"/>
<circle cx="937" cy="2025" r="1.6" fill="#fff4dc"/>
<circle cx="673.7" cy="1829.6" r="1.4" fill="#fff4dc"/>
<circle cx="731.2" cy="1868.6" r="2.3" fill="#fff4dc"/>
<circle cx="1011" cy="1963" r="2.2" fill="#fff4dc"/>
<circle cx="850.6" cy="1931.2" r="1.6" fill="#fff4dc"/>
<circle cx="781.5" cy="1823.4" r="2.3" fill="#fff4dc"/>
<circle cx="923" cy="1957.5" r="1.6" fill="#fff4dc"/>
<circle cx="904" cy="1887.6" r="2.3" fill="#fff4dc"/>
<circle cx="977.3" cy="2110.4" r="2.2" fill="#fff4dc"/>
<circle cx="866.7" cy="1763.2" r="2.3" fill="#fff4dc"/>
<circle cx="847.2" cy="1818.3" r="1.9" fill="#fff4dc"/>
</g>
<clipPath id="clip2"><rect x="1058" y="1687.5" width="434" height="433.5"/></clipPath>
<g clip-path="url(#clip2)">
<rect x="1058" y="1687.5" width="434" height="433.5" fill="#441310"/>
<rect x="1058" y="1687.5" width="434" height="433.5" fill="#000" filter="url(#grain)"/>
<rect x="1058" y="1691.9" width="434" height="1.2" fill="#140302" opacity="0.1"/>
<rect x="1058" y="1697.1" width="434" height="2.2" fill="#6a2414" opacity="0.1"/>
<rect x="1058" y="1715.2" width="434" height="3.4" fill="#140302" opacity="0.2"/>
<rect x="1058" y="1723.1" width="434" height="2.5" fill="#6a2414" opacity="0.1"/>
<rect x="1058" y="1728.4" width="434" height="3.9" fill="#140302" opacity="0.1"/>
<rect x="1058" y="1737.3" width="434" height="3.6" fill="#140302" opacity="0.1"/>
<rect x="1058" y="1740.9" width="434" height="2.2" fill="#140302" opacity="0.1"/>
<rect x="1058" y="1746" width="434" height="3" fill="#6a2414" opacity="0.1"/>
<rect x="1058" y="1750" width="434" height="1.3" fill="#6a2414" opacity="0.1"/>
<rect x="1058" y="1751.3" width="434" height="2.2" fill="#140302" opacity="0.1"/>
<rect x="1058" y="1755.9" width="434" height="1.3" fill="#140302" opacity="0.1"/>
<rect x="1058" y="1757.2" width="434" height="2.1" fill="#140302" opacity="0.1"/>
<rect x="1058" y="1765.5" width="434" height="1.8" fill="#6a2414" opacity="0.1"/>
<rect x="1058" y="1767.3" width="434" height="2.9" fill="#140302" opacity="0.1"/>
<rect x="1058" y="1775.8" width="434" height="3.5" fill="#140302" opacity="0.1"/>
<rect x="1058" y="1779.3" width="434" height="3.3" fill="#140302" opacity="0.1"/>
<rect x="1058" y="1782.6" width="434" height="3.4" fill="#6a2414" opacity="0.1"/>
<rect x="1058" y="1786" width="434" height="3.8" fill="#6a2414" opacity="0.1"/>
<rect x="1058" y="1793.4" width="434" height="3.2" fill="#140302" opacity="0.1"/>
<rect x="1058" y="1796.7" width="434" height="2" fill="#140302" opacity="0.1"/>
<rect x="1058" y="1803.1" width="434" height="2" fill="#140302" opacity="0.1"/>
<rect x="1058" y="1805.1" width="434" height="3" fill="#140302" opacity="0.1"/>
<rect x="1058" y="1808.1" width="434" height="2.4" fill="#140302" opacity="0.1"/>
<rect x="1058" y="1810.5" width="434" height="1.2" fill="#6a2414" opacity="0.1"/>
<rect x="1058" y="1814" width="434" height="2.9" fill="#140302" opacity="0.1"/>
<rect x="1058" y="1824" width="434" height="3.2" fill="#140302" opacity="0.1"/>
<rect x="1058" y="1837.6" width="434" height="1.5" fill="#140302" opacity="0.1"/>
<rect x="1058" y="1846.6" width="434" height="2.4" fill="#140302" opacity="0.2"/>
<rect x="1058" y="1849" width="434" height="1.8" fill="#140302" opacity="0.1"/>
<rect x="1058" y="1855.2" width="434" height="1.1" fill="#6a2414" opacity="0.1"/>
<rect x="1058" y="1871.4" width="434" height="3.1" fill="#6a2414" opacity="0.1"/>
<rect x="1058" y="1883" width="434" height="3.5" fill="#140302" opacity="0.1"/>
<rect x="1058" y="1886.5" width="434" height="3.8" fill="#140302" opacity="0.1"/>
<rect x="1058" y="1890.3" width="434" height="2" fill="#6a2414" opacity="0.1"/>
<rect x="1058" y="1899.3" width="434" height="3.8" fill="#6a2414" opacity="0.1"/>
<rect x="1058" y="1903" width="434" height="3.9" fill="#140302" opacity="0.1"/>
<rect x="1058" y="1906.9" width="434" height="3.7" fill="#140302" opacity="0.1"/>
<rect x="1058" y="1910.6" width="434" height="3.5" fill="#140302" opacity="0.1"/>
<rect x="1058" y="1917" width="434" height="3.8" fill="#6a2414" opacity="0.1"/>
<rect x="1058" y="1920.8" width="434" height="2.3" fill="#6a2414" opacity="0.1"/>
<rect x="1058" y="1923.2" width="434" height="1" fill="#6a2414" opacity="0.1"/>
<rect x="1058" y="1924.2" width="434" height="3.1" fill="#140302" opacity="0.1"/>
<rect x="1058" y="1927.3" width="434" height="3" fill="#140302" opacity="0.1"/>
<rect x="1058" y="1930.2" width="434" height="1.3" fill="#140302" opacity="0.1"/>
<rect x="1058" y="1939.6" width="434" height="3.5" fill="#140302" opacity="0.1"/>
<rect x="1058" y="1943.2" width="434" height="2.7" fill="#140302" opacity="0.1"/>
<rect x="1058" y="1945.8" width="434" height="1.1" fill="#6a2414" opacity="0.1"/>
<rect x="1058" y="1946.9" width="434" height="3.8" fill="#140302" opacity="0.1"/>
<rect x="1058" y="1950.8" width="434" height="3.2" fill="#6a2414" opacity="0.1"/>
<rect x="1058" y="1958" width="434" height="1.5" fill="#6a2414" opacity="0.1"/>
<rect x="1058" y="1962.6" width="434" height="1.8" fill="#6a2414" opacity="0.1"/>
<rect x="1058" y="1964.4" width="434" height="3.7" fill="#6a2414" opacity="0.1"/>
<rect x="1058" y="1969.6" width="434" height="1.4" fill="#140302" opacity="0.1"/>
<rect x="1058" y="1973.1" width="434" height="2.2" fill="#140302" opacity="0.1"/>
<rect x="1058" y="1975.4" width="434" height="2.5" fill="#140302" opacity="0.1"/>
<rect x="1058" y="1981.4" width="434" height="1.5" fill="#6a2414" opacity="0.1"/>
<rect x="1058" y="1982.9" width="434" height="3.4" fill="#6a2414" opacity="0.1"/>
<rect x="1058" y="1995" width="434" height="1.3" fill="#6a2414" opacity="0.1"/>
<rect x="1058" y="1996.3" width="434" height="1.7" fill="#6a2414" opacity="0.1"/>
<rect x="1058" y="2001.9" width="434" height="1.4" fill="#6a2414" opacity="0.1"/>
<rect x="1058" y="2007" width="434" height="2.2" fill="#6a2414" opacity="0.1"/>
<rect x="1058" y="2012.8" width="434" height="1.3" fill="#6a2414" opacity="0.1"/>
<rect x="1058" y="2016.3" width="434" height="2.3" fill="#140302" opacity="0.1"/>
<rect x="1058" y="2029.1" width="434" height="1.5" fill="#140302" opacity="0.1"/>
<rect x="1058" y="2030.6" width="434" height="1.4" fill="#6a2414" opacity="0.1"/>
<rect x="1058" y="2032" width="434" height="2.9" fill="#6a2414" opacity="0.1"/>
<rect x="1058" y="2034.8" width="434" height="2" fill="#140302" opacity="0.1"/>
<rect x="1058" y="2036.8" width="434" height="2.2" fill="#6a2414" opacity="0.1"/>
<rect x="1058" y="2039" width="434" height="1.6" fill="#6a2414" opacity="0.1"/>
<rect x="1058" y="2049.5" width="434" height="2.2" fill="#6a2414" opacity="0.1"/>
<rect x="1058" y="2060.9" width="434" height="2.7" fill="#140302" opacity="0.1"/>
<rect x="1058" y="2063.7" width="434" height="1.4" fill="#140302" opacity="0.1"/>
<rect x="1058" y="2065" width="434" height="2.1" fill="#140302" opacity="0.1"/>
<rect x="1058" y="2070.4" width="434" height="2.5" fill="#6a2414" opacity="0.1"/>
<rect x="1058" y="2075.7" width="434" height="1.9" fill="#6a2414" opacity="0.1"/>
<rect x="1058" y="2077.5" width="434" height="1.5" fill="#6a2414" opacity="0.1"/>
<rect x="1058" y="2080.2" width="434" height="1.7" fill="#6a2414" opacity="0.1"/>
<rect x="1058" y="2081.9" width="434" height="1.5" fill="#6a2414" opacity="0.1"/>
<rect x="1058" y="2086.2" width="434" height="3.4" fill="#140302" opacity="0.1"/>
<rect x="1058" y="2089.7" width="434" height="1" fill="#6a2414" opacity="0.1"/>
<rect x="1058" y="2094.5" width="434" height="2.9" fill="#140302" opacity="0.1"/>
<rect x="1058" y="2099.5" width="434" height="3.3" fill="#6a2414" opacity="0.1"/>
<rect x="1058" y="2104.5" width="434" height="3.2" fill="#140302" opacity="0.1"/>
<rect x="1058" y="2107.7" width="434" height="3.9" fill="#140302" opacity="0.1"/>
<rect x="1145.1" y="1717.7" width="76.3" height="3" fill="#0a0101" opacity="0.45"/>
<path d="M1140.3 1753l-1.9 1.5-2 .6-1.1 1.5-2.3 0-3 .2-1.9-1.7 2.5-2.1 0-1.3 .3-1.7 2.1-.6 2.5-1 1.9 1.5 .8 1.6Z M1204.9 1874.9l.4 1.5-1.2 1.4-2.2 1-2.6-.2-1.5-1.4-2.7-.5-1.8-1.8 2.3-1.5 2.1-.8 1.9-.4 2.2-.8 3.6-.3 .7 2.1Z M1119.1 2091.6l.3 1.4-.4 1.7-1.7-.2-1.5 .6-1.4-.6 0-1.8-.8-1.1 .4-1.3 .8-1 .9-1.9 1.7 .8 .9 1.3 1.2 .7Z M1079.7 1985.1l.8 1.9-1.2 1.6-1.8 .7-1.9-.3-1.7-.6-1.4-1.4 .9-1.9 .6-1.2-.1-2.1 1.4-1.9 2.4-.1 1.2 2.2-.3 2Z M1075.8 2119.1l.9 2.4-2.8 1-2.6-.4-2 1.2-2.4-.6-1-1.8-.4-1.8 1.2-1.5 .1-2.2 2.1-1.9 2.6 1.9 1.4 1.3 1.7 .8Z M1182.7 1911.2l-3.6 1.7-2 .8-1 2.7-2.8-.5-3.1-.2-2.2-1.9 2.2-2.6-1-2.1 1.4-2 3.1 .6 2.4-1.6 2.6 1 1.5 1.9Z M1082.9 1790.9l-1 2.3-1.1 2.4-2.9 .7-2-3-2.4 .9-3.7-.5-.1-2.8 .6-2.7 3.3-.6 2 0 2.4-2.7 2.2 1.8 .7 2.3Z M1309 2082.5l-2.5 1.5-.3 2.2-1.5 2.4-2.3-1.4-2.8 .3-2-2.1 1.1-2.9 0-2.4 2.4-.7 1.5-.6 2.3-3.3 2.5 1.7 1.1 2.7Z M1464.7 2113.7l.1 2.6-.8 2.8-2.4-1.3-1.4 .5-1.4-.7-.6-2-2.4-1.9 .9-3 2.2-.8 1.2-1.8 1.5 1.5 1.3 .6 2.3 .5Z M1344.2 2027.6l2 2.4-1.7 1.8-2.2 .8-2.6 1-1.5-2.4-1.5-1.5-.6-2.1 2.2-1.4-.4-2.6 1.7-2.5 2.8 1 2.4 .9-.1 2.9Z M1440.6 2113.4l.7 2.3-1.6 1.4-1.8 .7-1.8-.3-1.4-1.1-1.5-1 0-2 .6-1.7 .3-2.2 1.8-1 2 .4 1.4 1.3 .2 1.8Z M1288.8 2016.8l.9 1.5-2 .6-1.4 .9-1.7-.7-1.1-.6-2.6-.2 .8-1.5 1.1-.8-.1-1.5 1.8-.3 1.8-.4 1.7 .7-.8 1.7Z M1272 1947.7l.8 1.7-.7 1.7-1.5-.2-1.3 .8-1-1.3-.9-1.1-1.4-1.6 1.7-1.4 1-.7 .6-1.8 1.3 .4 1.6 0 .9 1.7Z M1262 2020.8l.1 1.4-.8 1.5-1.8 1.5-2.5-.5-1.5-1.4-1.5-1-.2-1.5 .3-1.4 .9-1.5 2-.7 2.4-.4 2.2 .8 .2 1.9Z M1158 1972.3l-.1 1.7-.4 2.4-2.7 .7-3 1.5-2.9-1.5 .5-3.2-1.1-1.6 .6-1.9 1.3-1.6 1.6-3 3.2 1 2.2 1.6 2.4 1.4Z M1394.5 1922.3l-.6 1.3-.6 1.4-1.3 .8-1.2-1-1.2-.1-1.1-.9-.2-1.5-.1-1.6 1.3-.9 1.2-.3 1.3-.7 1.1 1 .6 1.2Z M1282.5 1769.2l1.6 3.2-2.2 2.3-3.3-1.9-1.7 .4-1.9-.2-2.3-1.2-2.1-2.6 2.8-2.3 1.8-1.3 1.3-2.5 2.3 1.1 1.9 1.1 1.6 1.5Z M1071.1 2022.4l-2.4 1.2-.3 1.6-1.6 1.8-2.8 .1-2.7-.8-1-2.1-.2-1.8-.1-2 2.4-.9 1.9-.6 2.5-1.1 2.8 .6 2.1 1.6Z M1355.2 1781.3l.4 2-.5 2.7-3 .4-2.7 .1-2-1.4-.6-2.1-2-1.7 .6-2.3 2.1-1.3 1.8-1.9 2.8 .5 2.1 1.3 1.9 1.5Z M1251.9 1878.6l-.1 2.4-.6 3-2.5-.5-1.9 .8-2.5 0 .1-3.6-.1-2.1 0-2.3 1-1.9 1.1-3.8 2.6 1.2 .8 3.6 1.7 .9Z M1123.1 1856.5l.8 1.7-1.9 .8-1.4 .7-1.6-.1-.4-1.8-1.9 0-1.4-1.3 1-1.5 .7-1.6 2.1 .4 1.2 .6 1.9-.6 .5 1.4Z M1442.4 1820.8l-.6 1.2-.9 1.1-1.1 1.8-2.2-.3-1.2-1.5-1.3-.9-.4-1.4 .1-1.5 1-1.4 2.1 .1 1.7-.4 2.3 0 .5 1.7Z M1279.1 1849.2l1.1 2-2 1.4-2.5 .6-2.3-1.1-1.4-.8-3.5-.1-.7-2 1.9-1.6 1.5-1.3 2.1-.4 2.4-.7 2.6 .5-.2 2.2Z M1367.4 1698.2l-.1 1.9-1.1 1.4-1.6-.3-1.4 1.6-1.9-.3-.9-2.1-.6-2.2 1.7-1.5 1-.8 .7-2.2 1.7 .2 1.7 .5 1.5 1.5Z M1192.2 2034.5l.7 1.8-.8 1.3-1 .9-1.2 .1-.6-1.8-1.2-.5-.8-1.8 1.3-1.4 .5-1.2 .9-.9 1-.2 1.6-.3 .1 2.4Z M1356.1 1864.1l.7 1.7 .4 3.1-3.4-.3-2.5-.2-2.8-.3-.7-2.2-1.3-1.8 1.4-1.7 2.3-.6 .7-3.1 3.3-.6 1.9 2.4 1.3 1.7Z M1470.7 1997.5l-.2 1.8-.9 2-2.7 .4-2.3-.8-2.2-.3-1.5-1.4-.5-1.7 .2-1.9 1.9-1.1 1.9-1.2 2.6-.4 1.6 1.7 1.2 1.3Z M1397 1755.7l-1.9 2.1-2.3 1-2 .5-2.3 1-2.2-1-.8-1.9-2-1.7-.1-2.5 2.4-1.6 2.9 .2 1.8 1.4 2.1-.4 3.8 .3Z M1165.8 1723l.9 1.4-1.1 1.4-2.5-.2-1.7-.3-1.8-.2-1-1-.2-1.1 .5-1 .6-1.1 1.4-1.4 2.4 .3 .9 1.6 .5 .8Z M1186.2 2086.4l-.5 1 .2 1.8-1.5 1.4-2.1 0-1.4-1.5-.6-1.4-1.3-1.3 .6-1.6 1.8-.7 1.2-.8 1.7-.7 2.3 .1 1.2 1.8Z M1074.7 1724.9l-1.2 1.9-1.2 2-2.6 .7-2.8 .4-3-.6-.5-2.5-.3-1.9-.4-2.2 1.7-1.8 2.4-1.5 3 .4 1.8 1.8 2.4 1.1Z M1137.2 1906.3l.7 2.4-2.4 .6-1.4 1.3-2 .8-1.7-1.5-2.2-1.1 .5-2.5 1.9-1.2-.3-2.5 1.8-1.1 2.1 .1 2.3 .4 0 2.7Z M1482.6 2023l.5 1.9-1.8 1.6-3.3-.8-2.2 1.3-2.7-.5-.1-2.1-1.9-1.4 1.1-1.6 1.5-1.4 1.7-2.2 2.9 1.8 1.4 1.2 3 .3Z M1449.6 1687.9l-.8 1.3 .9 3.2-2.5 .7-2-1.9-2.1 .2-1-1.7-.6-1.8-.2-2.1 2.8-.2 1-1.5 2.3-2 1.5 2.3 .9 1.8Z M1420.6 1735.9l-1.6 1.5-.7 1.7-1.7 1.5-2.2-.7-1.6-1.1-1.3-1.2-1.3-1.7-.3-2.4 2.5-1 2.2 .4 1.7-.6 2.3 0 1.9 1.4Z M1323.6 1860.2l-2 1 .5 2-1.4 2.2-2.2-1.7-2.1-.1-1.6-1.3 .6-2.1-.3-1.9 2.4-.3 1.3-.3 2-2.9 2.3 1.3 .5 2.3Z M1294.7 2011.6l-.2 2.5-3.4 .7-2.2 .6-2.3 .4-2.3-.7-2.3-1.3 0-2.2 .8-1.9 .7-2.3 2.9-.5 2.5 .9 2.1 .7 1.6 1.3Z M1429 1835.6l-2.4 2.3-2.6 1-2.2-.1-1.7-.2-3.2 1.3-1.8-2 1-2.3-.7-2.3 1.9-1.6 2.5-.4 2.2 .1 1 1.9 2.7 .3Z M1108.5 1923.5l-.7 1.5-1.6 .8-1.5 1-1.9-.2-1.5-.9-1.2-.9-.4-1.3-.3-1.5 1.2-1.4 2.2 .1 1.8 .2 1.6 .4 1.3 .9Z M1472.3 1782.7l-1 1.6-1.3 1.3-2.1-.2-1.4-.6-2 .6-1.7-1-.6-1.7 .4-1.8 2.3-.4 1.5-.5 1.6-.5 1.3 1 1.9 .6Z M1386.8 1953.3l-.6 1.3-.1 1.9-2 .3-1.9 .1-1.3-1.2 .2-1.6-2.2-.8-.5-1.9 2.1-.8 1.7-.7 1.7 .8 1.3 .4 2.3 .4Z M1371.8 1809.9l-1.5 2.3-.9 2.3-1.4 2-1.8-2.1-1.6-.1-.9-2.1 .5-2.3-1.6-3 1.4-2.5 2.1 .3 1.8-.7 .8 2.7 1 1.2Z M1246.2 1732.8l-.5 2.7-2.5 .9-1.5 1.7-2.2 .3-1.7-1.7-1.1-1.8 .5-2.1-.7-2.3 0-3.6 2.9 0 2.1 1.5 1.4 1.2 1.1 1.3Z M1137 2034.5l-2.1 1.2-.9 1-1.5 .5-2.1 1.9-3.2-.1 .6-3 .2-1.5 0-1.5 1.2-1.1 1.3-1.8 2.3 .6 1.6 1.1 3.1 .4Z M1077.8 1861.5l-1.1 2-1.2 1.7-2 .8-1.7-1.8-2.3 .9-2-1.3 1.3-2.3-.5-1.9 1.4-1.4 1.8-.6 2.2-1.5 1 2.7 .5 1.4Z M1418.4 1874l.5 1.8-.5 2-2.1-1.2-1.2 .7-1.8 .3-.7-1.8-1.1-1.8 1.7-1.4 1.4-.2 .3-2.8 1.7 .1 1.2 1.4 1.4 1.1Z M1174.5 1830.4l.5 2-2.3 1.1-2.2 .8-2.5 .1-1.8-1.3-3-.6-1.2-2.1 2.5-1.6 1.4-1.3 2.2-.5 2.4-.3 3.3-.3 .9 2.2Z M1383.7 2081.2l-.2 1.1-1.9 .3-.9 .7-2 1.8-1.8-1.2-.5-1.5-.4-1.2 1.6-.9-.1-1.3 1.5-1 1.7 .9 2.3-.4 1.6 1.1Z M1195.5 1983.8l.1 1.2-.9 1-1.1 1-1.8 .8-1.3-1.4-.4-1.4-.1-1.2 .6-1 0-1.5 1.3-1.1 1.8 .4 1.5 .5 .6 1.4Z M1308.1 1923.3l-.3 1.4-.9 1.2-1.5 .2-1.3-.3-1.8 .4-1.2-1.2 .7-1.7 .6-1.1 .6-1 .9-1.3 1.8-.7 1 1.7 .3 1.3Z M1104.8 1840.3l-1 .9-.7 .8-.7 2-2.2-.1-1-1.6-.9-.9-.2-1.1-.3-1.2 .8-1.3 2 .3 1.5-.4 2.2-.2 .6 1.5Z M1206.6 1691l-1.5 2.2-1.3 1.2-1.1 2-1.9 .3-1.8-.9-.3-2.7 .6-2.1-1.1-2.3 .5-2.9 2.2-.4 1.7 .8 1.1 1.7 1.4 1Z M1460.4 1897.3l.3 1.9-1.5 .6-.9 1.3-1.3-.1-.9-1.3-1.1-.8 .5-1.6 .2-1.1-.4-2.5 1.6-.3 1.4 .5 1 .8-.1 1.7Z M1324.6 1735.1l.1 1.8-1.2 .7-.6 2-1.5 .9-.8-2.3-.8-1.4 .1-1.7 .4-1.4-.2-2.5 1.4-.5 1.3 .6 1.4 0 .3 2.1Z M1165.4 1833l.5 2-1.3 1.5-1.6 .9-1.7-.5-1.4-.8-1.4-1.1 .4-2 .6-1.5 .2-2 1.5-1.2 1.9-.2 1.3 1.6 0 2Z M1237.2 1758.7l1.2 1.9-2 .7-1.5 .4-2 1.7-1.7-1.5-1.4-1.3 0-1.9 2.5-.8-.6-1.8 1.2-2 2.2 .7 2.3 .3 .3 2.1Z M1337.3 1967.1l-.5 2.6-2.2 .2-1 0-1.4 3.2-1.8-1.1-.7-2.5-.5-2.4 1.2-1.9 .5-2.1 1.4-1.3 1.3 2.1 1.7-.7 2 1Z M1203.9 1762.2l-.8 1.9-2.4 .7-1.7 .5-1.7-.4-1.9 0-2.5-.7 0-2 .8-1.7 1.4-1.3 2.1 .1 1.8-.3 1.8 .4 1.3 1.2Z M1495.5 1923.6l-1.6 1.5 0 2.4-3.3-.1-2.2-.9-2.9 .4-1.8-1.5-2.2-1.8 .8-2.4 4.7 .3 1.3-1 2.5-1.2 2.5 .9 3 1.1Z M1409.7 1975.4l-.9 1.7-1.2 1.4-2 1.1-2.8 1.1-2.2-1.7 0-2.2-1.3-1.4-.2-1.9 1.4-1.8 2.5-1 2.4 1.1 2.2 .4 2.6 1Z M1304.9 1809.3l.3 1.6-1.1 1.6-2.3 1.1-2.6-.9-1.7-.9-1.8-1-.1-1.5 .2-1.5 1-1.5 2.3-.8 2.7-.3 1.9 1.3 .2 1.7Z M1236.9 2067.3l-2 1.8-1.2 1.2-1.1 2.5-2.2-.9-1.9-.8-.6-2 1.4-1.8-2.1-2.2 .6-2.8 2.6 .3 2-.1 1 2.1 1 1.1Z M1250.8 1984.4l-1 2.7-4.1 .1-1.9 .5-2.3 1.5-2.4-.9-2-1.7-.3-2.2 .7-2.2 .7-2.6 3.3 0 2.2 1.9 2.2-.2 2.8 .8Z M1416.8 2020.6l2 2.5-1.8 1.7-2.1 .8-2.5 1.5-1.6-2.6-2.4-1.2-1.2-2.7 3.8-1.4 .3-1.9 1.2-2.5 2.5 .1 3.4-.4 .1 3.8Z M1167.3 1782.1l.1 1.7-.8 1.6-1.7-.5-1-.4-1.3 .1-1.3-.8-.8-1.7 .9-1.6 1.5-.5 .8-1.1 1.3-.3 1.1 .9 1 1.1Z M1195.5 1878.7l.7 1.9-1 1.6-1.6 .1-1.4 .2-.7-1.7-.9-.8-1.7-1.3 .8-1.8 1.1-1.4 1.3-.7 1.3 1.2 1.4-.2 1 1.2Z M1137.8 2093l-.2 1.5-1.6 .6-1.5-.2-1.4 1.7-1.7-.8-.1-1.7-.9-1.1 .7-1.2 .6-1.3 1.3-1.2 1.5 1.7 1.3 .1 2.1 .3Z M1071.5 2007.4l.2 2-.9 2-2.1-1.1-1.2 .3-1.7 .1-.3-1.8-1.2-1.5 .5-1.9 1.4-.9 1-2 1.6 1.1 .7 1.6 1.7 .4Z M1108.6 2079.7l-.9 2.2-2.5 .7-1.6 .5-2 1.3-2.1-.9-1.2-1.8-.5-2 .6-2 .9-2 2.3-.6 1.9 1.3 1.9 .1 2.3 .9Z M1210.2 1928.4l1.6 2-1 2-2.3 0-1.9 .2-.8-1.9-1.3-.8-2.1-1.5 1.7-1.7 1.1-1.4 1.4-1.5 1.8 .9 2 .1 .7 1.9Z" fill="none" stroke="#bc6a2e" stroke-width="1.3" stroke-linejoin="round" opacity="0.5"/>
<path d="M1355.5 1849.4l1 1.8 M1355.5 1849.4l-.8 1.9 M1355.5 1849.4l-2-.2 M1141.9 1849.6l2 .1 1.7 1-.1 2 M1141.9 1849.6l-.5 2 M1141.9 1849.6l-.2 2 1.8 .8 M1141.9 1849.6l-1.3-1.5-2-.3 M1141.9 1849.6l1.1 1.7 1.9 .2 M1169.7 1692.9l1.4-1.5 1.1-1.6 .3-2 M1169.7 1692.9l1.2 1.5 M1169.7 1692.9l1.6 1.1 1.8 .9 1.5 1.3 M1378.6 1894.9l0 2-.5 1.9 M1378.6 1894.9l-.2-2-1.3-1.6 M1378.6 1894.9l.4-2 1-1.7 M1378.6 1894.9l-1.9-.3-2 .2 M1378.6 1894.9l-1.6 1.1-.2 2 M1398.3 1732.9l1.7 1 .3 2-1.1 1.6 M1398.3 1732.9l-1.8 .9 M1398.3 1732.9l1.9-.2 2-.1 M1328.4 1839.6l0 2 1.8 .9 1.9-.4 M1328.4 1839.6l2-.4 M1328.4 1839.6l-2 0-1.3-1.5 .3-2 M1328.4 1839.6l-1.6-1.2-2-.3 M1328.4 1839.6l0 2-.5 1.9 M1308 1901.3l1.8-.9 M1308 1901.3l.1 2-.7 1.8-1.8 .7 M1308 1901.3l.8 1.8 0 2-.7 1.9 M1410.1 1873.5l-1.9-.3-1.7-1.1 M1410.1 1873.5l-1.4-1.4-.5-1.9 M1410.1 1873.5l1.3 1.5 0 2-.6 2 M1243.4 2118.9l2-.5 1.6 1.1 M1243.4 2118.9l.1 2-.3 2 M1243.4 2118.9l-1.6 1.1-1.5 1.4 M1243.4 2118.9l1.8 1 M1243.4 2118.9l-1.9 .4-2 0-1.5-1.3 M1456.2 1780.7l1.6 1.2 .9 1.8 M1456.2 1780.7l.7 1.9 1.6 1.2 M1456.2 1780.7l.6 1.9 .8 1.9 M1456.2 1780.7l-1-1.7-.6-1.9 M1399.3 1982.3l2-.2 1.9-.7 1-1.8 M1399.3 1982.3l-2 .2-1.6 1.2-1.9-.6 M1399.3 1982.3l-1.8-.9-1.5-1.3-.4-1.9 M1399.3 1982.3l1.7-1.1 M1115.1 1929.2l1.4 1.4 1.2 1.6 M1115.1 1929.2l1.7-1.1 1-1.7-1.1-1.6 M1115.1 1929.2l-1.5-1.3-1.1-1.7 .2-2 M1184 2087.7l.7-1.9 1.2-1.6 M1184 2087.7l1.2 1.6 2 .3 M1184 2087.7l1.4 1.4 .2 2 M1184 2087.7l-1.8 .7 M1259.3 1757.6l0 2 1.6 1.1 1.9-.5 M1259.3 1757.6l1.2 1.6 1.9 .7 M1259.3 1757.6l1.7 1 M1259.3 1757.6l1.7 1.1 1.8 .8 M1139.3 2060.4l2-.1 1.6-1.2-.7-1.9 M1139.3 2060.4l1.2 1.6 .2 2 .4 1.9 M1139.3 2060.4l-1.3-1.5-2 .2-2 .3 M1139.3 2060.4l-1.5-1.3 M1417.8 2047.1l-1.4 1.4-1.9 .5-2 .3 M1417.8 2047.1l.1-2 .8-1.9 M1417.8 2047.1l-1.4 1.4 M1332.2 1845l1.6-1.2 1.7-1.1 .9-1.8 M1332.2 1845l-1 1.7 1 1.7 M1332.2 1845l-1.8-.9-1.4-1.3 M1332.2 1845l-.9 1.7-1.5 1.3-1.2 1.6 M1332.2 1845l1.5 1.4 1.5 1.3 1.9 .4 M1305.3 1702.6l.7-1.9-1-1.8-1.9-.5 M1305.3 1702.6l1.8-1.1 M1305.3 1702.6l-1.5-1.3-2-.4-2 .1 M1427 1687.3l-1.1 1.6 M1427 1687.3l1.8-.7 2-.1 2-.3 M1427 1687.3l-.9-1.9-.9-1.8 0-2 M1427 1687.3l1.6-1.1 1.1-1.7-.4-2 M1427 1687.3l-1.9 .7-1.3 1.5-1.4 1.5 M1064.7 1708.7l-1.1-1.7-1.2-1.6-2-.5 M1064.7 1708.7l-1.6-1.3-1.8-.7-1.9 .8 M1064.7 1708.7l.4-2 M1064.7 1708.7l-1.8-.9-1.9-.5-2-.2 M1064.7 1708.7l1-1.8 M1197.9 2026.5l.4-2 1.3-1.5 1.8-.9 M1197.9 2026.5l-.3 1.9-1.9 .8 M1197.9 2026.5l-1 1.7-.1 2 M1197.9 2026.5l-1.8 .8-1.5 1.2-.8 1.9 M1246.9 1816.8l-1.6 1.1-1.6-1.1-.5-2 M1246.9 1816.8l-1.7-1 M1246.9 1816.8l1.4-1.5 M1093.8 1940.2l-1.9-.6-1.1 1.7 1 1.7 M1093.8 1940.2l-.6 1.9-1.5 1.3 M1093.8 1940.2l1.7 1 1 1.8 M1093.8 1940.2l-.7 1.9 1.6 1.1 1.5-1.3 M1093.8 1940.2l1.2-1.6 1.9-.5 M1455.2 1724.3l-.1-2-1.5-1.3-2 .1 M1455.2 1724.3l-.9 1.8-1.5 1.4-1.7-1 M1455.2 1724.3l.6 1.9 M1455.2 1724.3l-1.3-1.4-1.4-1.5-1.3-1.5 M1272.5 1791.9l2-.2 1.8 1-.1 2 M1272.5 1791.9l-1.9 .3-2-.3-1.8-.9 M1272.5 1791.9l-1.6 1 M1272.5 1791.9l1.9-.9 .5-1.9 M1272.5 1791.9l1.6-1.2 .8-1.9 M1063.7 1834.4l-1.6-1.3-1.9-.5 M1063.7 1834.4l-1.7 1-1.5 1.3 M1063.7 1834.4l-.4-2-1.5-1.3 M1421.5 2121.4l-1.4-1.4 1-1.7 M1421.5 2121.4l2 .3 M1421.5 2121.4l-1.6-1.2-.1-2 M1054.6 1960.5l1 1.8 M1054.6 1960.5l-1.8 .8-1.1 1.7 M1054.6 1960.5l1.8-1 M1054.6 1960.5l-.9-1.8-1.5-1.2 .1-2 M1240.1 1838.2l-1.7-1 M1240.1 1838.2l.9 1.8 .7 1.9 M1240.1 1838.2l1.7-1 1.6 1.2 M1082.5 2069.2l-1.5 1.4-1.9-.5-1-1.7 M1082.5 2069.2l-.3-1.9-1.6-1.2 M1082.5 2069.2l-1.8 .9-.9 1.7 M1082.5 2069.2l-.5-1.9 M1103.6 2029.1l.8 1.9 M1103.6 2029.1l.7-1.9 M1103.6 2029.1l-1.4 1.4 M1440.9 1734.7l-.3 2-1.7 1.1-2 .3 M1440.9 1734.7l.1 2-1.3 1.5 M1440.9 1734.7l1.2 1.6 M1394.6 1927.8l-.7-1.9 .1-2-.1-2 M1394.6 1927.8l1.6-1.3 .7-1.9-.6-1.9 M1394.6 1927.8l-.5-2 M1394.6 1927.8l1.5-1.4 M1394.6 1927.8l.5 1.9 M1491.4 1906l-1.2 1.5 .1 2 M1491.4 1906l-1.3-1.5 M1491.4 1906l-1.4-1.4-2 .5-1.9 .5 M1301 1817.9l1.9-.3 1.9-.7 M1301 1817.9l-.5 2-1.8 1-1.9-.6 M1301 1817.9l0-1.9 M1249.8 1941l1.3-1.5 2-.5 M1249.8 1941l2 .4 1.6-1.2 .9-1.8 M1249.8 1941l-.2 2 0 2 .2 2 M1249.8 1941l-1.3 1.6-1.5 1.2 M1249.8 1941l-1.4 1.5-1.4 1.3-1.9 .8 M1382.6 1693.1l-.8 1.9 M1382.6 1693.1l-1.8-.8-.1-2 1.1-1.6 M1382.6 1693.1l2 .1 1.9-.6 M1326.8 1855.8l-1.9 .4-1.8 1 M1326.8 1855.8l-1.2 1.6-1.4 1.4 M1326.8 1855.8l.7-1.9 M1326.8 1855.8l-1.7 1-1.7 1-2 0 M1274.7 1690.7l1.4 1.4 M1274.7 1690.7l-.3-2 M1274.7 1690.7l-1.2 1.6 M1274.7 1690.7l.9 1.8 M1194.2 1787.6l.9 1.7 1.8 .9 1.9-.6 M1194.2 1787.6l1.8 .8 1.6 1.2 2 .1 M1194.2 1787.6l1.2 1.5-1.4 1.5-2 .4 M1154.1 1825.8l1.1-1.7 M1154.1 1825.8l-1.4-1.4-.6-1.9 M1154.1 1825.8l1.9 .6 1.4-1.4-.7-1.8 M1154.1 1825.8l-1-1.8-.6-1.9 M1154.1 1825.8l-1-1.7 M1461.7 2114.5l-1.7 1 1 1.7 1.9-.8 M1461.7 2114.5l-1.8-.8 M1461.7 2114.5l-1.4-1.5 M1461.7 2114.5l1.2 1.6 M1211.5 1955.9l2 .2 M1211.5 1955.9l-1.2 1.6 M1211.5 1955.9l-.1 2-.7 1.9-1.8 1 M1079.6 1808.2l1.4-1.4 1.9 .8 M1079.6 1808.2l1.9 .7 1.8-.8-.1-2 M1079.6 1808.2l1.1-1.6 M1079.6 1808.2l-.8-1.8 .1-2 .9-1.8 M1079.6 1808.2l-.8 1.9-.6 1.9-1.9-.4 M1194 1834.3l-1.6-1.2-1.5 1.4 .9 1.8 M1194 1834.3l-.4 2-.8 1.8 M1194 1834.3l1.9 .5 0 2-2 .5 M1194 1834.3l-1.4 1.5-.6 1.9-1.1 1.7 M1208.7 1757.7l1.6-1.2 1.8-1 1.6 1.2 M1208.7 1757.7l2 .5 M1208.7 1757.7l1-1.7 .8-1.9 .7-1.9 M1208.7 1757.7l-1.8-.8-1.5-1.3 M1208.7 1757.7l-.6 1.9 M1071.9 2032.8l1.9 .6 1.2 1.6-.2 2 M1071.9 2032.8l2-.3 2 .5 1.1 1.6 M1071.9 2032.8l-1.6-1.1-.7-1.8 M1071.9 2032.8l-1.8-.6 M1422.7 2075.8l.9 1.7-.7 1.9-1.9 .4 M1422.7 2075.8l-1.6-1.3-.5-1.9 M1422.7 2075.8l.2-2 1.6-1.2 2 .4 M1422.7 2075.8l-2 .4-1.8-.9 .6-1.9 M1422.7 2075.8l1.7 1 M1183.9 1739.4l-1.9-.7-1.7 .9 M1183.9 1739.4l2-.1 M1183.9 1739.4l-2-.1-1.4 1.4 .6 1.9 M1183.9 1739.4l-1.3 1.5-2 .3 M1183.9 1739.4l-1.6 1.1 0 2 M1290.4 2100.9l-2-.6-1.8-.7 M1290.4 2100.9l-2-.5-1.9 .7-1.5 1.3 M1290.4 2100.9l1-1.7 1-1.7 1.8-1 M1290.4 2100.9l-.1 2-.7 1.8 .6 2 M1179 1837.5l-.2 2 .5 1.9 M1179 1837.5l1.9-.7 .3-2 M1179 1837.5l1.6 1.1 M1179 1837.5l1.7 .9 M1179 1837.5l1.9 .4 M1198.2 2109.4l-2 .4-.7-1.9 .3-2 M1198.2 2109.4l1.6 1.1 M1198.2 2109.4l1.7 1 .4 2-1.2 1.6 M1198.2 2109.4l-2 0 M1198.2 2109.4l.3-2-.4-2-1.7-1.1 M1286.5 1921.4l1.8 .8 2-.5 M1286.5 1921.4l-.5-1.9-1.9-.7 M1286.5 1921.4l1.4-1.4-.2-2 .1-2 M1286.5 1921.4l-.4 2 M1286.5 1921.4l.6 1.9 1.8 .8 1.7 1.1 M1461.5 1835.9l1.8 .9 1.9-.6 M1461.5 1835.9l1.7-1 M1461.5 1835.9l-1.7-1.1 M1461.5 1835.9l-1.5 1.4-1 1.7 M1461.5 1835.9l-1.3-1.5 M1368.1 1746.6l-1.9 .7 .1 2 M1368.1 1746.6l1.5 1.3 2-.4 M1368.1 1746.6l.1 2-.5 2 M1289.1 1889.1l-2 .4-.9 1.8 M1289.1 1889.1l2 0 M1289.1 1889.1l1.8-.8 1-1.8-1.6-1.2 M1357.1 1919.9l-1.7-1.1-2 .3-1.7-1 M1357.1 1919.9l-1-1.8-1.1-1.7-1.1-1.6 M1357.1 1919.9l-.6-1.9 1.5-1.3 M1357.1 1919.9l-1.9 .5-.7 1.9-1 1.7 M1357.1 1919.9l2 .3 1.9-.5 M1466.1 1981.3l.1-2 1.4-1.5 M1466.1 1981.3l-2 .3-1.5 1.3 M1466.1 1981.3l-2 .3-.7 1.8 M1388.1 1804.8l-1.9 .5-1.9 .5-2-.3 M1388.1 1804.8l-1.1-1.6-2 0 M1388.1 1804.8l2 0 1.9 .8 1.5 1.3 M1487.9 2059.3l1.2 1.6 M1487.9 2059.3l1.3 1.6 M1487.9 2059.3l1.4-1.4 0-2 M1487.9 2059.3l.8-1.8 1.9-.6 M1487.9 2059.3l1.9-.7 M1360.7 1732.6l.8 1.8 .4 2 M1360.7 1732.6l2-.1 2-.1 M1360.7 1732.6l-2 .3 M1360.7 1732.6l0-2 M1216.3 1737.7l2 .1 1.6 1.1 M1216.3 1737.7l-2 .5-2-.1-1.9 .6 M1216.3 1737.7l0 2-1.2 1.6 M1216.3 1737.7l1.6 1.2 1.9-.6 M1216.3 1737.7l.6 1.9-1.3 1.5 M1345.5 2014.3l-.4 1.9 M1345.5 2014.3l-.3-2 0-2-.7-1.9 M1345.5 2014.3l-1.4-1.4-2-.4-1.9-.6 M1465.3 2013.1l-.8 1.8-2 .4 M1465.3 2013.1l2 .1 2 .4 1.3-1.5 M1465.3 2013.1l-1.8 .9-1.9-.4-.6-1.9 M1465.3 2013.1l-1.8-.8-.8-1.9 M1465.3 2013.1l1.2-1.6 M1209.9 2046l1.9 .6 1.9 .6 1 1.7 M1209.9 2046l-.7 1.9-1.6 1.2-.8 1.8 M1209.9 2046l-1 1.8 1 1.7 2 .2 M1396.5 1938.7l-1.7 1-1.9-.7 M1396.5 1938.7l1.7-1.1 .2-1.9-.1-2 M1396.5 1938.7l.4-1.9-.1-2 M1396.5 1938.7l-1.6-1.1-1.6-1.3-.6-1.9 M1154.7 2041.3l-1.1 1.7-.3 1.9 1.2 1.6 M1154.7 2041.3l1.9 .8 1.8 .8 2-.3 M1154.7 2041.3l-1.1-1.6 M1154.7 2041.3l.3-2 M1444.4 1888.1l1.9-.7 M1444.4 1888.1l.4 2 1.1 1.7 1.9 .6 M1444.4 1888.1l2-.1 M1284.8 1829.7l-1.8-1-.3-1.9 1.2-1.7 M1284.8 1829.7l1.9-.7 1.9 .5 M1284.8 1829.7l-1.2 1.5 M1284.8 1829.7l1.3 1.4 1 1.8 M1284.8 1829.7l-1.3-1.6-.6-1.9-1.6-1.2 M1266.8 1898.4l-1.7 1.1 0 2-1.2 1.6 M1266.8 1898.4l1.9 .3 .5 1.9-.1 2 M1266.8 1898.4l1.3 1.5 1.9 .6 1.7-1.1 M1245.8 1953l-2-.3-1.2-1.6 M1245.8 1953l-1.7-1 M1245.8 1953l1.6-1.1-.1-2 M1245.8 1953l-1.9-.5-2-.4 M1357.3 1951.2l-.7 1.9-1.7 1-2 .1 M1357.3 1951.2l-1.4 1.5-2-.2-1.2-1.6 M1357.3 1951.2l2-.1 1.5-1.3-1.1-1.7 M1357.3 1951.2l-2 .1-1.2-1.6-.3-2 M1459.5 1795.4l1.5-1.2 M1459.5 1795.4l-1.8 .9 M1459.5 1795.4l-.2 2 1.2 1.7 1.3 1.5 M1459.5 1795.4l-.5 2 M1459.5 1795.4l1.9-.5 M1171.5 1815l1.9-.3 1.6-1.2 1.6-1.2 M1171.5 1815l.1 2 M1171.5 1815l2 .1 M1171.5 1815l.7-1.8 M1171.5 1815l.7 1.9-1.9 .7 M1163.5 2077.1l0-2-1.9-.6 M1163.5 2077.1l.7-1.9 1.8-.9 1.5 1.3 M1163.5 2077.1l1.2 1.6 1.7 1 1.9 .7 M1163.5 2077.1l1.7-1 1.9-.6 M1163.5 2077.1l1.2 1.6 1.2 1.6-.2 2 M1242.5 2093.7l-.9 1.7-.3 2 M1242.5 2093.7l-1.7-1.1 M1242.5 2093.7l-1.7-1.1-2 .4-1.9 .4 M1242.5 2093.7l-.8 1.8 M1242.5 2093.7l.5 1.9 M1113.5 2061.7l1.7 1.1 1.9-.8 1.7-.9 M1113.5 2061.7l-1.7-1-1.6-1.2-1.9-.7 M1113.5 2061.7l1.5 1.3 1.3 1.5 M1113.5 2061.7l-.8-1.9-.9-1.8 M1113.5 2061.7l-1.8 .8-1.9 .8 M1242.9 1966.4l.6 1.9 1.7 .9 1.9-.6 M1242.9 1966.4l-1.9-.7-1-1.7 M1242.9 1966.4l1.7 1.1 1.3-1.5 M1242.9 1966.4l1.3 1.5 M1119.2 1883.1l.8 1.8 M1119.2 1883.1l-2-.4 M1119.2 1883.1l-1.5-1.4-1.9 .1 M1365.8 1915.2l-.6-1.9 M1365.8 1915.2l1.2 1.5 1.7 1.2 1.8-.8 M1365.8 1915.2l1.4-1.5 1.3-1.5 M1365.8 1915.2l1.2 1.5 M1349.8 2024.4l-1.4-1.4 M1349.8 2024.4l-2-.2-2-.1 M1349.8 2024.4l1.9 .7 1.8 .9 M1349.8 2024.4l1.7-1.1 2 .1 1.5 1.3 M1349.8 2024.4l2 .4 1.7 1 M1134.2 1708.6l.6-1.8 M1134.2 1708.6l-1.8 .9-1.2 1.6 M1134.2 1708.6l.4-1.9-.5-2 M1186.4 1729.3l-.3 1.9-.2 2 M1186.4 1729.3l-1.7-1 M1186.4 1729.3l-.8-1.9 M1114.8 1859.9l-1.9 .6 M1114.8 1859.9l1.3-1.5 .4-2 1.3-1.5 M1114.8 1859.9l2 .4 2-.1 1.9 .5 M1114.8 1859.9l2 .5 .8 1.8 M1114.8 1859.9l1.4-1.5 .9-1.7 1.2-1.7 M1157.2 1962.1l.7 1.9 1.4 1.4 1.9 .6 M1157.2 1962.1l1.2 1.5 M1157.2 1962.1l-.5-1.9-1.4-1.5-1.9-.6 M1157.2 1962.1l1.8-.6 1.7-1.2 .7-1.9 M1157.2 1962.1l-1-1.7 M1169.3 1790.4l-.5 1.9 1.4 1.4 1 1.7 M1169.3 1790.4l.3 1.9 M1169.3 1790.4l.3-2-1.5-1.4-2 0 M1312.6 1967.6l1.5-1.3 2-.4 1 1.7 M1312.6 1967.6l-1.4 1.4 1.1 1.7 1.6-1.2 M1312.6 1967.6l-.5 1.9 .6 2 1.8 .7 M1361.4 1842.7l-1.2 1.6-1.7 1 M1361.4 1842.7l-1-1.7-.3-2-.2-2 M1361.4 1842.7l-.9 1.8-1.3 1.6 M1361.4 1842.7l-.2 2 1.8 .8 M1361.4 1842.7l-1.8 .8-1.7 1.2-1.8 .8 M1260 1912.4l1.7 1.1 M1260 1912.4l1.5 1.3 M1260 1912.4l-1.9 .6-1.7 .9-.1 2 M1260 1912.4l-.2 1.9-1.8 .8-1.8-1 M1260 1912.4l1.4 1.4 M1240.1 2009.9l1.5-1.3-.7-1.9-2-.3 M1240.1 2009.9l-.2 2 M1240.1 2009.9l-1.7-1.1-1.1-1.7-1.6-1.2 M1240.1 2009.9l-1.3-1.5-1.9 .6-1 1.8 M1187.4 1905.1l-2-.1-1.9 .7 M1187.4 1905.1l-1.5 1.3-1.9 .6 M1187.4 1905.1l1.2-1.6 M1187.4 1905.1l-1.5-1.4 M1187.4 1905.1l.1-2 1.1-1.7 1.4-1.4 M1290.7 1940.6l1.9 .7 M1290.7 1940.6l1.9-.6 1.2-1.6 M1290.7 1940.6l.1 2-1.1 1.7 M1290.7 1940.6l1.9 .8 2-.2 M1256.4 1809l-.9-1.8 .9-1.8 1.9-.5 M1256.4 1809l-1.1 1.7 M1256.4 1809l-2-.2-1.4 1.5 M1072.4 2047.7l2 .2 M1072.4 2047.7l1.7-1 .8-1.8 M1072.4 2047.7l1.8 .9 M1072.4 2047.7l1.9 .4 2-.1 M1402.3 2098.2l-1.4-1.4 M1402.3 2098.2l.2-2 .9-1.8 1.9-.4 M1402.3 2098.2l2 .1 1.6-1.3 M1402.3 2098.2l0 2 .5 1.9 1 1.7 M1402.3 2098.2l.9-1.8 .5-2 M1449.9 2073.6l-1.7-1 M1449.9 2073.6l.7-1.9 M1449.9 2073.6l-1.7-1-2 .2-1.8 .8 M1437.9 1871.9l.9-1.8-1.4-1.4-1.9 .7 M1437.9 1871.9l2-.4 M1437.9 1871.9l-.2-2 .4-1.9 M1278.1 1739.4l.5 2 0 2-.8 1.8 M1278.1 1739.4l-1.9 .6 M1278.1 1739.4l-1.2 1.6 M1278.1 1739.4l2 .3 1.2 1.6 M1231.6 1730.6l-1.5-1.4-1.7-1 M1231.6 1730.6l.4 1.9 M1231.6 1730.6l-.3 2-.3 1.9 .4 2 M1122.4 1752.2l-1.6 1.2-1.6 1.2 M1122.4 1752.2l1.6-1.1 M1122.4 1752.2l-1 1.8 M1122.6 1962.8l-2-.5 M1122.6 1962.8l-1.5-1.4 M1122.6 1962.8l-.7 1.9 M1122.6 1962.8l0 2 M1122.6 1962.8l1.5 1.3 M1450.5 1702.7l-.2 2 M1450.5 1702.7l.3-2-.8-1.8-.9-1.8 M1450.5 1702.7l2-.4 M1450.5 1702.7l.7-1.9-.2-2-1.2-1.7 M1450.5 1702.7l-1-1.8 .3-1.9 1.5-1.3 M1406.3 1884.6l1.1-1.7-.3-2 M1406.3 1884.6l-2 .2-1.5 1.3 M1406.3 1884.6l1.6-1.3 .8-1.8 .8-1.8 M1477.6 1893.6l-1.1-1.6 M1477.6 1893.6l-1.3 1.6-1.1 1.6 M1477.6 1893.6l-1.9 .6 M1186.2 1953.2l-.3 2 M1186.2 1953.2l-1.9-.5-1.9 .8 M1186.2 1953.2l.1-2-1.1-1.7 .3-1.9 M1073.1 1747.4l-1.4-1.5 M1073.1 1747.4l1.9 .7 1.4 1.4 1.7 1 M1073.1 1747.4l.2-2 M1479.4 2115.1l-1.5 1.2-2-.3-1.6-1.1 M1479.4 2115.1l-2 0-2 .3 M1479.4 2115.1l.8 1.8 M1479.4 2115.1l1.9-.7 2-.1 M1479.4 2115.1l1.9-.8 1-1.7 M1485.5 1708.8l-1.9 .7-2 .4 M1485.5 1708.8l-2-.3 M1485.5 1708.8l-.8-1.8 M1366 1787.7l.1 2 M1366 1787.7l-.4-2-2-.4-1.4 1.4 M1366 1787.7l-1-1.8-1.9 .5-.1 2 M1351.3 2054.1l-2 .1-1.1 1.7 M1351.3 2054.1l-2 .2-1.7 1.1 M1351.3 2054.1l-1.9-.5 M1351.3 2054.1l-1.6-1.2-1.8-.9 M1351.3 2054.1l-1.3 1.5-2 .2-2 .4 M1112.7 2087.3l-1.8-.8-1.4-1.4 M1112.7 2087.3l-1.7-.9-.1-2 M1112.7 2087.3l2 0 M1112.7 2087.3l-1.8 .9-2-.4-1.4-1.3 M1112.7 2087.3l1.7-1.1 1.9-.5 M1422.3 1962.9l-1.8-.9-.1-2 1.7-1 M1422.3 1962.9l-1.9-.6-1.7 1-1.8 1 M1422.3 1962.9l-1.9-.7 M1422.3 1962.9l2 0 1.9 .5 1.8-.9 M1216.9 1800.4l-.3 2-.6 1.9-1.2 1.6 M1216.9 1800.4l.9 1.8 M1216.9 1800.4l2-.1 M1216.9 1800.4l.3 2 M1216.9 1800.4l-2-.4-2-.2 M1103.2 1963.4l-1.8-.9-1.9 .5-1 1.8 M1103.2 1963.4l-.9-1.8-.9-1.8 M1103.2 1963.4l-2 0-1.5-1.3 M1103.2 1963.4l-.3 2-1 1.7 M1103.2 1963.4l-.1 2 M1157 1805.4l-.9-1.7 M1157 1805.4l1.4-1.3-.4-2-1.8-.9 M1157 1805.4l-.2 2-.6 1.9-.9 1.8 M1088.4 2014.7l-2 .1 M1088.4 2014.7l.4 1.9 1.4 1.5 M1088.4 2014.7l1.5 1.3 1.5 1.3 M1253.8 1967.6l1 1.8 1.7 1 1.9-.6 M1253.8 1967.6l1.3-1.5 .5-1.9 M1253.8 1967.6l1.8-.9 .8-1.8-.6-1.9 M1237.1 1909.7l1.6-1.2 M1237.1 1909.7l1.2 1.6 1.7 1.1 2-.2 M1237.1 1909.7l1.3-1.5 2 .2 1.8 .9 M1237.1 1909.7l0 2-.7 1.9 .1 2 M1262.8 1839.5l-1.7 1-1.9 .5 M1262.8 1839.5l-1.7 1-1.3 1.5-1.9-.6 M1262.8 1839.5l1-1.8 1-1.7 1.2-1.6 M1262.8 1839.5l2-.1 .4-2-1.5-1.2 M1262.8 1839.5l1.4-1.5 .6-1.9-1.1-1.7 M1465.7 1873.3l.3 2 1.9 .6 M1465.7 1873.3l1 1.7 .9 1.8 M1465.7 1873.3l.5-1.9 0-2-1.3-1.5 M1465.7 1873.3l-1.5-1.3-.3-2 .7-1.9 M1465.7 1873.3l1.8-.8 M1333.7 1772.8l0 2 M1333.7 1772.8l.9-1.8 1.1-1.7 M1333.7 1772.8l-.2 2-.8 1.8-1.3 1.6 M1333.7 1772.8l-1.5-1.3-.8-1.9 .6-1.9 M1402.2 1998.1l-.5-1.9 1.9-.8 1.8-.8 M1402.2 1998.1l1.8 .8 1.9 .6 1.8-1 M1402.2 1998.1l.6-1.9-.7-1.9 M1402.2 1998.1l1-1.7-.3-2-.5-1.9 M1402.2 1998.1l-1.8-.9 M1378.6 2058.7l1.1 1.7 M1378.6 2058.7l-1.6-1.2-1.3-1.5 M1378.6 2058.7l1.2 1.6 M1378.6 2058.7l-1.9 .3-1.4-1.4 M1378.6 2058.7l.7-1.9-1.3-1.5 M1242.5 1779.9l-1.3 1.6-1.8 .6-2-.3 M1242.5 1779.9l-2-.3-1.9 .7-1.4 1.4 M1242.5 1779.9l-1.2 1.6-1.5 1.3-1.8 .9 M1289 1701.5l-.8-1.8 M1289 1701.5l-1.8-.8-2-.4 M1289 1701.5l1.2-1.6 M1242.9 2054.1l1.9-.7 M1242.9 2054.1l-.7-1.9 M1242.9 2054.1l-.9 1.7 M1242.9 2054.1l-.9-1.8-.7-1.9 M1429 2031.2l.8 1.8 1 1.7 M1429 2031.2l1.9 .4 M1429 2031.2l.9-1.8 1.2-1.7 M1405.5 1773.1l-.7-1.9 M1405.5 1773.1l-.4-2 1.2-1.6 M1405.5 1773.1l.6 1.9-.4 1.9 M1405.5 1773.1l1.4 1.4 1.9-.1 1.4-1.5 M1405.5 1773.1l-2 .2 M1148.9 1791.9l-2-.1-2 .2-1.5 1.3 M1148.9 1791.9l.9 1.8 1.9-.6 M1148.9 1791.9l-1-1.7 M1477.1 1975.4l1.5-1.3 1.9-.6 M1477.1 1975.4l-2 .1 M1477.1 1975.4l.7-1.9 1.8-.9 M1145.4 1953.6l-1.7-1.2-1.9-.1 M1145.4 1953.6l1.5 1.3 M1145.4 1953.6l-1.3 1.5-1.8-.9 M1145.4 1953.6l1.9-.6 M1145.4 1953.6l-1.9-.6-1.6 1.2-.4 2 M1260.9 2055.3l1.6-1.2 .1-2-1.7-1 M1260.9 2055.3l1.9-.8 M1260.9 2055.3l2-.4 M1260.9 2055.3l1.9-.6 M1260.9 2055.3l.5 1.9 M1350.8 1746.4l1.7 1.1 M1350.8 1746.4l-2 .2-1.9-.6 M1350.8 1746.4l2-.1 M1350.8 1746.4l-1.9-.5-1.1-1.7 .2-2 M1350.8 1746.4l2-.4 1.9 .5 .7 1.8 M1313.2 1773.9l-1.5 1.3 .7 1.9 1.9 .6 M1313.2 1773.9l1.7-1.1 1.7 .9-.2 2 M1313.2 1773.9l-.3 2-1.1 1.6 M1465 2032.6l1.7 .9 M1465 2032.6l-.8 1.8 M1465 2032.6l.8 1.8 M1465 2032.6l1.9-.6 1.9 .4 M1465 2032.6l1.9 .3 M1439.3 1841.8l-1.3 1.5 .3 2 M1439.3 1841.8l-1.2-1.6-.2-2 .3-2 M1439.3 1841.8l-2-.1-1.4-1.4 M1439.3 1841.8l1.5 1.2 1.2 1.7 1.4 1.4 M1439.3 1841.8l.3-1.9-1.7-1 M1070.9 1947.2l1.3 1.4 0 2 M1070.9 1947.2l-1.4 1.4 M1070.9 1947.2l0-2 M1070.9 1947.2l.2 1.9-.7 1.9-1.5 1.3 M1070.9 1947.2l-.3-2 1-1.7 2-.3 M1202.2 1968.3l.2 2 M1202.2 1968.3l-1.6-1.2-2 .1-1.5 1.4 M1202.2 1968.3l.9 1.8 1.9 .5 1.5-1.4 M1167.7 1965.9l1.6 1.2 2-.1 M1167.7 1965.9l-1.9-.6-1.6 1.1 M1167.7 1965.9l0 2 .2 2 1.4 1.4 M1167.7 1965.9l2-.1 M1167.7 1965.9l.5 1.9 .9 1.8 1.8 .8 M1295.8 1998.1l-1 1.7-1.9 .5-1.5-1.3 M1295.8 1998.1l-.6-1.9-1.6-1.2 M1295.8 1998.1l-2 .1 M1295.8 1998.1l.1-2 1.6-1.2 M1295.8 1998.1l-1.4-1.4-1.8-.7 M1389.6 2019.8l2 .1 1.8 .8 M1389.6 2019.8l-1.4 1.4-1.8 .9 M1389.6 2019.8l1.8-1 .7-1.8 .7-1.9 M1389.6 2019.8l-.6-1.9-.8-1.9-1.1-1.6 M1186.9 2066.1l0 2-1 1.7-1.9 .7 M1186.9 2066.1l-1.7-1.1 M1186.9 2066.1l-.1-2 .9-1.8 M1186.9 2066.1l-2 0 M1186.9 2066.1l-.8-1.9 .2-1.9 M1261.3 2111.2l-2 .1 M1261.3 2111.2l-2-.3-1.4-1.4 M1261.3 2111.2l-1.4 1.5-.6 1.9 .8 1.8 M1261.3 2111.2l.6 1.9 M1084.6 1745.2l1.3-1.4 0-2 M1084.6 1745.2l-.8-1.8 M1084.6 1745.2l-1 1.8 0 2 M1084.6 1745.2l.6 1.9-1.4 1.5 M1491.4 1959.1l1.3 1.5 M1491.4 1959.1l-1.9 .9 M1491.4 1959.1l-1.8 1.1-2 .1-1.7-1.1 M1348.6 1683.7l.2-2 1.3-1.5 M1348.6 1683.7l1.9-.8 M1348.6 1683.7l-1 1.7 M1184.6 1887.5l-1.7-.9-2-.6-1.9 .6 M1184.6 1887.5l.3-1.9 1.7-1.1 M1184.6 1887.5l-1.4 1.4-1.3 1.6 M1151.7 2122.8l1.6 1.1 1.7 1 M1151.7 2122.8l1.2-1.6 2-.4 1.9 .5 M1151.7 2122.8l-1.4-1.5-1.4-1.4 M1398.2 2047.6l-1.7-1.1 .1-2 M1398.2 2047.6l-2 .3 M1398.2 2047.6l.6 1.9-.8 1.8 0 2 M1398.2 2047.6l1.6-1.1 .5-2 M1398.2 2047.6l.7-1.9-.7-1.8-1.3-1.6 M1313.1 1929l1.9 .2 M1313.1 1929l-2-.4-1.8 .8-2 .2 M1313.1 1929l-1.8 1 M1313.1 1929l1.7-1 1.6-1.2 M1313.1 1929l.9 1.8-.9 1.8-1.9 .6 M1094.8 2081.6l-1.3 1.4 .5 1.9 2 .4 M1094.8 2081.6l2 .2 1.9-.6 1.4-1.4 M1094.8 2081.6l-.4 1.9-1.8 .9-1.9-.6 M1094.8 2081.6l1.2-1.7 1.1-1.7-.4-1.9 M1094.8 2081.6l.8-1.9 1.5-1.3-.7-1.8 M1377 1855.5l1.9-.5 2-.3 M1377 1855.5l-1.9 .6-1.3 1.5-1.4 1.4 M1377 1855.5l1.9-.5 1.1-1.7 M1377 1855.5l-.7-1.9-2-.2 M1307.3 2088.3l1 1.8 1.4 1.3 M1307.3 2088.3l-1.1 1.7-1 1.6 M1307.3 2088.3l-1.6 1.1-.2 2 1.7 1.1 M1307.3 2088.3l-.8-1.8-.7-1.9 .4-1.9 M1307.3 2088.3l-.8 1.8 M1260.7 1716.4l1.2-1.6 M1260.7 1716.4l-1.1 1.7 M1260.7 1716.4l1-1.7 1.6-1.1 M1260.7 1716.4l1.9-.6 1.4-1.5 .9-1.7 M1260.7 1716.4l1.7-1 1.9 .7 1.4 1.5 M1244.9 1875.3l1-1.7 M1244.9 1875.3l1.9 .3 .7 1.9 M1244.9 1875.3l-.7-1.9-1.3-1.5-1.3-1.5 M1244.9 1875.3l1.6-1.1 M1095.5 1843.8l1.7 1 2 .6 M1095.5 1843.8l-2 0-1.9-.7 M1095.5 1843.8l1.5 1.3-1 1.8-1.8-1 M1095.5 1843.8l-1.2-1.6-.9-1.8-.3-2 M1095.5 1843.8l-1.6 1.1 M1434.8 1900.7l1.3 1.5 .4 1.9 M1434.8 1900.7l1.3 1.5 M1434.8 1900.7l-1.4 1.5 .8 1.8 M1388.1 1832.3l-1.7 1.1-1.9-.6-1-1.8 M1388.1 1832.3l-.1 2 1.1 1.7 M1388.1 1832.3l-1.4-1.5-.1-1.9 .7-1.9 M1388.1 1832.3l-2 0-1.3 1.6 .5 1.9 M1099 1882.9l-.1 2 1.2 1.7 .2 2 M1099 1882.9l1.3-1.5 .4-2 M1099 1882.9l-1.2-1.6 .3-1.9 M1064.1 1868.8l-2 0-1.4-1.4 M1064.1 1868.8l-1.8-.7 M1064.1 1868.8l-1.9-.6 M1247 2037.7l-.1 2 M1247 2037.7l1.1-1.6 .9-1.8 M1247 2037.7l-1.1 1.7 M1247 2037.7l1.9 .6 .3 2-1.5 1.4 M1372.2 2120.9l.7-1.8 M1372.2 2120.9l-1.4 1.5-1.4 1.4 M1372.2 2120.9l-2 .4-.6 1.9 1.6 1.3 M1310.7 1730.9l.2 2-1.2 1.6 M1310.7 1730.9l-.3 2 M1310.7 1730.9l1.6-1.1 .2-2 M1310.7 1730.9l.3-2 M1310.7 1730.9l1.9 .3 M1485.4 2041.8l1.5 1.4 .1 2 M1485.4 2041.8l-1.2-1.6-2 .1-1.4 1.4 M1485.4 2041.8l2 0 1.6 1.2 M1145.5 1987.5l1.1 1.6 1.2 1.6 M1145.5 1987.5l0 2 1.4 1.5 1.9-.6 M1145.5 1987.5l1.4 1.3 M1145.5 1987.5l-1.9-.7-2 .2 M1145.5 1987.5l1.2 1.5 2-.2 .7-1.9 M1419.4 1935.2l.2 2-.3 2 .5 1.9 M1419.4 1935.2l1.8-.8 M1419.4 1935.2l-1.2 1.7-.3 2 M1419.4 1935.2l.1-2 M1419.4 1935.2l.7 1.9 1.6 1.2 M1432.5 1911.8l-.5 1.9 1.7 1.1 1.5-1.4 M1432.5 1911.8l.6 1.9 M1432.5 1911.8l-1-1.8-2-.4-2 .1 M1432.5 1911.8l-1.7 1 M1432.5 1911.8l-.6-1.9 M1055.4 2082.9l1.3-1.5 .3-2 M1055.4 2082.9l1.9 .6 2 .2 M1055.4 2082.9l-1.9-.8-1.9-.7-1 1.8 M1055.4 2082.9l.3 2 M1055.4 2082.9l-2-.1-2 .1 M1062.3 1918.1l1-1.8 1.8-.8 2 .4 M1062.3 1918.1l1.8-1 M1062.3 1918.1l.6-2 .9-1.7 1.3-1.6 M1062.3 1918.1l-1.1-1.7-1.7-1-2-.3 M1062.3 1918.1l-.5-1.9-1.9-.8-2 .2 M1489.2 2088l-.4-1.9-.8-1.8-1.9-.6 M1489.2 2088l1.5-1.2 1.5-1.4 1.6-1.2 M1489.2 2088l.5 2-1.7 1.1 M1489.2 2088l1.1 1.8 1.9 .5 M1489.2 2088l-.8 1.9 M1162.4 1693.9l-1.8 .9-.2 2 1.9 .9 M1162.4 1693.9l-1.9-.8 .4-2 M1162.4 1693.9l-1.9-.6-1.9-.8 M1162.4 1693.9l1.9-.2 M1200.6 2003.9l-2 .2 M1200.6 2003.9l1.7-1 1.9-.7 M1200.6 2003.9l-.8-1.8 M1200.6 2003.9l-.2-2 M1282.7 1783.5l2 .3 1.9-.4 .1 2 M1282.7 1783.5l2 .2 2 .2 M1282.7 1783.5l-1.5 1.4-.9 1.7 M1282.7 1783.5l-.3 2 1.5 1.2 2-.6 M1066.8 1999.3l-1.1 1.6 .3 2 M1066.8 1999.3l-1.4-1.5-1.7-1 M1066.8 1999.3l1.6 1.1 2 .1 M1470.4 1847.9l-.9 1.8-2-.4 M1470.4 1847.9l1.5 1.3 M1470.4 1847.9l-.9 1.8 M1470.4 1847.9l-1.5-1.3-1.9 .7-1.8 .8 M1470.4 1847.9l1.6 1.2 M1301.3 1710.6l1.5 1.4 1.6 1.1 M1301.3 1710.6l-.8 1.8-1 1.8 M1301.3 1710.6l-1.1-1.7-.9-1.7-.6-2 M1414.8 1994.4l-2 .3-1.1 1.7 .7 1.9 M1414.8 1994.4l-1.8 .9 M1414.8 1994.4l1.9 .4 1.9 .8 1.3 1.6 M1414.8 1994.4l-.2 2-1.4 1.3 M1363.8 2095.3l-1.2-1.7-1-1.7-1.4-1.4 M1363.8 2095.3l-1.8-.9-1.8-.8 M1363.8 2095.3l.9-1.8 M1363.8 2095.3l1.8 .8 2 0 1.2-1.6 M1363.8 2095.3l1.2 1.6 M1100.4 1924.1l.4-2 M1100.4 1924.1l1.9 .3 1.3 1.6-1 1.7 M1100.4 1924.1l1.8-.8 1.8 .9 M1100.4 1924.1l-1.9-.6-1.5-1.5 M1100.4 1924.1l-.5 1.9 M1296.3 1971.4l-1.5 1.3-1.8 .9-1.7 1 M1296.3 1971.4l-1.1-1.6-1.6-1.3 M1296.3 1971.4l.7-1.9-.3-2-1.4-1.5 M1296.3 1971.4l-1.2 1.6 M1282.5 2021.8l-1.3 1.6 M1282.5 2021.8l1.1 1.7 M1282.5 2021.8l-1.8-.8-1.8-.8-1 1.7 M1322.7 2112.7l-1.9-.5-.5-1.9 1.1-1.7 M1322.7 2112.7l-1.6 1.1 M1322.7 2112.7l-.3 1.9 M1322.7 2112.7l-.3 2 1.8 .8 M1259.5 2071.8l2 .3 M1259.5 2071.8l-1.9-.4-1.3-1.5 .9-1.8 M1259.5 2071.8l.2-2 1.5-1.3 M1259.5 2071.8l1.7 1.1 M1322.8 2012l.4-2 .5-1.9 M1322.8 2012l1.2-1.6 M1322.8 2012l-1.6 1.2 M1322.8 2012l-1.5 1.3 .7 1.8 .7 1.9 M1322.8 2012l1.1 1.7 1.1 1.6 1 1.8 M1119 2112.3l1.5-1.3 1.8-1 2 0 M1119 2112.3l2 .3 1.9-.1 .2-2 M1119 2112.3l1.8-.8 M1119 2112.3l-.6-1.9 M1119 2112.3l-2-.5 M1150.8 1894.2l1 1.8-.6 1.9 M1150.8 1894.2l-1.5-1.3-.9-1.8-.7-1.9 M1150.8 1894.2l-1.7 1.2-1.9-.2 M1495.7 1763.8l-.8-1.8 M1495.7 1763.8l-1.1 1.6 M1495.7 1763.8l-.9 1.8 M1379 2007.2l1.1-1.7 1-1.7 M1379 2007.2l-.6-1.9 .2-2 M1379 2007.2l-1.6-1.1 M1379 2007.2l.2-2 M1286.2 2075.2l1.6 1.2 1.1 1.6 2 .4 M1286.2 2075.2l1.3-1.5 M1286.2 2075.2l.7 1.9 M1155.9 1757.6l.2-2 .1-2 M1155.9 1757.6l.8-1.8 M1155.9 1757.6l-1.8-.9 .9-1.8 M1264 2042.6l1.6-1.2 1.3-1.6 M1264 2042.6l2 .3 2 .3 1.9 .5 M1264 2042.6l2 .3 M1340.8 2112.4l2-.3 1.4 1.4-1.1 1.6 M1340.8 2112.4l-.9 1.8-1.9-.6 M1340.8 2112.4l.8-1.8 M1340.8 2112.4l1.5-1.3 1.6-1.2 1.9-.7 M1340.8 2112.4l1.9-.7 1.8-.7 2 .1 M1221.3 1887.4l0 2 M1221.3 1887.4l-1.4-1.4 M1221.3 1887.4l1.6 1.2 .5 2-1.5 1.3 M1488 1714.5l-1.9-.5-1.8 .9-1.2 1.6 M1488 1714.5l-1.9 .5 M1488 1714.5l.2-2 M1454.6 2055.6l-1.6 1.2-2 .2-1.9 .6 M1454.6 2055.6l0 2-1.8 1-1.1-1.7 M1454.6 2055.6l-2 .2-1.8 .8-1.6 1.1 M1109.8 1735.6l0-2 1.1-1.7 1.6-1.2 M1109.8 1735.6l-1.9-.8-1.9-.4-1.7-1.2 M1109.8 1735.6l1.6 1.2 1.9 .5 M1223.7 1746.9l-1.6 1.1-2 .5-1.7-1.1 M1223.7 1746.9l-.2 2 0 2 M1223.7 1746.9l-1.7-1.1-1.9 .6 M1223.7 1746.9l1.8 .9-.1 2-1.5 1.3 M1312.4 1754.4l1.3 1.5 M1312.4 1754.4l.7 1.9 M1312.4 1754.4l1.9 .7 M1116.5 1828.4l-.4 2 M1116.5 1828.4l-1.3-1.6-1.9-.3 M1116.5 1828.4l-1.6 1.2 M1116.5 1828.4l.6-1.9 M1093 1870.7l-.2-2-.6-1.9-1.4-1.5 M1093 1870.7l-1.8 .9 M1093 1870.7l2 0 M1172.7 2107.9l1.3-1.6 1.8 .8-.5 1.9 M1172.7 2107.9l-1.7-1-1.9 .5 0 2 M1172.7 2107.9l-1.9-.5-.5-1.9 M1172.7 2107.9l.3-2 .8-1.8 .2-2 M1172.7 2107.9l1.8 1 2-.2 1.5-1.3 M1067.9 1714.1l1.1-1.7 M1067.9 1714.1l1.2 1.5-.4 2-1.8 .8 M1067.9 1714.1l1.8-.8 .3-2 M1067.9 1714.1l-1.4 1.5 M1124.5 1945.9l1.2 1.6 2-.2 1.3-1.5 M1124.5 1945.9l-1.1 1.6 M1124.5 1945.9l-.2-2 M1124.5 1945.9l1.6 1.2 M1208.1 1930.2l1.6-1.2 1.8-1 1.8-.7 M1208.1 1930.2l2-.2 M1208.1 1930.2l1.8-.9 M1208.1 1930.2l-.1-2 .9-1.8 .2-2 M1208.1 1930.2l-.8-1.8-1.9 .5-1.6 1.2 M1068.5 1893.1l-2 .1-1.7 1 M1068.5 1893.1l-1.8 .7-1 1.8 M1068.5 1893.1l.9 1.8 M1068.5 1893.1l1.8-.9 M1109.8 1790.6l-1.3-1.5-1.1-1.7 .2-2 M1109.8 1790.6l2-.3 1.8 .8 1.8 .8 M1109.8 1790.6l-.2 2 1.6 1.3 M1334.7 1811.5l-2 .2-1.4 1.5 M1334.7 1811.5l1.7 1 2 .1 2-.4 M1334.7 1811.5l-1.1-1.6-1.8-.8 M1334.7 1811.5l-.8 1.9-.2 2-1.2 1.6 M1071.6 2101l-1.9-.3-1.9-.6 M1071.6 2101l-1 1.7-1 1.7 M1071.6 2101l-2 .1-1.7 1.1-1.1 1.6 M1071.6 2101l-1.8-.9-2 .3 M1071.6 2101l1.3 1.5 1.8 .9 M1255.6 1868l-1.8-.9-1.6-1.2-1.8-.9 M1255.6 1868l-1.4-1.4-1-1.8 M1255.6 1868l1.5-1.3 M1255.6 1868l-1.6-1.3 M1074.2 1770.4l-1.2 1.7-.7 1.8 M1074.2 1770.4l.6 1.9 2 .1 M1074.2 1770.4l1.7-1 1.4-1.5 1.4-1.3 M1207.6 1888.9l1.5-1.4 .8-1.8 M1207.6 1888.9l-1.9 .3-1.8-.9 M1207.6 1888.9l-1.8 .9-2-.1 M1487.7 1788.9l.7-1.9-.1-2 0-2 M1487.7 1788.9l-1.9-.3 M1487.7 1788.9l1.9 .8 1.7-1 0-2 M1487.7 1788.9l-.3 2 M1487.7 1788.9l-1.3 1.5 M1279.2 2066.9l1.1 1.7 M1279.2 2066.9l2-.2 2 .1 M1279.2 2066.9l1.3 1.5 M1279.2 2066.9l1.7 1 1.9 .6 1.6 1.3 M1118.1 1995.5l-1.9-.4-1.5-1.4 0-2 M1118.1 1995.5l-1.6 1.1-1.8-.8 .2-2 M1118.1 1995.5l1.7-1.1 2 0 1.9 .7 M1118.1 1995.5l1.9 .6 1.6 1.3 M1487.4 1866.5l1.9-.7 .8-1.8-1-1.7 M1487.4 1866.5l-.3-2 M1487.4 1866.5l-2-.5-1.9-.3-2-.1 M1487.4 1866.5l-.3 2-1.5 1.3 M1487.4 1866.5l-1.9 .5-2 .2-1.7 1.1 M1374.7 2029.3l-.2 2-1.7 .9-1.4-1.5 M1374.7 2029.3l-1.4-1.5 M1374.7 2029.3l-1.7-1.1-1.9 .6 M1312 1811.8l1.8 .9 .4 1.9-1 1.8 M1312 1811.8l-.4-2 1.9-.6 M1312 1811.8l-.2-2 .7-1.8 1.8-.9 M1312 1811.8l1.9 .7 M1393.8 1700l1.9 .7 .5 1.9-.5 1.9 M1393.8 1700l-.2 2 M1393.8 1700l1.3-1.5 1.7-1 M1143.9 1727.6l2 .1 1.3 1.5 M1143.9 1727.6l-.9-1.8-.8-1.8-.7-1.9 M1143.9 1727.6l1.9 .6 .6 1.9-1.4 1.5 M1143.9 1727.6l1.8-.7 2-.2 1.2-1.7 M1335.9 1902.4l-1.6-1.1 M1335.9 1902.4l-1.4 1.4 M1335.9 1902.4l1 1.8 1.8 .8 M1335.9 1902.4l.9 1.8 1.6 1.2 M1335.9 1902.4l.9-1.8 M1432.3 1742.1l-2 .1-.9 1.8 .4 1.9 M1432.3 1742.1l0-2 M1432.3 1742.1l1.5 1.3 M1432.3 1742.1l.4-2 M1087.1 1802l-1.9 .6 M1087.1 1802l1.4 1.4 M1087.1 1802l-.2 1.9 .5 2 1.4 1.4 M1454.8 1913.8l1.9-.7 .3-1.9-1.4-1.5 M1454.8 1913.8l-1.8-.8-1.9 .6 M1454.8 1913.8l.3 2 M1496.5 1995.5l2-.5 2 .1 1.9-.5 M1496.5 1995.5l-1.2-1.5-1.7-1.1 M1496.5 1995.5l2 .5 M1496.5 1995.5l0 2 1.7 1.1 M1496.5 1995.5l.6 2-1.1 1.6 M1101.3 1728.1l1.9 .4 M1101.3 1728.1l-1.7-1.1 0-2 0-2 M1101.3 1728.1l1.1 1.7-.9 1.8 M1441.9 1756.7l.4 1.9 .4 2 M1441.9 1756.7l1.3 1.5 .8 1.8 1.4 1.5 M1441.9 1756.7l1.7-1.1 .7-1.9 .6-1.9 M1441.9 1756.7l-.9-1.8 M1441.9 1756.7l1.7 1 1.9 .6 M1466.2 1943l1.4 1.5 M1466.2 1943l1.8 1 M1466.2 1943l.2 2-.4 2 M1432.5 1792l-1.2 1.6-.6 1.9 .8 1.8 M1432.5 1792l.3-2 M1432.5 1792l-.5-1.9 M1326.3 2018.5l1.4-1.5 .5-1.9 1.4-1.5 M1326.3 2018.5l1.8 .8 1.7-.9 M1326.3 2018.5l1.5 1.3 1.5 1.3 .4 2 M1326.3 2018.5l1.8 .7 M1326.3 2018.5l.9-1.8 1.3-1.5 M1360.5 1977.1l-1.6-1.2 M1360.5 1977.1l1.3 1.5 2 .2 M1360.5 1977.1l-.2 2-1 1.7 M1360.5 1977.1l-1.9-.7-1.9-.4-2 0 M1251.5 1992.9l-2 .2 M1251.5 1992.9l2-.2 1.7 1.1 M1251.5 1992.9l1.5 1.3 M1251.5 1992.9l-1.3-1.6 .9-1.8 M1379.8 1818.7l1.9-.7 1.7-.9 M1379.8 1818.7l-2-.1-.9-1.8-1.3-1.6 M1379.8 1818.7l.4 2 M1379.8 1818.7l-1-1.7-1.4-1.4 M1326.9 1957.8l-1.3 1.5-1.9-.5 0-2 M1326.9 1957.8l-2 0 M1326.9 1957.8l1.9-.4 1 1.7 M1326.9 1957.8l.5-1.9 .1-2 1.1-1.7 M1478.2 1803.3l1.1-1.7 M1478.2 1803.3l-.2-2 M1478.2 1803.3l-.7 1.9-1.4 1.4 M1425.7 1795.3l1.3-1.6 .1-2 M1425.7 1795.3l1.9-.7 M1425.7 1795.3l-1.3 1.4 .2 2 1.8 1 M1091.4 1695.2l-1.6-1.2-1.7-1 M1091.4 1695.2l.7-1.8 1.2-1.7 M1091.4 1695.2l-1.7 1-2 .2-2 .4 M1198 1853.7l-1.6 1.2 M1198 1853.7l1.6 1.3 .3 2 M1198 1853.7l2-.1 1.9-.5 M1350.4 1969.4l-1.7-1.1-2-.2-1.3 1.6 M1350.4 1969.4l-.5 1.9-2 0-1.8-.7 M1350.4 1969.4l-1 1.7 1.1 1.6 1.9 .8 M1349.9 2085.4l-2 .1 M1349.9 2085.4l-1-1.8 .5-1.9 1.9-.4 M1349.9 2085.4l-2-.3-2-.1-1.6-1.1 M1349.9 2085.4l-2 .2-.1 2 M1178.1 2041.9l.1 2-1.6 1.2 M1178.1 2041.9l.8 1.8 .2 2 M1178.1 2041.9l.3-2-.3-2-1.6-1.2 M1178.1 2041.9l.3 2 .5 1.9-.8 1.9 M1395 1757l1.6 1.2 M1395 1757l-.2-2 M1395 1757l-.1 2 M1395 1757l.2-2 M1401.7 2109.9l2-.5 1.4-1.4 M1401.7 2109.9l1.8 .9 M1401.7 2109.9l.5 1.9-.8 1.9 M1401.7 2109.9l-1.9-.4-1.7 1.1-1 1.7 M1125.9 2032.8l-2 0-1.9-.3-1.2-1.6 M1125.9 2032.8l.6 1.9 .2 2 M1125.9 2032.8l-.5 1.9-1.9 .5-1.1 1.7 M1125.9 2032.8l1.2-1.6 1.1-1.7 1.2-1.6 M1125.9 2032.8l-2-.1-.8 1.8 .7 1.9 M1230.5 1709.8l1.9 .5 2-.3 M1230.5 1709.8l1.8-.9 1.8-.7 1.9-.5 M1230.5 1709.8l-2 .3-2 0 M1230.5 1709.8l1.8 .7 .7 1.9 M1230.5 1709.8l-1.9 .6-1.9-.7-1.8-.8 M1357.7 1712.6l1.8-.8 2-.3 1.9-.7 M1357.7 1712.6l-.6-2 1.1-1.7 .8-1.8 M1357.7 1712.6l1.1 1.6 M1357.7 1712.6l-1.7 1.1 M1106.3 1782.7l2 .1 M1106.3 1782.7l1.9-.6 1.9-.8 .2-2 M1106.3 1782.7l-1.9 .4-1.9-.5 M1106.3 1782.7l.2 2 .8 1.8 1.7 1 M1087.5 2124.8l1.5 1.3 1.9-.8 1.7-1.1 M1087.5 2124.8l1.9-.4 M1087.5 2124.8l.5-1.9 2-.1 M1381.1 1936.1l-.8-1.9 0-2 M1381.1 1936.1l.1 2 M1381.1 1936.1l1.1-1.6 2 .1-.4 1.9 M1381.1 1936.1l.8 1.8 2 0 M1291.7 1871.8l-1.2-1.5 1.1-1.7 M1291.7 1871.8l-1.6-1.2-1.9-.5-1.9-.6 M1291.7 1871.8l.9-1.7-.1-2 .3-2 M1291.7 1871.8l-2 0 M1133.8 1807.2l-.8 1.8-.8 1.8 M1133.8 1807.2l-2 .2 M1133.8 1807.2l1.2 1.6 .4 1.9 M1152.8 1923.3l-.9-1.8 .8-1.8 M1152.8 1923.3l-.9-1.8-.3-2 0-2 M1152.8 1923.3l-1.9 .5-1.8 .9-1.3 1.5 M1152.8 1923.3l.9 1.8 M1203.1 1692.6l.5-1.9 .6-1.9 .2-2 M1203.1 1692.6l-1.3 1.5-.3 2 1.5 1.3 M1203.1 1692.6l.4 2 M1203.1 1692.6l-.4-1.9 1-1.8 M1172.7 1862l2 0 1.9 .6 .2 2 M1172.7 1862l-.7-1.9-1.9-.6 M1172.7 1862l1.4-1.4 1.6-1.2 .5-2 M1172.7 1862l-2 .5-1.8 .9 M1172.7 1862l1.5-1.3 M1312.5 2054.7l.2 2 .5 1.9 1.7 1.1 M1312.5 2054.7l1.1 1.6 1.5 1.4 M1312.5 2054.7l-.2-2-.9-1.8 M1312.5 2054.7l-.9 1.8-2 .1 M1176.1 2010.2l-.7-1.9 M1176.1 2010.2l-2-.2-1.8-.7 M1176.1 2010.2l2-.2 1.8 .8 M1200.5 2089.3l1.9 .6 M1200.5 2089.3l1.6 1.2 1.9-.5 .9-1.8 M1200.5 2089.3l1.3 1.5 1.9 .6 M1355.8 1874.5l2 .2 2 .1 M1355.8 1874.5l.3-2 1.5-1.3 M1355.8 1874.5l1.9 .7 M1161.4 1873.1l1.7-1.1-.3-2 M1161.4 1873.1l-1.7 1.1-1.9 .6 M1161.4 1873.1l-1.6-1.2 M1161.4 1873.1l1.8-.9 M1185.2 1694.1l-1.5 1.2 0 2 .6 2 M1185.2 1694.1l2 .5 1 1.7 1.3 1.5 M1185.2 1694.1l.2 2-1.5 1.3 M1365.4 1892.1l0 2-.9 1.8 M1365.4 1892.1l-1.8-.8-1.4 1.4 M1365.4 1892.1l-1.7 1.2-.5 1.9 M1365.4 1892.1l1.5 1.3 M1407.1 1734.1l1-1.8-.5-1.9-1.8-.9 M1407.1 1734.1l-1.5-1.4-2-.2 M1407.1 1734.1l.5 1.9 1.6 1.2 1.9-.4 M1407.1 1734.1l1.6-1.2 1.1-1.7 1.6-1.1 M1407.1 1734.1l1.3-1.6 1.9-.4 M1323.6 1834.4l1.1-1.7-.2-2-1.8-.8 M1323.6 1834.4l1.8-1 1.7-1 M1323.6 1834.4l-1.4 1.4-2-.3-1.2-1.5 M1308.1 1877l1.8 .9 1.2 1.6 .8 1.8 M1308.1 1877l.5-2 M1308.1 1877l.9 1.8 1.1 1.6 2 .2 M1308.1 1877l-2 0-1.9 .5 M1401.1 1860.4l-.5 1.9 M1401.1 1860.4l-.8-1.9 M1401.1 1860.4l-1.9-.6-2-.3-2 .6 M1223.9 2115.9l-1.8-.7-.4-2-.1-2 M1223.9 2115.9l.9 1.8 M1223.9 2115.9l-1.9-.4-1.9-.8-.2-2 M1466.5 1784.3l1.5-1.4 1.7-1.1 1.9-.3 M1466.5 1784.3l-1.6 1.2 M1466.5 1784.3l1.8 .9 1.8-.7 M1466.5 1784.3l-1.8 .9-1.7 .9 M1466.5 1784.3l1.8 .9 M1402.4 1970l-1.3-1.6-2 .1-.9 1.7 M1402.4 1970l1.5 1.3 .2 2-.8 1.8 M1402.4 1970l.5 1.9 1 1.7 M1402.4 1970l-2-.2-1.9 .6 .1 2 M1402.4 1970l1.9-.6 2-.3 2-.2 M1128.1 1916.5l.6-1.9 1.4-1.4 1.8 .8 M1128.1 1916.5l-1.9 .6 M1128.1 1916.5l0 2 M1128.1 1916.5l-.4 2 M1177 2085l1.6 1.1-.2 2-1.6 1.2 M1177 2085l-1.4 1.4 M1177 2085l-1 1.8 M1270.2 1746.4l1.3 1.4 M1270.2 1746.4l-1.9-.8 M1270.2 1746.4l-1.1 1.6-2 .4" fill="none" stroke="#d8a444" stroke-width="1.7" stroke-linecap="round" stroke-linejoin="round" opacity="0.85"/>
<circle cx="1390.4" cy="2034.7" r="1.6" fill="#fff4dc"/>
<circle cx="1387.5" cy="1717.7" r="1.3" fill="#fff4dc"/>
<circle cx="1191.7" cy="1982.9" r="1.3" fill="#fff4dc"/>
<circle cx="1302.8" cy="1989.9" r="1.9" fill="#fff4dc"/>
<circle cx="1442.8" cy="1871.1" r="1.6" fill="#fff4dc"/>
<circle cx="1126.7" cy="1713.6" r="1.9" fill="#fff4dc"/>
<circle cx="1329.7" cy="1882.4" r="1.5" fill="#fff4dc"/>
<circle cx="1346.9" cy="1828.2" r="1.8" fill="#fff4dc"/>
<circle cx="1176.6" cy="1894.3" r="1.4" fill="#fff4dc"/>
<circle cx="1490.8" cy="2030" r="1.9" fill="#fff4dc"/>
<circle cx="1374" cy="1828.1" r="1.6" fill="#fff4dc"/>
<circle cx="1124" cy="2094.1" r="1.3" fill="#fff4dc"/>
</g>
<clipPath id="clip3"><rect x="1502.7" y="1687.5" width="434" height="433.5"/></clipPath>
<g clip-path="url(#clip3)">
<rect x="1502.7" y="1687.5" width="434" height="433.5" fill="#46140f"/>
<rect x="1502.7" y="1687.5" width="434" height="433.5" fill="#000" filter="url(#grain)"/>
<rect x="1502.7" y="1690.1" width="434" height="4" fill="#6a2414" opacity="0.1"/>
<rect x="1502.7" y="1697.3" width="434" height="1.1" fill="#140302" opacity="0.1"/>
<rect x="1502.7" y="1700" width="434" height="3" fill="#140302" opacity="0.1"/>
<rect x="1502.7" y="1703" width="434" height="2.9" fill="#6a2414" opacity="0.1"/>
<rect x="1502.7" y="1710.9" width="434" height="2.8" fill="#6a2414" opacity="0.1"/>
<rect x="1502.7" y="1721.7" width="434" height="2.3" fill="#140302" opacity="0.1"/>
<rect x="1502.7" y="1734.1" width="434" height="2.2" fill="#6a2414" opacity="0.1"/>
<rect x="1502.7" y="1736.3" width="434" height="1.6" fill="#140302" opacity="0.1"/>
<rect x="1502.7" y="1739.9" width="434" height="1.5" fill="#6a2414" opacity="0.1"/>
<rect x="1502.7" y="1741.4" width="434" height="2" fill="#6a2414" opacity="0.1"/>
<rect x="1502.7" y="1743.5" width="434" height="1.8" fill="#6a2414" opacity="0.1"/>
<rect x="1502.7" y="1746.5" width="434" height="2.2" fill="#140302" opacity="0.1"/>
<rect x="1502.7" y="1748.8" width="434" height="1.6" fill="#140302" opacity="0.1"/>
<rect x="1502.7" y="1750.4" width="434" height="1.6" fill="#140302" opacity="0.1"/>
<rect x="1502.7" y="1751.9" width="434" height="1.1" fill="#140302" opacity="0.1"/>
<rect x="1502.7" y="1769.1" width="434" height="1.1" fill="#140302" opacity="0.1"/>
<rect x="1502.7" y="1779.4" width="434" height="1.7" fill="#140302" opacity="0.1"/>
<rect x="1502.7" y="1786.8" width="434" height="2.5" fill="#140302" opacity="0.2"/>
<rect x="1502.7" y="1790.4" width="434" height="1.1" fill="#140302" opacity="0.2"/>
<rect x="1502.7" y="1794.5" width="434" height="1.7" fill="#140302" opacity="0.1"/>
<rect x="1502.7" y="1800.8" width="434" height="1.3" fill="#140302" opacity="0.1"/>
<rect x="1502.7" y="1802.1" width="434" height="1.1" fill="#6a2414" opacity="0.1"/>
<rect x="1502.7" y="1805.8" width="434" height="3.6" fill="#140302" opacity="0.2"/>
<rect x="1502.7" y="1809.4" width="434" height="1.8" fill="#140302" opacity="0.1"/>
<rect x="1502.7" y="1815.6" width="434" height="1.1" fill="#140302" opacity="0.1"/>
<rect x="1502.7" y="1823.4" width="434" height="1.5" fill="#6a2414" opacity="0.1"/>
<rect x="1502.7" y="1824.9" width="434" height="2.2" fill="#6a2414" opacity="0.1"/>
<rect x="1502.7" y="1827.1" width="434" height="2.8" fill="#6a2414" opacity="0.1"/>
<rect x="1502.7" y="1839.3" width="434" height="2.6" fill="#140302" opacity="0.2"/>
<rect x="1502.7" y="1843.5" width="434" height="3.7" fill="#6a2414" opacity="0.1"/>
<rect x="1502.7" y="1852.6" width="434" height="1.7" fill="#140302" opacity="0.1"/>
<rect x="1502.7" y="1854.4" width="434" height="1.8" fill="#140302" opacity="0.1"/>
<rect x="1502.7" y="1857.4" width="434" height="2.9" fill="#140302" opacity="0.1"/>
<rect x="1502.7" y="1866.5" width="434" height="3.4" fill="#6a2414" opacity="0.1"/>
<rect x="1502.7" y="1878.7" width="434" height="3.8" fill="#6a2414" opacity="0.1"/>
<rect x="1502.7" y="1882.5" width="434" height="1.5" fill="#6a2414" opacity="0.1"/>
<rect x="1502.7" y="1884" width="434" height="1.4" fill="#6a2414" opacity="0.1"/>
<rect x="1502.7" y="1885.3" width="434" height="1.5" fill="#140302" opacity="0.1"/>
<rect x="1502.7" y="1893.8" width="434" height="2.4" fill="#140302" opacity="0.1"/>
<rect x="1502.7" y="1905.7" width="434" height="2.4" fill="#140302" opacity="0.1"/>
<rect x="1502.7" y="1908.1" width="434" height="3" fill="#6a2414" opacity="0.1"/>
<rect x="1502.7" y="1911.1" width="434" height="3" fill="#140302" opacity="0.1"/>
<rect x="1502.7" y="1914.1" width="434" height="2.8" fill="#140302" opacity="0.1"/>
<rect x="1502.7" y="1918.8" width="434" height="3.2" fill="#6a2414" opacity="0.1"/>
<rect x="1502.7" y="1922" width="434" height="3.2" fill="#140302" opacity="0.1"/>
<rect x="1502.7" y="1931.6" width="434" height="2.4" fill="#6a2414" opacity="0.1"/>
<rect x="1502.7" y="1934" width="434" height="1.5" fill="#140302" opacity="0.1"/>
<rect x="1502.7" y="1955" width="434" height="3.3" fill="#140302" opacity="0.1"/>
<rect x="1502.7" y="1962.6" width="434" height="2.2" fill="#140302" opacity="0.1"/>
<rect x="1502.7" y="1964.9" width="434" height="3.3" fill="#6a2414" opacity="0.1"/>
<rect x="1502.7" y="1969.1" width="434" height="1.8" fill="#140302" opacity="0.1"/>
<rect x="1502.7" y="1970.9" width="434" height="2.4" fill="#140302" opacity="0.1"/>
<rect x="1502.7" y="1973.3" width="434" height="1.5" fill="#140302" opacity="0.2"/>
<rect x="1502.7" y="1974.8" width="434" height="3.1" fill="#6a2414" opacity="0.1"/>
<rect x="1502.7" y="1977.9" width="434" height="3.1" fill="#140302" opacity="0.1"/>
<rect x="1502.7" y="1981" width="434" height="3.5" fill="#140302" opacity="0.1"/>
<rect x="1502.7" y="1984.5" width="434" height="2.2" fill="#140302" opacity="0.1"/>
<rect x="1502.7" y="1992.6" width="434" height="3.8" fill="#140302" opacity="0.1"/>
<rect x="1502.7" y="1996.4" width="434" height="1.9" fill="#140302" opacity="0.1"/>
<rect x="1502.7" y="1999.9" width="434" height="1" fill="#6a2414" opacity="0.1"/>
<rect x="1502.7" y="2001" width="434" height="3.2" fill="#140302" opacity="0.2"/>
<rect x="1502.7" y="2004.2" width="434" height="1.2" fill="#6a2414" opacity="0.1"/>
<rect x="1502.7" y="2009.5" width="434" height="2.3" fill="#140302" opacity="0.1"/>
<rect x="1502.7" y="2011.8" width="434" height="1.7" fill="#140302" opacity="0.2"/>
<rect x="1502.7" y="2013.5" width="434" height="2.3" fill="#140302" opacity="0.1"/>
<rect x="1502.7" y="2019.4" width="434" height="2.3" fill="#6a2414" opacity="0.1"/>
<rect x="1502.7" y="2035.4" width="434" height="2" fill="#140302" opacity="0.1"/>
<rect x="1502.7" y="2046.3" width="434" height="1.2" fill="#6a2414" opacity="0.1"/>
<rect x="1502.7" y="2047.5" width="434" height="2.5" fill="#140302" opacity="0.1"/>
<rect x="1502.7" y="2049.9" width="434" height="1" fill="#140302" opacity="0.1"/>
<rect x="1502.7" y="2051" width="434" height="3.7" fill="#140302" opacity="0.1"/>
<rect x="1502.7" y="2054.7" width="434" height="1.8" fill="#140302" opacity="0.1"/>
<rect x="1502.7" y="2068" width="434" height="1.2" fill="#140302" opacity="0.2"/>
<rect x="1502.7" y="2075.5" width="434" height="3.3" fill="#6a2414" opacity="0.1"/>
<rect x="1502.7" y="2078.7" width="434" height="3.9" fill="#6a2414" opacity="0.1"/>
<rect x="1502.7" y="2092.2" width="434" height="2.1" fill="#140302" opacity="0.1"/>
<rect x="1502.7" y="2097.1" width="434" height="2.7" fill="#140302" opacity="0.1"/>
<rect x="1502.7" y="2114.7" width="434" height="3.3" fill="#6a2414" opacity="0.1"/>
<rect x="1759.7" y="1963.1" width="59.4" height="2.8" fill="#0a0101" opacity="0.45"/>
<rect x="1610.9" y="1936" width="63.8" height="2.2" fill="#0a0101" opacity="0.45"/>
<rect x="1521.6" y="1910.7" width="33.8" height="2.3" fill="#0a0101" opacity="0.45"/>
<path d="M1935.1 1812.8l-.6 1.8-1.1 1.7-1.9 .8-2.2-.1-1-1.8-.7-1.2-2.6-1.2-.2-2.5 2.4-1.3 2.3 .3 1.5 1 2-.5 2.4 .8Z M1823.7 2119.4l-3.5 1-.1 1.6-1.4 2.5-3.2-.5-3-.8 .1-2.4 1.3-1.4-2.9-2 1.7-1.7 3-.1 2.9-.8 1.9 1.6 2 1.2Z M1841.9 1786.2l-1 1.3-1 1.1-1.1 1.3-1.7 .1-1.4-1.1 0-1.7 0-1-1.2-1.7 .5-1.9 2.1-.1 1.5 .7 1 1 1.3 .6Z M1689.3 2065.3l-3.7 1.5-1.1 1.4-1.5 2-2.7-.7-2.6-.6-.8-1.9-.1-1.7-2.4-2.6 2.9-1.4 3.3 .9 2-.5 2 .7 3 .7Z M1746.6 1915l-.9 1.9-.7 2.3-2.4 .9-2.5 .1-1.9-1.6-.4-2.1-2-1.5-.3-2.7 2.3-1.5 2.4-.7 2.2 .7 2 .6 2.6 1Z M1556.9 1952.4l-1.3 2.1-2.7 1-1.7 2.4-3.1-1.4-1.4-1.7-3-.4-.2-2-.9-2.4 1.5-2.4 4.2 1.4 2.3-.2 2.8 0 .9 1.9Z M1890 1906.6l.3 1.8-3 .5-1.8 .7-2.5 1.1-2.4-1-1.9-1.4 .3-1.7 1.9-1.1-.2-1.9 2.3-1.1 2.7 .6 2.6 .4 1 1.6Z M1607.6 1993.3l-1 1.6-.6 1.9-2.7-.1-1.9-.5-2.5 .3-1.3-1.5-.9-1.7 .4-1.8 2.7-.5 1.4-1.1 2.3-.5 1.6 1.3 2 .9Z M1588.5 1709.2l1.7 2.7-3.3 1.1-3-1.6-1.7 1.4-2.4-.1-2.4-1.2-1.5-2.3 3.7-1.5 .9-1.4 1.3-2.3 2.5 1.4 2.1 .5 1.8 1.3Z M1906.8 1897.6l-.2 .8 .7 1.9-1.9 .6-2-.1-1.3-1.1 .3-1.4-1.5-.7-.2-1.3 1.7-.6 1.1-1.1 1.8 0 1.4 .8 1.3 .9Z M1852.8 2079.4l-2.8 1.8-.2 2.5-1.7 2.1-2.2-1.3-2.8 .6-.8-3 .9-2.7-1.4-2.9 2.3-1.2 1.9-.7 2.2-2 1.6 2.6 1.8 1.5Z M1754.3 2022.6l-.5 1.1-.2 1.4-.9 1-1.3 .9-1.2-1.2-.1-1.9-.5-1.3 .3-1.4 .8-.9 .8-1.2 1.2 0 1.4 .4 1 1.3Z M1739.5 1960.9l-.6 1.5-.6 2-2.5 0-1.8-.7-2.1 .1-.3-1.7-.6-1.2-1-1.8 1.9-1.1 1.8-1.1 2.2 .3 .6 2 1.8 .3Z M1839 1920.8l.8 1.8-.8 2.1-2.5 1.8-3.6 .1-1.3-3-.8-1.5-1.9-1.3 .2-2 1-2.3 3-.9 3 .8 3 .3 .9 2.2Z M1761.6 2094.5l-.4 2-1.5 1.3-1.5 1.6-2.7 1.4-1.3-2.8-1.7-1.4-2.5-2.1 2-2.3 2-1.3 2.1-.2 1.8 .2 3.6-1.8 2.1 2.4Z M1707 1862.1l-.6 1.6-1.2 1.3-1.8 .2-1.3-1.2-1.7 .5-1.2-1 .6-1.4-.9-1.5 1-1.3 1.8-.4 1.8-.2 .4 2 .6 .6Z M1625.7 1734.8l-.3 1.7-1.7 .8-1.5 .5-1.5-.1-1.5-.4-1.6-.9 0-1.6 .4-1.5 .8-1.4 1.8-.3 1.6 .2 1.3 .6 1 1.1Z M1906.8 2038.7l.2 1.8 0 2.9-2.6 .9-2.4-1.7-1.4-1.1-1.5-1-1.5-1.8 .2-2.3 2.4-.9 1.8-.9 2.3-1 1.9 1.4 .8 2Z M1554.1 1747.6l-1.3 2-1 1.6-1.5 1.1-1.6-.8-1.9 .2-1.8-1.4-.2-2.7 .6-2.4 2-.8 1.4-.3 1.6-1.7 1.9 .7 1.3 2Z M1545.1 1831l-1.5 2.1-1.7 1.3-2 .1-1.5-.7-2.2 .6-1.5-1.4-.2-2-.5-2.3 2.1-1.2 2.1-.1 1.7-.1 1.1 1.3 2.1 .5Z M1595.4 2088.3l-.8 1.7-2.3 .7-1.3 1.3-3 2.1-2.5-1.8-.4-2.3-.1-1.7 .9-1.4 0-2.3 2.4-1.1 2.6 1.2 2.8 0 2.1 1.5Z M1810.7 1743.1l1.3 1.6-1.9 .9-1.8 .9-2.3 .1-1.2-1.5-2.6-.4-.7-1.6 2.4-1.1 .4-1.3 1.8-.7 2.2-.2 2.9-.1-.1 2.1Z M1587.3 1780.5l-1.9 .9-.5 1-.6 2-1.7-.8-1.5-.4-.8-1.3 .8-1.4-1.1-1.6 1.1-1.2 1.7 .5 1.4-1.2 1.4 .8 .8 1.3Z M1569.8 2042.2l-1.4 2-2.2 .9-1.6 .7-2.4 2.1-2.7-1.1-1-2.4-.7-2.2 1.3-1.9 1.3-1.7 2-1.1 2.2 .9 2.7-.2 2.9 1.2Z M1666.6 1873.3l-.3 1.5 .1 2.5-3 .7-3.2-.1-2.4-1.2 .1-2.1-1.9-1.3-.3-2 2.4-1.1 2.1-1.6 3.1 .2 2.2 1.4 2.1 1.2Z M1733.9 1802.4l-.7 1.5-.5 2.1-3 .4-2.1-2-1.6-.1-2.3-.4-1.7-1.5-.4-2.1 3.6-.5 2.2 .1 2.1-.9 1.8 1 1.4 1Z M1718.9 1688l-.6 1.6-.4 1.9-1.6 .4-1.3-1.1-1.4 .1-.9-1.2-.5-1.7-.1-2 1.7-.7 1.1-.7 1.4-.7 1.1 1.4 .9 1.1Z M1530.1 2107.6l-1.4 1.1-.5 .9-.6 1.9-1.6-.2-1.5-.4-.9-1.5 .8-1.8-.2-1.4 .8-1.1 1.2-.2 1.4-1.3 1.5 .7 .6 1.7Z M1680 1995.3l-.5 2.4-1.8 .9-1.2 1.8-1.9 .8-.8-2.8-1.3-1.1-1.5-2 .4-2.6 1.2-2.3 2.3 .9 1.2 1.2 2.3-1.6 1.6 1.7Z M1884.6 1807.7l-.5 1.7-.2 2.6-1.6 .6-1.5-.2-1.1-1.3 0-2.1-1.5-1.3-.4-2.7 1.7-1.1 1.3-.9 1.4 .7 1.1 .8 1.7 .8Z M1716.6 1840.1l-1 1.5-2.8-.1-.7 1.2-2 1.2-1.7-1.1-2.2-.9 .4-1.8 1.5-1.2 .3-1.6 2.1 .1 1.6 .1 2.7-.7 1.2 1.5Z M1779.6 1941.4l1 1.6 .3 2.7-3.2 .1-2.6-.1-2.5-.7-.6-2-1.1-1.6 1.3-1.4 1.6-.9 1-2.8 3.2-.3 2 2 .9 1.8Z M1687.9 1951.6l-1.4 2.1-.9 2.2-1.9 2-2.2-2.2-1.4-1.1-1.8-1-1-2-1-3 2.5-1.6 2.8 1 1.7-.9 2 .7 1.3 1.7Z M1892.2 1770.7l-.9 1.3-.9 1.2-1.7 .3-1.1-1.2-1.9 .8-1.5-.9 .9-1.5-.4-1.4 1.2-.8 1.4-.5 1.6-.9 .7 1.8 .5 .9Z M1514.6 1693.5l1.9 2.3-1.2 2.3-3 .1-2.4-.2-1.7-1.3-2-1.2-1.3-2 2.2-1.7 1.1-1.6 1.5-2.2 2.8 .1 2.3 1.2 .2 2.5Z M1652.3 1754l-.4 2.1-2.8 .5-1.8 .1-2.4 2.7-2.7-1.1-1.3-2.2-1-2.1 2.7-1.5 .9-1.5 1.7-1.6 2.3 1.2 3-.6 2.8 1.4Z M1638.7 2060.6l1 2.5-3.6 .5-1.6 1.8-3.1 .9-1.7-2.4-2.6-1 .7-2.3 1.6-1.4-1.1-3.2 3.2-.6 2.9 .9 2.9 .2 0 2.6Z M1725.1 1729.7l.9 1.9-1.6 .9-1.6-.8-1.1 1.4-1.4-.6-1.2-1.1-.9-1.7 2.1-1.1 .5-1.1 .8-1.8 1.4 1 1.4 .1 1.1 1.2Z M1825.4 2062.4l-.7 1.4-1.2 1.1-1.5 1.2-2.3-.2-1.4-1.2-.2-1.3-.2-1-1.4-1.5 .6-1.8 2.7-.1 1.9 .7 1.2 .9 1.3 .7Z M1645.7 1826.1l.2 2-1.9 1.3-2.4 .4-2.3 .4-1.8-1.2-.8-1.5-1.2-1.4 .2-1.8 1-1.9 2.5-.9 2.3 1.3 1.6 .8 1.9 .8Z M1713.3 2112.5l-.7 3-3-.4-.7 2.4-1.9 1.4-1.3-2.2-2.2-1.1 .4-3.1 1-2.2-.1-3.6 2.5 1 1.4 .7 2.3-1.2 .9 2.7Z M1669.2 2011.9l-1.1 1-1.1 .6-1.2 .6-1.5 .2-2.1 .2-1.3-1.2 1-1.4 .7-.8 .7-.8 1-.8 1.8-.6 1.5 .9 .8 1Z M1867.6 2062l.5 1.8-.5 2.1-2.1 .1-1.6-.1-2 0-1-1.9 .4-2 1-1.3 .6-1.3 .7-2.7 2.3-.5 1.2 2.5 .3 1.9Z M1872.2 1873l-1 1.9-.8 1.5-1 2.2-1.6-.5-1.6-.7-.5-2.3 1.2-2.1-1-1.9 .1-2.8 1.7-.7 1.8-.3 .8 2.5 .4 1.7Z M1619.9 1956.2l-.1 1.4-1.1 1.1-1.3 1-1.5-1-1-.7-1.5-.5 .3-1.3-.3-1.4 .6-1.5 1.8 0 1.5-.3 1 1 .1 1.3Z M1818.4 1985.5l-.1 1.6-1.3 1.1-1.8-.3-1.5 1.3-1.4-1.1-.3-1.5-1.8-1.1 .7-1.6 1.3-1.1 1.5-.9 1.5 1.5 1.4-.2 2.4 .4Z M1540.2 2058.4l-.2 1.1 .1 1.9-1.4 .9-1.4-.6-.9-1.1-.5-1.1-1-1.1 0-1.7 1.4-.6 1-.7 1.4-.5 1.3 .6 .7 1.4Z M1850.3 1723.9l.3 1.8-1.2 1.2-1.3 .6-1.5 .9-1.5-1-.5-1.9 .4-1.6 .4-1.2-.2-2.1 1.2-1.9 1.9 .9 .9 1.6 .5 1.4Z M1882.6 1960.2l-.7 2.7-1.6 2-2.1 .8-2.1-.1-2.5-.1-1-2.6 .8-2.7-.3-2.3 .8-2.5 2-1.8 2.5 .2 1.2 2.8 1.2 1.6Z M1830.1 1852.4l-1.2 1.7-.7 1.9-2.2 1.3-2.4-1.1-2.4-.3-2.8-1.1-.2-2.4 1.2-2.1 2.7-.6 1.6-.6 2.5-2.1 2.9 .8 .9 2.5Z M1764.3 1785.2l-.7 2.3-.7 2.8-2.5 .4-2.4 .3-2.8-.3 .1-3.4 0-2.1-.6-2.4 1.2-2.2 1.8-2.7 2.9 .7 1 3.2 1.9 1.1Z M1764.6 1893.1l.5 2.3-1.7 1.1-1.3 1.3-2 .9-1.1-2.3-1.7-1-.8-2.3 1.6-1.8 .5-2.1 1.7-.8 1.7 .4 2.3-.5 .7 2.6Z M1518.2 1891.9l.3 1.7-1.6 1-1.3 1.3-2.3 .9-1.5-1.8-.6-1.6 0-1.5 .4-1.3-.2-2.3 2-1.2 2.1 1 1.7 .7 .7 1.6Z M1580.8 1892.4l-.1 1.3-1 1.1-2-.6-1.2 .4-2.1 .5-1.1-1.3-.4-1.4 1.4-1.1 1.4-.4 .6-1.5 1.8-.2 1.3 1 1.4 .8Z M1904.5 2082.1l-1.7 2.1-1.3 1.3-.9 2.9-2.3 .7-1.8-2.1-.5-2.7 .1-2.2-.8-2.7 .9-2.8 2.4 .1 1.7 .3 1.9 .4 1.7 1.8Z M1920.3 1739.4l0 1.9-1 1.1-1.1 1.1-1.5 1.2-1-2.2 .1-1.9-.5-1.2-.2-1.6 0-2.6 1.6-.9 1.4 2.1 .9 .5 1.1 .9Z M1694.3 1752.4l-.1 2.2-.9 2.4-2.6-.4-2 .8-2.4-.4-1.8-1.9-1.7-2.7 2.6-2.2 2.5-.3 .8-2.4 2.3-.7 2.7 .5 2 2.2Z M1810 1815.5l-.7 1.7-1.4 1-1.2 .9-1.7 .6-1-1.7-.9-1.1-1.7-1.4 .3-2.1 1.6-1.4 1.9 .4 1.2 .9 1.9-1 1.9 1Z M1538.2 1994.6l.8 2.5-1.4 2.2-2.3 1.6-2.7-.9-1.9-1.4-1.7-1.6 .6-2.4 .3-1.9 .3-2.7 2.2-1.8 3-.2 1.8 2.4-.3 2.7Z M1664.3 2083.6l-.9 1.9-.9 1.9-2.3-.9-1.2-.3-2.6 1.5-1.4-1.9 0-2.2 .8-1.9 2.1-.3 .8-1.9 2-.8 1 2.1 1.8 .8Z M1820.6 1727.7l-1 1 0 1.6-1.4 2.3-2.6-1.5-1.1-1.4-1-.9-.2-1.1-1.4-1.7 1.5-1.4 2.5 .3 2-.9 1.9 .8 .3 1.7Z M1595.9 1908.3l-2.5 1.3-1.6 .7-1.2 1.3-2.3 .5-2.8-.3-.6-2 1-1.5-1-1.6 1.1-1.5 2.4-.3 2.2 0 1.7 .9 2.1 .8Z M1930.4 1998.1l-.2 2.3-1.3 1.5-1.5 1.1-1.6-.1-1.4-1.2-1.8-1-.7-2.6 1.2-2.1 1.3-1.4 1.5-.4 1.5-.7 2.1-.2 .9 2.5Z M1568.3 1834l0 1.8-1.1 .9-.9 1-1.2 .2-.6-1.6-.8-.9-.6-1.4 .2-1.6 .5-1.8 1.4 0 .9 .7 1.2-.1 .7 1.2Z M1900.1 1844.2l-.1 1.8-1.3 .9-1.3 .2-1.4 1.1-1.6-.5-.8-1.7-.1-1.8 1-1.3 .5-1.4 1-1.5 1.6 .5 1.3 .8 1.1 1.2Z M1787.2 2079.8l-.6 1.5-1 .9-1.3 .4-1.4 .5-1.1-.9-.6-1.2-1.3-1.2 .3-1.6 1.3-1 1.5-.2 1.1 .7 1.4-.2 1.8 .6Z M1884.9 1761.1l-1.3 2.2-1.5 1.1-1 2.5-1.9-1.1-1.8-.4-1.8-1.5 1.4-2.8-.4-2.1 .6-2.3 2.1 .1 1.8-1.6 1.7 1.7 .3 2.4Z M1696.2 2019.4l-.7 1.5-1 1.4-1.9 .6-2.3 .9-2.4-.7-1.3-1.8-.9-1.9 1.7-1.6 1.8-.8 1.3-1.4 2.2-.3 2.7 .2 2 1.6Z M1736.7 1954.4l.3 1.4-.5 1.8-1.7-.5-1.3 1.3-2-.2 0-2.3-.2-1.5 1-1.1 .6-.9 .4-2.9 1.9 .5 .9 1.7 1.2 1Z M1560.8 1910.1l-1.2 1.6 .2 2.7-2.7 .1-1.8-1.5-2.1 .2-1.3-1.3-1.7-1.8-.1-2.5 3.7 .1 1.4-.8 1.9-1.3 1.7 1.4 2.1 1Z" fill="none" stroke="#bc6a2e" stroke-width="1.3" stroke-linejoin="round" opacity="0.5"/>
<path d="M1540.7 1689.8l-.1-2 1.5-1.3 M1540.7 1689.8l-2-.1 M1540.7 1689.8l2 .2 M1540.7 1689.8l-2-.5 M1540.7 1689.8l.7 1.9-.8 1.8 M1590.2 1889.4l1.5-1.4 1.7-1.1 1.8-.7 M1590.2 1889.4l-1.9 .5 M1590.2 1889.4l2 .3-.4 1.9-1.8 .7 M1756.6 1798.7l-1.5-1.3-.8-1.8 .2-2 M1756.6 1798.7l-.4-2 M1756.6 1798.7l-.8-1.8-2-.1 M1756.6 1798.7l1.9-.6 1.5-1.4 M1756.6 1798.7l-2 .3-2-.1 M1856 2075.8l2 .2 1.4 1.4 .9 1.8 M1856 2075.8l1.4 1.5 2 .1 M1856 2075.8l.1-2 1.1-1.6 M1856 2075.8l-2-.3-1.3-1.5 .3-2 M1817.1 1944l-.1-2-1.2-1.6 M1817.1 1944l-.7-1.9 M1817.1 1944l1.1-1.7 .1-2-1-1.7 M1817.1 1944l1 1.7-.2 2 M1573.5 1831.2l1.3 1.5 .1 2-1.7 1 M1573.5 1831.2l-.8-1.9 M1573.5 1831.2l1.1-1.7 .8-1.8 M1573.5 1831.2l-1.9 .5 M1766.9 1980.3l1.3-1.5 .7-1.9 .2-2 M1766.9 1980.3l-1.8-.8 M1766.9 1980.3l-1.2 1.6 M1885.4 1823.5l1.7-1.1-.2-2-1-1.8 M1885.4 1823.5l2-.2 M1885.4 1823.5l-1.3 1.4-.7 1.9-1.1 1.7 M1885.4 1823.5l.7-1.9 .9-1.8 M1885.4 1823.5l1.2-1.6 M1897.3 1793.6l-1.6 1.1-1.8 1 M1897.3 1793.6l-.4-2-1.3-1.5-1.8-.8 M1897.3 1793.6l-1.9 .7 M1897.3 1793.6l1.5 1.3 M1862.5 1874l.9-1.8 2 .1 M1862.5 1874l-.4-2-1.7-1-1.9 .7 M1862.5 1874l-2 .1-2-.5-2 0 M1874.2 1731.8l1.9 .5 2 .3 1.3-1.5 M1874.2 1731.8l2 .1 M1874.2 1731.8l-.4 2 1.9 .6 M1509.6 2059.1l.7 1.9 M1509.6 2059.1l-.3 2 M1509.6 2059.1l-.9-1.7-.1-2 .7-1.9 M1509.6 2059.1l.3 2-1.1 1.6-2 0 M1509.6 2059.1l-.8 1.9-1 1.7 M1790.6 1711.4l-1.9-.5-1.7-1 M1790.6 1711.4l0-2 1.9-.7 2 .3 M1790.6 1711.4l.3-2-.5-1.9 M1790.6 1711.4l-.5-1.9 1.3-1.5 1.9-.6 M1790.6 1711.4l-.3-2-1.3-1.5-1.1-1.7 M1535.2 1927.8l-1.8-.8-1.8 1 M1535.2 1927.8l-.6 1.9 0 2 .8 1.8 M1535.2 1927.8l-1.2-1.6-1.8-.9-2 .1 M1535.2 1927.8l.4-2-1-1.7 M1535.2 1927.8l1.4 1.5 M1549.1 1839.4l-2 .1-1.6-1.1 M1549.1 1839.4l.1 2 M1549.1 1839.4l1.6 1.2 2 .2 1.9-.6 M1549.1 1839.4l-.2 2 1.4 1.5 M1549.1 1839.4l-1.9-.4 M1733.3 1992.4l.7 1.9 1.9 .4 1.5-1.3 M1733.3 1992.4l1.1-1.7 M1733.3 1992.4l-1.5 1.3-2-.3-.6-1.9 M1611.3 1711.6l-1.9 .5-1.3 1.6-.8 1.8 M1611.3 1711.6l.7 1.9 1.1 1.6 M1611.3 1711.6l1.7 1.1 2-.3 M1611.3 1711.6l0 2 M1611.3 1711.6l1.7-1.1 1.3-1.5-.3-2 M1799.7 1809.2l-.3 2-1 1.7 M1799.7 1809.2l.4 1.9 1.7 1 M1799.7 1809.2l1.9-.3 2-.1 1.8 1 M1799.7 1809.2l.4-2 M1869.8 1891.1l-2-.3-.7-1.8 .6-1.9 M1869.8 1891.1l1-1.7-.5-2-1.5-1.2 M1869.8 1891.1l-1.2-1.6 M1869.8 1891.1l-1.9 .3-2 .6-2 .1 M1605 1844.8l-2-.3 M1605 1844.8l1.2-1.6 2 .4 M1605 1844.8l.5-2 .5-1.9 M1605 1844.8l1.4 1.5 M1680.1 1940.5l-1.6-1.2-1.3 1.6 M1680.1 1940.5l-2-.1-1.6 1.1-.9 1.9 M1680.1 1940.5l.7 1.9 1.5 1.3 1.2 1.7 M1680.1 1940.5l-1.1 1.7-1.7 1-2 0 M1680.1 1940.5l-1.5-1.3-1.9 .5 M1507.3 1946.9l.3 1.9-.3 2 M1507.3 1946.9l.7 1.8 M1507.3 1946.9l-2 .2-1.8-1-.5-1.9 M1507.3 1946.9l1.8-.8 .6-1.9-.9-1.8 M1568.1 1728l-2 .3-1.9-.4 M1568.1 1728l.7-1.9 .6-1.9 M1568.1 1728l2 0 M1568.1 1728l-.6 1.9-1.2 1.6 M1568.1 1728l1.9-.6 M1676.1 1724.2l-2 .4 M1676.1 1724.2l1.1-1.7 M1676.1 1724.2l.6-2 M1918.3 1752.4l2 .2 1.8 .9 M1918.3 1752.4l-.3-1.9 .7-1.9 M1918.3 1752.4l-.6 1.9 .4 2 1.8 .9 M1918.3 1752.4l2 .2 1.4 1.4 M1853.1 1688.1l.8-1.8 M1853.1 1688.1l-.2 2 M1853.1 1688.1l1.9-.5 1.4-1.4 1.8-.9 M1853.1 1688.1l1.2-1.6 M1853.1 1688.1l1.8 1 M1826.5 1799.1l-.7 1.8-1.7 1.2 M1826.5 1799.1l1.1 1.6 1.6 1.3 1.9 .3 M1826.5 1799.1l-1 1.7 M1826.5 1799.1l-1.3 1.5-.8 1.8-2 .3 M1826.5 1799.1l-.5-2 M1850.9 2087.8l-1.9-.6-1.8 1 M1850.9 2087.8l1.3-1.5 1.4-1.4 M1850.9 2087.8l-2 .5-2 .1-2-.1 M1850.9 2087.8l-1.4-1.5 M1850.9 2087.8l-2-.3-1.3-1.6-.1-2 M1500.5 1885.7l-1.3 1.5-.6 1.8 M1500.5 1885.7l1.4 1.4 1.6 1.3 1.5 1.3 M1500.5 1885.7l-.8-1.9 .7-1.8 M1906.1 1867.4l.1 2 M1906.1 1867.4l1.9 .8 1.9-.2 2-.4 M1906.1 1867.4l1.7-1.2-.4-1.9 M1906.1 1867.4l1.9-.7 2-.1 2 .5 M1906.1 1867.4l-1.7-1-1.4-1.4 M1758.9 1728.4l-1.8-.9 M1758.9 1728.4l-2 .3-1.4 1.4 M1758.9 1728.4l-.4 2 M1758.9 1728.4l1.2 1.7-.7 1.9 M1758.9 1728.4l1.3 1.5 1.9 .9 M1757.9 1955.4l.6-1.9 1-1.7 1.8-1 M1757.9 1955.4l.7 1.8 M1757.9 1955.4l.5 1.9 .4 2 M1828.4 1894.2l1.9-.7 1.6 1.2 M1828.4 1894.2l1 1.7 1.1 1.6-.2 2 M1828.4 1894.2l.3 2-.2 1.9 0 2 M1735 1935.8l-1.5 1.4 M1735 1935.8l1.8 .9 1.9 .4 M1735 1935.8l-1.5 1.4-2 .4-1.8-.8 M1735 1935.8l-1.9 .6 M1735 1935.8l1.1-1.6 1.6 1.1 M1695.2 1760.5l.3-2-.8-1.8 0-2 M1695.2 1760.5l2 .4 1.5 1.3 .1 2 M1695.2 1760.5l-.5 2-2 .2 M1695.2 1760.5l-1.6-1.1-2-.3 M1695.2 1760.5l-.2-2-1.8-.9 M1925.8 2056.9l1.1 1.7 .4 1.9 M1925.8 2056.9l-1.6-1.1-1.8-.9 M1925.8 2056.9l2-.5 1.7 1 M1925.8 2056.9l-1.9-.5-1.9-.7-1.7-1 M1925.8 2056.9l-1.7-1-.4-2 M1861 2053.4l-1.9 .7 M1861 2053.4l1.4-1.4 .6-1.9 .9-1.8 M1861 2053.4l.4 2-.5 1.9-1.7 1 M1861 2053.4l1.9 .8 1.6 1.1 M1548.7 2123.8l-2 .5-1.7 .9-1.7 1 M1548.7 2123.8l1.2 1.5 1.3 1.6 M1548.7 2123.8l-1.7-1.1-.9-1.8 .9-1.8 M1933.6 1812.7l1.2 1.5 1.9 .7 1.7 1.1 M1933.6 1812.7l1.9-.5 1.7 1 M1933.6 1812.7l.9-1.8 .5-1.9 2-.4 M1933.6 1812.7l-2-.4 M1838.4 1964.5l-1.9-.4-2-.5 M1838.4 1964.5l-1-1.7 M1838.4 1964.5l-1.7 1-1.5 1.4 M1613.4 1781l-.9 1.8-1.6 1.2-2 0 M1613.4 1781l-1.9-.5-2-.2-1.4-1.4 M1613.4 1781l1.3-1.5 2-.2 1.6 1.2 M1895 1841.2l.6 1.9 1.1 1.7 1.6 1.2 M1895 1841.2l-1.9 .3-1.8 .9 M1895 1841.2l-.5-1.9 M1895 1841.2l-.6 1.9-.9 1.8 M1895 1841.2l-.9-1.8-.6-1.9-1.3-1.5 M1875.6 1816.7l1.5 1.3 .4 1.9 M1875.6 1816.7l2 0 M1875.6 1816.7l-1.8 1 M1875.6 1816.7l.2 2 M1610.8 2008.7l1.5 1.3-1.1 1.6 M1610.8 2008.7l-1.9 .8-1.9-.3-1.2-1.6 M1610.8 2008.7l1.9-.7 1.9-.4 2-.1 M1610.8 2008.7l-.4 2 M1541.1 2025l-1.1 1.7-1.4 1.4 M1541.1 2025l-1.8-.9 M1541.1 2025l-1.6-1.1 M1541.1 2025l1.7-1.1 1.9-.5 1.8 .8 M1541.1 2025l-1.2 1.7-1.6-1.3-1.1-1.7 M1515.6 1747.2l-.5-1.9-1.7-1.1 M1515.6 1747.2l-1.3-1.5 M1515.6 1747.2l-.1-2 1-1.7 M1515.6 1747.2l1.6-1.2 M1515.6 1747.2l1.2-1.6-.5-1.9 M1915 1785.8l-.2-2 M1915 1785.8l-1 1.7-1.5 1.3 M1915 1785.8l-.6 1.9-.7 1.8 M1915 1785.8l1.6-1.2 2-.1 .7 1.9 M1915 1785.8l1.2 1.6 2-.1 M1600.2 1907.6l1.3 1.5 .1 2-1.1 1.7 M1600.2 1907.6l-.4-1.9-.1-2 .7-1.9 M1600.2 1907.6l1.7 1 M1600.2 1907.6l-1.9 .7-1.3 1.6 M1798.5 1797.2l-1.3 1.5-1.3 1.5 M1798.5 1797.2l-1.4-1.4-1.3-1.5-2-.4 M1798.5 1797.2l-1.8-.8-2 0-1.6 1.1 M1798.5 1797.2l.8-1.9 1.4-1.4 1.6-1.2 M1794.8 1685.6l-1-1.7 M1794.8 1685.6l1.2-1.6 1.9-.4 M1794.8 1685.6l.8 1.9 1.6 1.2 M1794.8 1685.6l1.3-1.5-.5-2 M1794.8 1685.6l-.4 2 1.1 1.6 1.9 .8 M1625.2 2040l.2 2 M1625.2 2040l2-.4 1.9 .6 1.1 1.6 M1625.2 2040l-2-.1-1.8 .9 M1625.2 2040l1.3 1.5 2 0 2 .3 M1890.6 2063.7l1.9-.5 1.2 1.7-.6 1.9 M1890.6 2063.7l-1.7-1.1-1.7-1-.2-2 M1890.6 2063.7l-.5-2-.4-2 .7-1.9 M1890.6 2063.7l.9-1.8 M1742.8 2029.1l-.8-1.8 .4-2 1.6-1.1 M1742.8 2029.1l-1.7-1 M1742.8 2029.1l2 .3 1.6-1.2 M1742.8 2029.1l-2 .1 M1771.1 1939.6l1.8 .9 1.6 1.1 M1771.1 1939.6l.6 1.9-1.2 1.6 M1771.1 1939.6l-.9 1.8-.6 1.9-.5 1.9 M1771.1 1939.6l-1.4-1.4 M1771.1 1939.6l-1.8 .9 .2 1.9 1.1 1.7 M1920 1878.4l.1-2 M1920 1878.4l-1.3-1.6-1.9-.5 M1920 1878.4l.1 2 M1920 1878.4l-.3-2 M1661 2083.5l-2 0 M1661 2083.5l-1.7 1.1-2 0 M1661 2083.5l-.3 2-.4 2 M1661 2083.5l-1.2-1.6-1.4-1.3-2-.5 M1925.2 1932.7l2-.2 2 .4 .9 1.8 M1925.2 1932.7l-1.5-1.3-.1-2 1.6-1.3 M1925.2 1932.7l.6 1.9-.5 1.9 M1925.2 1932.7l1.9 .8 2 0 M1609 1929.9l-.4-2 M1609 1929.9l-1 1.7-1.9 .5 M1609 1929.9l2-.1 1.5-1.4 M1609 1929.9l-1.8-.9-1.5-1.3-1.9-.6 M1933.2 1730.5l.2-2 .3-2 M1933.2 1730.5l-1.8 .9 M1933.2 1730.5l-1.5 1.3-.6 2 M1933.2 1730.5l-.9 1.8-.2 2 .5 1.9 M1933.2 1730.5l.3 2 .8 1.8 M1793 1721.5l-2 .1-1.2 1.6 M1793 1721.5l-.2-2 .7-1.9 .8-1.8 M1793 1721.5l1-1.7 1.4-1.5 1.8 .8 M1793 1721.5l-.5 1.9 M1621.1 1853.7l2 .4 M1621.1 1853.7l1.5-1.4-1.4-1.4-1.7-1 M1621.1 1853.7l2 .5 M1621.1 1853.7l1.9 .8 M1621.1 1853.7l-1.7-1 M1508.4 1834.5l1.8-.7 1.9-.7 1.9 .8 M1508.4 1834.5l-1.9 .5 M1508.4 1834.5l-1.9 .5 M1508.4 1834.5l1.6 1.2 M1508.4 1834.5l-.1 2-.4 2 0 2 M1666.7 1982l-.3-2-1.2-1.6-2 0 M1666.7 1982l1.7-1.2 M1666.7 1982l.6 1.9 M1666.7 1982l2 .5 1.9 .5 M1596.6 2107.2l-.9-1.8-1.8-.7 M1596.6 2107.2l-2 .1-.9 1.8 .9 1.8 M1596.6 2107.2l-1.8-.8-1.5 1.4-1 1.7 M1596.6 2107.2l.3 2 1.7 1 M1900.6 1981l1.4-1.5 M1900.6 1981l1.1 1.7-.9 1.8 M1900.6 1981l-1.5-1.3-2 .1-2 .1 M1537.5 1964.9l1.9-.8 .1-2 M1537.5 1964.9l2-.6 2 0 M1537.5 1964.9l-1.7-.9 M1537.5 1964.9l-1.4 1.4-1.7 1.1-1.8 .7 M1537.5 1964.9l1.9 .7 M1654.4 1898l-1.8 .9-1.9 .5-2-.1 M1654.4 1898l.9 1.7 2-.2 M1654.4 1898l-.4 1.9-1.9 .5 M1716.8 2112.2l-2 .5 M1716.8 2112.2l0 2 0 2 M1716.8 2112.2l-1-1.7 M1716.8 2112.2l1 1.8 M1881.3 1835.3l-1.6-1.2-1.4-1.5-1.9-.5 M1881.3 1835.3l-1.1 1.8-1.3 1.5 M1881.3 1835.3l-1.5 1.4-.9 1.8 .8 1.8 M1881.3 1835.3l1.8 .8 M1842.4 1824.4l-2 .3-1.4-1.5 M1842.4 1824.4l-.7-1.9 1.3-1.5 2-.3 M1842.4 1824.4l.9 1.8-.6 1.9 M1642.3 1830.3l2 .1 M1642.3 1830.3l.6 1.9 .4 2 1.6 1.2 M1642.3 1830.3l1.6 1.3 1.2 1.5 M1642.3 1830.3l1.7 1 .8 1.9 M1642.3 1830.3l-2 0 M1878.5 1958.1l2-.5 1.9 .6 1.3 1.5 M1878.5 1958.1l2-.4 M1878.5 1958.1l1.7-1.1 M1892.7 1971.8l-.4 1.9-1.8 .9 M1892.7 1971.8l1.8-1 1.8-.7 M1892.7 1971.8l-1.4 1.4 .3 1.9 1 1.8 M1511.3 1970.6l1.7 .9 M1511.3 1970.6l-1.8-1-1.9-.5-1.5-1.3 M1511.3 1970.6l1.9-.5 M1511.3 1970.6l.9 1.8 1.6 1.1 1.8 .9 M1511.3 1970.6l.7-1.9 1.9-.5 1.6 1.2 M1931.4 1686.8l1.5-1.3 M1931.4 1686.8l-.5 1.9 M1931.4 1686.8l-1.9-.7-1.7 1-1.9 .7 M1931.4 1686.8l-1.7-1 M1931.4 1686.8l1.6-1.2 .6-1.9 .9-1.8 M1509.2 1798.2l.9 1.8 .5 1.9-1 1.8 M1509.2 1798.2l-2-.2 M1509.2 1798.2l2-.5 1.8 .9 M1668.8 1811.2l.2 1.9 1.8 1.1-.1 2 M1668.8 1811.2l1.5 1.3 .5 1.9 M1668.8 1811.2l1.9-.6 M1668.8 1811.2l1.2-1.6 M1668.8 1811.2l.2 1.9-.2 2 M1701.4 2074.9l1.8 1 1.9 .2 M1701.4 2074.9l-.6-1.9 .4-1.9 M1701.4 2074.9l1.9 .5 M1701.4 2074.9l1.9-.5 2 .5 M1642.3 1967.5l-2 .1-1.2-1.6 M1642.3 1967.5l1.6-1 M1642.3 1967.5l1.6-1.1 1.6-1.2 M1642.3 1967.5l1.3-1.4 M1642.3 1967.5l1.6 1.1 1.9-.7 M1732.5 1866.4l1.3-1.5 1.9 .4 M1732.5 1866.4l1.6-1.2 1.8 .8 1 1.7 M1732.5 1866.4l.4 2 M1894.4 1744.3l1.4 1.4-.4 1.9 M1894.4 1744.3l-1 1.7 M1894.4 1744.3l2 .3 .5 1.9-1.7 1.2 M1566.7 2091l1.8-1 1.7-1 .2-2 M1566.7 2091l-1.9-.3 M1566.7 2091l-2 .1-1.5 1.3 M1566.7 2091l-.8 1.8-.3 2 M1532.8 2061.8l-2-.4 M1532.8 2061.8l1.9-.5 2 .1 M1532.8 2061.8l-2 .3-1.4-1.5-.3-1.9 M1532.8 2061.8l.5-1.9 M1824.4 2017.3l0-2 M1824.4 2017.3l1.9 .4 2-.2 .2-2 M1824.4 2017.3l.4-2 1.9-.8 M1824.4 2017.3l-1.9 .8-1.7 1 M1917.7 1966.9l-.3 2 1 1.7 M1917.7 1966.9l-1.3 1.6 .2 2 1.2 1.5 M1917.7 1966.9l1-1.7 1.7-1 2-.1 M1917.7 1966.9l-.3-1.9 M1917.7 1966.9l-.7-1.8 M1781.4 2048.3l-1.5 1.3-1.1 1.7 M1781.4 2048.3l-1.1-1.6-.5-2 .2-2 M1781.4 2048.3l-.3-2 M1781.4 2048.3l-1.8-.7-2 .4-1.5 1.4 M1752.3 1711l-.7 1.9-.1 2-1.5 1.3 M1752.3 1711l-1-1.8-1.8-.9-1.8 .8 M1752.3 1711l1.1 1.6 .6 1.9 1 1.8 M1752.3 1711l-.5-2 M1752.3 1711l-2 .4-1.4 1.4 M1577.8 1692.5l1.4-1.4 M1577.8 1692.5l1.9-.4 1.2-1.6-.5-1.9 M1577.8 1692.5l2 .1 M1577.8 1692.5l-2-.4 M1551.7 1980.2l2 .3 1.8-.7 1.5-1.4 M1551.7 1980.2l2 .3 1.4-1.5 M1551.7 1980.2l-.8-1.8 1.2-1.6 M1895.9 2086.1l-.6 1.9 M1895.9 2086.1l-1.6 1.2-1.7 1.1-.6 1.9 M1895.9 2086.1l.5-1.9 M1894.6 2017.6l1.9-.4 M1894.6 2017.6l-.6-1.9 M1894.6 2017.6l1.1-1.6 2-.3 1.6 1.2 M1894.6 2017.6l-.3-2 .9-1.7 M1555.1 1825.4l1.4 1.4 2 .2 M1555.1 1825.4l.5 1.9 .5 1.9-2-.1 M1555.1 1825.4l1.3 1.5 1.8 .8 M1555.1 1825.4l1.1 1.6 .1 2 1.3 1.5 M1555.1 1825.4l-.3-2 .9-1.8 M1625.9 1942.2l-.9 1.7-1.2 1.7-1 1.7 M1625.9 1942.2l-.5-2 .5-1.9 1.6-1.2 M1625.9 1942.2l.2 1.9-1.4 1.5 M1810.1 1995.7l1.6-1.2 1.5-1.3-1.4-1.5 M1810.1 1995.7l-1.3 1.5 M1810.1 1995.7l-1.7 1-.5 2 M1812.2 1971.2l-1.9-.6-1.8 .8 M1812.2 1971.2l-.2-2 1.4-1.4 1.9-.7 M1812.2 1971.2l-.4 2-.7 1.8-1.5 1.4 M1725.4 2067.5l-.3 2-1.9 .4 M1725.4 2067.5l1-1.8 M1725.4 2067.5l1.8-.8 1.9-.7 1.3-1.4 M1890.8 1728.9l-1.8-.8-2-.3 M1890.8 1728.9l-1.9-.5-1.5-1.4 .6-1.9 M1890.8 1728.9l-1.5 1.4-1.9 .4 M1602.8 2090.5l1.9-.8 1.1-1.7 M1602.8 2090.5l-1.9-.7-.4-1.9 .1-2 M1602.8 2090.5l1.9 .6 M1602.8 2090.5l-1.9 .3-1.8 .9 M1561.5 2033.8l-2 .6-2 0 M1561.5 2033.8l1.7-1-.1-2-.5-1.9 M1561.5 2033.8l1.9 .3 1.8-.8 2 .2 M1561.5 2033.8l.7 1.8 1.4 1.5 M1848.3 1709.5l1.5 1.3 1.7-.9 .4-2 M1848.3 1709.5l-2-.2 M1848.3 1709.5l-1.2-1.6 M1587.3 1739.6l1.1-1.6 M1587.3 1739.6l.5 2 M1587.3 1739.6l1.5 1.3 1.6 1.2 M1587.3 1739.6l-2-.5 M1712.6 1777.8l.2 1.9 .8 1.9 .2 2 M1712.6 1777.8l1.6 1.1 2-.4 M1712.6 1777.8l-.2-2-.5-2-1.5-1.2 M1712.6 1777.8l-1.9 .6-1.4 1.4 .6 1.9 M1810.2 2085.6l-.6 1.9-1.5 1.4-2-.4 M1810.2 2085.6l1.7 1 1.3 1.5 1.4 1.5 M1810.2 2085.6l-1.9-.6-1.9-.7 M1612.4 1761.6l-2-.2-1.1-1.7 M1612.4 1761.6l1.9-.5 M1612.4 1761.6l1.9-.5 1.8 .9 1.9 .7 M1584.7 1920.4l-1.7 .9-1.6 1.2-2 .5 M1584.7 1920.4l1.7-1.1 M1584.7 1920.4l.6-2 1.7-1 2 .1 M1584.7 1920.4l-1.2 1.6-1.3 1.4 M1584.7 1920.4l1.9-.8 1.5-1.3 M1718.8 2053.6l2 .1 .8-1.8-1-1.8 M1718.8 2053.6l-1.9-.5-2 .6 M1718.8 2053.6l1.8 .8 1.9 .6 1.9 .8 M1542.3 1871.4l1.6-1.2 M1542.3 1871.4l2 .4 1.8 .9 M1542.3 1871.4l-.6 1.9-.5 2 M1542.3 1871.4l-1.7 1.1-1.8 .9 M1558.8 1875.8l1.7-1.1 2-.1 M1558.8 1875.8l1.7 1 1.7 1 M1558.8 1875.8l1.8-1 .6-1.9-1.5-1.3 M1560.1 1982.1l1 1.7 1.5 1.4 1.8-.7 M1560.1 1982.1l1.1-1.7 M1560.1 1982.1l-1.9-.5-1 1.7 M1560.1 1982.1l1 1.7 M1709 1951.2l-1.9 .5 M1709 1951.2l.6 1.9 M1709 1951.2l-1.9-.6-.7 1.9 M1899 2123.9l.8 1.8 1.3 1.5 M1899 2123.9l-1.2 1.5 M1899 2123.9l-1.9-.6 M1899 2123.9l-1.7-1.1 M1759.2 1751.7l1 1.7 1.5 1.4 1.9 .5 M1759.2 1751.7l1.3 1.6 M1759.2 1751.7l.4 1.9 1.7 1 1.7-1.1 M1759.2 1751.7l-1.4-1.5 M1542.3 1757.2l1.3 1.5 1.2 1.6 .6 1.9 M1542.3 1757.2l.3 2 M1542.3 1757.2l1.9-.4 1.7-1.1 M1542.3 1757.2l-2 .3 M1542.3 1757.2l0 2 1.7 1.1 1.3 1.5 M1794.4 1831.8l-1.9-.4-2-.4-2-.4 M1794.4 1831.8l.9 1.8 2 .2 M1794.4 1831.8l-2 .1-1.3-1.5 .3-1.9 M1938.7 1915.7l1-1.7-1.4-1.4-2 .3 M1938.7 1915.7l1.7-1 1-1.8 M1938.7 1915.7l-.6-1.9 .9-1.7 1.5-1.4 M1697.8 1848.8l-.1-2-1.1-1.6 M1697.8 1848.8l1.1-1.6 1-1.8 M1697.8 1848.8l2 .1 1.9 .6 .8 1.8 M1697.8 1848.8l-1.5-1.4 M1764.4 2068.9l-.7 1.8 M1764.4 2068.9l1.9 .5 M1764.4 2068.9l1.6 1.2 1.8-.9 M1764.4 2068.9l1-1.7-.1-2-1.4-1.4 M1597.1 1974.7l2-.5 M1597.1 1974.7l-.2 1.9 M1597.1 1974.7l-.2 1.9 M1787.1 1969.9l-2-.1-1.5-1.4 M1787.1 1969.9l.2-2 1.6-1.2 2-.4 M1787.1 1969.9l-1.1 1.7-1.9 .6-2 .2 M1693.2 2065.2l-1.5-1.3 M1693.2 2065.2l2 0 1.9-.5 M1693.2 2065.2l1.3-1.5 M1693.2 2065.2l-2-.2 M1693.2 2065.2l1-1.7 M1875.5 1927.9l-2 .3 M1875.5 1927.9l-1.5-1.3-1.5-1.3-1.9-.6 M1875.5 1927.9l.7-1.8 1-1.8 1-1.7 M1875.5 1927.9l1.9 .6 2 .4 2-.1 M1875.5 1927.9l1.2 1.6 M1546 2072l-.1-2 M1546 2072l0 2 M1546 2072l-.6 1.9-.9 1.8-1.3 1.5 M1546 2072l-1.3 1.5-.5 2 2 .5 M1546 2072l-1.7-1.1 M1634.2 1984.6l1.8 .8 1.9-.6 M1634.2 1984.6l2 0 M1634.2 1984.6l.5 1.9 M1634.2 1984.6l1 1.7 M1940.9 1978.5l-.3 2 M1940.9 1978.5l1.2-1.6 M1940.9 1978.5l0 2 .4 2 M1851.7 2111.6l1.9-.5 1.8-.9 M1851.7 2111.6l.8-1.8 1.4-1.5 1.9-.5 M1851.7 2111.6l1.1-1.7 M1851.7 2111.6l2-.3 1.7 1 1.2 1.6 M1723.7 1711.9l1.3 1.5 M1723.7 1711.9l.8 1.8 M1723.7 1711.9l-1.9-.6-1.7-1.1-.4-2 M1723.7 1711.9l.9-1.8 .9-1.8 M1680 1979.3l1.2-1.6 M1680 1979.3l-2 .3 M1680 1979.3l-1.7 1 M1778.3 1900.3l1.1 1.6 2-.1 M1778.3 1900.3l-1.9 .7 M1778.3 1900.3l-.1 2 M1778.3 1900.3l-1.4-1.5-2 0 M1778.3 1900.3l-1.4-1.4-2 .3 M1628.1 1790.5l-1.2-1.7 0-2 .8-1.8 M1628.1 1790.5l1.3-1.5 1.8-.9 1.4 1.4 M1628.1 1790.5l.8 1.8 .9 1.7 2-.5 M1628.1 1790.5l1.9 .4 M1628.1 1790.5l-1.7-1.1-2 .2-1.8 1 M1851.6 2007.1l-.7 1.9 M1851.6 2007.1l-.8-1.8-1.5-1.4 M1851.6 2007.1l-2 .1 M1853.8 1994.2l-.7-1.9-1.2-1.6-1.9-.5 M1853.8 1994.2l-1.9-.5-2 .2-2 0 M1853.8 1994.2l-1.2-1.6-.7-1.9-1-1.7 M1853.8 1994.2l1.1-1.6-.1-2 M1853.8 1994.2l-1.6-1.3-1.9 .5-.6 1.9 M1684.5 1955.5l0 2-1.7 1.1-1.9-.5 M1684.5 1955.5l-2-.5-.9-1.7 .4-2 M1684.5 1955.5l.6-1.9 1.3-1.5 1.6 1.2 M1546.2 1728.9l2 .2 2 .1 1.8-.9 M1546.2 1728.9l1.8-.9 M1546.2 1728.9l0-2 M1815.3 2116.2l-.9-1.7 .8-1.8 M1815.3 2116.2l-.2 2-1.3 1.5-2 .1 M1815.3 2116.2l-.4 2 .5 1.9 1.3 1.5 M1815.3 2116.2l-1.5 1.3-1.9-.7 M1788.2 2117.5l-1.8-.9-2 .1 M1788.2 2117.5l1.9-.3 1-1.7 M1788.2 2117.5l-1.4-1.4-1.8 .9 M1788.2 2117.5l-1.5 1.4-1.9 .6 M1749.4 2104.1l-.8-1.9 .8-1.8 M1749.4 2104.1l-1.7-1-2 .5 M1749.4 2104.1l-1.6-1.2-1.4-1.4-1.2-1.6 M1749.4 2104.1l-1.6-1.2-1.9-.6 M1658.3 1784l-.9 1.8-1.9 .6 M1658.3 1784l1.7-1.1 1.5-1.3 2 .3 M1658.3 1784l0 2 1.6 1.1 M1658.3 1784l1.6 1.2 M1658.3 1784l-.9-1.8 M1931.7 1833.6l.2 2 1.6 1.3 M1931.7 1833.6l2 0 1.9-.6 1.9-.6 M1931.7 1833.6l.5 2 .5 1.9 .6 1.9 M1603.7 2002l-1.6 1.3-1.9 .3-1.8-.9 M1603.7 2002l-.2-2 1.7-1 M1603.7 2002l1.1 1.7 M1635.3 2094.8l1.9 .5 M1635.3 2094.8l1.9 .7 1.7 1.1 1.5 1.2 M1635.3 2094.8l-1.9-.6 M1635.3 2094.8l.9 1.8 .4 2 M1708.8 1850l0-2 1.4-1.5 M1708.8 1850l1.7 1 1.8 .8 .7 1.9 M1708.8 1850l.6 1.9 M1727.4 1911.8l-1.1-1.6-1.9-.7-1.7 1 M1727.4 1911.8l-1.1-1.6 M1727.4 1911.8l1.2-1.5 1.7-1.2 1.9-.5 M1727.4 1911.8l.8-1.8 M1649.5 1968.3l-1.6-1.2-1.9 .5 M1649.5 1968.3l-2-.1-1.6 1.2 M1649.5 1968.3l1.4 1.4 1 1.8 M1649.5 1968.3l-.8 1.9 M1750.7 1849.3l.8-1.8 M1750.7 1849.3l1.7 1 1.9-.7 1.6-1.2 M1750.7 1849.3l-1.8 1-.2 2 .3 2 M1625.3 1710.9l.6 1.9 M1625.3 1710.9l-.7-1.9 .7-1.9 1.6-1.1 M1625.3 1710.9l1.6-1.2 1.2-1.6 M1625.3 1710.9l-2-.1-1.8 .9-.4 2 M1916.3 2076.8l2 .4 .6 1.9-.5 1.9 M1916.3 2076.8l-1.7 1.1 M1916.3 2076.8l1.8-.9 2 0 M1916.3 2076.8l1.9 .6 2 0 M1916.3 2076.8l2 .4 1.8 .7 2 .5 M1670.7 1877.1l-.6 1.9 1.9 .4 1.9-.8 M1670.7 1877.1l1.9-.6 M1670.7 1877.1l-.6-1.9 M1504.5 2016.6l-.1-2 1.2-1.7 M1504.5 2016.6l1.6-1.2 2 .4 1.1 1.6 M1504.5 2016.6l-1.7-1-2-.3-2 .1 M1618.6 1881.9l-1.5-1.3-1.2-1.7-1.7-1 M1618.6 1881.9l-2 .5-1.7 1 M1618.6 1881.9l1.9-.5 M1618.6 1881.9l-1.2 1.6-1.9 .8-1 1.7 M1618.6 1881.9l.4-2 1.9-.7 1.4-1.4 M1842.6 2065.3l.2-2-.3-1.9 M1842.6 2065.3l1.8-.9-.1-2-1.2-1.6 M1842.6 2065.3l1.6-1.3 2 .1 M1842.6 2065.3l-1 1.7-1.9 .6 M1842.6 2065.3l0-2 M1649.5 1755.1l1.6 1.2 1.9-.8 .1-2 M1649.5 1755.1l1.9-.4 2-.3 M1649.5 1755.1l-.4-1.9-1.7-1.1 M1721.3 1822.6l-.2 2-.5 1.9-.1 2 M1721.3 1822.6l.6 1.9 M1721.3 1822.6l.9-1.8-.8-1.9 M1721.3 1822.6l-1.7 1-1.8-.9 M1721.3 1822.6l-1.2 1.6 M1902.1 1913.7l-1.4-1.5 M1902.1 1913.7l1.5 1.2 M1902.1 1913.7l.9-1.8 2 .4 .3 1.9 M1902.1 1913.7l-.7 1.9 M1501.5 1740.2l.1-2 M1501.5 1740.2l-1.7 .9-1.5-1.3 .2-2 M1501.5 1740.2l-1.6 1.1 M1501.5 1740.2l-1.5 1.3-.1 2 M1802.3 1758.8l-1.9 .5 M1802.3 1758.8l1.5 1.4 M1802.3 1758.8l1.5-1.2 M1579 1910.1l-2 .1-1.3 1.5 M1579 1910.1l-.4 2-1.9 .6 M1579 1910.1l-.9 1.7 M1579 1910.1l-2 .1 M1681.6 2034.8l-1.5-1.3-1.6-1.3 M1681.6 2034.8l-.5 1.9 0 2 1.6 1.2 M1681.6 2034.8l2-.2 1.9 .4 .9 1.8 M1681.6 2034.8l-1.1 1.6-1.4 1.5 0 2 M1574.5 1757.2l.3 2 .7 1.9 1.4 1.4 M1574.5 1757.2l1.4 1.4 M1574.5 1757.2l0 2 M1574.5 1757.2l-.9-1.8 M1574.5 1757.2l1.2-1.6 M1755.4 1880.4l1.9 .6 2 0 M1755.4 1880.4l-.5-1.9 M1755.4 1880.4l1.8 .9 1.4 1.5 M1755.4 1880.4l-.2-2 .1-2 M1755.4 1880.4l2 .5 1.9 .6 2 .3 M1657.8 1720.5l2-.3 .9-1.7 M1657.8 1720.5l1.8-.7 1.4 1.5 M1657.8 1720.5l-1.4-1.4 M1657.8 1720.5l-1.5-1.3-2-.3 M1571.7 1778.5l-1.2-1.6 M1571.7 1778.5l1.8 .8 M1571.7 1778.5l1.2 1.5 1.8 .9 1.9 .8 M1571.7 1778.5l.7-1.9 1.3-1.5 1.9-.7 M1768.4 1847.8l-.1-2 M1768.4 1847.8l-2-.2 M1768.4 1847.8l0-2 M1768.4 1847.8l1.5-1.2 1.3-1.5 M1768.4 1847.8l-1.4 1.5-.7 1.8 M1573.4 2043.4l-1.9-.5-1 1.8 .4 2 M1573.4 2043.4l1.6 1.2 1.7 1.2 1.6 1 M1573.4 2043.4l1.4 1.5 .6 1.9 .4 1.9 M1573.4 2043.4l-2 .1-1.7-1.1 M1731.6 1940l1.9 .8 1.5 1.2 M1731.6 1940l2 0 M1731.6 1940l-1.4 1.5 M1565.6 1974.2l1.7 1.1 M1565.6 1974.2l-.4 2 M1565.6 1974.2l-.5 1.9-1.5 1.3-2 .5 M1722.9 2009.3l-1.9 .7-1.9-.6 M1722.9 2009.3l-1.2-1.6 M1722.9 2009.3l-2-.3 M1722.9 2009.3l-1.2-1.6-1.8-.8 M1693.4 1819.8l1.9 .3 M1693.4 1819.8l-1.2 1.6 M1693.4 1819.8l-2-.4-1.7 1.1 M1693.4 1819.8l-1.5 1.3-1.2 1.7 M1634.3 1754.8l-.9 1.8-1 1.7 M1634.3 1754.8l1.3-1.6 2 .3 M1634.3 1754.8l.5-1.9 M1634.3 1754.8l1.2 1.7-1.2 1.6 M1634.3 1754.8l-1.7-.9-.6-1.9 .6-1.9 M1718.3 1732.5l.3 2 M1718.3 1732.5l-.1-2 .4-1.9 M1718.3 1732.5l2-.2 2 .2 M1718.3 1732.5l-.7-1.8 M1582.7 2099.6l.5-2 M1582.7 2099.6l.9-1.8 .3-2-.2-2 M1582.7 2099.6l1.1-1.7 2 .2 M1777.1 1793.9l-1.8-.9-2 .1 M1777.1 1793.9l1.4-1.5 1.9-.4 M1777.1 1793.9l-1.1 1.7 M1777.1 1793.9l-1.1 1.6-2 .2 M1824.6 1841.9l-.2-2-2-.4 M1824.6 1841.9l-1.6-1.3-1.8-.9-1.1-1.7 M1824.6 1841.9l-1.1 1.7-1.3 1.5-1.9 .5 M1687.7 1702.1l1.9 .4 1.6 1.2 .5 2 M1687.7 1702.1l-.1-2-1.2-1.6 M1687.7 1702.1l-1.1 1.7-2-.2-.5-1.9 M1634.7 1723.7l.8-1.8-.4-2 0-2 M1634.7 1723.7l1.5-1.3 1.3-1.6 M1634.7 1723.7l-1.4 1.4-1 1.8 M1634.7 1723.7l-.3 2-2 .1 M1634.7 1723.7l1.6 1.1 2 .1 .2 2 M1651.8 2027.5l1.1 1.6 .2 2 M1651.8 2027.5l2 .1 1.9-.5 1.1-1.7 M1651.8 2027.5l.3-2 1.1-1.7 1.8-.9 M1651.8 2027.5l.1 2-.9 1.8 M1913.2 2110.1l1.1-1.7 .1-2 M1913.2 2110.1l1.9-.8 M1913.2 2110.1l1.4 1.4 M1913.2 2110.1l-1.9-.6 M1913.2 2110.1l.4-2 M1591.5 1818.3l-2 0-1.3-1.5-1.7-1 M1591.5 1818.3l1.7 1.1 1.9 .5 M1591.5 1818.3l0 2-1.6 1.2 M1646.1 2066.7l-1-1.7 M1646.1 2066.7l.2 2 M1646.1 2066.7l1.3 1.5 2 .2 1.4-1.4 M1646.1 2066.7l1.9-.7 1.6 1.1-.1 2 M1646.1 2066.7l1.3 1.6 1.7 1 M1525.7 2100.9l-1.6 1.2 0 2 M1525.7 2100.9l-1.4-1.4-2 0-1.7 1 M1525.7 2100.9l.6-1.9 0-2 M1525.7 2100.9l-.4 2-.8 1.8 M1885.2 1926.2l-2 .3-1.8 .7 M1885.2 1926.2l-1.6 1.3 M1885.2 1926.2l-1.9 .6-1.1 1.7 M1885.2 1926.2l-.4 2 .5 1.9 1.2 1.6 M1616.5 1905.4l1.4 1.4 1.1 1.7 M1616.5 1905.4l-.2 2 1.7 1.1 1.4-1.5 M1616.5 1905.4l1.1-1.7 .3-2 M1616.5 1905.4l1.5-1.4 M1616.5 1905.4l-.3 1.9 M1755.5 2003.6l-1.7 1-1.7 1-1.3 1.6 M1755.5 2003.6l.4-2 .4-1.9 M1755.5 2003.6l.8 1.9 .2 1.9-.4 2 M1815.7 1730.1l-2-.2-1.6-1.2-2 0 M1815.7 1730.1l1.6-1.2 M1815.7 1730.1l1.8 .9 .1 2 M1815.7 1730.1l-1.4-1.4 M1784.4 1815.3l1.7-1 1.6 1.2 M1784.4 1815.3l2 .1 M1784.4 1815.3l-1.8-.9-1.8 .7 M1784.4 1815.3l-.3 2 M1778.9 2033.1l-1.6 1.2 M1778.9 2033.1l-1.9-.9-.5-1.9 .2-2 M1778.9 2033.1l.5-2 2-.3 1.3 1.5 M1862.3 2020.9l-2-.4 M1862.3 2020.9l1.8 .7 M1862.3 2020.9l-2-.3-1.3 1.5 M1862.3 2020.9l-.6 1.9-1.9 .7 M1862.3 2020.9l-1.9 .6 M1504 2092.1l.4 1.9 M1504 2092.1l.8-1.8 2 .3 1.3 1.5 M1504 2092.1l.3-2 M1504 2092.1l-1.8-.9-1.8-1 M1504 2092.1l1.8 .8 1.5-1.2 M1794 1870.9l-1.9-.6 M1794 1870.9l-2 0 M1794 1870.9l-.8-1.8 .1-2 1.6-1.2 M1612.2 2042.8l1.9 .6 2 0 1.6-1.1 M1612.2 2042.8l1 1.7 2 .3 M1612.2 2042.8l1.1 1.6-1.2 1.6 M1612.2 2042.8l1.8 .8 1 1.7 M1834.1 1761.8l.7-1.9 1.6-1.3 M1834.1 1761.8l-2-.1-1.6 1.2-1.2 1.7 M1834.1 1761.8l1.6 1.1 M1834.1 1761.8l.1-2 1.6-1.3 1.9-.4 M1834.1 1761.8l-1.9-.8 M1868.2 1766.4l1.9-.8 0-2 M1868.2 1766.4l1.5-1.3 1.4-1.5 M1868.2 1766.4l1.5 1.4 M1868.2 1766.4l-1.9 .5-2 .2 M1882.4 2105.1l-1.9-.6-1.8-.9 M1882.4 2105.1l.2-2-1.4-1.4-2 .2 M1882.4 2105.1l-1.2-1.7 M1882.4 2105.1l-1.2 1.6 .3 2 M1908.7 1688.1l1.9-.8 M1908.7 1688.1l-2 .2 M1908.7 1688.1l-1.8 .8-1.9 .7-2-.1 M1923.3 2024.6l-1.8-1 M1923.3 2024.6l-.3 2 .4 1.9 .3 2 M1923.3 2024.6l1.6-1.1 2 .3 M1923.3 2024.6l-.5 1.9-1.1 1.7 M1923.3 2024.6l2 .1 M1729.5 1767.5l0 2-.9 1.8-.9 1.8 M1729.5 1767.5l-1.7 1 M1729.5 1767.5l.5-1.9-.4-2 M1729.5 1767.5l-1.7 1-2-.4-.9-1.8 M1729.5 1767.5l.3-1.9 .5-2 .9-1.8 M1512.3 1985.3l2 .4 1.8-.8 1.7-1.1 M1512.3 1985.3l-1.6-1.2 M1512.3 1985.3l.2-2 1.4-1.4 M1512.3 1985.3l-1.4-1.4 M1578.3 1818.2l-.6 2-.1 2 1.5 1.3 M1578.3 1818.2l1.2 1.6 2-.1 1.5-1.3 M1578.3 1818.2l-.3-1.9 .2-2 .2-2 M1578.3 1818.2l2-.1 1.4 1.4 1 1.7 M1578.3 1818.2l.3 2-.6 1.9 M1681.7 2104.8l-1.8 .8 M1681.7 2104.8l1.7 1 1.6 1.2 M1681.7 2104.8l.4-2 M1681.7 2104.8l-.6-2 M1702.3 1918.8l.2 2-1 1.7 M1702.3 1918.8l-1.4 1.4 M1702.3 1918.8l2 .2 1.7 1 M1791.1 1742.5l-1.6 1.2-1.7 1-2 .1 M1791.1 1742.5l-.1-2 .3-2 .4-1.9 M1791.1 1742.5l-2 0-1.9-.3 M1791.1 1742.5l-1.5-1.3-1.8-.9-.7-1.9 M1744.1 1807.6l.3 2 M1744.1 1807.6l-1.9 .4-1.8 .9 M1744.1 1807.6l.3-2 1.2-1.6 M1682.4 1871.4l.4-2-.9-1.8 M1682.4 1871.4l0-2 0-2 M1682.4 1871.4l1.8 .9 .9 1.8 .4 1.9 M1682.4 1871.4l1.4 1.5 1.9 .2 M1656.9 1849.8l1.6 1.2 2 .6 1.9-.2 M1656.9 1849.8l2 .4 1.7-1.1 .7-1.9 M1656.9 1849.8l-1.8-.9 M1656.9 1849.8l-.8-1.8-1.8-.9-2-.2 M1631.1 2028.8l1.5-1.4 M1631.1 2028.8l.6 1.9 .2 2 M1631.1 2028.8l-1.8 .9 M1631.1 2028.8l.4 2-1.3 1.5-2-.1 M1631.1 2028.8l.8 1.9 M1832.5 1739.7l-.2-2 .2-2-.4-2 M1832.5 1739.7l0 2 .2 2 M1832.5 1739.7l-.9 1.8 M1832.5 1739.7l-2-.2 M1810 2038.7l-1.3 1.5 M1810 2038.7l2 .3 1.9 .7 M1810 2038.7l-.5-2 M1830.7 1886.3l.5-1.9 M1830.7 1886.3l-2-.1-1.8 1 M1830.7 1886.3l-.8 1.9 1.7 1.1 M1498.7 1698.9l.4 1.9 M1498.7 1698.9l.5 1.9-.3 2 .1 2 M1498.7 1698.9l-.4-2 M1498.7 1698.9l-1.4 1.3 M1498.7 1698.9l-1.7 1 M1740.8 2090.7l-1.8 .8 M1740.8 2090.7l1.6 1.2 2 .4 M1740.8 2090.7l1.1 1.7 M1740.8 2090.7l1.7-.9 .3-2 M1740.8 2090.7l1.1-1.6 M1817 2015.1l-1.1-1.7-1.8-.9-1.9 .5 M1817 2015.1l-1.4-1.5 .5-1.9 M1817 2015.1l-1.7 1.1 M1556.5 1917.6l2-.3 1.8-.8 M1556.5 1917.6l2 .3 1.4 1.4 M1556.5 1917.6l2 .4 2 .1 M1556.5 1917.6l1.6 1.2 1.1 1.7 M1556.5 1917.6l1.1-1.7-1.2-1.6-1.7-1 M1829.8 1932.9l1.4 1.5 M1829.8 1932.9l.6-1.9 1.4-1.4 M1829.8 1932.9l-1.1-1.6-1.9 .6 M1666.1 2119.9l-1.7 1.1-1.7-1 M1666.1 2119.9l2 0 1.3 1.6-.2 1.9 M1666.1 2119.9l.4 1.9-.8 1.9 M1666.1 2119.9l-1.1-1.7 M1669.2 1688.1l-.3-2-.3-2-2 .1 M1669.2 1688.1l2-.1 2 .5 M1669.2 1688.1l-1.8-.8-1.8 1 M1621 2111.2l1.4-1.4 1.1-1.7 2 .3 M1621 2111.2l1.9 .8 M1621 2111.2l-1.3 1.5-1.8 1-.2 2 M1621 2111.2l-1.7-1 M1680.1 1790.6l1.9 .6 M1680.1 1790.6l-1.7 1-1.9-.7-.6-1.9 M1680.1 1790.6l-2 .2-1.7-1.1-1.9-.3 M1680.1 1790.6l-1.9 .6-2-.2 M1680.1 1790.6l.3 1.9 M1877 1780.6l-1 1.7 1.4 1.4 M1877 1780.6l2-.3 1.4 1.4 M1877 1780.6l2 .1 1.5 1.3 0 2 M1516.2 1906l1.9-.6 2 .1 1.9-.4 M1516.2 1906l1 1.7 M1516.2 1906l1.1-1.6 M1516.2 1906l-1.1-1.7 1.6-1.2 M1516.2 1906l-1.7-1.1 M1790 1882.5l2-.4 2 0 M1790 1882.5l-.1 2 1.7 .9 M1790 1882.5l-.3-1.9-.9-1.8 M1790 1882.5l-1.4 1.4-2-.4-1.1-1.7 M1742.3 1912.1l1.7-1.2 M1742.3 1912.1l-1.1-1.7 M1742.3 1912.1l.6 1.9 M1742.3 1912.1l1.7-1.1-.1-2-1.8-.9 M1666.8 1936.1l1.1 1.7 M1666.8 1936.1l-1.8 .8-1.5 1.4 .2 2 M1666.8 1936.1l.7-1.8-1.1-1.7-2 0 M1666.8 1936.1l1.9 .5 1.5 1.3 1.1 1.7 M1753.3 2059.4l.9-1.9 M1753.3 2059.4l-.3-2-.8-1.9-1.1-1.6 M1753.3 2059.4l-1.8-.8 M1547.8 1792.6l.8-1.8-1.2-1.6 M1547.8 1792.6l-1.2 1.6-.8 1.9-1.7 1.1 M1547.8 1792.6l.6 1.9 0 2-.2 2 M1547.8 1792.6l2 0 0-2-2-.3 M1812.2 1917.1l2-.3 M1812.2 1917.1l1.7-1.1 M1812.2 1917.1l1.9-.6 M1499.3 1810.6l-1.5-1.3-1.8-.9-1.3-1.5 M1499.3 1810.6l1.8 .9 2 .2 M1499.3 1810.6l-1.6-1.2-.6-1.9 1.2-1.6 M1499.3 1810.6l1.2-1.6-.1-2 M1499.3 1810.6l1.8 1 1.8 .8 1.8 .9 M1546.2 1692.3l-1.2 1.6 1 1.8 M1546.2 1692.3l1.9-.7 1-1.8-.4-1.9 M1546.2 1692.3l-.3-1.9-1.5-1.4 M1602 1876.1l-2 .1-1.5-1.3 M1602 1876.1l.2-2-1.4-1.5-2 .2 M1602 1876.1l-1.8-.8 M1762.2 1791.7l-1.9 .2 M1762.2 1791.7l-.5 1.9 M1762.2 1791.7l2 .2 M1762.2 1791.7l.8-1.8 M1762.2 1791.7l.7 1.9 M1877.3 2096l-1.9 .7 M1877.3 2096l1.5 1.3 2 .2 .6-1.9 M1877.3 2096l1.2-1.6-.7-1.9-1.8-1" fill="none" stroke="#d8a444" stroke-width="1.7" stroke-linecap="round" stroke-linejoin="round" opacity="0.85"/>
<ellipse cx="1649.8" cy="1745.9" rx="4.7" ry="3.1" fill="#e8c878" opacity="0.9"/>
<ellipse cx="1789.6" cy="1838.8" rx="3.8" ry="2.5" fill="#e8c878" opacity="0.9"/>
<ellipse cx="1694.2" cy="2018" rx="4.2" ry="2.8" fill="#e8c878" opacity="0.9"/>
<ellipse cx="1812.7" cy="1948.5" rx="4" ry="2.7" fill="#e8c878" opacity="0.9"/>
<ellipse cx="1592.7" cy="1711.9" rx="5.7" ry="3.8" fill="#e8c878" opacity="0.9"/>
<circle cx="1516.5" cy="1957.7" r="1.6" fill="#fff4dc"/>
<circle cx="1900.1" cy="1891.1" r="1.7" fill="#fff4dc"/>
<circle cx="1613.6" cy="1932.9" r="1.6" fill="#fff4dc"/>
<circle cx="1811.7" cy="1785.3" r="2.3" fill="#fff4dc"/>
<circle cx="1786.9" cy="2061.7" r="1.8" fill="#fff4dc"/>
<circle cx="1934.2" cy="1819.8" r="1.7" fill="#fff4dc"/>
<circle cx="1562.1" cy="1914.4" r="2.3" fill="#fff4dc"/>
<circle cx="1659.6" cy="1735.8" r="2" fill="#fff4dc"/>
<circle cx="1750.9" cy="1778.3" r="1.7" fill="#fff4dc"/>
<circle cx="1918.2" cy="2049.5" r="1.9" fill="#fff4dc"/>
<circle cx="1612" cy="1977" r="1.7" fill="#fff4dc"/>
<circle cx="1731.9" cy="1970.8" r="1.9" fill="#fff4dc"/>
<circle cx="1635.9" cy="1842.4" r="1.8" fill="#fff4dc"/>
<circle cx="1914.4" cy="1764.2" r="1.6" fill="#fff4dc"/>
<circle cx="1647" cy="2027.3" r="1.7" fill="#fff4dc"/>
<circle cx="1643.4" cy="1898.3" r="1.5" fill="#fff4dc"/>
<circle cx="1560.9" cy="1803.5" r="1.5" fill="#fff4dc"/>
<circle cx="1581.5" cy="1727.6" r="1.9" fill="#fff4dc"/>
<circle cx="1731.5" cy="1839.3" r="1.6" fill="#fff4dc"/>
<circle cx="1610.6" cy="1794.3" r="1.5" fill="#fff4dc"/>
<circle cx="1860" cy="1830.9" r="1.8" fill="#fff4dc"/>
<circle cx="1781.1" cy="2111.9" r="1.6" fill="#fff4dc"/>
<circle cx="1769" cy="2013" r="2.3" fill="#fff4dc"/>
<circle cx="1529.9" cy="1844.5" r="1.5" fill="#fff4dc"/>
<circle cx="1842" cy="1772.3" r="1.7" fill="#fff4dc"/>
<circle cx="1567.3" cy="1863.1" r="1.6" fill="#fff4dc"/>
<circle cx="1903.1" cy="1987.7" r="1.8" fill="#fff4dc"/>
<circle cx="1853.4" cy="1866" r="1.9" fill="#fff4dc"/>
<circle cx="1910" cy="2119.7" r="1.6" fill="#fff4dc"/>
<circle cx="1874.9" cy="1964.3" r="2" fill="#fff4dc"/>
<circle cx="1839.8" cy="2068.6" r="2.1" fill="#fff4dc"/>
<circle cx="1797.7" cy="1956" r="2.1" fill="#fff4dc"/>
<circle cx="1869.3" cy="1909.5" r="1.6" fill="#fff4dc"/>
<circle cx="1511.8" cy="2023.9" r="1.5" fill="#fff4dc"/>
<circle cx="1697.2" cy="2014" r="2.2" fill="#fff4dc"/>
<circle cx="1685.2" cy="1998.1" r="1.8" fill="#fff4dc"/>
<circle cx="1710.9" cy="2106.7" r="1.7" fill="#fff4dc"/>
<circle cx="1755.8" cy="1736" r="1.6" fill="#fff4dc"/>
<circle cx="1761.8" cy="1859.9" r="2.2" fill="#fff4dc"/>
<circle cx="1735.6" cy="2118.9" r="1.8" fill="#fff4dc"/>
<circle cx="1774.4" cy="1805.7" r="1.6" fill="#fff4dc"/>
<circle cx="1628.8" cy="1747.5" r="1.5" fill="#fff4dc"/>
<circle cx="1513.4" cy="2069.6" r="2.1" fill="#fff4dc"/>
<circle cx="1879.7" cy="1723.6" r="1.9" fill="#fff4dc"/>
<circle cx="1541.4" cy="1999.1" r="1.7" fill="#fff4dc"/>
<circle cx="1530" cy="1723.5" r="1.5" fill="#fff4dc"/>
<circle cx="1708.4" cy="1730.7" r="1.7" fill="#fff4dc"/>
<circle cx="1576.6" cy="2070.9" r="1.9" fill="#fff4dc"/>
<circle cx="1758.9" cy="1910.8" r="1.8" fill="#fff4dc"/>
<circle cx="1550.5" cy="1768" r="1.9" fill="#fff4dc"/>
<circle cx="1825.9" cy="2005.4" r="1.6" fill="#fff4dc"/>
<circle cx="1806.8" cy="1717.9" r="1.8" fill="#fff4dc"/>
<circle cx="1696.3" cy="1867.2" r="1.8" fill="#fff4dc"/>
<circle cx="1615.3" cy="2084.1" r="2.1" fill="#fff4dc"/>
<circle cx="1914.1" cy="1722.5" r="1.5" fill="#fff4dc"/>
<circle cx="1833.9" cy="2020.4" r="1.5" fill="#fff4dc"/>
<circle cx="1578.8" cy="2028.6" r="2.1" fill="#fff4dc"/>
<circle cx="1887.2" cy="1931.3" r="1.5" fill="#fff4dc"/>
<circle cx="1667.2" cy="1806.5" r="1.8" fill="#fff4dc"/>
<circle cx="1578.9" cy="2011.5" r="1.8" fill="#fff4dc"/>
<circle cx="1532.8" cy="1898.2" r="1.7" fill="#fff4dc"/>
<circle cx="1795.1" cy="1866.9" r="1.5" fill="#fff4dc"/>
<circle cx="1672.2" cy="1748.5" r="1.6" fill="#fff4dc"/>
<circle cx="1675.1" cy="1952.3" r="2" fill="#fff4dc"/>
<circle cx="1512.3" cy="1921.1" r="1.4" fill="#fff4dc"/>
<circle cx="1888.5" cy="1862.8" r="1.4" fill="#fff4dc"/>
<circle cx="1654.9" cy="1926.2" r="1.5" fill="#fff4dc"/>
<circle cx="1819.3" cy="1756.8" r="1.6" fill="#fff4dc"/>
<circle cx="1827.3" cy="2020.4" r="1.7" fill="#fff4dc"/>
<circle cx="1905.4" cy="1819" r="1.7" fill="#fff4dc"/>
</g>
<clipPath id="clip4"><rect x="170.3" y="2129.8" width="434" height="433.2"/></clipPath>
<g clip-path="url(#clip4)">
<rect x="170.3" y="2129.8" width="434" height="433.2" fill="#42120f"/>
<rect x="170.3" y="2129.8" width="434" height="433.2" fill="#000" filter="url(#grain)"/>
<rect x="170.3" y="2129.8" width="434" height="3.9" fill="#6a2414" opacity="0.1"/>
<rect x="170.3" y="2137.2" width="434" height="1.4" fill="#6a2414" opacity="0.1"/>
<rect x="170.3" y="2138.6" width="434" height="1.4" fill="#6a2414" opacity="0.1"/>
<rect x="170.3" y="2140" width="434" height="1.9" fill="#140302" opacity="0.1"/>
<rect x="170.3" y="2145.2" width="434" height="1.5" fill="#140302" opacity="0.1"/>
<rect x="170.3" y="2146.7" width="434" height="2.8" fill="#140302" opacity="0.1"/>
<rect x="170.3" y="2149.5" width="434" height="3.5" fill="#140302" opacity="0.1"/>
<rect x="170.3" y="2166.3" width="434" height="2" fill="#6a2414" opacity="0.1"/>
<rect x="170.3" y="2168.3" width="434" height="2.4" fill="#140302" opacity="0.2"/>
<rect x="170.3" y="2176.6" width="434" height="3.7" fill="#6a2414" opacity="0.1"/>
<rect x="170.3" y="2180.3" width="434" height="1.4" fill="#6a2414" opacity="0.1"/>
<rect x="170.3" y="2185.5" width="434" height="2.5" fill="#6a2414" opacity="0.1"/>
<rect x="170.3" y="2188" width="434" height="1.6" fill="#140302" opacity="0.1"/>
<rect x="170.3" y="2189.6" width="434" height="2.7" fill="#140302" opacity="0.1"/>
<rect x="170.3" y="2195.2" width="434" height="4" fill="#140302" opacity="0.1"/>
<rect x="170.3" y="2199.2" width="434" height="3.4" fill="#140302" opacity="0.1"/>
<rect x="170.3" y="2206.7" width="434" height="2.5" fill="#140302" opacity="0.1"/>
<rect x="170.3" y="2212.3" width="434" height="2.1" fill="#6a2414" opacity="0.1"/>
<rect x="170.3" y="2214.4" width="434" height="3.8" fill="#140302" opacity="0.2"/>
<rect x="170.3" y="2223.4" width="434" height="1.7" fill="#6a2414" opacity="0.1"/>
<rect x="170.3" y="2225.1" width="434" height="2.1" fill="#6a2414" opacity="0.1"/>
<rect x="170.3" y="2229.5" width="434" height="3.4" fill="#140302" opacity="0.1"/>
<rect x="170.3" y="2232.9" width="434" height="1.4" fill="#140302" opacity="0.1"/>
<rect x="170.3" y="2234.3" width="434" height="2.4" fill="#6a2414" opacity="0.1"/>
<rect x="170.3" y="2236.7" width="434" height="1.1" fill="#140302" opacity="0.1"/>
<rect x="170.3" y="2237.8" width="434" height="2.8" fill="#140302" opacity="0.1"/>
<rect x="170.3" y="2249.7" width="434" height="2.3" fill="#140302" opacity="0.1"/>
<rect x="170.3" y="2255.6" width="434" height="2.6" fill="#6a2414" opacity="0.1"/>
<rect x="170.3" y="2258.2" width="434" height="3.5" fill="#6a2414" opacity="0.1"/>
<rect x="170.3" y="2261.7" width="434" height="1.9" fill="#140302" opacity="0.1"/>
<rect x="170.3" y="2270.5" width="434" height="1.6" fill="#140302" opacity="0.1"/>
<rect x="170.3" y="2284.4" width="434" height="3.6" fill="#140302" opacity="0.1"/>
<rect x="170.3" y="2288" width="434" height="1.1" fill="#140302" opacity="0.1"/>
<rect x="170.3" y="2289.1" width="434" height="1.8" fill="#140302" opacity="0.1"/>
<rect x="170.3" y="2290.9" width="434" height="2.1" fill="#6a2414" opacity="0.1"/>
<rect x="170.3" y="2293" width="434" height="3.2" fill="#140302" opacity="0.1"/>
<rect x="170.3" y="2296.2" width="434" height="1.2" fill="#6a2414" opacity="0.1"/>
<rect x="170.3" y="2297.3" width="434" height="4" fill="#140302" opacity="0.1"/>
<rect x="170.3" y="2301.3" width="434" height="4" fill="#6a2414" opacity="0.1"/>
<rect x="170.3" y="2308" width="434" height="1.3" fill="#6a2414" opacity="0.1"/>
<rect x="170.3" y="2309.3" width="434" height="1.5" fill="#6a2414" opacity="0.1"/>
<rect x="170.3" y="2310.7" width="434" height="1.8" fill="#6a2414" opacity="0.1"/>
<rect x="170.3" y="2312.6" width="434" height="2.4" fill="#6a2414" opacity="0.1"/>
<rect x="170.3" y="2316.5" width="434" height="2.9" fill="#6a2414" opacity="0.1"/>
<rect x="170.3" y="2322.8" width="434" height="1.2" fill="#140302" opacity="0.1"/>
<rect x="170.3" y="2324" width="434" height="2.4" fill="#140302" opacity="0.1"/>
<rect x="170.3" y="2326.4" width="434" height="2.3" fill="#6a2414" opacity="0.1"/>
<rect x="170.3" y="2328.6" width="434" height="3.3" fill="#6a2414" opacity="0.1"/>
<rect x="170.3" y="2337.4" width="434" height="3.9" fill="#140302" opacity="0.1"/>
<rect x="170.3" y="2343.5" width="434" height="3.4" fill="#6a2414" opacity="0.1"/>
<rect x="170.3" y="2350.2" width="434" height="2.9" fill="#6a2414" opacity="0.1"/>
<rect x="170.3" y="2353.1" width="434" height="2" fill="#6a2414" opacity="0.1"/>
<rect x="170.3" y="2356.3" width="434" height="3.8" fill="#6a2414" opacity="0.1"/>
<rect x="170.3" y="2363.1" width="434" height="2.3" fill="#140302" opacity="0.1"/>
<rect x="170.3" y="2365.4" width="434" height="3.6" fill="#140302" opacity="0.1"/>
<rect x="170.3" y="2372.5" width="434" height="2.9" fill="#140302" opacity="0.1"/>
<rect x="170.3" y="2377.9" width="434" height="2.6" fill="#6a2414" opacity="0.1"/>
<rect x="170.3" y="2383.2" width="434" height="3.9" fill="#6a2414" opacity="0.1"/>
<rect x="170.3" y="2387" width="434" height="2.1" fill="#6a2414" opacity="0.1"/>
<rect x="170.3" y="2393" width="434" height="4" fill="#140302" opacity="0.1"/>
<rect x="170.3" y="2403.3" width="434" height="3.9" fill="#6a2414" opacity="0.1"/>
<rect x="170.3" y="2423.6" width="434" height="3" fill="#6a2414" opacity="0.1"/>
<rect x="170.3" y="2437.7" width="434" height="2.5" fill="#140302" opacity="0.1"/>
<rect x="170.3" y="2440.2" width="434" height="1.8" fill="#6a2414" opacity="0.1"/>
<rect x="170.3" y="2449.5" width="434" height="1.8" fill="#140302" opacity="0.1"/>
<rect x="170.3" y="2451.3" width="434" height="2.9" fill="#140302" opacity="0.1"/>
<rect x="170.3" y="2454.2" width="434" height="2" fill="#6a2414" opacity="0.1"/>
<rect x="170.3" y="2456.2" width="434" height="3" fill="#140302" opacity="0.2"/>
<rect x="170.3" y="2465" width="434" height="3.6" fill="#140302" opacity="0.1"/>
<rect x="170.3" y="2468.6" width="434" height="1.7" fill="#6a2414" opacity="0.1"/>
<rect x="170.3" y="2474.2" width="434" height="1.8" fill="#6a2414" opacity="0.1"/>
<rect x="170.3" y="2476" width="434" height="1.5" fill="#6a2414" opacity="0.1"/>
<rect x="170.3" y="2477.5" width="434" height="2.2" fill="#140302" opacity="0.1"/>
<rect x="170.3" y="2479.7" width="434" height="2" fill="#6a2414" opacity="0.1"/>
<rect x="170.3" y="2481.7" width="434" height="2.2" fill="#6a2414" opacity="0.1"/>
<rect x="170.3" y="2489" width="434" height="1.1" fill="#140302" opacity="0.1"/>
<rect x="170.3" y="2490.1" width="434" height="2.8" fill="#140302" opacity="0.1"/>
<rect x="170.3" y="2496.3" width="434" height="3.7" fill="#140302" opacity="0.1"/>
<rect x="170.3" y="2500" width="434" height="3.5" fill="#6a2414" opacity="0.1"/>
<rect x="170.3" y="2513.4" width="434" height="2.9" fill="#6a2414" opacity="0.1"/>
<rect x="170.3" y="2529.4" width="434" height="3.2" fill="#140302" opacity="0.1"/>
<rect x="170.3" y="2532.6" width="434" height="2.3" fill="#140302" opacity="0.1"/>
<rect x="170.3" y="2534.9" width="434" height="1.6" fill="#140302" opacity="0.1"/>
<rect x="170.3" y="2539.3" width="434" height="3.1" fill="#140302" opacity="0.1"/>
<rect x="170.3" y="2542.4" width="434" height="2.7" fill="#6a2414" opacity="0.1"/>
<rect x="170.3" y="2554.1" width="434" height="2.8" fill="#140302" opacity="0.1"/>
<rect x="170.3" y="2561" width="434" height="4" fill="#140302" opacity="0.2"/>
<rect x="399.9" y="2288.2" width="103.3" height="2.6" fill="#0a0101" opacity="0.45"/>
<path d="M452.3 2423.8l.7 3.9-.9 3.9-1 3.9 .2 4-1.8 3.5-3.6 1.9-4-.3-2.2 3.3-3.5 2.1-1.5 3.7-1 3.9-2.7 2.9-3.5 2-3.9 .5-4-.2-3.3-2.3-2.5-3.2-2.6-2.9-3.2-2.5 .4-4-1.4-3.8-.9-3.9-.6-3.9-.1-4 2.1-3.4 3-2.6 2.5-3.2 3.1-2.6 2.4-3.2 2-3.4 1.4-3.8-.8-3.9-.6-4-2.3-3.2-2.5-3.2-3.6-1.6-2-3.5-1.8-3.6-3.4-2.1-3.8-1.3-3.9-.5-4-.6-3.8-1.1-3.8-1.4-3.3-2.2-3.1-2.5-2.6-3.1-2.6-3-1.6-3.7 1-3.8 2.2-3.4 3.8 1.2 3.3 2.2 2 3.5 2.4 3.2 3.3 2.3 3.4 2.1 2.6 3 3.2 2.4 3.5 1.9 4-.7 1.9-3.5 .5-4 2.3-3.2 4-.6 3.7-1.4 3.1-2.6 3.2-2.4 2.7-2.9 2.9-2.8 1.9-3.5-1.4-3.7-.9-3.9 .1-4 2.4-3.3 3.6-1.6 3.3-2.3 3.9 .9 3.2 2.3 3 2.7 1.1 3.9 1.1 3.8-1.4 3.8-1.4 3.7-.6 4-3.1 2.5-2.7 3-3.7 1.4-3.6 1.8-2.1 3.4 1 3.9 .3 4-.5 4 .7 3.9 1.3 3.8 .5 4 1.7 3.6-.1 4 1.1 3.8 3 2.6 3.7 1.5 3.9-.6 4 .5 3.8-1.1 3.8-1.5 M319.7 2158.8l-.2-4 .8-3.9 1.7-3.7 2.7-2.9 3.6-1.6 3.6-1.8 3.9 .6 3.6 1.9 3.4 2.1 3.8 1.3 2.9 2.7 3.5 1.9 3.1 2.6 2.2 3.3 1.8 3.6 2.4 3.2 2.8 2.8 1.7 3.7 2.6 3 .2 4-1.7 3.6-1.2 3.8-1.4 3.8-.6 3.9-1.6 3.7-1.7 3.6-1.4 3.8-1.9 3.4-3.4 2.2-3.7 1.5-3.8 1.1-2.5 3.2-3 2.6-3.8 1.3-3.1 2.6-3.7 1.4-3.2 2.4-3.9 .9-3.3 2.3-1.9 3.5-1 3.9-3 2.6-3.8 1.3-3.4 2.1-3.9 .8-4 .7-2.9 2.8-3.8 1.4-3.7 1.4-3.3 2.3-4 .2-2.7 2.9-3.5 1.9-3.6 1.8-2.8 2.8-3.6-1.5-3.8-1.4-.2-4-1.2-3.8-.8-3.9-.3-4 .9-3.9 1.8-3.6 2.1-3.4 2.3-3.2 1.5-3.7 .5-4 .4-4 .8-3.9 .2-4-1.9-3.5-1.9-3.6-1.4-3.7 M409.3 2561.8l1.5 3.7 1.1 3.8 .3 4-.7 4-.8 3.9-.3 4-3.6 1.7-2.9 2.8-3.2 2.4-3.7 1.5-4 .4-3.3 2.3-3.7 1.4-2.7 2.9-4 .2-3.7 1.6-3.7 1.6-3.8 1.1-3.9-1.1-3.6-1.7-2.7-3-3.6-1.7-3.5-1.9-3.2-2.4-4-.1-4 .5-3.9-.5-3.7-1.6-3.7-1.6-3.9-.9-3.1-2.4-3.9-.9-3.9 1.1-3.9-.5-3-2.6-3.8-1.4-1.9-3.5 0-4 0-4-1.5-3.7 1.7-3.6 1-3.9-.2-4 2.6-3 3.8-1.4 3.3-2.3 2.6-3 .4-4-.3-4-.8-3.9-1.1-3.8-3.5-2.1-2.8-2.8-.3-4-.2-4-2.5-3.2 .2-4 0-4 1.5-3.6 2.4-3.2 2.8-2.9 3.2-2.4 3.5-1.9 3.2-2.4 2-3.5 0-4-2.1-3.4-1.8-3.6-1-3.8 .1-4-.2-4 2.2-3.4 1.2-3.8 .8-3.9-3-2.7-3.1-2.5-3.8-1-2.8-3-3.7-1.5-3-2.6-3.7-1.6-3.4-2-3.6-1.8-3.6-1.8-3.8-1.1-3.3-2.3-3.4-2-2.2-3.4-1.4-3.7-2.7-3-1.2-3.8-3.5-2-4-.6-4-.3-3.6-1.7-4-.4-3.7 1.4-4 .6-3.4 2.1-2.4 3.2-2.2 3.3 2.6 3 1.7 3.6 2.1 3.4 2.9 2.8 3.2 2.4 4-.5 M417.1 2322.6l2.1-3.4 3.8-1.2 3.6-1.7 3.9 .9 3.9-.8 3.9-1 2.8-2.9 3.5-2 3.6-1.6 2.9-2.8 3.8-1.4 2.5-3.1 3.4-2.1 3-2.6 3.9-.9 4 0 3.1 2.6 2.9 2.7 3.4 2.2 3.1 2.4 1.6 3.7 3.7 1.6 4 0 3.9 .9 3.9 .9 3.8 1.1 3.7-1.5 2.2-3.3 2.1-3.5 1.9-3.5 2.9-2.7 2-3.5 1.1-3.8 2.6-3.1 3.1-2.6 2.4-3.1 1.7-3.7 0-4 2.9-2.7 1.6-3.7 1.4-3.8 1-3.8-.2-4-.9-3.9 1.9-3.5 .7-4-3.2-2.4-2.2-3.3-2.4-3.2-1.8-3.6-3.3-2.2-3.9-.8-3.9-1.2-3.9 .6-4-.2-2.9 2.8-1.7 3.6 .3 4-1.3 3.7 1.6 3.7 2.6 3.1 2.8 2.8 .9 3.9-.1 4 .9 3.9 1.6 3.6 1.1 3.9 .8 3.9-.1 4-.4 4-2 3.4 0 4-.8 3.9-.1 4-.6 4 1.7 3.6 2.8 2.8-.3 4-.4 4 1.7 3.6 2.6 3 3.7 1.5 4 .6 3.7 1.5 3.6 1.8 2.6 3 2.8 2.8 1.7 3.7 3.1 2.5 3.3 2.3 3.3 2.2 3.4 2 2.5 3.2 3.2 2.4 3.1 2.6 2.4 3.2 1.7 3.6 .3 4-.1 4-.6 3.9-.9 3.9-.9 3.9-3.2 2.4-3.4 2.1-3.3 2.3 M257.9 2417.5l1-3.8 .6-4 2.2-3.3 3.3-2.2 2.4-3.2 3-2.7 .8-4 2-3.4-2.2-3.4-3.8-1.2-2.4-3.2-2.2-3.3 2.4-3.2 2.4-3.2 3.1-2.6 1.2-3.8 .6-3.9-.1-4 0-4 1.7-3.6 3-2.7 2.2-3.3-1.5-3.8-2.4-3.1-2.9-2.8-3-2.6-1.3-3.8 .1-4 1.1-3.9-.9-3.9-1-3.9 .1-4-.2-3.9-.9-3.9 .8-4 .9-3.9-.8-3.9-2.4-3.2-2.4-3.2-2.8-2.8-4-.3-3.6-1.7-3.4-2.1-1.8-3.6-2.1-3.3-2.7-3-2.5-3.2-2.2-3.3-1.9-3.5 2-3.5 1.3-3.8 .4-4 1-3.9 .4-3.9 .8-4 .4-3.9-1.5-3.7-1.4-3.8-.3-4-2.2-3.3-2.8-2.9-3.8-1.3-3.8-1.2-4 0-4 .1-4 .6-3.9-.3-4 .3-4-.5-3.9-.9-3.9-.7-4-.8-1.5-3.6-1.1-3.9-.8-3.9-1.1-3.9-3.3-2.2-3.3-2.2 M380.1 2156.4l3.7-1.3 4-.7 3.4 2.1 3.2 2.3 3.1 2.6 2.7 3 3.9 .4 3.3 2.3 1.2 3.8-2.8 2.9-3.6 1.7-3.8 1.3-4 .2-3.6-1.7-3.9-1.1-3.8-1-4 .3-4 .3-3.5 2-1.5 3.6 1.1 3.9-.1 4-1.3 3.8-.9 3.9-.9 3.9 .9 3.9 .9 3.9 3 2.6-.5 4-1.3 3.8 1.9 3.5 1.9 3.5 3.1 2.6 2.8 2.8 1.5 3.7-1.3 3.8-.2 4-1.9 3.5-3 2.7-.6 3.9-.7 4-.4 3.9 2.7 3 3.6 1.9 3.9 .7 4 .3 3.8-1.2 2-3.4 2.7-3 2.5-3.1 3.3-2.3 3.6-1.7 2.2-3.3 2-3.5 1.5-3.7 1.2-3.8 1.6-3.7 .6-3.9 1.3-3.8 1.3-3.8 2.1-3.4 M256.6 2493.6l-4 .4-3.5 1.9-2.9 2.7-2.7 3-3 2.7-3.3 2.1-4 .6-3.7-1.5-3.5-2-3-2.6-1.5-3.7-4-.3-3.9 .6-4 .5-3.3 2.2-2.2 3.4-2.1 3.4-1.4 3.7-1.5 3.7-1.6 3.7-2.1 3.4-3.8 1.3-3.3 2.1-1.2 3.9-1.8 3.5-1.3 3.8-.6 4-2.3 3.3-2.1 3.4-2.6 3-2.1 3.4-1.6 3.7-.6 3.9 .1 4-1.1 3.9 0 4 1.3 3.8-2.6 3-2.2 3.3-.2 4-.7 3.9-.8 4-1.9 3.5-2 3.4-1.8 3.6-1 3.9-2.5 3.1-2.7 3-.8 3.9-1.9 3.5-2.6 3.1-3.9 1-3.8-1.1-4 .8-3.2 2.3-3.2 2.4-2 3.4-1.8 3.6-.3 4-1 3.9-1.8 3.5-3.3 2.3-4 .4-3.8 1.2-4-.1-3.3-2.1-3.6-1.9-3.9-.9-3.6-1.6-3.9-1-3.8-1.2-4-.5-2.2-3.3-2.1-3.4-4-.5-3.7 1.5-3.9 .8-4-.6-3.6-1.5-3.3-2.3-.5-4-3-2.7-3-2.6-3.5-1.9-4 .4-3.9 1.1-3.3-2.3-3-2.5 M262.9 2294.8l4-.1 3.8 1.3 4-.1 4-.2 1.6-3.6 3.2-2.4 3.8-1.5 3.9-.3 3.6 1.8 3 2.7 1.6 3.6 2.4 3.3 2 3.4 2.7 3 1.2 3.8 .9 3.9 2.4 3.2 .8 3.9 1.9 3.5 2.3 3.3 3.1 2.6 3.3 2.3 3.9 .4 3.4-2.1 2.6-3.1 3.6-1.7 3.6-1.8 3.7 1.5 3.7 1.4 2.9 2.9 2.8 2.8 3.1 2.5 2.5 3.1 2.6 3 1.6 3.7-1.4 3.8-2.5 3.1-2.6 3.1-2 3.4-2 3.5 .1 4 1.4 3.8 2.3 3.2 3.7 1.6 3.4 2.2 3 2.5 4 .3 3.7 1.6 2.9 2.8-.1 4-.6 4-3.1 2.5 .7 4 1.1 3.8 1.4 3.8 .5 4 1.2 3.7 1.3 3.8-1.2 3.8-1.4 3.8-3.6 1.6 .5 4-.1 4 .4 4 2 3.4 3.8 1.4 4 .5 3.8-1.2 4-.5 3.8-1 4-.6 3.7-1.6 3.7-1.5 3.4-2 2.6-3.1 3.3-2.1 1.8-3.6 1.5-3.7-.4-4 2.7-2.9 2.2-3.4 2.3-3.3 3.1-2.4 1.7-3.7 2.8-2.8 2-3.4 3.4-2.2 3.4-2.1 2.7-3 3-2.6 .5-4 1.7-3.6-.5-3.9-.8-4-1.8-3.5-2.7-3-3.7-1.4-3.1-2.6-2.3-3.2-2.4-3.3-3.7-1.4-4 0-3.6-1.7-3.7-1.7-3.4-2-.7-3.9-.4-4 M257.4 2391.3l-3-2.7 .1-4-.3-4 2.7-3 1.6-3.6-1.1-3.9-2-3.4-1.9-3.5-1-3.9-2-3.5 .3-4-.3-4-1.5-3.7-.4-4-1.3-3.8-2-3.4-1.9-3.6-2.7-2.9-2.4-3.2-2.4-3.2-2.2-3.3-3.1-2.5-3.5-2.1-1.9-3.5-2.5-3.1-1.5-3.7-.3-4 1.9-3.5 2.7-2.9 1.5-3.7 2.6-3.1 3.4-2.1 2.7-2.9 2.6-3.1 2.4-3.1 3.4-2.1 3.6-1.9 2.6 3.1 3.1 2.5 2.1 3.4 1.1 3.8 1.7 3.6 2.8 2.9 3.6 1.9 3.9 .3 3.1 2.6 3.1 2.5 2.4 3.2 1.9 3.5 1.9 3.6 3.8 1.2 2.9 2.8 3.9 .7 3.8 1.3 3.9 .8 2.8-2.8 2.2-3.4 2.7-2.9 2.9-2.9 .2-4-2.4-3.2-3.4-2.1-2.3-3.3-2.2-3.3-1.8-3.6 M495.3 2319.2l-1 3.9 1.4 3.7-.7 4 .6 3.9-.6 4 2.9 2.8 3.1 2.4 3.3 2.3 3.9 1 4 .3 2.9-2.7 3.4-2.1 1.4-3.8-.7-3.9-.7-3.9-.7-4 1.4-3.7 1.5-3.7 3-2.7 4-.4 3.3-2.3 3-2.6 2.5-3.2 3.5-1.9 3-2.6 2.7-3 2.7-2.9 .3-4 2.1-3.4 3.4-2 3-2.7 3.9-.8 3.7 1.6 3.9 .8 4-.4 3.8 1.3 3.8 1 4 .1 3.6-1.7 2.5-3.2 3.6-1.7 3.7-1.4 3.9-.9 3.9-1.2 3.9 .4 3.8-1.3 3.4-2.1 2.5-3.1 3.6-2 3.3-2.2 3.7-1.6 4 .1 3.8-1.2 3.9-.7 4 .5 2.6 3.1 2.1 3.4 2.7 2.9 3 2.7 3.1 2.4 3.4 2.2 2.6 3 3.2 2.5 1.8 3.5 3.5 1.9 3.8 1.3 2.4 3.2 .5 3.9 1.2 3.9 2.8 2.8 3.9 .4 4 .1 3.9-.9 3.5-1.9 4-.5 4-.3 M444.8 2137l.2-4 2.6-3.1 3.6-1.6 3.9-1 4 .2 4-.3 4 .1 4-.1 3.7 1.5 4-.1 3.9-.8 3.6 1.7 2.1 3.4 4 .4 3.8 1.2 3 2.6 1.7 3.7-.1 4 1.2 3.8 .7 3.9 .1 4 .3 4 1 3.9 1.5 3.7 .5 3.9-1.1 3.9-2.4 3.1-1.9 3.6-3.5 1.9-3 2.7-2.2 3.3-2.9 2.8-3 2.6-3 2.7-3.5-1.9-3.5-1.9-3.5 1.9-3.9 .9-3.1 2.5-3 2.7-3.8 1.2-4 .1-3.9-1-4-.8-3.8-1.1-3.4-2.1-4-.5-2.3-3.2-2.2-3.4-2.3-3.2-1.9-3.6-3.1-2.5-2-3.5-3.3-2.3-3.5-1.8-4 .7-3.5 1.8-4 .3-4 .7-4 .4-2.1 3.4-3.6 1.6-2.5 3.2-3.4 2.1-3.9 .7-3.8 1.2-3.9 1.1-3.5 1.9-3.8 1-4-.2-2.8-3-.8-3.9-1.8-3.5-3.8-1.5-3.7-1.5-3.3-2.2-2.1-3.4-1.3-3.8-1.7-3.6-2.7-3-2-3.4-1.7-3.6-1.8-3.6-3.6-1.8-3.6 1.8-3.6 1.8-3.8 1.1-2.8 2.9 M227.4 2524.4l1.2 3.8 2.5 3.1 1.5 3.7 3 2.6 3.9 1 4-.3 4-.2 3.7 1.6 3.8-1 3.8-1.3 3.9-1.1 3.8-1.2 4 0 3.6-1.7 3.6-1.7 3.9-.6 3.9 .9 3.5 2 3.9-.8 3.9 .8 3 2.6 1.4 3.8 1.9 3.5 3.4 2.1 3.6 1.8 3.1 2.5 .7 3.9 3.7 1.6 3.1 2.5 3.7 1.4 4 .3 4 0 3.9-.7 3.9 .9 2.8 2.9 2.6 3.1-1.3 3.8-3.9 1-4-.2-3.9-.8-3.4-2-3.9-1.2-3.6-1.6-1.6-3.7-2.3-3.3-2.3-3.2-1.5-3.7 1.2-3.8 2.8-2.9 2.8-2.9 2.7-3 2.8-2.7 3.9-1 2.8-2.9 3.5-1.8 3.9-1.3 3.7 1.5 3.9 .5 4-.2 3.9-1 3.9-.9 2.5-3.1 3.8-1.2 3.5-1.9 1.7-3.7 .6-3.9 1.7-3.7 2.6-3 1.6-3.7 1.8-3.5 2.4-3.2-.7-3.9-1.9-3.5-.1-4-2.1-3.4-2.9-2.8-2.8-2.9-1-3.8-1.7-3.7-3.1-2.5-3.9-.6-3.9-.9-3.8-1.2-4 .5-3.6 1.8-2.8 2.9-2.4 3.2-3.8 1.4-3.7 1.4-1.6 3.7-.5 3.9-2 3.5-2.2 3.4-2.8 2.7-2.1 3.5-1.3 3.8-2.9 2.8-2.7 2.9-2.7 2.9-2.3 3.3-2.4 3.2-2.2 3.3-1.2 3.8 M480.5 2504.8l.2 3.9 1.3 3.8 1.4 3.8-.5 4 1.3 3.8 2.5 3.1 3.5 1.9 2.6 3 2.7 3 3.5 2 2 3.5 .8 3.9 .7 3.9 1.6 3.7 1.1 3.8 1.7 3.7-2.9 2.8 .8 3.9 3.2 2.4 .3 4 1.6 3.6 .9 3.9-.5 4-.5 3.9 .5 4 2.2 3.4 2.2 3.3 3.2 2.5 3.8 1 4-.8 3.9 .6 3.9 1 1.6 3.7 3.2 2.3 3.3 2.3 3 2.6 3.6 1.8 3 2.5 2.9 2.8 2.7 3 2.4 3.2 1.4 3.7 1.9 3.6 2.6 2.9 2.8 2.9 2 3.5-2.3 3.3-2.5 3.1-3.3 2.3-4 .4-3.9-.8-3.3-2.2-1.2-3.9-1.3-3.8-.7-3.9-1.9-3.5-3.3-2.2-.2-4 1.4-3.8 .7-3.9 3.8-1.4 3.6-1.6 4-.7 3.1-2.5 3.1-2.5 4 0 4-.2 3.6-1.8 3.5-1.9 3.9 .6 3-2.7 3.8-1.2 3.7-1.7 2.2-3.3 2.5-3.1 3.6-1.9 3.6-1.7 3.2-2.3 2.9-2.8-1.4-3.8-2-3.5-.7-3.9-2.1-3.4-3.9-.9-3.9 .9-1.3 3.8 2 3.5 .6 3.9-.7 4-1.3 3.7-2.7 3-3.9 1-3.5 1.9-.1 4-1.1 3.8 1.1 3.9 1.4 3.7 0 4 2 3.5 .9 3.9 M601.3 2558.1l3.5 2 3.7 1.3 3.9 1.2 3.6 1.6 3.9 .8 2.8 2.9 3.1 2.6 2.4 3.1 3.7 1.6 2.8 2.8-.3 4-3.7 1.5-3.8 1.4-2.5 3.1-3.7 1.4-4-.2-4-.7-3.9 .4-3.9 1.1-4 .3-3.5 1.8-1.3 3.8 1 3.9 .9 3.9 2.1 3.4 1.3 3.8-1 3.8-.7 4 1 3.8 1.5 3.7-.2 4-1 3.9 0 4 1.2 3.8 .1 4 1.6 3.7 1.3 3.8 3.7 1.7 3.4 2.1 3.2 2.4 3.6 1.7 3.9-.3 4-.2 2.4-3.2 2-3.5 1.9-3.5 2.4-3.2 3.4-2.2 1.7-3.6 .6-3.9 .3-4-1.5-3.7-2.3-3.2-2.4-3.3-2.5-3.1-4 .2-3.6 1.6-3.8 1.3-3.9 .9-4-.5-3.8-1.3-3.6-1.9-3.5-1.9-3.7-1.3-3.9-1-3 2.7-1.7 3.6-2.5 3.1-2.9 2.7-2.1 3.4-4-.6-3.8 1.1-4-.3-3.9-1-3.5-2-4 .3-1.9 3.5 1.1 3.8 .4 4 2.5 3.1 1.6 3.7 2.9 2.8 3 2.5 3.2 2.4 3.8-1.1 3.9-1 M550.8 2115.2l-1.9 3.5-3.1 2.4-1.9 3.5-1.6 3.7-1 3.9 .4 4 1 3.8-.1 4 2.3 3.3 3.4 2.1 2.6 3.1 2.4 3.2 3.6 1.6 3.1 2.5 .5 4-.4 4 .5 4 1 3.8-.5 4-3.1 2.5-3.2 2.5-3.8-1-3.7-1.7-3.8-1.1-4 0-3.8 1.2-4-.6-4-.4-3.9-.3-4-.4-4-.3-3.2-2.4-4-.5-3.9 .8-3.8 1.2-4 .2-4 .5-4-.6-3.9 .8-3.8 1.2-2.8 2.8-3.4 2.2 .2 4 2.5 3.2-1.8 3.5-1.2 3.9-1.5 3.7-3.4 2-2.6 3.1 .2 4-1.9 3.5-1.7 3.6-1.1 3.8-.1 4 .4 4-.3 4-.6 3.9-2.2 3.4-2.3 3.3-2.6 3-1.9 3.5-2.6 3.1-2.8 2.8-3.5 2-3.7 1.5-3.6 1.7-1.6 3.6-1.6 3.7 .3 4-1.5 3.7-1.4 3.8-1.1 3.8 1.9 3.6 2.1 3.4 3.1 2.5 .9 3.9 1.7 3.6 1.7 3.6-.9 3.9 1.3 3.8-1.6 3.7-1.4 3.7-3.3 2.3-4 .1-3.9 1-4-.1-3.9 .7-3.8 1.4-3.4 2.1-3 2.6-3.7 1.7-3.2 2.4-2.6 3-1.4 3.7-.7 4-1.5 3.7-3.7 1.5-4-.4-3-2.6 M221.9 2465.7l-1.4-3.7-2.3-3.3 .7-3.9 1.8-3.6 .8-3.9 3.8-1.3 3.1-2.5 3.3-2.3 3.9 1 3.9 .7 3.7 1.6 3-2.6 1.2-3.8 0-4-1.4-3.7-2.8-2.9-3-2.7-4-.2-3.1 2.4-2.2 3.4-3.2 2.5-3.8 1.2-3.6 1.6-3 2.7-3.1 2.5-3 2.7-2.7 2.9-3.7 1.5-4 .6-3.9 .9-3.3-2.1-3.5-2.1-3.2-2.4-3.2-2.3-3.8 1.5-3.8 1.1-4 .3-3.9-.7-4 .7-4-.3-3.9 .4-4 .7-3.9-.8-3.5-1.9-3.6-1.7-3.6-1.9-3.8-1.3-3.9-.6-3.5-1.9-2.9-2.8 .2-4-.4-3.9-2.1-3.4-3.8-1.4-3.1 2.6-2.8 2.8-2.8 2.9-3.2 2.4-2.1 3.4-3.4 2.1-3.9 .9-3.8 1.3-3.1 2.5 M198.3 2245.8l4-.2 3.7-1.5 4 .5 3.8 1.2 2.9 2.8 3.5 1.8 1.9 3.5 2.7 2.9 1.6 3.7-2.8 2.9-2 3.5-3.9 .6-3.9-1.1-3.9-.7-3.9-.9-3.5-2-3.8-1.2-2.5-3.1-3.6-1.8-3.7-1.4-4-.4-3.4 2.2-4-.1-3.9-.9-2.9-2.7-4-.6-4 0-4 .4-3.9 .5-3.5-2-1.6-3.7 .4-4 2.5-3.1 2.7-3 3.9-.8 2.8-2.8 3.4-2.1 3.8-1.4 2.3-3.3 3.1-2.6 3.1-2.5 3.3-2.2 2.1-3.4 1.1-3.9 1.2-3.8 2.6-3 1.4-3.8 .1-4 .4-4-.4-3.9 .8-4 M222.7 2343.5l2.4-3.1 .2-4-.7-4-2.7-2.9-1.5-3.7 .4-4-.8-3.9 .1-4-.2-4 .1-4-1-3.9-.6-3.9 .4-4 2.6-3.1-1.7-3.6-3.1-2.5-2.5-3.2-3.4-2-3.7-1.4-4-.8-3.7-1.4-1.8-3.6 .6-4 1.3-3.8 1.9-3.5 2-3.4 2.3-3.3 2.7-3 3.5-1.9 3.4-2 2.5-3.2 1.7-3.6 .3-4-.3-4 2.2-3.3 3.9-1 3.8-1.2 3.1-2.5 2.8-2.9 3.5-1.9 4-.7 3.9-.7 2.9 2.7 3.6 1.8 3.3-2.2 3.3-2.4 3.7-1.4 2.8-2.9 3.3-2.3 1.8-3.5-1.7-3.7-3.9-.7-4-.5-4-.4-3.3-2.2-2.9-2.8-1.3-3.7 M551.1 2479.1l2.3-3.2 4 0 3.8-1.2 4 .1 3.9 .8 3.6 1.7 4 .5 3.8 1.3 2.2 3.3 1.4 3.8 1.2 3.8 .5 3.9 1.4 3.8 1.9 3.5 .1 4 2.1 3.4 1.5 3.7 2.4 3.2 3.1 2.5 2.1 3.5 2.3 3.3 2.1 3.3-.3 4-2.8 2.9-1.2 3.8-2.4 3.2-.2 4-1.1 3.9-1.5 3.7 1.7 3.6 4 .5 3.5 1.8 2.7 3 2.4 3.2 3.8 1.3 2.6 3 .4 4 1.9 3.5 .7 3.9 .2 4 1.3 3.8 .1 4-.1 4-1 3.9 0 4-2.9 2.7-1.5 3.7-2.9 2.7-3 2.7-2.8 2.9-1.9 3.5-2 3.5-1.1 3.8-.5 4-1 3.9 .2 4 3.5 1.9 3.5 1.9 3.1 2.5 2.4 3.2 .6 4-.5 4 1.5 3.6 2.1 3.4 .9 3.9-.3 4 .1 4 2 3.5 1.4 3.7 1.5 3.7 2.9 2.8 3.8 1.3 3.5-1.8 4 .2 4-.7 3.9 .8 3.1 2.6 1.8 3.5 3.6 1.7 2.7 2.9 2.3 3.3-.8 4-2.4 3.2 .4 4 .5 3.9-.2 4-1.9 3.6-3.4 2-2.7 2.9-3.9 1-4-.1-3.5 1.9-3.7 1.5-1.8 3.6-2.5 3.2-3.2 2.4-3.4 2.1-4-.4-3.3-2.2-3.8-1.1 M605 2319.6l3.8 1.3 3.9-1 4 .1 3 2.6 2.9 2.8 2.3 3.2 1.6 3.7 1.6 3.7 0 4 2.1 3.4 1.8 3.5 2.3 3.3 3.8 1.3 2.6 3.1 3.9 .8 3.8-1.2 3.9-.9 3.5-1.9 3.1-2.5 4-.7 3.8 1.2 4 0 3.6-1.6 3.6-1.8 4-.4 2.1 3.4-2 3.5 .4 3.9 1 3.9-1 3.9 .2 4 .3 4 .6 3.9-2 3.5-2.3 3.3-3.5 2-4-.3-3.9 .6-4-.6-3-2.6-2.6-3-4-.7-3.5-1.9-4-.2-3.2-2.3-3.9-1.2-3.7-1.5-3.9-.6-3.2-2.4-1.6-3.7 0-4 .3-4 2.7-2.9-.4-4-.8-3.9-.5-4-.3-3.9 0-4 .6-4-.5-4-1.3-3.7-1.6-3.7-.2-4-2.2-3.4-1.8-3.5-2.5-3.1-2.8-2.9-3.7-1.5-3.7-1.4-2.5 3.1-3.6 1.8-1.2 3.8 .8 4-1.7 3.6-2.8 2.8-3.9 1-3.7 1.4-4 .6-3.8 1.3-1.6 3.7 .8 3.9 M502.3 2271.6l3.5-1.8 2.1-3.4-.2-4 .7-4 3.8-1.1 3.2-2.4 3.3-2.3 3.1-2.5 3.2-2.4 2.2-3.4 1.4-3.7 1.1-3.8-1-3.9-3.3-2.3-3.7-1.5-3.9-.8-3.5 1.9-.1 4 .3 4 1.7 3.6 .6 3.9-1.4 3.8-.1 4-.5 3.9 1.3 3.9 3.3 2.2 3.8 1.2 3.9 .6 3.6 1.7 4 .2 3.5 1.9 .1 4-1.3 3.8-2 3.5-2.7 2.9-2 3.5-2.2 3.3 .1 4-1.3 3.8-2 3.5-3.3 2.2-3 2.6-1.9 3.5-3 2.7-3.9 .8-3.9-1.1-2.6-3-2.7-2.9-1.7-3.6-1-3.9-1.1-3.9-2.9-2.7-2.1-3.4-3.5-2-2.4-3.2-2.8-2.8-1.5-3.8-1.4-3.7-3-2.7-4-.3-3.7-1.6-3.3-2.1-3.7-1.6-3.7-1.6-3.9 .5-2.7 3-3 2.6-2.7 3-3.9 1-3.9-1-3.9-.8-3.8-1.2-3.9 .7-4 .6-3.1-2.5-3.2-2.5-3.9 .5-4 .7-3.7-1.6-3.4-2.1-4-.3-3.9 .4-4 0-3.9 .9-3.5 2 M603.3 2268.8l3.9-.1 3.6-1.7 3.8 1.2 4-.1 3.8 1.2 4 .3 3.8 1.2 4-.5 3.5 2.1 3.9 .7 4-.3 3.9 .9 3.8 1.2 3.9-.5 3.6-1.7 3.3-2.3 2.3-3.3 2.1-3.4 .5-4 1.8-3.6 3.6-1.6 2.1-3.4 2.9-2.8 2.3-3.3 1.8-3.6-1.7-3.6-3.3-2.3-4 .3-3.9-.7-4-.3-3.8-1.2-3.1-2.5-3-2.6-1.7-3.6-2.8-2.9-.7-4-2.5-3.1-.9-3.9 0-4-1.9-3.5-1.5-3.7 1.1-3.9 1-3.8 0-4 2.9-2.8 3.9-1 3.1-2.4 .2-4-.7-3.9-2.8-2.9 M233.1 2138l-3.4-2.1-.3-4 1-3.9-.6-3.9-2-3.4-1.2-3.9 1.6-3.7 1.3-3.7 2.9-2.9 1.6-3.6 1-3.9 2.2-3.3 3.4-2.2 2.5-3.1 1.3-3.8 1.1-3.8 2.1-3.4 0-4-1.7-3.6-3.6-1.7-3.1-2.5-1.1-3.9-3.6-1.7-3.3-2.2-3.1-2.6-1.1-3.9 .1-4-1-3.8-1.9-3.5-3-2.7 .1-3.9 .1-4-.9-3.9-3.2-2.5-3.7-1.4-2.5-3.2-.5-3.9-1.7-3.7-1.1-3.8 0-4-2.7-2.9-2.9-2.8-3.5-2-3.2-2.3-3.9-1.1-3.5-1.8-3.7-1.5-1-3.9-3.4-2-3.7-1.6-3.6-1.8-3.8 1-4-.7-4-.1-3.5-1.9-3.4-2.1" fill="none" stroke="#c8843a" stroke-width="1.9" stroke-linecap="round" stroke-linejoin="round" stroke-dasharray="2 1.2" opacity="0.7"/>
<path d="M235.2 2380.1l2 4.6-2.8 2.6-2.6 2.4-3.4 1.5-1.4-5.6-1.3-2.5-1.5-3 1.1-3.2-.4-5.9 3.4-2.2 3.2 3.8 2.7 .7 .7 3.7Z M609.2 2252.7l-1.9 3.1-1.5 2.3-1.6 3.5-2.4-2.2-2.8 .6-3.3-2.2 2-5.1 .7-3.2 1.6-2.2 2-.5 2.5-4.8 2.7 2.6 .2 4.8Z M430 2256.4l1 6.5-3.4 3.9-4.2-2.1-2.7 2-3-1.7-1.8-4-2.3-4.6 1.6-5.2 2-4.5 3-3.9 3.3 4.6 2.1 2.3 3.2 1.7Z M521.5 2396.7l-1.9 3.4-1.7 2.3-1.9 2.1-2.4-.1-2.5-.8-1.3-3.3 .1-3.6-.5-3.8 1.7-3 2.6-.4 2.3-.2 1.9 1.7 2.3 2Z M416 2414.9l-5.2 2.7-2 2.1-1.9 4.4-4.6-.6-4.8-.7-1.8-4.1 2.7-3.8-2.6-3.7 2.4-3.4 4.5 0 4.1-1.9 3.4 2.6 2.9 2.7Z M402.9 2234.9l.7 3.4-1 4.1-4.7-1.5-2.9 .2-3.6 .1-2.1-2.9-2.7-3.4 3.1-3.2 3.7-.5 1.2-4.2 3.8-.3 2.9 2.3 2.8 2.3Z M374.9 2516.4l-3.4 3.6-1.9 3.6-5.3-1.7-2.8-.3-6.5 3.2-2.8-4-.3-4.4 1.4-4 5.6-.2 1.9-3.4 4.5-1.6 2.4 3.9 5.2 1.1Z M216.8 2339.2l0 2.8-2.9 1.3-2.4 .7-3.1 1.9-2.7-1.8-.6-2.7-.6-2.2 .7-2.1 .2-3 3-1.8 3.1 2.2 2.2 1 2.3 1.3Z M357.7 2310.5l.4 3.9-4 1.2-2.5 1.7-3.5 1.8-1.7-4-2.2-1.8-2.6-2.8 1.5-3.4 1.1-3.9 4.2 .1 2.6 2.8 3.8-1.5 2.6 2.4Z M338.9 2438.8l-1.5 2.6-2.5 .6-.9 4.1-3.6 2.7-2.2-4-1.2-3 .1-3 .6-2.5 .2-3.8 3.2-.2 2.6 .7 3.9-1.1 1.8 3.3Z M571.6 2530.9l1.5 3.1 .8 6-5.3-.7-3.8 .4-4.2-1-.3-4.7-2.1-3.1 2.2-3.2 2.9-1.2 1-6.8 5-.2 2.8 4.6 2.1 3.1Z M347 2230.5l-1.8 5.2-5.5 1-2.5 3.8-4.4 .7-2.5-4.4-3.7-2-1.5-4.3 0-5.2 1.8-5.8 6.4 2.6 3 2.3 4.5-1.7 3.4 3Z M223.9 2484.9l-4 3.5-1 4.2-3.8 1.1-3.8 .8-4.2-1-.9-4.8-3.6-3.8-.2-5.8 6.1-.9 3.2-1 3.2-.2 3.9 .3 6.3 1.3Z M223.7 2173.1l-.2 3-1.8 2.4-3.3-.7-2.1-.6-2.7 .4-2.8-1.5-1.5-3 2-2.8 3-.8 1.7-1.5 2.6-.7 2.4 1.3 2.1 1.8Z M451.7 2466.1l-3.4 1.4-.1 2.3-2.5 1.5-3.4 .4-3.8-.6 .1-3.1-.5-1.9-1.2-2.5 3.2-1.1 2.5-1.2 3.2-.5 2.6 1.4 3.7 1.1Z M592.2 2186.1l-1.1 3.2-5.1 .2-2.4 .5-3.3 3.2-3.4-1.8-2.3-2.4-1.6-2.9 2.7-2.5 1.2-2.7 3.7-.8 2.9 2.3 4-1.2 4.4 1.4Z" fill="none" stroke="#bc6a2e" stroke-width="1.8" stroke-linejoin="round" opacity="0.7"/>
</g>
<clipPath id="clip5"><rect x="613.6" y="2129.8" width="434" height="433.2"/></clipPath>
<g clip-path="url(#clip5)">
<rect x="613.6" y="2129.8" width="434" height="433.2" fill="#48150c"/>
<rect x="613.6" y="2129.8" width="434" height="433.2" fill="#000" filter="url(#grain)"/>
<rect x="613.6" y="2132.9" width="434" height="3.1" fill="#140302" opacity="0.1"/>
<rect x="613.6" y="2136" width="434" height="2.6" fill="#6a2414" opacity="0.1"/>
<rect x="613.6" y="2140.3" width="434" height="2.8" fill="#140302" opacity="0.1"/>
<rect x="613.6" y="2147.9" width="434" height="3.5" fill="#6a2414" opacity="0.1"/>
<rect x="613.6" y="2160.3" width="434" height="3" fill="#6a2414" opacity="0.1"/>
<rect x="613.6" y="2163.3" width="434" height="3.4" fill="#6a2414" opacity="0.1"/>
<rect x="613.6" y="2175.5" width="434" height="2.3" fill="#140302" opacity="0.1"/>
<rect x="613.6" y="2182.9" width="434" height="2" fill="#6a2414" opacity="0.1"/>
<rect x="613.6" y="2184.9" width="434" height="1.4" fill="#6a2414" opacity="0.1"/>
<rect x="613.6" y="2194.6" width="434" height="2" fill="#140302" opacity="0.1"/>
<rect x="613.6" y="2196.6" width="434" height="2.9" fill="#140302" opacity="0.1"/>
<rect x="613.6" y="2209.1" width="434" height="2.5" fill="#6a2414" opacity="0.1"/>
<rect x="613.6" y="2220.6" width="434" height="1.1" fill="#140302" opacity="0.1"/>
<rect x="613.6" y="2223.1" width="434" height="3.4" fill="#6a2414" opacity="0.1"/>
<rect x="613.6" y="2226.5" width="434" height="2" fill="#140302" opacity="0.1"/>
<rect x="613.6" y="2235.2" width="434" height="3.2" fill="#6a2414" opacity="0.1"/>
<rect x="613.6" y="2238.5" width="434" height="1.9" fill="#140302" opacity="0.1"/>
<rect x="613.6" y="2250.2" width="434" height="3.9" fill="#140302" opacity="0.1"/>
<rect x="613.6" y="2254" width="434" height="3.3" fill="#6a2414" opacity="0.1"/>
<rect x="613.6" y="2257.4" width="434" height="3.5" fill="#6a2414" opacity="0.1"/>
<rect x="613.6" y="2266.7" width="434" height="1.8" fill="#140302" opacity="0.1"/>
<rect x="613.6" y="2268.5" width="434" height="3.7" fill="#140302" opacity="0.1"/>
<rect x="613.6" y="2274.3" width="434" height="2.6" fill="#6a2414" opacity="0.1"/>
<rect x="613.6" y="2276.9" width="434" height="1.5" fill="#140302" opacity="0.1"/>
<rect x="613.6" y="2278.4" width="434" height="1.2" fill="#140302" opacity="0.1"/>
<rect x="613.6" y="2279.5" width="434" height="2.7" fill="#6a2414" opacity="0.1"/>
<rect x="613.6" y="2282.2" width="434" height="2.8" fill="#140302" opacity="0.1"/>
<rect x="613.6" y="2285" width="434" height="3.6" fill="#140302" opacity="0.1"/>
<rect x="613.6" y="2288.6" width="434" height="1.2" fill="#140302" opacity="0.1"/>
<rect x="613.6" y="2289.8" width="434" height="1.9" fill="#6a2414" opacity="0.1"/>
<rect x="613.6" y="2295.1" width="434" height="3.8" fill="#6a2414" opacity="0.1"/>
<rect x="613.6" y="2302.5" width="434" height="1.5" fill="#140302" opacity="0.1"/>
<rect x="613.6" y="2306.6" width="434" height="2.9" fill="#140302" opacity="0.1"/>
<rect x="613.6" y="2319.4" width="434" height="2.6" fill="#140302" opacity="0.1"/>
<rect x="613.6" y="2322" width="434" height="1.8" fill="#140302" opacity="0.1"/>
<rect x="613.6" y="2329.5" width="434" height="4" fill="#140302" opacity="0.2"/>
<rect x="613.6" y="2340.5" width="434" height="2.2" fill="#6a2414" opacity="0.1"/>
<rect x="613.6" y="2342.8" width="434" height="1" fill="#140302" opacity="0.1"/>
<rect x="613.6" y="2343.8" width="434" height="2" fill="#140302" opacity="0.1"/>
<rect x="613.6" y="2345.7" width="434" height="3.8" fill="#140302" opacity="0.1"/>
<rect x="613.6" y="2353.1" width="434" height="1.8" fill="#6a2414" opacity="0.1"/>
<rect x="613.6" y="2354.9" width="434" height="2" fill="#6a2414" opacity="0.1"/>
<rect x="613.6" y="2356.8" width="434" height="2.6" fill="#6a2414" opacity="0.1"/>
<rect x="613.6" y="2359.5" width="434" height="3.9" fill="#140302" opacity="0.1"/>
<rect x="613.6" y="2363.3" width="434" height="3.5" fill="#6a2414" opacity="0.1"/>
<rect x="613.6" y="2366.8" width="434" height="3.3" fill="#140302" opacity="0.1"/>
<rect x="613.6" y="2390.1" width="434" height="2.4" fill="#140302" opacity="0.1"/>
<rect x="613.6" y="2401.5" width="434" height="3" fill="#140302" opacity="0.1"/>
<rect x="613.6" y="2409.1" width="434" height="3.5" fill="#140302" opacity="0.2"/>
<rect x="613.6" y="2412.6" width="434" height="2.1" fill="#140302" opacity="0.1"/>
<rect x="613.6" y="2414.7" width="434" height="2.8" fill="#140302" opacity="0.1"/>
<rect x="613.6" y="2417.5" width="434" height="2" fill="#6a2414" opacity="0.1"/>
<rect x="613.6" y="2419.5" width="434" height="1.4" fill="#6a2414" opacity="0.1"/>
<rect x="613.6" y="2421.9" width="434" height="1" fill="#6a2414" opacity="0.1"/>
<rect x="613.6" y="2422.9" width="434" height="3.3" fill="#140302" opacity="0.1"/>
<rect x="613.6" y="2426.3" width="434" height="2.1" fill="#6a2414" opacity="0.1"/>
<rect x="613.6" y="2428.3" width="434" height="2.9" fill="#6a2414" opacity="0.1"/>
<rect x="613.6" y="2431.3" width="434" height="4" fill="#6a2414" opacity="0.1"/>
<rect x="613.6" y="2435.2" width="434" height="3.6" fill="#140302" opacity="0.1"/>
<rect x="613.6" y="2442.7" width="434" height="3.3" fill="#140302" opacity="0.1"/>
<rect x="613.6" y="2446" width="434" height="3.4" fill="#140302" opacity="0.2"/>
<rect x="613.6" y="2459.9" width="434" height="3.7" fill="#140302" opacity="0.1"/>
<rect x="613.6" y="2464.8" width="434" height="3.5" fill="#140302" opacity="0.1"/>
<rect x="613.6" y="2468.2" width="434" height="2.4" fill="#6a2414" opacity="0.1"/>
<rect x="613.6" y="2473.4" width="434" height="1.3" fill="#140302" opacity="0.1"/>
<rect x="613.6" y="2474.7" width="434" height="3.2" fill="#140302" opacity="0.1"/>
<rect x="613.6" y="2477.9" width="434" height="2.8" fill="#6a2414" opacity="0.1"/>
<rect x="613.6" y="2482.5" width="434" height="3.5" fill="#140302" opacity="0.1"/>
<rect x="613.6" y="2487.7" width="434" height="3.9" fill="#6a2414" opacity="0.1"/>
<rect x="613.6" y="2493.6" width="434" height="1.2" fill="#140302" opacity="0.2"/>
<rect x="613.6" y="2507" width="434" height="2.4" fill="#6a2414" opacity="0.1"/>
<rect x="613.6" y="2509.3" width="434" height="3.8" fill="#6a2414" opacity="0.1"/>
<rect x="613.6" y="2513.1" width="434" height="1.4" fill="#6a2414" opacity="0.1"/>
<rect x="613.6" y="2518.1" width="434" height="2.8" fill="#6a2414" opacity="0.1"/>
<rect x="613.6" y="2525.6" width="434" height="3.8" fill="#6a2414" opacity="0.1"/>
<rect x="613.6" y="2530.9" width="434" height="3.6" fill="#6a2414" opacity="0.1"/>
<rect x="613.6" y="2536.9" width="434" height="4" fill="#140302" opacity="0.1"/>
<rect x="613.6" y="2540.9" width="434" height="2.6" fill="#140302" opacity="0.1"/>
<rect x="613.6" y="2543.5" width="434" height="1.1" fill="#140302" opacity="0.1"/>
<rect x="643.9" y="2144.1" width="35.4" height="2.8" fill="#0a0101" opacity="0.45"/>
<rect x="742" y="2312.1" width="47.1" height="2.9" fill="#0a0101" opacity="0.45"/>
<rect x="677.1" y="2231.8" width="115.5" height="1.7" fill="#0a0101" opacity="0.45"/>
<path d="M606 2538.9l-3.9 .6-3.5 1.9-4 .4-2.7 3-3.2 2.4-2.5 3.2-2.7 2.9-3.6 1.7-4 .7-3.1 2.5-3.9 1-3.9-1-3.9-1-3.3 2.2-3.6 1.7-4-.5-3.5-1.8-3.8-1.5-3.1-2.4-1-3.9-.3-4 0-4 .1-4-2.6-3-2.3-3.3-3.9-.7-2.6-3.1-3.4-2-4-.2-3.8-1.4-3.1-2.4-4-.8-4 .3-4 0-3.6 1.7-3.3 2.3-2 3.4-3.6 1.9-3.6 1.6-4 .4-3.9 .9-4 .3-4 .6-3.6-1.6-4 0-4 .5-4 .2-3.5 1.9-3.7 1.5-2.6 3-.7 4-3.2 2.5-2.2 3.3-.5 3.9 1 3.9-.1 4 1.7 3.6 3.7 1.5 2.9 2.8 2.5 3.1 1.8 3.6 1.8 3.6 .6 3.9 2.2 3.3 1.1 3.9 3.9 .8 M642.2 2161l2.7-2.9 .8-4 .8-3.9 2-3.4 3-2.7 .9-3.9-1.1-3.9-1.6-3.6-2.4-3.2-3.3-2.3-3.2-2.4-3.9-.5-4 .5-3.8 1.3-4 .3-4-.1-3.9-.7-3.9 1-3.4 2.2-3.9 .4-4 .8-3.7-1.4-4-.3-3.6-1.7-3.8-1.2-4 .2-3.4 2.2-.7 3.9-.8 3.9 3 2.7 3.7 1.5 3.9 1 3.9 .8 2.9 2.8 1.7 3.6 .7 3.9-1.2 3.8-2.5 3.1-3.1 2.5-3.4 2.3-3.9 .4-3.8 1.3-4 .4-3.8 1.1-3.6 1.8-3.3 2.3-2.5 3.1-3.9 1-3.8 1.1-4 .7-3.9-.6-4-.1-3.9-1-3.5-1.9-3.9 1-3.9 1.1-3.9-.6-3.6-1.8-3.7-1.4-2.9-2.8-4-.1-4 .6-4 0-3.9-.4-3.9 .9-2.6 3.1-2.6 3-1.9 3.6-3.2 2.3-3.9 1.1-2.2 3.3-2.8 2.8-2.1 3.4-3.6 1.9-3.7 1.4-3.7-1.4-3.1-2.5 M864.3 2138.3l.7-4 1.7-3.6 .2-4 2.5-3.1 3-2.6 2.6-3 3.2-2.4 3.5-2 3.8-1.3 3.7-1.6 2.4-3.2 4-.5 3.5-1.9 1.6-3.7 1.7-3.6 1-3.9 .2-4 2.9-2.8 3.5-1.9 3-2.5 3.4-2.2 4-.5 3.1-2.5 4-.7 3.9-.9 3.9-.5 3.5-2 3.6-1.8 1.9-3.5 .4-4 0-4-1.4-3.7-1.9-3.6-.2-4 3-2.6 3.2-2.5 4 .3 2.7 2.9 3.2 2.4 2.3 3.3 2.8 2.9 2.1 3.4 1.6 3.6 3.6 1.8 2.1 3.4 3.6 1.6 3.3 2.3 3.4 2.1 4 .1 2.1-3.4 .7-3.9-.6-4 1.5-3.6 1.7-3.7 3-2.6 2.8-2.9 2.8-2.9 2.9-2.7 3.9-1.1 3.9 .8 2.8-2.9 3.1-2.5 3.7-1.6 3.2-2.4 2.4-3.2-1.3-3.8 1.3-3.7 M661.9 2404.4l-.6-3.9 .9-3.9 3-2.7 .8-3.9 .4-4-.5-4-.2-4 .8-3.9 2.2-3.4 .8-3.9 3.9-1.1 3.7-1.4 4 .1 2.8-2.9 1.5-3.7-1-3.9 .5-3.9 1.7-3.7 2.4-3.2 2.3-3.2 4-.6 3.8-1 4 .5 3.8-1.1 3.8 1.3 3.7 1.5 4 .1 3.8 1.1 3.6 1.8 3.8 1.3 3.7 1.4 2.9 2.8 3.6 1.9 3 2.5 1.1 3.9-2.6 3-2.3 3.3-3.2 2.4-2.4 3.1-2.9 2.9-2.4 3.2-3.9 .3-3.8 1.4-3.7-1.6-3.9-.7-3.4-2.1-3.4-2.2-4 .5-3.5 1.9-4 .4-3.9 1-3.9-.8-3.9-.9-3.2-2.4-3.2-2.3-2.4-3.2-3.8-1.2-4 .7-4 .1-3.9 .8-3.3 2.2-3.9 1-4 .5-3.7-1.5-4-.2-3.3-2.1-3.9-1.1-3.5-1.9-4-.1-3.9-1.1-3.6 1.6-3.7 1.5-3.4 2.2-3 2.6-2.8 2.9-3.6 1.6-4 .4-3.6-1.9-3.4-2.1-.1-4-1.7-3.6-1.4-3.7-2-3.5-3.2-2.4-2.7-2.9-3.7-1.5-3.9-1.1-3.4 2-2.6 3.1-2.9 2.7 0 4-.4 4 1.9 3.6 .5 3.9-.3 4 .3 4 2.2 3.3 2.5 3.1 4 .6 3.7 1.5 3.1 2.5 2.7 3 3.9 .9 3.2 2.4-.2 4-2.1 3.4-2.3 3.3 .4 3.9 2 3.5 M861.6 2399l-1.6 3.7-1.5 3.7-1.5 3.7 .3 4-2 3.4-.2 4-2.4 3.2 0 4 .3 4-1.1 3.9-2.9 2.6-2.5 3.2-1.6 3.7-1.3 3.7-.1 4 .5 4 .5 4-.2 4 2 3.5 2.5 3.1 2.8 2.8 3.1 2.6 3.6 1.6 4 0 4 .5 3.3 2.3 3 2.7 3.6 1.7 3.3 2.3 3.9 .8 3.3 2.2 3.8 1.2 1.5 3.7-1.6 3.6-.5 4-1.8 3.6-3.6 1.6-2.4 3.2-4-.3-4 .1-3.8 1.3-3.1 2.4-3.9 .8-3.5 2.1-3.6 1.6-3.8 1.2-3.6 1.8-3.7 1.6-3.5 1.8-3.8 1.4-4 .6-2.6 3-3.6 1.7-3.7 1.5-3.9 .9-3.2 2.4-3.3 2.3-2.5 3.1-3.7 1.5-4-.3-3.9 .3-4 .6-2.9-2.8-4 .3-4-.8-3.7-1.4-3.1-2.5-3.9-.9-4-.1-3.8-1.1-4 .1-4-.3-3.7-1.4-2.9-2.9-2.7-2.9-3.4-2.1-1.3-3.8-.9-3.9-.2-4-1.2-3.8-.4-4 M812 2552.6l.4 3.9 1.7 3.6 1.3 3.8 2.7 3 3.9 .9 3.8 1.2 3.8 1.4 2.8 2.8 .4 4-1.9 3.5-1.9 3.5-1.6 3.7-2.8 2.8 .5 4 1.2 3.8 .6 3.9-1.4 3.8-.9 3.9-.8 3.9 .5 4-.2 4 1.1 3.8 1.8 3.6 1.8 3.6 .7 3.9 2.2 3.3 .4 4-3.1 2.5-3.2 2.4-2.4 3.2-1.4 3.7-2.6 3.1-.7 3.9-3.2 2.5-3.5 1.9-3.8 1.4-3.7 1.4-3.9-.8-3.8-1.4-3.9-.9-4 0-3.9 .7-3.2 2.4-3.4 2-3.7 1.6-4 0-3.5 1.9-3.7 1.6-4 0-3.1 2.4-4 .4-4 .3-4 .4-4 .2-4-.1-3.8-1.1-3.6-1.8-4 .2-3.2-2.4-2.6-3.1-2.2-3.3-.9-3.9-1.9-3.5-3.2-2.5-1.5-3.7-2.1-3.4-1.9-3.5-1.1-3.9-.4-4 2.3-3.2 2.5-3.2 3.4-2.1 4-.1 4 .2 3.9-.8 4-.6 3-2.6 3.1-2.6 2.8-2.7 3.5-2.1 3.4-2 3.9-.9 3.2-2.4 2.9-2.8 3.9-1 3.9 .4 3.7 1.6 2.2 3.3 1.1 3.8-.7 4-1.4 3.7-.3 4 1.9 3.5 3.2 2.4 4 .7 4 0 2.5-3.1 2.8-2.8 M740.5 2155.1l3.1 2.5 .9 3.9-.2 4 2.8 2.8 1.8 3.6 3.7-1.4 3-2.6 3.5-2 4-.3 3.9-.9 3.9-.7 4-.5 3.5-2 2.9-2.7 3.2-2.4 4 .3 3.6-1.7 3.1-2.6 3.5-2 3.7-1.4 3.9-.9 3.9-.8 .1-4-.9-3.9-3-2.6-2.7-3-3.5-1.8-3.8 1.4-4 .2-3.5-1.9-1.4-3.7-3.3-2.3-3.9-.7-4-.7-2.8-2.8-3-2.7-.5-4-.6-3.9-.3-4 .5-4 .1-4 1.4-3.7 3.5-1.9 3-2.6 3-2.7 1.1-3.9 .8-3.9 1.6-3.7 3-2.6 1.6-3.6 1-3.9 1.5-3.7 2.6-3.1 3.7-1.6 4-.2 4-.2 3.8-1 3.6-1.9 3.6-1.6 4 0 3.8 1.3 3.9-1 3.9 .5 4 .4 4 .3 4 .1 3.8 1.3 3.8 1.1 3.8-1.3 3.8 1.2 3.5 1.9 1.9 3.5 1.7 3.7 M916.5 2505.5l-.3-4-.2-4-1.7-3.6-1.7-3.6-.5-4 1-3.9-1.4-3.7-2.3-3.3-2.6-3.1-3.2-2.4-2.7-2.9-2.2-3.3-3.4-2.2-3.7-1.3-4 .4-3.8-1.2-3.8-1.3-4 .4-2.4-3.2-1.1-3.8-1.3-3.8-1.4-3.7-3.1-2.6-3.6-1.9-3.7-1.3-3.9-1.1-4-.2-3.9-.6-2.9-2.8-2.8-2.9-2-3.4-.3-4 2.2-3.4 2.6-2.9 2.6-3.1 2.2-3.4 .9-3.9 .6-3.9-1.1-3.8-.9-3.9-2.7-3-3.9-.9-3.9-.7-3.3-2.4-3.7-1.4-4-.6-4 0-3.6-1.6-4 0-4 .1-4 .2-3.8-1.3-4-.2-3.7 1.5 M964.2 2315.5l-1.9-3.5-.7-3.9-3-2.7-.7-3.9 .5-4-.3-4 .7-3.9 1.6-3.7 .8-3.9 .2-4 .6-4 2.7-2.9 2.7-3 1.8-3.6 .2-4-1.2-3.8-1.1-3.8-1.2-3.8-.7-4-2.5-3.1-4-.3-3.6-1.7-3.3-2.3-2.8-2.8-1.5-3.8-2-3.4-2.2-3.4-1.6-3.7 .3-4-1.9-3.5-3.3-2.2-3.6-1.7-3.8-1.4-4-.1-3.9-.6-4 .5-3.9-1-3-2.6-3.9 .7-2 3.5 1.2 3.8 2.3 3.3 3.5 2 3.4 2.1 3.3 2.2 3.9 1 .6 4 .8 3.9 2.6 3.1 1.7 3.6 3.7 1.5 4-.2 3.3 2.3 3.9 .4 4 .5 4 0 3.8 1.2 3.7 1.5 4-.3 4-.1 3 2.6 2.7 3 3.8 1.1 2.7 3 3.4 2 3.6 1.7 3.4 2.3 3.1 2.4 2.9 2.8 .3 4 .3 4-1.1 3.8 .4 4-.6 4-2.8 2.8-2.1 3.4-1.4 3.7-3.9 .9-3.3 2.3-2.1 3.4-.3 4-1.4 3.8-3.4 2.2-1.6 3.7-1 3.8-2.3 3.3-2.6 3-2.6 3.1-3.3 2.2-3.3 2.2-3.1 2.6-3.5 1.9-1.2 3.8-.3 4 M766.9 2285.8l-1.5-3.7-2.7-3.1-1.3-3.7-.1-4 1.1-3.9 1.4-3.7-2.2-3.4-2.5-3.1-2.5-3.2-1.8-3.5-3.5-2-2.5-3.1-2.9-2.8-1.8-3.6-.1-4 0-4-.6-3.9-1.8-3.6-.5-3.9 .1-4 .8-4 2.5-3 3-2.7 2.8-2.9 1.9-3.5 2.2-3.3 2.6-3 2.2-3.4 .7-3.9-1.1-3.9-2.5-3.1-2.8-2.9-3.3-2.3-2.6-3-2.3-3.3-2.2-3.3-1.4-3.7-1.4-3.8-2-3.5-1.1-3.8 2.1-3.4 1.5-3.7 .5-4-1-3.9-2.1-3.4-2-3.4-1.4-3.8 0-4-4-.3-4-.5-3.9-.9-3.9 .5-3.9-.9-4 0-4 .5-4 .2-1.8-3.6-1.7-3.6-2.3-3.3-.5-3.9-1-3.9-1-3.9-3.4-2-3-2.7-4 .5-3.8 1.1-4-.1-2.6 3.1-1.2 3.8-1.9 3.5-2.4 3.3-1.7 3.5-2.9 2.8-2.5 3.1-2.8 2.9-3 2.6-3.4 2.2-3.6 1.7-3.8 1.2 M1003.9 2337l-3.3-2.2-2.9-2.8-1.3-3.8-2.4-3.1-1.6-3.7 1.8-3.6-.4-4-.8-3.9-.8-3.9-1.3-3.8-1.8-3.6-.2-4 1.1-3.8 1.5-3.7 3.1-2.6 3.5-1.9 3.8-1.4 2.2-3.3 3.4-2.1 3.9-1 4 0 4 .3 4-.4 2.8-2.8 3.3-2.2 4-.6 3.6-1.8 3.4 2.1 1.7 3.6 2.7 3 2 3.4 1.7 3.7 1.5 3.7 .5 3.9-1.2 3.9 .3 4 3.8 1.2 1.8 3.6 .7 3.9 2.1 3.4 1.5 3.7-1.3 3.8-3.2 2.4-3.3 2.3-2.4 3.2-3.5 1.9-1.1 3.8-1.8 3.6-1.6 3.7-3.1 2.5-2.5 3.1-1.8 3.6-1.6 3.7-.8 3.9 .6 3.9 .7 4 2.6 3 3.4 2.1 3.6 1.7 3.8 1.3 4 .2 3.3-2.2 3.9-1.2 3.4-2 3.9-.9 4 0 4 .1 2.8-2.8 2.1-3.4 3.1-2.5 2.8-2.9 4-.6 3.8 1.1 3.6 1.7 4-.7 3.7-1.3 4 .2 4 .7 3.1 2.5 3 2.6 2.9 2.8 3.9 .5 3.9 1 3.6 1.8-.1 4 M1052.4 2469.8l3.5-1.9 3.5-1.9 2.3-3.3 3.6-1.8 3.9 .6 4 .5 3.9 1.1 3.9 .1 4 .2 2.4 3.3 .3 4 .9 3.9 2.3 3.2 3.8 1.4 4-.1 3.7-1.5 3.9-.9 3.1 2.5 2.7 2.9 2.2 3.4 2.5 3.1 3.9 .9 3.1 2.5 4-.2 3.8 1.3 4-.1 3.8-1.2 3.9-.6 4 .4 4 .1 4-.1 4-.2 2.8 2.8 2.6 3 1.6 3.7 2.6 3.1 3.7-1.4 3-2.6 4 0 2.9 2.8 2.7 3 3.4 2.1 3.5 1.9 2.8 2.9 2.8 2.9 3.6 1.7 3.9 .5 4 .8 3.2 2.3 3.7 1.5 1 3.9 2.7 3 .6 3.9 .6 4 1 3.9 .7 3.9-1.4 3.8-2.5 3.1-3.8 1.2-2.6 3.1-3.6 1.8-3.3 2.2-3.5 2.1-3.6-1.7-2.6-3-3.2-2.4-3.9-.9-4 .4-4-.2-3.9-.7-4-.3-3.8 1.2-2.9 2.8-1.2 3.8 1.5 3.8 .6 3.9 2.7 3 3.7 1.5 3.1 2.5 3.5 2 3.8 1.1 3.6-1.8 4-.7 3.2-2.3 3-2.7 3.2-2.4 2.4-3.1 3.4-2.2 3.6-1.7 4 .5 3.9 .6 3.7 1.4 2.4 3.2 2.9 2.8 2.9 2.8 3.2 2.4 2.2 3.3 3.1 2.5 .7 4 .9 3.9-1 3.8-2.5 3.1 M1036.9 2145.9l3.5 2 1.8 3.6 .4 4-2.2 3.3-3 2.6-3.5 2-3.7-1.3-3.6 1.8-3.4 2-3.2 2.5-4 .6-3 2.7-3.3 2.3-2.6 2.9-1.3 3.8-.8 3.9 .1 4 2.5 3.1 3.2 2.4 3.8 1.5 3.6 1.6 3.8-1.3 2.4-3.2 2.1-3.4 .1-4 1.5-3.7 2-3.5 4-.6 3.8-1.1 3.9 .9 4 .5 3.8-1.2 3.9-.7 3.9-1.1 3.4-2 1.8-3.6 3.5-2 2.3-3.3 3-2.6 1.7-3.6 2-3.5-.8-3.9-1.4-3.8-1.3-3.8-1.6-3.6-.3-4-1.5-3.7 .7-3.9 3-2.7 4-.6 3.4-2.1 2-3.4 2.3-3.2 2.3-3.3 1.1-3.9 2.1-3.4 3.8-1.1 3.9 .7 3.8-1.3 4-.3 4-.4 3.9 1 3.9-.4 4-.1 4 .1 4-.4 4-.2 4-.6 M701.6 2440l-3.9 1-4 .4-3.8 1.2-4-.4-4-.3-3.7-1.4-3.9-.7-2.7-3-3-2.6-1.3-3.8-.7-3.9-.5-4-1.8-3.6-2.3-3.2-.3-4-1.1-3.8-2.4-3.3-2.6-3-2.3-3.3-3.8-1.3-3.7-1.4-3.7 1.6-3.1 2.4-3.3 2.3-3.8 1.3-4 .2-3.9-.8-4-.5-2.8-2.8-2.5-3.2-1.8-3.5 2.3-3.3 3.1-2.4 3.8-1.3 2.5-3.1 3.1-2.6 3.5-1.8 3.2-2.5 2.4-3.2 2.1-3.4 3.8-1.1 3.8-1.5 3.8-1.1 3.1-2.6 1.8-3.5 3-2.7 3.1-2.6 3.9 .9 4-.2 3.3-2.3 2.8-2.8 1.2-3.8 2.2-3.3 1.9-3.5 4-.8 4 0 3.9 .4 4 .6 4 .2 3.9 .6 2.7 3 3 2.7 2.8 2.8 1.4 3.8 2.9 2.7 4 .5 3.4 2.1 3.6 1.6 3.5 2 3.9 .9 4-.1 3.9-.5 3.9-1.1 4-.4 3.6-1.7 2-3.4 0-4 1.7-3.7 2.5-3.1 4-.2 4 .1 3.4-2.2 3.6-1.7 3.2-2.4 4-.2 4-.3 4-.1 3.8-1.1 2.2-3.4 3.5-1.9 2.9-2.8 3.1-2.5 3-2.7 1.2-3.8 M817.8 2214.9l1.4 3.7 3.5 2 3.9 1 4 0 3.9-.8 4-.4 4 0 3.9-.5 4-.3 4 .2 4 .3 3.6-1.8 3.6 1.6 3.8 1.5 3.8 1 3.3 2.3 2.2 3.4 1.3 3.7 1.9 3.6 3.6 1.7 1.2 3.8-.2 4-1.8 3.6-1.5 3.7-1.3 3.8 .2 4-1.2 3.8-1 3.9-.9 3.9-.7 3.9-1.9 3.5-2 3.5-1.8 3.6-1.4 3.7-1.4 3.7-3.6 1.8-3 2.7-3.6 1.7-3.9-1-3.8-1.3-4 .5-3.7-1.4-4 .4-3.9-1.1-3.9-1-3.9-.8-3.7-1.5-3.3-2.2-2.9-2.8-3.7-1.4-3.6-1.8-3.8-1.3-2.9-2.8-2.8-2.8-3.5-1.9-3.8-1.3-2.7-3-2.2-3.3-2.3-3.3-1.2-3.8-.8-4-3.6-1.6 M1041.7 2499.4l1.7 3.7 2.7 3 2.2 3.3 3.3 2.3 3.9 .6 4-.4 3.6-1.8 2.9-2.8 3.8-1.1 3.5-2 3.5-1.9 3.5-1.9 4 .3 4-.4 3-2.6 4-.6 3.8-1.2 3.5-1.9 3.9-.9 3.9 .8 3.9 .8 3.9 1.1 3 2.6 2.7 2.9 1 3.9-.2 4 1.2 3.8-.4 4-.5 4 .4 4 2.2 3.3 2.5 3.1 1.8 3.6 3.2 2.4 4 .4 4 0 4-.3 3.6-1.8 1.3-3.7-.1-4 .1-4 .8-3.9-.6-4-3.7-1.6-3.4-2.1-1.8-3.6-2.2-3.3-3-2.6-1.2-3.8 .1-4 2.1-3.4 3.4-2.1 4 .1 4-.4 3.6-1.7-.3-4 1.1-3.9 1.3-3.8 2.1-3.4-.4-3.9-2.7-3-3.1-2.6-2.4-3.2-3.2-2.3-3.1-2.5-3.8-1.2-3.1-2.5-3.7-1.6-4 .1 M618.2 2272.4l-1.9-3.6-.1-4 .1-4-1.6-3.6-3.5-2.1-4-.2-3.9-.6-3.8-1.1-3.1-2.6-4 0-3.8-1.4-3.8 1-3.8 1.5-3.8 1.2-2.8 2.8-3 2.7-3.8 1.3-4 .1-3.9 .3-4 .5-4 .5-3.7 1.6-2.9 2.6-2.7 3.1-1.4 3.7-1.1 3.8-.6 4 2.6 3.1 1 3.8 2 3.5 .8 3.9-1 3.9-.3 4 .3 4 2.1 3.4 3.6 1.6 4 .5 3.4 2.1 3.8-1.4 2.6-3 3-2.7 3.2-2.4 3.4-2.1 3.9 .8 3.7 1.3 4 .7 3.5 1.8 3.2 2.4 .8 4 .4 3.9 .8 3.9 2 3.5 2.4 3.2 2.3 3.3 2.4 3.2 2.9 2.7 2.3 3.4 3.2 2.2 3.8 1.5 3.8 1.2 3.9 .9 3.6 1.8 2.8 2.8 3.1 2.6 3.6 1.6 3.7 1.6 3.1 2.5 3.4 2.1 2.2 3.4 3.7 1.6 2.6 3 3 2.7 3.1 2.5 2.2 3.3-.7 3.9-1.8 3.6-2.8 2.9-2.2 3.3 .4 4-1.7 3.6-2.6 3.1-1 3.8-1.5 3.8-3.4 2-3.7 1.6-3.8-1.2-4-.1-3.8-1.2-3.6-1.7-3.8-1.4-4-.3-3.4 2-3.3 2.3 M939.6 2433.7l-3.3-2.3-3.7-1.5-3.8 1.1-4 .2-3.8-1.3-3.8 1.4-3 2.6 1 3.8-1.3 3.8 1.7 3.6 3.1 2.6 3.6 1.6 3.9 1 4 .6 3.4 2 4 .4 4 .4 3.6 1.6 3.8 1.2 3.8 1.5 3.1 2.4 3.9 1 3.6 1.8 3.9 .5 4-.4 3.9 1 1.8 3.6 3.2 2.3 3.6 1.8 3.9 .8 3.5 1.9 3.8 1.3 3.5 1.9 3.9 .8 4-.3 4 0 4 .2 3.9 1 3.6-1.8 3.5-1.9 3.7-1.3 3.7-1.6 4 .6 3.8 1 3.9 1 3.2 2.4 1.4 3.8 3.5 1.8 3.9 .8 4-.8 3.9 .5 4 0 4 .7 3.7 1.4 4-.5 4 .4 4 .2 3.9-.3 4 .2 3.8-1.3 4-.5 2.9-2.7 3.9-.9 4-.7 4 .1 3.8 1.1 2.5 3.2 2.3 3.3 1.6 3.6 1.1 3.9 .6 3.9 .5 4 .4 4 3 2.6 3 2.6 4 .3 3.9 1 3.4 2.1 3.1 2.5 3.9 1.1 M780.3 2384.8l-3.9 .8-3.9-.7-4-.1-3.7-1.4-3.1-2.6-3.5-2-3.8-1.3-3.9-.8-3.3-2.2-2-3.5-3.7-1.5-3.7-1.4-3.8 1.1-3.8-1.4-3.7 1.6-2.2 3.3-1.2 3.8-1.9 3.5 .8 3.9-1.4 3.7-2.8 2.9-2.4 3.2-1.1 3.8-.2 4-1.2 3.8-.3 4-.7 3.9-.1 4-.7 4-.6 3.9-.7 4 1.7 3.6-1.6 3.7-2.5 3-2.7 3.1-2.7 2.8-3.3 2.4-2.9 2.7-3.4 2.1-3.7 1.6-1.1 3.8-1.4 3.8-2.7 2.9-2.6 3-3.3 2.3-1.2 3.8-1.3 3.8-2.3 3.3-1.7 3.6 .2 4-1 3.9-1.7 3.6 0 4 1.7 3.6 1.8 3.6 1.1 3.8 1.3 3.8 2.4 3.2 .9 3.9 3.6 1.7 M659.1 2374.1l-1.1-3.9 2.2-3.3 3.8-1.2 1.2-3.8-.5-4-2.3-3.3-2-3.4-2.8-2.9-.8-3.9-4-.6-3.9 .8-4 .4-3.7 1.5-3.5 1.9-2.1 3.4-2.8 2.8-.9 3.9-1.7 3.7-1.7 3.6 1.4 3.7 2.6 3 2.8 2.9 3.3 2.3 3.8-1.2 3.3-2.2 3-2.7 3-2.7 3-2.5 3.5-2 4 .7 3.8-1 4 .7 3.8 1.1 3.3 2.3 2.6 3 3.6 1.8 3.8 1.2 3.8 1.4 4 0 3.9-1 3.8-1.1 3.7-1.5 3.4-2.1 3.1-2.6 1.6-3.6 4-.6 3.7 1.5 3 2.6 3.9-.8 3.8 1.3 2.5 3.1 3.2 2.4 2.8 2.8 3.6 1.8 4 .3 4 .1 3.9 .5 4-.2 4 .7 3.7 1.4 4 .1 3.9 .9 3.6 1.7 4-.1 3.2-2.5 4-.3 3.6 1.6 1.6 3.7 2.7 3 2.3 3.2 2.8 2.9 1.5 3.7 .8 3.9 2.8 2.9 .2 4 2.4 3.2 2.3 3.3 1.2 3.8 .1 4-2.6 3-3.3 2.3-2.5 3.1-1.7 3.6 M754.4 2488.2l-2.9 2.6-3.5 2-3.6 1.7-3.2 2.4-3.1 2.6-2.3 3.3-1 3.8-2 3.5-3.9 .7-3.9 .8-3.2 2.5-3.8 1-3.8-1.4-3.2-2.4-2.2-3.3-2.9-2.8-2.3-3.3-2.7-2.9-1.8-3.6-2-3.4-1.3-3.8-1.4-3.8-3.5-1.9-3.9-.9-3.9 .9-3.8-1.4-3-2.6-4-.2-3.7-1.5-3.8-1.1-4-.4-4-.6-3.9-.3-4-.3-4 .7-3.7 1.3-4-.7-2.5-3.1-1.4-3.7 .6-4 .5-3.9 .8-4 2.5-3.1 .7-3.9-.4-4-.7-3.9-2.5-3.1-3.8-1.2-3.3-2.3-3.7-1.6-3.9-1-2-3.4-3.2-2.3-1.2-3.9 1.2-3.8 .4-4 .2-4 .5-4 1.3-3.8 2-3.4-.4-3.9-3.5-1.9-2.4-3.2-3.1-2.5-3.6 1.8-3.7 1.4-4-.2-4-.7-2.3-3.2 .9-3.9 2-3.5-2.2-3.4-2.3-3.2-2.6-3.1-2.4-3.2-3.4-2-3.9 1-3.5 2.1-2.6 3-1.8 3.5 0 4 2.7 3 M930.6 2250.9l.7 3.9-1.5 3.7-1.8 3.6 1.9 3.5 1.6 3.6 3.1 2.6 3.7 1.5 3.9 1 3.9 .7 3.4 2.2 3.4 2.1 2.5 3.1 2.6 3-.2 4-2.7 2.8-2.1 3.5-3.7 1.5-3.6 1.8-2.2 3.3-2.9 2.7 .1 4-1.2 3.8-1.3 3.8-.1 4 2 3.5 .8 3.9-.6 3.9-2.9 2.8-2.7 2.9-3 2.7-3.6 1.7-2.8 2.8-1.7 3.6 .6 4 1.5 3.7 .9 3.9-1.3 3.8-2.8 2.8-3 2.7-2.8 2.8-1.2 3.8 1.8 3.6-1.4 3.8-1.8 3.6-1.5 3.7-3.3 2.1-4 .6-3.4 2.1-3.6 1.8-3.8 1-3.7-1.5-1.7-3.6 .1-4-.9-3.9-2.3-3.3-2.7-3-.7-3.9 .3-4 .8-3.9 3.7-1.4 3.8-1.4 4-.3 4 0 3.6-1.6 3.9-.9 3.4 2.1 2.7 3 1.6 3.7 3.4 2.1 1.1 3.8 1.1 3.9-2.4 3.2-2.8 2.8-2.5 3.2 M815 2366.8l2.8 2.9 1.3 3.8 3.8 1.1 4-.9 2.9-2.6 4 .2 4 .3 3.8-1.4 3.8-1.1 3.7-1.5 4-.1 4-.7 3.5 2 3.7 1.5 3.6 1.6 3.9 .7 3.8 1.5 3.4 1.9 3.7 1.8 3.8 1 4-.2 4 .3 4 .2 4 .2 3.7 1.5 2.2 3.3 1.7 3.7-.2 4-.9 3.9 .5 3.9 .5 4-.1 4 .2 4-1.5 3.7-1.3 3.8-2.5 3.1-3.3 2.3-3.4 2.1-1.9 3.5-2.7 3-2.4 3.2-2.4 3.2-3.9 .8-3.9-1.2-2.1-3.4-1.1-3.8-3.2-2.4-2.8-2.9-2.1-3.4-1.3-3.8-2.1-3.4-3.3-2.2-3.9-1-3.7 1.4-4 .5-3.8 1.1-3.5 1.9-4 .3 M941.1 2207.3l.4-4-1.7-3.6-1.5-3.7-.4-4 .1-4 3.1-2.5 2.3-3.3 2.4-3.2 3.5-1.9 4 .4 3.2 2.4 2.3 3.3 4-.1 4-.7 3.9-.9 3.4 2 2.2 3.4 1.3 3.8 3.3 2.3 3.3 2.3 3.7 1.5 3.7 1.5-.2 4-.1 4 .5 3.9 .8 4 .2 3.9 2.1 3.5 3.3 2.2 3.4 2.1 3.9 .8 3.1-2.6 2.3-3.2-.4-4 0-4-1.5-3.7-2.5-3.2-3-2.6-3.2-2.5-3.7-1.5-4 .2-3-2.7-2.3-3.2-3-2.7-2.1-3.4-1.7-3.6-1.9-3.5-3.4-2.2-2.2-3.3-2.6-3-1.2-3.8 .1-4 2.4-3.3 3.4-2 3.5-2 4-.5 3.8-1 3.6-1.9 2.7-2.9 1.3-3.8-.5-3.9-1.9-3.5-3.3-2.4-2.3-3.3-3.3-2.1-3.9-1.1-4-.3-3.4-2-2.9-2.8-2-3.4-1.4-3.8-2.5-3.1-3.4-2.1-2.1-3.4-4-.4-3.2-2.4-3.9-.9-3.2-2.4-1.7-3.6-2.8-2.9-3-2.6-3.8-1.1-4-.8-3.9 .5-4 .4-4 0-3.9 1-2.8 2.8-.6 3.9-2 3.5-2.6 3.1-2.8 2.8-2.3 3.3-1.7 3.6-.6 4 .4 4 2 3.4 .9 3.9-.2 4 .6 4-3.1 2.4-2.3 3.3 M972.5 2259.6l3.4 2 2.4 3.2 1.8 3.6 1.5 3.7 1 3.9 2.7 3 3.3 2.2 1.6 3.7 1.7 3.6 2.4 3.2 1.5 3.7 1.7 3.6 3.5 1.9 3.7 1.5 3.8 1.3 2.4 3.2 2.2 3.4 3.4 2 3 2.6 3.4 2.3 3.7 1.5 3.6 1.7 3.2 2.3 3.9 1 4 .3 3.6 1.7 3.5 1.9 2.8 2.9 2.9 2.8 2 3.5-.1 4 2.5 3.2 2.2 3.3 3.1 2.5 .6 4-.1 4 .8 3.9 3 2.6 4-.3 4-.2 4-.5 3-2.6 2.2-3.4 .2-4 .4-3.9 1.1-3.9-2.1-3.4-3.2-2.4-3.9-.4-3.9-1.2-3.9 .4-4 .1-3.7 1.7-3.7 1.3-2 3.5-2.3 3.3-.3 4 .6 3.9 2.2 3.4 .7 3.9-.2 4 .2 4 2.3 3.2-.5 4-1.2 3.8-1.2 3.9 2.4 3.2 2.1 3.4 1.7 3.6 3.9 .6 3.3 2.4 4 .2 4 .4 3.9 .5 3.9-.8 3.7-1.7-.7-3.9 1.9-3.6 2.7-2.9 2.4-3.2 3.3-2.3 3.3 2.1 1.6 3.7 3.9 .7 3.6-1.8 3.7-1.5 3.8-1.2 4 0 4-.5 3.4 2.1 1.8 3.6 1.5 3.7-.8 3.9 .1 4 .5 4 2 3.4 3.4 2.2 M606 2509.7l1.7 3.7 1.3 3.7 .3 4-.3 4-3.5 2-3.4 2.1-3.7 1.6 0 4-2.9 2.7-3 2.6-3.6 1.7-3.3 2.3-3 2.7-4-.4-3.1 2.5-4-.1-2.6-3.1-2.8-2.9-2.7-2.9-2.9-2.7-3-2.7-3.1-2.5-1.9-3.5-3.2-2.4-3-2.7-.8-3.9-2.3-3.3-1.1-3.8 .7-3.9-2.1-3.5-2.5-3.1-3.2-2.4-1.5-3.7-3.5-1.9-3.8-1.4-2.4-3.1-3.6-1.9-2.7-2.9 .3-4-2-3.5-3.1-2.5-4 .5-3.8-1.2-4 .4-3.9-.7-3.7 1.6-3.6 1.8-3.4-2.2-2.9-2.7-1.4-3.8 1-3.8 2-3.5 3.9-.9 3.8-1.2 3.3-2.3 3.9-1 3.7-1.6 3.9 .6 4 .3 3.7 1.6 .7 4-1.2 3.8-2.4 3.2-3.6 1.8-3.1 2.5-3.3 2.3-.2 4 .4 3.9-3.2 2.5-1.8 3.6-3 2.6-3.6 1.8-3.6 1.8-4-.1-3.8-.9-3.8-1.5-3.9-.6-3.9 .8-3.9-.8-3.5-2-1.2-3.8-3.2-2.5-4 .1-3.7-1.5-3.8 1.4-3.9 .6-3.7 1.6-4 .3-3.7 1.6-3.5 1.8-3.9 .9-3.7 1.4-3.9 1.2-3.9-.9-4-.3-3.8-1-3.6-1.8-3.9-.9-4 .5-3.7-1.6-2.8-2.8-3.5-2-1-3.8-2.6-3-3.2-2.4-2.8-2.9 M682 2140.8l3.6-1.8 3.1-2.4 2-3.5 4-.3 3.7 1.6 2.6 3 2.9 2.7 3.3 2.4 .6 3.9 .1 4 .7 4 1.7 3.6-2.2 3.4-3.9 .2-3.4-2.1-3.8-1.4-3.2-2.5-1.8-3.5-2.3-3.3-2.4-3.1-2.7-3-2-3.5-2.4-3.2-2.5-3.1 .6-4 1.8-3.5 .9-3.9 3.9-1.1 2.6-3 2.6-3.1 3.4-2.1 4-.2 3.9-.6 4-.5 3-2.7 4-.5 1.8-3.6-.3-4-.7-3.9-1.4-3.7 .7-4 .9-3.9 1.9-3.5 3.3-2.2 3.8 1.3 3.9 .9 3.9 .7 4-.4 3.1-2.5 .4-3.9 1.7-3.7 1.2-3.8 2-3.4 2-3.5 2.1-3.4 2.4-3.2 2.6-3 3.9-.9 3.9-.8 3.9-1.2 2.9-2.8 3-2.6 1.7-3.6 .4-4-.1-4-.3-4 2.1-3.4 1.4-3.7 1.8-3.6 1.8-3.6 2.1-3.4 3.6-1.6 4-.5 3.2-2.4 3-2.6 2.8-2.9 3.2-2.3 3.9-1 3.3 2.4 3.9 .8 3.5 1.9 3.1 2.5 3.6 1.7 3.7 1.6 3.8 1.3 3.5-1.8 3.9-1.1 2.2-3.3 4-.3 3.9-.9 3.6-1.6 1.9-3.6 2.1-3.4 4 0 3.9-.7 3.7-1.5 3-2.7 3.3-2.3 3.2-2.3 3.4-2.2 1.6-3.7-1.2-3.8-.3-4 .5-4 2.8-2.9 2.2-3.3 .4-4 M863.4 2188l3.7 1.5 2.9 2.8 3 2.6 2.3 3.3 2.3 3.3 .8 3.9 2.8 2.8 3.5 1.9 4-.1 3.4 2.3 1.9 3.5 3.1 2.5 3.1 2.5 3.9 1.2 3.4 2-.4 4-.4 4 3.1 2.6 2.2 3.3 3.4 2.1 3.1 2.6 2.4 3.1 3.4 2.2 2.1 3.4 .8 3.9 .1 4 .6 4 3.4 2.2 3.7 1.4 4-.3 2.7-2.9 1.2-3.8 .8-4 1.9-3.5 .6-3.9 .2-4 1.2-3.9 1-3.8 2.5-3.2 2.9-2.7 2.2-3.3 .8-3.9 1.2-3.9-1.3-3.7-1.8-3.6-2.7-3-3.2-2.4-3.8-1.2-3.5 1.9-3.7-1.6-1.2-3.7-1.2-3.9 .8-3.9 4 .2 3.8 1.2 3.5 2 3.2 2.3 4 .8 3.9 .5 3.9 1 3.3 2.2 4-.5 4-.3 3-2.7 .2-4 1.2-3.8 M614 2446.2l-3.3-2.3-3.4-2-3-2.7-3.6-1.6-4 .5-4 .1-3.9-1-3.9 1-3.9 1-3.9 .7-3.9-.7-3.8-1.3-3.2-2.4-3.4-2.1-3.4-2.1-3.5-2-2.1-3.3-1.6-3.7-1-3.9-.6-4 .5-3.9 2.4-3.2 2.9-2.7 3.7-1.6 4-.1 4-.1 3.9-.9 1-3.8 .6-4 1.1-3.8 2.6-3.1 2.2-3.4 3.5-1.9 3.9-.9 3.7-1.5 2.3-3.2 1.9-3.5 2.9-2.8 3.3-2.3 3.7-1.6 3-2.6 1.5-3.7 2.1-3.5 .1-4-2.4-3.1-3.8-1.1-2.3-3.3-1.9-3.6-2.6-3-1.3-3.8-.2-4 .9-3.9 2.2-3.3 .3-4-2.7-3 1.8-3.6 3.9 .8 4 .2 2.8-2.9 3.1-2.5 1.3-3.8 3.7-1.7 3.7-1.3 3.4-2.1 1.7-3.6 1.5-3.7 1.6-3.7" fill="none" stroke="#c8843a" stroke-width="1.9" stroke-linecap="round" stroke-linejoin="round" stroke-dasharray="2 1.2" opacity="0.8"/>
<path d="M958.9 2389.5l-1.5 2.7-3.3 1.1-1.9 2.7-3.9 .2-2.7-2.1-3.4-1.5 .2-3.1 1.1-2.5 1.3-2.8 4 .3 3.1-.6 4.3-.1 1.4 3Z M922.1 2221.5l-3.5 3.6-1.6 3.7-3.5 1.3-3.9 1.8-4.8-.8-1.4-5.1-2.2-4.5 1.1-5 4.9-1.3 2.8-2.2 3.7-.7 4.3 .7 5.4 2.4Z M695.5 2436.4l-1 4.9-1.2 5.4-3.8 .1-2.9-1.2-3.6 .5-3.5-3.3-1.8-6.4 2.9-5.5 4.5-.2 1.6-3.3 3.2-3.9 3.8 1.7 2.6 5Z" fill="none" stroke="#bc6a2e" stroke-width="1.8" stroke-linejoin="round" opacity="0.7"/>
<ellipse cx="846.4" cy="2334.8" rx="8" ry="5.3" fill="#e8c878" opacity="0.9"/>
<ellipse cx="884.2" cy="2387.2" rx="9.5" ry="6.3" fill="#e8c878" opacity="0.9"/>
<ellipse cx="638.8" cy="2395" rx="11.2" ry="7.4" fill="#e8c878" opacity="0.9"/>
<ellipse cx="742.8" cy="2251.6" rx="8.5" ry="5.6" fill="#e8c878" opacity="0.9"/>
<circle cx="891.7" cy="2504.9" r="2.5" fill="#fff4dc"/>
<circle cx="719.9" cy="2140.3" r="2.5" fill="#fff4dc"/>
<circle cx="656.6" cy="2211.7" r="2.8" fill="#fff4dc"/>
<circle cx="784.2" cy="2162.2" r="2.3" fill="#fff4dc"/>
<circle cx="938.1" cy="2137.7" r="2.6" fill="#fff4dc"/>
<circle cx="708.6" cy="2341.9" r="2.2" fill="#fff4dc"/>
<circle cx="707.9" cy="2526.1" r="2.6" fill="#fff4dc"/>
<circle cx="1026.5" cy="2334.8" r="1.8" fill="#fff4dc"/>
<circle cx="875.8" cy="2211.2" r="3.1" fill="#fff4dc"/>
<circle cx="663.8" cy="2514.3" r="3.1" fill="#fff4dc"/>
<circle cx="996.5" cy="2281" r="3.2" fill="#fff4dc"/>
<circle cx="772.2" cy="2481.7" r="2.3" fill="#fff4dc"/>
<circle cx="817.5" cy="2359.9" r="3.1" fill="#fff4dc"/>
<circle cx="624.1" cy="2477.9" r="2.3" fill="#fff4dc"/>
<circle cx="1026.9" cy="2524.9" r="2.7" fill="#fff4dc"/>
<circle cx="843.4" cy="2270.7" r="2.1" fill="#fff4dc"/>
<circle cx="882.6" cy="2279" r="2.2" fill="#fff4dc"/>
<circle cx="944.3" cy="2294.3" r="2" fill="#fff4dc"/>
<circle cx="840.6" cy="2188.6" r="3" fill="#fff4dc"/>
<circle cx="965.4" cy="2487.8" r="3.1" fill="#fff4dc"/>
<circle cx="662.5" cy="2166.8" r="1.8" fill="#fff4dc"/>
<circle cx="707.7" cy="2250.3" r="1.9" fill="#fff4dc"/>
<circle cx="822.2" cy="2493.2" r="2" fill="#fff4dc"/>
<circle cx="865.7" cy="2325.8" r="2.8" fill="#fff4dc"/>
<circle cx="689.4" cy="2391.9" r="2.1" fill="#fff4dc"/>
<circle cx="783.4" cy="2401.7" r="2.9" fill="#fff4dc"/>
<circle cx="1012.6" cy="2452.1" r="2.3" fill="#fff4dc"/>
<circle cx="850.5" cy="2510" r="2.4" fill="#fff4dc"/>
<circle cx="806.7" cy="2395.1" r="3" fill="#fff4dc"/>
<circle cx="941.9" cy="2556.2" r="2.7" fill="#fff4dc"/>
<circle cx="985.3" cy="2395.1" r="2.8" fill="#fff4dc"/>
<circle cx="700.7" cy="2295.1" r="2.8" fill="#fff4dc"/>
<circle cx="760.1" cy="2204.2" r="2.3" fill="#fff4dc"/>
<circle cx="822.2" cy="2235.5" r="2.7" fill="#fff4dc"/>
<circle cx="924.2" cy="2345.7" r="3.2" fill="#fff4dc"/>
<circle cx="632.1" cy="2291" r="2.4" fill="#fff4dc"/>
<circle cx="862.5" cy="2452.9" r="2.8" fill="#fff4dc"/>
<circle cx="621" cy="2316.7" r="1.8" fill="#fff4dc"/>
<circle cx="891.6" cy="2174.6" r="3.1" fill="#fff4dc"/>
<circle cx="778.3" cy="2328.4" r="2.8" fill="#fff4dc"/>
<circle cx="726" cy="2488.1" r="2" fill="#fff4dc"/>
<circle cx="1025.5" cy="2181.7" r="2.5" fill="#fff4dc"/>
<circle cx="790.5" cy="2509.1" r="2.8" fill="#fff4dc"/>
<circle cx="977.2" cy="2219.5" r="2" fill="#fff4dc"/>
<circle cx="1008" cy="2200.3" r="2.4" fill="#fff4dc"/>
</g>
<clipPath id="clip6"><rect x="1058" y="2129.8" width="434" height="433.2"/></clipPath>
<g clip-path="url(#clip6)">
<rect x="1058" y="2129.8" width="434" height="433.2" fill="#441310"/>
<rect x="1058" y="2129.8" width="434" height="433.2" fill="#000" filter="url(#grain)"/>
<rect x="1058" y="2132.7" width="434" height="1.5" fill="#6a2414" opacity="0.1"/>
<rect x="1058" y="2137.7" width="434" height="2" fill="#140302" opacity="0.1"/>
<rect x="1058" y="2139.8" width="434" height="3.2" fill="#6a2414" opacity="0.1"/>
<rect x="1058" y="2146.9" width="434" height="1.6" fill="#6a2414" opacity="0.1"/>
<rect x="1058" y="2150" width="434" height="2.1" fill="#140302" opacity="0.1"/>
<rect x="1058" y="2152" width="434" height="3.6" fill="#6a2414" opacity="0.1"/>
<rect x="1058" y="2162.6" width="434" height="1.4" fill="#140302" opacity="0.1"/>
<rect x="1058" y="2182.7" width="434" height="2.7" fill="#6a2414" opacity="0.1"/>
<rect x="1058" y="2185.3" width="434" height="3.7" fill="#6a2414" opacity="0.1"/>
<rect x="1058" y="2193.3" width="434" height="3.8" fill="#6a2414" opacity="0.1"/>
<rect x="1058" y="2199.6" width="434" height="2.6" fill="#6a2414" opacity="0.1"/>
<rect x="1058" y="2202.2" width="434" height="1" fill="#140302" opacity="0.1"/>
<rect x="1058" y="2203.2" width="434" height="1.8" fill="#6a2414" opacity="0.1"/>
<rect x="1058" y="2206.8" width="434" height="2.1" fill="#140302" opacity="0.1"/>
<rect x="1058" y="2208.9" width="434" height="2.2" fill="#6a2414" opacity="0.1"/>
<rect x="1058" y="2215.4" width="434" height="3.8" fill="#140302" opacity="0.1"/>
<rect x="1058" y="2219.2" width="434" height="1.8" fill="#6a2414" opacity="0.1"/>
<rect x="1058" y="2222.3" width="434" height="1.9" fill="#140302" opacity="0.1"/>
<rect x="1058" y="2238.6" width="434" height="2.1" fill="#140302" opacity="0.1"/>
<rect x="1058" y="2248.4" width="434" height="1.1" fill="#6a2414" opacity="0.1"/>
<rect x="1058" y="2262.7" width="434" height="4" fill="#140302" opacity="0.1"/>
<rect x="1058" y="2268.6" width="434" height="1.1" fill="#6a2414" opacity="0.1"/>
<rect x="1058" y="2275.3" width="434" height="3.9" fill="#140302" opacity="0.1"/>
<rect x="1058" y="2282" width="434" height="1.7" fill="#6a2414" opacity="0.1"/>
<rect x="1058" y="2287" width="434" height="1.5" fill="#6a2414" opacity="0.1"/>
<rect x="1058" y="2288.6" width="434" height="3.1" fill="#6a2414" opacity="0.1"/>
<rect x="1058" y="2291.7" width="434" height="3.2" fill="#6a2414" opacity="0.1"/>
<rect x="1058" y="2294.9" width="434" height="1.2" fill="#140302" opacity="0.1"/>
<rect x="1058" y="2324.5" width="434" height="3.6" fill="#6a2414" opacity="0.1"/>
<rect x="1058" y="2331.3" width="434" height="2.8" fill="#140302" opacity="0.1"/>
<rect x="1058" y="2335.9" width="434" height="3.5" fill="#6a2414" opacity="0.1"/>
<rect x="1058" y="2339.4" width="434" height="1.5" fill="#140302" opacity="0.1"/>
<rect x="1058" y="2342.3" width="434" height="3.9" fill="#140302" opacity="0.1"/>
<rect x="1058" y="2353.6" width="434" height="3.5" fill="#6a2414" opacity="0.1"/>
<rect x="1058" y="2357.1" width="434" height="2.5" fill="#140302" opacity="0.1"/>
<rect x="1058" y="2365.6" width="434" height="3.5" fill="#140302" opacity="0.1"/>
<rect x="1058" y="2369" width="434" height="2.7" fill="#140302" opacity="0.1"/>
<rect x="1058" y="2380" width="434" height="1" fill="#140302" opacity="0.1"/>
<rect x="1058" y="2385.9" width="434" height="3.4" fill="#6a2414" opacity="0.1"/>
<rect x="1058" y="2393.2" width="434" height="1.7" fill="#6a2414" opacity="0.1"/>
<rect x="1058" y="2394.9" width="434" height="2.1" fill="#140302" opacity="0.1"/>
<rect x="1058" y="2402.8" width="434" height="1.5" fill="#6a2414" opacity="0.1"/>
<rect x="1058" y="2404.3" width="434" height="2.7" fill="#140302" opacity="0.1"/>
<rect x="1058" y="2407" width="434" height="2.9" fill="#140302" opacity="0.1"/>
<rect x="1058" y="2409.9" width="434" height="2.3" fill="#140302" opacity="0.1"/>
<rect x="1058" y="2417.1" width="434" height="2.6" fill="#140302" opacity="0.1"/>
<rect x="1058" y="2419.7" width="434" height="1.9" fill="#140302" opacity="0.1"/>
<rect x="1058" y="2432.7" width="434" height="3.9" fill="#140302" opacity="0.1"/>
<rect x="1058" y="2436.6" width="434" height="3.3" fill="#140302" opacity="0.1"/>
<rect x="1058" y="2439.9" width="434" height="2.3" fill="#6a2414" opacity="0.1"/>
<rect x="1058" y="2442.2" width="434" height="3.6" fill="#6a2414" opacity="0.1"/>
<rect x="1058" y="2445.8" width="434" height="1.2" fill="#6a2414" opacity="0.1"/>
<rect x="1058" y="2455.2" width="434" height="1.3" fill="#140302" opacity="0.1"/>
<rect x="1058" y="2460.4" width="434" height="2.7" fill="#140302" opacity="0.1"/>
<rect x="1058" y="2464.2" width="434" height="1.3" fill="#140302" opacity="0.1"/>
<rect x="1058" y="2478.6" width="434" height="2.5" fill="#140302" opacity="0.1"/>
<rect x="1058" y="2490.3" width="434" height="1.1" fill="#6a2414" opacity="0.1"/>
<rect x="1058" y="2491.4" width="434" height="3.6" fill="#140302" opacity="0.2"/>
<rect x="1058" y="2498.6" width="434" height="1.2" fill="#6a2414" opacity="0.1"/>
<rect x="1058" y="2508.2" width="434" height="3.2" fill="#140302" opacity="0.2"/>
<rect x="1058" y="2518.5" width="434" height="3" fill="#140302" opacity="0.1"/>
<rect x="1058" y="2523.3" width="434" height="2.7" fill="#140302" opacity="0.1"/>
<rect x="1058" y="2533.8" width="434" height="1.6" fill="#140302" opacity="0.1"/>
<rect x="1058" y="2537.1" width="434" height="4" fill="#140302" opacity="0.1"/>
<rect x="1058" y="2545.1" width="434" height="1.3" fill="#140302" opacity="0.1"/>
<rect x="1058" y="2552.2" width="434" height="2.6" fill="#140302" opacity="0.1"/>
<rect x="1058" y="2557.4" width="434" height="2.2" fill="#6a2414" opacity="0.1"/>
<rect x="1058" y="2559.6" width="434" height="1.2" fill="#140302" opacity="0.1"/>
<rect x="1058" y="2560.8" width="434" height="1.1" fill="#140302" opacity="0.2"/>
<rect x="1058" y="2561.9" width="434" height="1.8" fill="#140302" opacity="0.1"/>
<rect x="1198.6" y="2145.4" width="91.8" height="1.9" fill="#0a0101" opacity="0.45"/>
<path d="M1111 2314.3l-2.6 2.8-1.2 3.1-3.2 1.8-4.4 2.5-4.8-1.7 0-5.2-1-3.3 .5-3.5 2.8-2.4 2.8-3.1 4.3 .4 3.9 1.6 4.4 2.3Z M1195.2 2191.8l-2.6 4.2-2.3 3.7-4.1 .9-4.5 2.8-4.4-2.4-.1-5.6-3.4-3.6 0-5.2 4.1-3 4.1-2.3 4 2.7 3.7 .7 6.4 1.2Z M1462.9 2463.8l3.9 4.2-5.8 2.1-6.1-1.4-4.2 2.4-3.6-2.3-1.8-2.5-4.1-2.5 3.5-2.6 .8-3.6 4.4-3.2 5.1 4.5 3.1 1 4 1.2Z M1183.6 2450.8l1.1 4-2.6 3.3-4.3 .7-3.8-.7-1.9-3-2.7-1.4-3.8-2.9 1.3-4 3-2.9 4.1-.7 3.3 1.5 3.5 .2 2.4 2.6Z M1456.6 2214l-1.1 5.2-7.3 .2-3.1 1.8-4.6 3.4-5.3-1.8-3.8-3.8 2.1-5 2.4-3.1-.7-5.7 5.3-1.8 4.9 2.4 4.4 1.1 3.1 3.1Z M1425.7 2269.5l1.2 3.6-1.9 4-5.2 2.1-5.5-1.8-1.8-4-3.3-1.2-4.9-2.7 .5-4.2 4.1-2.9 5.5-.2 4.5 .5 4.9 .3 2.1 3.3Z M1376 2361.8l-3.1 3.9-1.7 3.5-3.1 1.8-3.1-1.3-3.3-.6-2.5-3-2-4.3 0-5.6 4.7-1.5 3.3 .5 2.7-1.5 3.4 .5 4 2.3Z M1246.9 2491.4l1.6 4.3-7.5-.1-3.2-.2-2.9 1.7-2.9-1.3-5.1-.8-.2-3.6 3.9-2.2-.3-3.8 4.3-.6 3.3 2.3 3.5-.3 1.8 2.2Z M1263.5 2342.7l-2.4 3.9-3.6 2.6-3.7 2.6-4.5-2-2.6-2.4-3.8-1.4-2.8-3.3-1.3-4.8 4.6-3.2 6.2 2.1 3.2 .1 4.2-.1 3.7 2.2Z M1177.1 2331.4l.6 3.5-1.8 3.5-3.9 2.9-5.1-.7-3.5-2.8-3-2.7-.3-3.7 1.6-3.1 1.5-3.5 3.8-2.3 5-1 4.6 2.2 .3 4.6Z M1288.4 2240.3l-.4 3.3-.8 4.6-6.4 .2-5.6 .6-7.3 .2-.8-5.3 1-3.6 1.1-3 2.7-2.5 2.5-5.8 7.5-.4 3.2 5.5 3 2.8Z M1353.3 2193.3l.6 4.2-1.9 4.2-4 1.4-4.2 1-3.5-2.9-2.5-3.5-2.1-4.4 2.9-4 2.5-2.8 2.8-3.7 4.3 0 4.5 1.2 2.1 4.5Z M1134.1 2397.9l.6 3.5-4 2.2-3.7 2.9-5.5-.4-1.1-4.9-3-1-4.4-2.3-.1-3.8 2.3-4 6.9 1.2 3.6 2.1 5.1-1.2 2.6 2.6Z M1321.2 2206.3l.1 4.8-3.9 .2-1.5 1.9-2.5 2.7-2.3-2.5-3.6-1.7 0-5.4 3.4-2.9 .4-3.9 2.4-1.1 2.3 .1 3.7-1.5 1 4.9Z M1193.7 2512.6l-2.5 4.7-3.6 .5-1.4 3.3-2.7 1.4-3.5-.4-3-3.7 1.9-5.8 .7-4 1-4.5 3.1-.1 2.6-1.1 3 1.1 1.9 3.8Z M1350.2 2449l2.9 4.8-2.7 4-4.7-.3-3.6-.3-2.8-2.1-3.1-2.2-1.7-3.9 2.9-3.2 1.4-3.5 2.7-3.9 4.4 1.1 3 2.7 .7 3.9Z M1415.5 2305.5l2 4.7-6.1 1.2-3.7 .9-4.5 2.7-3-3.6-4-2-2.1-3.9 4.3-2.9 .3-4.5 4.6-1.7 4.2 2.9 5.1-.9 2.4 3.4Z M1071.5 2155.4l.1 3.3-2.1 2.1-1.4 6.4-4.4-.9-1.1-6.1-2.9-1.3-.2-3.5 .5-3.2 .1-5.1 4.3 .9 3.1-.9 4.6-.8-.7 6Z M1465.5 2481.9l0 3.1-1.2 3.4-3.4 .6-2.9-1.1-2.8-.6-1.5-2.6-.6-2.8 .1-3 2.1-2.2 2.4-2.3 3.3-.1 2 3 1.4 2.1Z M1327.1 2279.6l-.2 2.6-2.5 1.2-1.5 3.1-3.7 2-1.8-4.1-3-1.5-2-3.3 3.5-2.5 1.4-2.3 2.8-.2 2.5-.5 5.5-2.7 1.5 4.4Z M1117.6 2558.4l3 5-5.5 1-3.2 1.1-3.7 2.3-2.6-3.4-3.8-1.9 .2-4.1 3.8-2.2-1.6-5.6 3.8-2.6 4 2.7 3.8 .7 .1 4.3Z M1164.2 2280.3l-3.1 2.9-2.7 2.1-3.2 1.9-3.7-1.9-3.3-.6-3.2-1.6-.5-2.8-1.8-3.6 4-2.3 4.8 1.1 3.2-.8 3 1.3 3.1 1.6Z M1291 2390.8l-1.3 4.2-2 3.7-3.4 .7-3.4 1.6-4.3-.4-2.5-4.5-.9-5.3 2.7-4.2 3.1-1.8 2-3.9 3.7-1.4 3.9 1.9 3.1 3.9Z M1394.6 2499.8l-2.6 2.4-2.7 1.5-2.4 2.5-3.8-1.2-3.4-.7-4.5-1.3 1-3.2 .7-2.6 2.7-1.9 3.9 .4 3.4-2 4.3 .6 1.3 3Z M1129.1 2240.9l-1.3 2.9-1.9 1.1-.9 4.5-2.5-.3-1.6-2.7-2.9-1.3 .2-4.2 1.3-3.2 1.2-2.7 2.3 1.1 1.9-2.7 3.4-1.3 .6 5Z M1110.1 2333.1l-4 3.3-.9 4.3-4 2.1-4-2.3-4.4 .1-2.2-3.6-.9-3.9-1.7-5.1 5.4-1.7 3.9-.5 3.9-2 3.1 2.8 4.1 2.1Z M1191.2 2130.1l-2 4.4-5.2 1-2.4 4-4.3-1.7-2.9-2.2-5.3-1.1 1.2-4.4-.2-4 1.5-4.7 6 2.1 3.5-.7 4.3 .3 1.1 3.8Z M1456.1 2434.5l-2 4.2-3.2 2.6-3.3 1.5-3.3-.8-5.3 1.8-4.9-3.2 2.7-6.1 2.5-3.4 2.4-2.3 2.4-2.7 4.3-3.8 3.8 3.6 1.3 4.6Z M1205.1 2432.7l-.3 3.5-.9 4.4-4.5-.7-2.9-1.1-2.4-1.2-1.6-2.2-4.6-2.7 .7-4.6 5.1-.8 2.6-1.4 2.9 .7 2.7 .9 3.9 1.2Z M1428.8 2146.7l-.6 3-1.7 2.5-3-.1-2.6 1.4-4 .4-.9-4 .7-3.2 1-2.4 1.2-2.2 1.6-4 3.6 .4 1.8 3.4 2.2 1.8Z" fill="none" stroke="#bc6a2e" stroke-width="1.8" stroke-linejoin="round" stroke-dasharray="1.6 1.2" opacity="0.7"/>
<path d="M1494.3 2449.6l-3.2 .9-3.4-.4-2.7-2.1-2.1-2.7 M1494.3 2449.6l3.4 .1 3.4-.6 2.5 2.2 1.4 3.1 .4 3.4 M1494.3 2449.6l-3.3-.7-3.3-.8-3.1-1.4-2.6-2.2 M1494.3 2449.6l2.3-2.6 2.6-2.1 M1494.3 2449.6l3-1.8 3.3 .6 3.4 0 .9 3.3-3.2 1.4 M1494.3 2449.6l3.2 1.2 2.8 2 M1392.6 2502.2l2.7 2 2.3 2.5 1.4 3.1-2 2.9 M1392.6 2502.2l-2.2-2.6-2.8-2-3.3-.6 M1392.6 2502.2l-2.3-2.5-2.9-1.8 M1392.6 2502.2l2.8-1.8 3-1.6 M1204.2 2192.3l-2.9 1.9-2.1 2.7-2.6 2.1-2.4 2.5 M1204.2 2192.3l3 1.6 1.4 3.1 M1204.2 2192.3l-1.4-3.1-1.2-3.2 .8-3.3 2.6-2.2 M1204.2 2192.3l2.4-2.3 .2-3.4-.8-3.3 2.4-2.5 2.1-2.7 M1204.2 2192.3l-.9-3.2-2.5-2.3-3.4 0-2.7 2.1 M1196.4 2401.1l.4-3.4 .2-3.4 1.5-3 .6-3.4 M1196.4 2401.1l-3 1.5-2.9 1.9-1.1 3.2-3.4 0 M1196.4 2401.1l-3.3-.7 .4-3.3 2.2-2.6 2.9-1.8 M1196.4 2401.1l.9-3.3 3.1-1.3 M1138 2394.9l.5-3.3 3.1-1.5 1.1 3.2 M1138 2394.9l-2.7-2.1-1.6-3 .2-3.4 1-3.3 2.4-2.4 M1138 2394.9l-1.4 3.2-1.8 2.9 1.4 3.1 1.9 2.8 M1138 2394.9l3-1.4 3.1 1.3 2.5 2.3 3.2 1.3 3.3 .8 M1138 2394.9l1.4-3-2.3-2.5-3.4-.4 M1496.8 2311.2l-2.9-1.7-1.5-3.1-.6-3.3 1.9-2.9 M1496.8 2311.2l-.5 3.4 .8 3.3 M1496.8 2311.2l3.3 .8 2.4-2.4-.6-3.4 M1496.8 2311.2l-1.8-2.9-.6-3.3-1.3-3.2-.4-3.3 M1496.8 2311.2l2.7 2.1 1.5 3 2.9 1.8 3 1.6 2.5 2.4 M1377.6 2296.2l3.4-.3 1.2-3.2-2.3-2.4 M1377.6 2296.2l-2.7 2-2.7-2.1-2.8-1.9-1.9-2.9 M1377.6 2296.2l3.4 .5-.3 3.4-3 1.5-3-1.7 M1377.6 2296.2l-3 1.6-1.1 3.2 M1377.6 2296.2l2.1 2.7 1.8 2.9 2.6 2.2 2.9 1.6-.6 3.4 M1377.6 2296.2l-2.2 2.6 0 3.4 M1106.1 2480.6l1.7-3 3.3-.3 3.4 0 2.4 2.5 3.3 .7 M1106.1 2480.6l3.3-.6 2.8-1.9 2.5-2.3 M1106.1 2480.6l.2-3.4-.3-3.4-3.4-.6-3.3-.6 M1106.1 2480.6l1.4 3.1 3.4 .4 3-1.6 2.2-2.6 M1480.3 2332.7l1.1-3.2-1.1-3.2 M1480.3 2332.7l.6-3.4 1.9-2.8 1.5-3 1.2-3.2 1.7-3 M1480.3 2332.7l3 1.6 3-1.7 1.3-3.1 3.1-1.4 3.3-.4 M1480.3 2332.7l-.1-3.4 2-2.7 .2-3.4 M1354.8 2399.6l2.9 1.8 3.3-.8 M1354.8 2399.6l-1.4-3.1 .6-3.3-.1-3.4 M1354.8 2399.6l-.1 3.4 1.2 3.2 2.7 2 2.8 2 M1354.8 2399.6l-3.3-.5-3.4-.3-3.2 1.3-2.8 1.9 M1354.8 2399.6l-1.6-3-3-1.6-3.1-1.3-3.4 0 M1354.8 2399.6l-2.3 2.4-3.2 1.4 M1123.8 2130l-2.8 1.9-2.9 1.7-.1 3.4 M1123.8 2130l3.2 1.3 3.4 0 M1123.8 2130l-2.4 2.5-1.7 2.9-3.2-1.1-2.7-2 M1123.8 2130l.4 3.4-.6 3.4-1.5 3-.5 3.4 M1123.8 2130l1.7 3 .7 3.3 M1123.8 2130l2.8 1.9 1.7 3-.1 3.4 .8 3.3 2.6 2.2 M1203.9 2262l3.1-1.6 3.1-1.2 2.3-2.5 M1203.9 2262l-1.2 3.1-.7 3.4-2.1 2.7 0 3.4-.3 3.4 M1203.9 2262l-2.6 2.1-2.2 2.6-1.2 3.2-1.5 3 .8 3.3 M1203.9 2262l3.3-1.1 3.2 1 3.4 .3 2.8 1.9 M1203.9 2262l-.4 3.4 .6 3.3-1.5 3.1-2.2 2.5 M1126 2451.1l3.3-.9 2.9 1.8 2.5 2.2 2.8 2 2 2.7 M1126 2451.1l1.1 3.2-.6 3.4-.4 3.4-2.2 2.5 M1126 2451.1l2.5 2.3 3.2 1.1 3.4 .2 2.2-2.6 M1126 2451.1l-2.7-2-2.5-2.3 M1244.3 2384.1l-1.8 2.9-2.6 2.2-3.2 1-3.4-.1-2.9 1.8 M1244.3 2384.1l-1.9-2.8-3.1-1.5-3.4 .1 M1244.3 2384.1l-2.6-2.2-.6-3.3 .3-3.4 M1244.3 2384.1l-3 1.5-3.1 1.4-3.4-.6-3.2-1.1-3.4-.4 M1244.3 2384.1l3.2 1.2 3.1-1.5 2.6-2.2 M1354.1 2203.9l-2.7 2.1-2.2 2.6 M1354.1 2203.9l-.9 3.2-2.1 2.7-1 3.3 2 2.7 M1354.1 2203.9l3.4-.4 1.3-3.1 2.6-2.2 M1354.1 2203.9l3.2 1.1 3.2-1.2 2.6-2.2 1.3-3.2 M1354.1 2203.9l-3.4 .5-3.4-.1-3.3 .8 M1354.1 2203.9l1.1-3.3 1.2-3.1 M1114 2352.1l2.9 1.7 2.2 2.6 2.1 2.7 .9 3.3 M1114 2352.1l.1-3.4 1.7-3-1.4-3.1-2.4-2.4 M1114 2352.1l-3 1.5-3.2-1.4-2.8-1.9-2.2-2.5-3.4 .4 M1114 2352.1l3.1-1.4 3.4-.1 3.3-.8 M1450.9 2184.6l-3.2-1.1-2.3-2.5-3-1.4-2.3 2.6 1.3 3.1 M1450.9 2184.6l3 1.6 2.6 2.2 2.7 2.1 3.3-.5 2.4-2.5 M1450.9 2184.6l.3-3.4 3-1.6 M1450.9 2184.6l1.2-3.2 2.7-2.1 3-1.6 3.3 .6 M1450.9 2184.6l.8 3.3 1.9 2.8 .1 3.4 M1307.2 2194.9l2.6 2.2 3.4-.4 .8-3.3 1.8-2.9 2.8-1.9 M1307.2 2194.9l.5 3.4-2.5 2.2 M1307.2 2194.9l3 1.6 1.6 3-.4 3.4 M1307.2 2194.9l-.6-3.3-1.5-3.1 M1307.2 2194.9l-1.9 2.8-1.1 3.2-2.1 2.7-3.4-.3-3.4-.2 M1085.6 2485l-1.2-3.2-1.6-3-3.2-1.2 M1085.6 2485l-.3-3.4 .4-3.4 M1085.6 2485l-3 1.5-2.5 2.3 M1085.6 2485l.7 3.3 1.8 2.9 2 2.7 3.3 .7 3.3 .8 M1085.6 2485l3 1.6 2.4-2.4 3-1.6 2.5-2.3 M1355.5 2447.6l3.4 0 3.1-1.6 M1355.5 2447.6l-3.3 .1-2.6 2.3-2.6 2.1-1.3 3.2 1.7 3 M1355.5 2447.6l1.3 3.1 .6 3.4-1.8 2.8-3.4-.4-2.9-1.8 M1355.5 2447.6l3.4-.1 3.3-.8 2.2-2.7-.6-3.3-.1-3.4 M1355.5 2447.6l-3.3 .8-3.2 1.1-3.1 1.2-3.2 1.4 M1355.5 2447.6l-2.1-2.7-2.6-2.2-3.1 1.4-1.9 2.8-.3 3.4 M1121.9 2295.7l-2.7-2.2-.7-3.3 1.2-3.1 .3-3.4 M1121.9 2295.7l3.1-1.3-.7-3.3-3.2-1.2 M1121.9 2295.7l-1.9-2.8-1.2-3.2-.4-3.4-.8-3.3-1.8-2.9 M1121.9 2295.7l2.9-1.7 .5-3.3-1.2-3.2-3 1.6-.6 3.4 M1405.8 2235.8l2.1 2.6 1 3.3-.6 3.3 M1405.8 2235.8l-2.4 2.5-3 1.5-3-1.7 M1405.8 2235.8l3.4 .2 2.2-2.6 2.3-2.5-2.6-2.3-3.3-.4 M1405.8 2235.8l3.3 .7 2.9 1.8 2 2.7 .3 3.4-2.8 2 M1369.1 2358.7l-.1 3.4-1.5 3.1-1.9 2.8 M1369.1 2358.7l-2.8-1.9-.7-3.3-.5-3.4 1.7-2.9 1.1-3.2 M1369.1 2358.7l-2.1-2.6 2.6-2.2 3.4 0 2.2 2.6 M1369.1 2358.7l-2.2-2.6-2-2.7 2.1-2.6 M1369.1 2358.7l-1.8 2.9-2.2 2.5-2.7 2.1 M1417.3 2361.7l.7-3.3-.5-3.4-2.9-1.8-2.9-1.7-3.4-.1 M1417.3 2361.7l3 1.6 .8 3.3 M1417.3 2361.7l3.3 .8 3.1 1.5 3.3 .8 M1417.3 2361.7l2.7-2.1 2.7-2 2.7-2.1 3.3-.9 M1240.7 2547.4l-2.5-2.2-1.9-2.9-3-1.6-2.6-2.1-3.2-1.4 M1240.7 2547.4l3.4 0 2.1-2.8 M1240.7 2547.4l-.7-3.3 .4-3.4-2.7-2.1 M1240.7 2547.4l-3.3 .6-3.4 .3-2.7-2.1-1.6-3-1.5-3.1 M1240.7 2547.4l3.4 .1 1.5 3 M1240.7 2547.4l-3.2-.9-3.4-.7 M1292.5 2391.3l2.8 2 2.1 2.7 M1292.5 2391.3l.8-3.3 1.7-3 2.1-2.6 M1292.5 2391.3l-3.3 .7-3.4-.4-3.3 .5-3.4-.3 M1292.5 2391.3l-2.6 2.1-2.7 2.2-2.9 1.7 1.4 3.2 M1292.5 2391.3l-1.2-3.2 .8-3.3 M1088 2448.5l-.3 3.3-2.6 2.1-3-1.6-2.2-2.6 M1088 2448.5l.7 3.3-1.1 3.2-3.2 1.1 M1088 2448.5l-1.8 2.8-1.1 3.2 2.3 2.5 3.3-.7 M1088 2448.5l3.3-1 2.5-2.3 .2-3.4 M1088 2448.5l3.4-.6 3.3 .9 M1088 2448.5l3.4-.4 1.5-3 M1251 2483.8l3.4 .3 3.4-.1 M1251 2483.8l.5-3.3-2.4-2.4-3-1.7-3.1-1.4-2.5 2.3 M1251 2483.8l3.4-.6 1.4-3.1-2.1-2.7-.5-3.4-2.3-2.5 M1251 2483.8l-3.3 .3-3.3 1 M1251 2483.8l2.6-2.2 3.3 .8 M1251 2483.8l1.1 3.3 3.2-1.1 2.9-1.8 M1477.1 2499.8l3.4 .3 2.9-1.8 2.3-2.5 3.1-1.3 M1477.1 2499.8l3-1.7 2.8-1.8 2.4-2.5 2.8-1.8 M1477.1 2499.8l-3.4 .1-3.4 .3 M1477.1 2499.8l2.2 2.6 3 1.7 2.3 2.5-1.2 3.2-1.6 3 M1477.1 2499.8l2.8 1.9 .3 3.4-2.8 1.9 M1249.1 2508.9l-3.3 1-3.3 .3-2.9 1.8-1 3.3 1 3.2 M1249.1 2508.9l-3.4-.1-3-1.8-3-1.5-.7-3.3 2.8-2 M1249.1 2508.9l-3.4-.1-3.4-.6-1.8-2.8 M1249.1 2508.9l2.9-1.8 .1-3.4-.9-3.3-3.4-.5-3.4-.1 M1249.1 2508.9l3.1-1.3 1.3-3.2 2.9-1.7 2.8-2 M1320 2480.9l-1.1-3.2 3.1-1.3 2.8 1.9 1.7 3 M1320 2480.9l.6-3.3 1.3-3.2 M1320 2480.9l-3.4-.6-1.8-2.9 1.8-2.9 3.4-.4 M1320 2480.9l2.8-1.8 3.3-1.1 2.9-1.8 M1320 2480.9l-3.3-.8-3.4-.5 M1320 2480.9l-1.5-3-.4-3.4 2.4-2.4 1.1-3.3 M1319.2 2285.9l-3.4 .5-3.1-1.4-3-1.7-.4-3.3 M1319.2 2285.9l-2.4-2.4-1.3-3.2-1.1-3.2 M1319.2 2285.9l2.3-2.5-1.4-3.1-3.3 .6 M1319.2 2285.9l-3.4 .6-2.8 1.9-3.2 1.2-3 1.5 M1159.5 2426l2.5 2.3 3-1.5 1.1-3.3 M1159.5 2426l-2.5 2.3-3.2-.9-1.8-3-1-3.2 M1159.5 2426l1.6 3 2.8 2 2.7-2.1 3.1-1.4 3.4 .2 M1159.5 2426l-2.9-1.8-3-1.4-3.3-.8-3.3 .9 M1159.5 2426l-2.2 2.6-2.6 2.1-3 1.5 M1170.1 2222l-3.3 .8-2.4-2.4 M1170.1 2222l-3.2-1.2-1.8-2.8-.4-3.4-.2-3.4 3-1.6 M1170.1 2222l3.4 0 2.8 1.9 M1170.1 2222l-3.4-.2-2.3 2.5-1.2 3.1-.6 3.4 M1300.9 2415.7l-3.3-.7-3 1.6-3 1.6 M1300.9 2415.7l-.3 3.4 .7 3.3-.2 3.4 M1300.9 2415.7l3 1.7 3.1 1.3 3 1.6 3.4 .6 2.8 1.9 M1300.9 2415.7l2.8 1.9 2.7 2.1 3.4-.1 2.7-2 M1300.9 2415.7l3.4-.2 3.3-.7 1.4-3.1-.5-3.4 M1196.4 2546.9l-.9-3.3-3.1-1.3-1.8 2.9 M1196.4 2546.9l-.1 3.4-1.5 3 M1196.4 2546.9l2.6 2.2 1.3 3.1 M1196.4 2546.9l.6-3.4-1-3.2 M1196.4 2546.9l-.8 3.3-3.2 1.1 M1196.4 2546.9l-3-1.8-2.2 2.6 M1465.1 2245.4l-.3-3.4-3.4 .1-2.9 1.7 M1465.1 2245.4l2.3-2.6 3.4-.2-.6 3.4-3 1.6 M1465.1 2245.4l-.9-3.3-.9-3.3-1.8-2.9-1.1-3.2 M1465.1 2245.4l-1.3-3.2-2.4-2.4-1.8-2.8-2-2.8-3.4-.5 M1312.7 2337.7l-2.2-2.5-1.6-3 M1312.7 2337.7l3-1.6 2.9-1.8 1.3-3.2-.3-3.4 M1312.7 2337.7l-.2 3.4 0 3.4 M1312.7 2337.7l3.4 .5 2.1 2.6 2.2 2.6 M1415.1 2566.4l3.4-.5 3.3 1 2.8 1.8 M1415.1 2566.4l2.1 2.7 3.4 .4 3.1 1.2 3.4 .1 M1415.1 2566.4l-2.3 2.4-3.1 1.4 M1415.1 2566.4l-1.7 2.9 1.4 3.1 3.3 .9 2.4-2.4 1.2-3.2 M1415.1 2566.4l3-1.8 1.5-3-2-2.8 M1415.1 2566.4l-2.9 1.6-2.7 2.1 M1189.7 2494l2.6 2.2 1.1 3.2-1.1 3.2-2.5 2.4 M1189.7 2494l3.4 0 3.3 .9 .2 3.4-2.9 1.8-2.5-2.4 M1189.7 2494l-3.1 1.3-3.1 1.4 1.3 3.1 3 1.6 M1189.7 2494l3.4-.2 1.5 3.1-.6 3.3 M1189.7 2494l3.4-.8 2.4-2.3 3.4 .7 1.7 2.9 M1495.2 2142.5l3.2 1 3.3 .9 M1495.2 2142.5l3.3-.6 2.6-2.3 M1495.2 2142.5l2 2.8 3-1.5 2.7-2 M1495.2 2142.5l1.6-3 1.7-2.9 M1301.8 2520l1.3-3.1-1.4-3.1 M1301.8 2520l-3.3-.8-2.3 2.5 .2 3.4 M1301.8 2520l.3 3.4-.1 3.4 .6 3.4 M1301.8 2520l.6 3.4 1.3 3.1 2.4 2.5 M1288.4 2367.3l-2.7-2-3.3-.7 M1288.4 2367.3l-2-2.7-.5-3.4 M1288.4 2367.3l1.1-3.2 1.9-2.8 2.1-2.7 M1288.4 2367.3l3.4-.5 2.7-2 2.7-2-1-3.3-1.1-3.2 M1288.4 2367.3l-1.8-2.8-1.9-2.8-2.1-2.7 M1073.3 2538.4l-2-2.8-2.1-2.6-3.4 .2 M1073.3 2538.4l2-2.8 2.3-2.4 M1073.3 2538.4l3.2 1.1 1.9 2.8 2.4 2.5 M1073.3 2538.4l-1.7 2.9 .8 3.4-1.8 2.8-1.8 2.9-1.9 2.8 M1073.3 2538.4l-.4 3.4-.2 3.4 M1366.9 2251.4l3.1 1.5 3.4 .4 3.2-.8 2.8-2 M1366.9 2251.4l-2.6 2.1-3.2 1.2-3.3 .6 M1366.9 2251.4l-2.8-1.9-3.3-.9-1.8-2.9 M1366.9 2251.4l.5 3.3-.5 3.4-.1 3.4-.4 3.4 M1297.5 2256.6l0-3.4 .7-3.3 .6-3.4 2.4-2.4 2.7-2.1 M1297.5 2256.6l.2 3.4-.2 3.4 .8 3.3 M1297.5 2256.6l3.4-.3 2.9-1.7 1.7-3-1.1-3.2 M1297.5 2256.6l-2.8-1.9-3-1.6 M1173.3 2331.1l-1.6-3-.4-3.4 1.3-3.1 M1173.3 2331.1l1.7 2.9-2.4 2.4 M1173.3 2331.1l-2.9 1.8-3 1.6-2.8-2 1-3.2 M1173.3 2331.1l3.1-1.4 2.8 1.9 3 1.5 M1173.3 2331.1l-2.5 2.2-3.4-.7 M1339.4 2271.6l.3-3.4-.8-3.3-3.4 .1 M1339.4 2271.6l3.1-1.4 2.3 2.4 M1339.4 2271.6l-3.3 .8-2.6 2.2-.9 3.3 M1339.4 2271.6l.9-3.3 1.6-3 2-2.7-1-3.3 M1339.4 2271.6l-2.4 2.4-.7 3.3 M1253.5 2314.9l3.4-.1 3.1 1.3-.5 3.3-2.6 2.2-3.4-.6 M1253.5 2314.9l-.1 3.4 3.1 1.3 3.4-.6 .1-3.4-1.9-2.8 M1253.5 2314.9l-2.9-1.8-2.3-2.4 M1253.5 2314.9l1.9 2.8 2 2.8 1.3 3.1 2.4 2.5 M1253.5 2314.9l3.1-1.4 3.3-.7 3.2 1.2 M1159.1 2241.3l-3.3 .9-3.4 .4-2 2.8 .7 3.3 0 3.4 M1159.1 2241.3l-.1 3.4 1.1 3.2 3.2 1.3 2.3 2.5 2 2.7 M1159.1 2241.3l-3.4 .2-3.2-1.2-3.4-.5 M1159.1 2241.3l-2.3-2.6 2-2.7 3.4-.6 2.8 2 M1159.1 2241.3l3.1-1.4 3.3-.8 M1123.1 2178.4l-2.4 2.4 1.5 3.1 1.6 3 M1123.1 2178.4l3.4 .4 3.4 0 2.3-2.5 M1123.1 2178.4l-3-1.5-3.3 1-2.3 2.5-3.3-.8 M1123.1 2178.4l.8-3.3 1.8-2.9 2.9-1.7 M1222.7 2129.6l-.7-3.3-.5-3.4-1.7-2.9 .6-3.3-1.2-3.2 M1222.7 2129.6l.8 3.3 1.8 2.9 3.2 1.2 2.1 2.6 3.3 1 M1222.7 2129.6l.6-3.3-2.5-2.3-2.5-2.2-3.4 .4 M1222.7 2129.6l-1.3 3.2-2.8 2-3.4 .2 M1222.7 2129.6l.5 3.4-1.6 3-3.2-1.1-3.4 .4 M1054.3 2311.3l-3.3 .6-3.4-.2 M1054.3 2311.3l1.1 3.3-1.8 2.9-1.1 3.2-2.7 2 M1054.3 2311.3l-3 1.6-3.4-.5-3.3 .6-3.3 1-3.1-1.3 M1054.3 2311.3l3.4 .5 3.1-1.3 1.6 3 M1054.3 2311.3l-2.7 2.1-3.1-1.2-.7-3.4 2.7-2 M1054.3 2311.3l3.2-1.2 2.4-2.4 2.6-2.1 M1207.2 2462.8l-3.3-.3-3.2-1.2-3.4-.5-3.3 .5 M1207.2 2462.8l-3.2-1-1-3.2 .8-3.3 .8-3.3 M1207.2 2462.8l-1.8 2.9-3.4-.2-2.8 1.8 M1207.2 2462.8l2 2.8-.3 3.4 2.4 2.3 3.4 .4 3.1 1.4 M1207.2 2462.8l3.4 .4 2.4 2.4 3.1 1.4 M1207.2 2462.8l3.3 .9 3.4 0 3.4-.1 2.8-1.9 M1251.8 2207.6l-3.1-1.3-.6-3.3 2.9-1.7 M1251.8 2207.6l-1.2-3.2-.2-3.4 .3-3.4 3.4 .5 M1251.8 2207.6l3.4-.7 2-2.7 M1251.8 2207.6l-.6 3.3-2.8 2-3.1 1.3-2.4-2.4 M1251.8 2207.6l-.9 3.2-2.4 2.4 M1251.8 2207.6l-3.1-1.4-3.4 0-3.2 1-3.1-1.5 M1433.5 2152.7l-3-1.6 1-3.3-.8-3.3-1.8-2.8-2.6-2.3 M1433.5 2152.7l3.1 1.2 3.3-1 1.9-2.8-.8-3.3 M1433.5 2152.7l-1.8-2.9-2.1-2.7 M1433.5 2152.7l-.5 3.4 3.1 1.2 M1433.5 2152.7l3.3 .5 3.4-.7 2.6-2.2 1.7-2.9 M1433.5 2152.7l-3.4 .7-3.3-.8 M1411.5 2398.8l0 3.4 0 3.4-3.1 1.4-3.4-.7 M1411.5 2398.8l.7-3.3-.1-3.4 M1411.5 2398.8l3.4-.3 2.8-1.9 M1411.5 2398.8l-1.5 3.1 0 3.4 2 2.7 2.1 2.7 M1411.5 2398.8l3.4-.5 2.4-2.4 .1-3.4-1.6-3-2.6-2.1 M1156.8 2302.5l-3.3-.6-2.7 2.1-1.4 3.1 1 3.2 M1156.8 2302.5l-3.3-.5-3-1.6 M1156.8 2302.5l-.4 3.4-2.9 1.7-3.4 .8 M1156.8 2302.5l-1.1-3.2 1.1-3.2 3.2-1.1 M1156.8 2302.5l-1.3 3.1-2.9 1.8 M1401.1 2468.8l-3.2 1.1-3.4-.2-3.1 1.5-3.4-.4-3.4-.1 M1401.1 2468.8l-1.3-3.1-3.4-.1-3.4 .4-3 1.5 .3 3.4 M1401.1 2468.8l2.9-1.7 3.1 1.6-.1 3.4 M1401.1 2468.8l-.7 3.4-2.6 2.1-1.1 3.2-2.5 2.3 M1401.1 2468.8l-2-2.7 .1-3.4 .3-3.4 M1401.1 2468.8l-2.2 2.6-2.4 2.4 .7 3.4 2.4 2.3 M1346.3 2147.3l3.3-1 1.1-3.2-.1-3.4-1.8-2.9-3.3-.9 M1346.3 2147.3l2.6 2.2 2.8 1.9 3.4 .7 3.3-.6 M1346.3 2147.3l-2.9-1.6-3.4-.5 M1346.3 2147.3l-2.6-2.2-1.9-2.8-1.8-2.9 M1346.3 2147.3l-2.5-2.3-3.4-.2-2.5 2.2-3.4 .5 M1346.3 2147.3l-3.2 1.1-2.5 2.3 .9 3.3 1.7 2.9 M1278.4 2533.7l3.2 1.1 3.4-.3 M1278.4 2533.7l2.7 2.1 3.4-.5 2.4-2.4 .7-3.3-1.7-3 M1278.4 2533.7l-3.1 1.4-3.3-1-3.4-.2-1.7-2.9 M1278.4 2533.7l3-1.5 3.3-.8 3.3-.9 M1126.2 2565l-3.4 .1-3.4 0-2.2 2.5 M1126.2 2565l-3.4-.1-1.7-2.9 M1126.2 2565l.4 3.4-2.3 2.5 M1126.2 2565l3.2-1.3 2.7-2 0-3.4 M1126.2 2565l-.3 3.4-2.1 2.7-1.6 3 M1126.2 2565l3.2 1.4 1.9 2.8 .9 3.3 .8 3.3 M1472.5 2537.8l-.3-3.4 1.1-3.2 3.1-1.4 1.9-2.9 M1472.5 2537.8l1.9-2.9 3.4 .4 2.6 2.2 1.4 3.1 M1472.5 2537.8l1-3.3 2.3-2.5 1.5-3 2.6-2.3 2.9-1.7 M1472.5 2537.8l.3-3.4 .2-3.4-3.3-.7 M1379.5 2162l-3.4 0-3.4 .5-2.9-1.9 M1379.5 2162l2.8 1.9 3.2 1.1 3.2 1 M1379.5 2162l2.1 2.7 1.2 3.1 M1379.5 2162l-1.9-2.8-.2-3.4 1.1-3.3 3.3 .7 M1379.5 2162l3.3 .6 3.3-1 M1153.2 2170l3.2-1.2 2.1 2.7 M1153.2 2170l3.4 0 3.2-1.3 3.2-1.1 M1153.2 2170l3.4 .2 3.4-.6 3.3-.9 3.2-.9 M1153.2 2170l-3-1.5-3.3-.8 M1447.6 2495.9l-3.2 1.2-3 1.7-3.3 .7 M1447.6 2495.9l3.3 .9 1.4 3.1-.4 3.3-2.4 2.4-3.4 .6 M1447.6 2495.9l3.4-.4 3.2 1.3 .9 3.2 1.2 3.2 M1447.6 2495.9l-3.3 .6-3.4 .2-2.7 2.1-1.4 3.1 M1447.6 2495.9l-.5 3.4 1.4 3.1 2.1 2.7 M1069.1 2379.6l1.9 2.9 3.1 1.3 3.4 0 3-1.5 3.2-1.2 M1069.1 2379.6l2.7 2.1 2.5-2.3-3-1.6-3.4-.2-3.2-1.2 M1069.1 2379.6l2-2.8 1.1-3.2-1.6-3-.6-3.4 M1069.1 2379.6l-.7 3.3-1.3 3.2-2.4 2.3-2.7 2.2-2.7 2 M1140.8 2231.4l-1 3.3-.2 3.4-2 2.7 .5 3.4-.1 3.4 M1140.8 2231.4l-2.5 2.3-3.4 .1-3.4-.4-3.1 1.4 M1140.8 2231.4l-3.3-.5-.3-3.4 1.2-3.2 M1140.8 2231.4l-.8-3.2-.8-3.4 1.5-3 M1140.8 2231.4l3.4 .6 .7 3.3-2.5 2.3 M1140.8 2231.4l-2.3 2.5-.5 3.4-1.7 3 .9 3.2 M1220.4 2327.9l3.3-.6 .9-3.3 3.4 .6 3.3 .5 2.7-2 M1220.4 2327.9l-2.9 1.8-3.2 1 M1220.4 2327.9l1.7 2.9-.3 3.4 M1220.4 2327.9l2.1-2.7 2.9-1.7 2.4-2.5 3.4 0 M1220.4 2327.9l-1.6 3-2.6 2.1-2.3 2.5-2.1 2.7 2.5 2.3 M1361.1 2557.8l-3.4 .3-2.6-2.2-1.1-3.2-.7-3.4-2.8-1.9 M1361.1 2557.8l2.3-2.5 3.3-.5 M1361.1 2557.8l1 3.3 2.5 2.2 1.7 3 M1361.1 2557.8l.1 3.4-.8 3.3-2.6 2.3-2.4 2.3-3.2 1.4 M1361.1 2557.8l-2.8-2-3 1.6 M1361.1 2557.8l3.1-1.3 .8-3.3 M1409.8 2293.9l.4 3.3 3.4 .2 M1409.8 2293.9l-.8 3.3-2.8 1.9-2.1 2.7 .5 3.3 M1409.8 2293.9l.1-3.4-.7-3.4-2-2.7-3-1.6 M1409.8 2293.9l2.5 2.2 2 2.8 1.2 3.2 2.3 2.5 M1223.3 2285.3l.5 3.3 2.7 2.1 3.3 .6 M1223.3 2285.3l3.4 0 1.5-3.1 2.4-2.3 1.5-3.1 M1223.3 2285.3l.5 3.3-1.3 3.1-.9 3.4 M1223.3 2285.3l1-3.3 2.9-1.7 3.3 .7-1.1 3.2 M1442.5 2221.7l2.6-2.2 3-1.6 2.4-2.4 3.4-.7 1.9 2.8 M1442.5 2221.7l3 1.5-.6 3.3-2.7 2-1.9-2.9 2.4-2.5 M1442.5 2221.7l-2.3 2.5-2.6 2.2 M1442.5 2221.7l-1.6-3-2.5-2.4-1.8-2.8-3-1.5-3.4 0 M1054.4 2192.8l-3.4 .6-2.8-1.9-2.7-2 M1054.4 2192.8l3.3 .7 2.7 2.1 M1054.4 2192.8l0 3.4 .6 3.4 .6 3.3 1 3.3-2.5 2.2 M1054.4 2192.8l-1.5 3.1-3.4 .5-1.2-3.2 M1054.4 2192.8l.7 3.4 .6 3.3-1.5 3-3 1.6-.7 3.3 M1054.4 2192.8l1.8 2.9 3.4-.6 2.8-1.9 2.4-2.5 2-2.7 M1466.7 2402.1l0-3.4 .6-3.4 2.8-1.9 3.3-.9 2.3-2.5 M1466.7 2402.1l-3.3 .2-2.9 1.9-2.8 1.9 M1466.7 2402.1l-3.3-.6-1.8-2.9-2.1-2.7 M1466.7 2402.1l-.6-3.4-1.7-2.9-3.2-1.1 M1466.7 2402.1l-3.1 1.1-3.4 .2-2.7 2.1-2.2 2.6-3.4-.2 M1466.7 2402.1l3.3-1 2.6-2.2-1.9-2.8-1.5-3 0-3.4" fill="none" stroke="#d8a444" stroke-width="3" stroke-linecap="round" stroke-linejoin="round" opacity="0.92"/>
<circle cx="1401.1" cy="2231.5" r="1.8" fill="#fff4dc"/>
<circle cx="1208.2" cy="2297.5" r="2.2" fill="#fff4dc"/>
<circle cx="1467.8" cy="2356.8" r="2" fill="#fff4dc"/>
<circle cx="1228.4" cy="2419.6" r="2.1" fill="#fff4dc"/>
<circle cx="1386.3" cy="2329.9" r="2.2" fill="#fff4dc"/>
<circle cx="1094.5" cy="2145.8" r="2.5" fill="#fff4dc"/>
</g>
<clipPath id="clip7"><rect x="1502.7" y="2129.8" width="434" height="433.2"/></clipPath>
<g clip-path="url(#clip7)">
<rect x="1502.7" y="2129.8" width="434" height="433.2" fill="#46140f"/>
<rect x="1502.7" y="2129.8" width="434" height="433.2" fill="#000" filter="url(#grain)"/>
<rect x="1502.7" y="2137.9" width="434" height="2.6" fill="#6a2414" opacity="0.1"/>
<rect x="1502.7" y="2151.1" width="434" height="3.1" fill="#6a2414" opacity="0.1"/>
<rect x="1502.7" y="2164.6" width="434" height="3.8" fill="#6a2414" opacity="0.1"/>
<rect x="1502.7" y="2172.3" width="434" height="2.7" fill="#140302" opacity="0.1"/>
<rect x="1502.7" y="2175" width="434" height="1.9" fill="#6a2414" opacity="0.1"/>
<rect x="1502.7" y="2176.9" width="434" height="3.3" fill="#6a2414" opacity="0.1"/>
<rect x="1502.7" y="2184.6" width="434" height="1.7" fill="#140302" opacity="0.2"/>
<rect x="1502.7" y="2192.5" width="434" height="2" fill="#6a2414" opacity="0.1"/>
<rect x="1502.7" y="2199" width="434" height="3.4" fill="#140302" opacity="0.1"/>
<rect x="1502.7" y="2202.4" width="434" height="1.2" fill="#6a2414" opacity="0.1"/>
<rect x="1502.7" y="2221.8" width="434" height="2.2" fill="#6a2414" opacity="0.1"/>
<rect x="1502.7" y="2228.1" width="434" height="2.3" fill="#140302" opacity="0.1"/>
<rect x="1502.7" y="2230.4" width="434" height="3.6" fill="#140302" opacity="0.1"/>
<rect x="1502.7" y="2237.3" width="434" height="3.2" fill="#140302" opacity="0.1"/>
<rect x="1502.7" y="2243.2" width="434" height="2.7" fill="#140302" opacity="0.1"/>
<rect x="1502.7" y="2245.9" width="434" height="2.7" fill="#6a2414" opacity="0.1"/>
<rect x="1502.7" y="2251.8" width="434" height="2.3" fill="#6a2414" opacity="0.1"/>
<rect x="1502.7" y="2257" width="434" height="1.7" fill="#140302" opacity="0.1"/>
<rect x="1502.7" y="2264.4" width="434" height="2.2" fill="#140302" opacity="0.1"/>
<rect x="1502.7" y="2273.3" width="434" height="3.7" fill="#6a2414" opacity="0.1"/>
<rect x="1502.7" y="2278.3" width="434" height="1.7" fill="#6a2414" opacity="0.1"/>
<rect x="1502.7" y="2281.4" width="434" height="3" fill="#140302" opacity="0.1"/>
<rect x="1502.7" y="2284.4" width="434" height="2" fill="#6a2414" opacity="0.1"/>
<rect x="1502.7" y="2286.4" width="434" height="2.6" fill="#6a2414" opacity="0.1"/>
<rect x="1502.7" y="2289" width="434" height="1.9" fill="#6a2414" opacity="0.1"/>
<rect x="1502.7" y="2297.8" width="434" height="1.2" fill="#140302" opacity="0.1"/>
<rect x="1502.7" y="2306.5" width="434" height="2.5" fill="#140302" opacity="0.1"/>
<rect x="1502.7" y="2309" width="434" height="2.5" fill="#140302" opacity="0.1"/>
<rect x="1502.7" y="2311.5" width="434" height="1.8" fill="#6a2414" opacity="0.1"/>
<rect x="1502.7" y="2313.3" width="434" height="3.9" fill="#140302" opacity="0.1"/>
<rect x="1502.7" y="2319.3" width="434" height="3.4" fill="#6a2414" opacity="0.1"/>
<rect x="1502.7" y="2322.7" width="434" height="3.7" fill="#140302" opacity="0.1"/>
<rect x="1502.7" y="2329.2" width="434" height="1.8" fill="#140302" opacity="0.1"/>
<rect x="1502.7" y="2331" width="434" height="2.7" fill="#140302" opacity="0.1"/>
<rect x="1502.7" y="2333.7" width="434" height="1.7" fill="#140302" opacity="0.1"/>
<rect x="1502.7" y="2335.4" width="434" height="1.4" fill="#140302" opacity="0.1"/>
<rect x="1502.7" y="2336.8" width="434" height="1" fill="#140302" opacity="0.1"/>
<rect x="1502.7" y="2337.8" width="434" height="1.7" fill="#140302" opacity="0.1"/>
<rect x="1502.7" y="2344.8" width="434" height="3.9" fill="#140302" opacity="0.1"/>
<rect x="1502.7" y="2361" width="434" height="1.1" fill="#140302" opacity="0.1"/>
<rect x="1502.7" y="2362.1" width="434" height="2.5" fill="#140302" opacity="0.1"/>
<rect x="1502.7" y="2364.6" width="434" height="1.5" fill="#140302" opacity="0.1"/>
<rect x="1502.7" y="2366" width="434" height="2.5" fill="#6a2414" opacity="0.1"/>
<rect x="1502.7" y="2373.1" width="434" height="1.6" fill="#6a2414" opacity="0.1"/>
<rect x="1502.7" y="2374.7" width="434" height="3.8" fill="#140302" opacity="0.1"/>
<rect x="1502.7" y="2386.3" width="434" height="1.2" fill="#140302" opacity="0.1"/>
<rect x="1502.7" y="2387.5" width="434" height="1.7" fill="#140302" opacity="0.1"/>
<rect x="1502.7" y="2391" width="434" height="3.9" fill="#6a2414" opacity="0.1"/>
<rect x="1502.7" y="2394.9" width="434" height="3.3" fill="#6a2414" opacity="0.1"/>
<rect x="1502.7" y="2399.7" width="434" height="3.7" fill="#140302" opacity="0.1"/>
<rect x="1502.7" y="2407.3" width="434" height="1.4" fill="#140302" opacity="0.1"/>
<rect x="1502.7" y="2408.7" width="434" height="3.2" fill="#6a2414" opacity="0.1"/>
<rect x="1502.7" y="2412" width="434" height="3.5" fill="#6a2414" opacity="0.1"/>
<rect x="1502.7" y="2431.5" width="434" height="1.5" fill="#140302" opacity="0.1"/>
<rect x="1502.7" y="2434.1" width="434" height="3.3" fill="#6a2414" opacity="0.1"/>
<rect x="1502.7" y="2439.1" width="434" height="1.4" fill="#140302" opacity="0.1"/>
<rect x="1502.7" y="2445.7" width="434" height="1.3" fill="#6a2414" opacity="0.1"/>
<rect x="1502.7" y="2469.8" width="434" height="1.6" fill="#6a2414" opacity="0.1"/>
<rect x="1502.7" y="2472.8" width="434" height="2.4" fill="#140302" opacity="0.2"/>
<rect x="1502.7" y="2478.5" width="434" height="3.8" fill="#6a2414" opacity="0.1"/>
<rect x="1502.7" y="2482.3" width="434" height="2.8" fill="#140302" opacity="0.1"/>
<rect x="1502.7" y="2488.6" width="434" height="2" fill="#140302" opacity="0.1"/>
<rect x="1502.7" y="2494.5" width="434" height="3.8" fill="#6a2414" opacity="0.1"/>
<rect x="1502.7" y="2498.4" width="434" height="1.2" fill="#6a2414" opacity="0.1"/>
<rect x="1502.7" y="2506.5" width="434" height="1.5" fill="#140302" opacity="0.1"/>
<rect x="1502.7" y="2521.2" width="434" height="3" fill="#140302" opacity="0.1"/>
<rect x="1502.7" y="2531.1" width="434" height="2.2" fill="#140302" opacity="0.1"/>
<rect x="1502.7" y="2535.7" width="434" height="2.6" fill="#6a2414" opacity="0.1"/>
<rect x="1502.7" y="2540.1" width="434" height="2.3" fill="#140302" opacity="0.1"/>
<rect x="1502.7" y="2551" width="434" height="1.4" fill="#140302" opacity="0.1"/>
<rect x="1502.7" y="2552.4" width="434" height="1.9" fill="#6a2414" opacity="0.1"/>
<rect x="1502.7" y="2554.3" width="434" height="3.8" fill="#6a2414" opacity="0.1"/>
<rect x="1502.7" y="2562.5" width="434" height="2.5" fill="#6a2414" opacity="0.1"/>
<rect x="1673.9" y="2389.9" width="69.2" height="2.3" fill="#0a0101" opacity="0.45"/>
<rect x="1483.4" y="2258" width="118" height="2.5" fill="#0a0101" opacity="0.45"/>
<rect x="1495" y="2184.3" width="117.1" height="2.3" fill="#0a0101" opacity="0.45"/>
<path d="M1925.9 2138.9l-1.6 2.9-3 1.8-3.3 .2-3.1 1-4.1-.1-.8-3.3 .5-2.5-.8-2.7 1.4-2.8 3.4-1.9 3.7 1.6 1.6 2.5 3.4 .7Z M1621.7 2352.2l-3 5-2.8 2.6-2.4 2.9-3.2-.2-4.2 .8-3.2-4.5 1.5-6.6 .6-5 2.4-3.6 3-1.2 3.4-2.8 3.2 2.9 2.4 4.2Z M1659.3 2528.8l-2.2 3.5-2.7 3-3.8 3.4-5.6-.8-5.7-.9-4.7-3.3 2.2-4.9 1.8-3.4 2.6-2.9 4-2.1 5.8-2.9 5.7 2.6 1.2 4.9Z M1560.6 2450.6l-.8 2.9-1.9 1.4-1.3 3.1-2.4-.6-1.9-1.6-3.1-1.2 .4-4 1.6-2.7 1.2-2.2 2.1 .1 2.1-2.5 3.1-.2 .4 4.4Z M1723.2 2252l-3.7 3.7-.7 4.8-2.9 3-3.4-1.1-5.3 2-2.2-6.1 1.9-6.3 .2-4.9 3.3-1.8 2.1-3.7 4.1-5.2 3.1 5.5 2.5 4.5Z M1720.6 2500.1l.6 3.6-4.7 .9-3.2-.4-3.1 3.1-3.5-1.4-3.1-2.3-1.6-3.5 4.6-2.3 1.1-2.5 2.6-2.4 3.3 1.8 4.1-.5 3.1 2.4Z M1904.5 2257l2 3.7-1.7 4-4 2.4-5 1-1.7-5.8-2.6-2.1-5-3.2 3.5-3.9 2.8-2.9 3.6-1.9 3.9 .9 5.9-1.6 2 4.9Z M1709.2 2200.2l-.5 4-4.8 1.9-4.6-.6-4 2.7-5.5-.5-3.6-3.3-1.9-4.2 4.8-3.1 3.2-2.1 2.9-3 4.7 .9 4.9 .5 4.9 2.4Z M1684.2 2218l-5 2.8-1 3.1-2.5 2.7-4 3.2-5.7-.3 1-7.6 .9-3.9-1.5-4.3 2.7-2.9 2.8-3.3 4.2 .2 2.8 3.3 5.3 1.4Z M1705.4 2362.6l-.4 5.2-1.8 5.3-4.8-.5-3.5-.4-4.8 .8-3-4.5-.6-5.9 2.6-4.7 3.3-2.1 2.1-5.3 4.6-1.7 3.3 4.6 2.4 4.1Z M1836.4 2543.3l-2 4.1-2 3.6-3.8 .1-3.7 2.6-5.1-.1 .5-6.6 0-3.7-.6-4.1 2-3.6 2.9-4.6 4.4 2.3 1.8 4.5 4.5 .9Z M1604.4 2545.5l-3.2 4.1-6 1.6-4.4 1.9-5.5 .4-6.1-.7-3.6-3.4 1.8-3.9-.9-3.6 1.9-4.3 6.7-.8 5.7 1 4 2.2 4.2 2.1Z M1822.5 2370.6l-2.4 2.7-.4 3.9-4.9 1.7-4.7-2.7-3.3-1.1-1.8-2.2-2.8-2.3-2.7-4.1 5.7-1.7 4.8-.1 4.2-.7 3 2.2 3.6 1.5Z M1881.9 2492.3l.5 3.2-1.7 3-2.9 2.4-3.4-1.9-1.5-2.9-3.7-.6-2-3.2 1.7-3.5 2.5-2.3 3.2 .1 2.8-1.3 3.9-.1 .6 4Z M1789.9 2404.1l1.2 4.2-3 2.5-3.8-1.4-2.3 .6-2.9-.3-2-2.4-1.2-3.2 1.8-2.9 1.4-2.7 2.3-3 3.2 2 1.7 2.4 2 1.5Z M1524.1 2274.4l-2.5 2.3-3.7 .3-1.4 1.8-3.1 1.1-4.4 .2-2.8-2.5 3.7-3.2 .9-1.6-.2-2.7 2.9-1.1 3.5-.8 2.8 1.7 1.4 2.3Z M1553.8 2321.3l-1.4 2.9-3.5 .9-1.9 2.8-3.7 .8-3-2.2-2.6-2.1 1-3.1 .4-2.5 .4-3.6 4-.2 3.4 .3 3.5 .5 1.5 2.8Z M1930.7 2331.3l-2.5 2.8 .1 4.7-4.5 3.3-5.9-1.4-4.9-1.9-2.4-3.8-1-3.7 0-4.2 4.7-2 3.9-2.1 5.6-2.6 5.3 2.6 2.7 4.1Z M1558.5 2142.8l0 4.9-3.9 .8-2.1 .4-2.1 .6-2.2-.7-2.5-2 .6-4 .7-3.2 .2-4.7 2.9-.8 2.4 2.2 1.6 1.8 1.2 2Z M1783.4 2280.3l-3.6 3.8-6.9 .5-3 2.2-5.1 1.5-6-.8-3.9-3.2 2.8-4 .3-3 .6-4.3 6.3-.4 5.1 .9 4.4 1.3 3.9 2.2Z M1806.4 2159.1l1 4.5-3.1 4-5.2 1.6-4.6-2.9-3.1-1.8-3.9-1.7-.7-3.7-.3-4.1 2.3-4.1 5.1-1.3 5 .1 2.9 3.5 .7 3.3Z M1645.8 2197.4l-.2 4.6-5.1 2.4-4.2 3.4-5.5-2-3.5-2.6-4.9-1.8 1.1-4-.7-4 1-5.3 6.8 .2 5.3 .2 4.1 2.3 .5 3.8Z M1615.3 2440.2l-1.8 3.8-3.2 2.2-2.4 4.9-5-.1-3.1-3.9-3.6-2.5 0-4.4 .7-4 1.7-4.4 5 .4 3.9-1 5.3-.1 1.6 4.9Z M1754.1 2463.1l2.3 5-3 2.3-2.8-.3-2.2 .8-1-3.7-2.7-.5-2.5-3.6 2.8-3.3 .9-3.6 2.4-1.6 2.2 2.5 2.7-.8 .8 3.5Z M1920.8 2406.8l-.8 3-1.5 2.6-2.6 2.1-4 3.1-3.3-3.3-.3-4.5-1.6-3 1.5-3 1.5-2.9 2.6-3.1 3.6 1.4 3.9 .4 3.1 2.9Z M1914.3 2155.8l-3.1 3-1.4 1.9-1.2 3.6-2.5-.3-3.3 .6-1.5-4.3 2-4.5-.8-3.5 1.5-2.9 2.3-.7 2.5-2.7 2 3 1.7 3Z M1673.1 2383.4l.2 4.2-2.7 3.2-4.1-.5-3.1 1.1-3.3-1.3-.5-3.9-1.7-2.8-.1-3.8 1.7-3.7 3.4-2.9 3.6 3.4 1.7 2.8 3.4 .8Z M1677.4 2534.9l-3.1 3.7-2.8 1.9-2.3 2.3-3.1 .4-4.4 .4-1.9-4.3 2.2-4.4-.7-3.6 1.4-3.7 3.3-1.4 3.5-.6 2.3 3.3 2.6 2.3Z M1512.5 2405.5l-.9 2.9-1.2 2.7-2.1 .4-2.1 1.3-2.3-1-1.5-2.9-1.5-3.4 1.7-3.4 2.4-1 1.4-1.9 2-.5 2.6 .1 2.4 2.4Z M1722.1 2244.4l-.5 4-2 3.3-2.4 4-4 .1-2.7-3.8-1.3-3.9 .3-3.7-.5-3.9 .5-5.3 3.7-1.8 3.8 .8 2.8 2.6 1.1 4Z" fill="none" stroke="#bc6a2e" stroke-width="1.8" stroke-linejoin="round" stroke-dasharray="1.6 1.2" opacity="0.7"/>
<path d="M1567.5 2150.9l2.5 2.3-.8 3.3-2.2 2.5-2.6 2.3-3.3 .6 M1567.5 2150.9l-.6-3.3 .3-3.4 3.2-1.1 2.2 2.5 M1567.5 2150.9l-3.3-.5-3.4-.1-1.8 2.9 M1567.5 2150.9l2.7 2.2-.2 3.4-.6 3.3 M1567.5 2150.9l2.7 2.1 3.1 1.5 M1567.5 2150.9l1.6 3 2.4 2.5 2.2 2.5 .9 3.3 3.4 .4 M1652.3 2174.2l-3-1.5-.5-3.3-.1-3.4 M1652.3 2174.2l.1-3.4 2.2-2.6 3-1.5 3.4 .5 3.2-1.1 M1652.3 2174.2l2.2 2.6 2 2.8 .5 3.4-.1 3.4 1.9 2.7 M1652.3 2174.2l2-2.7-.4-3.4-1.9-2.8-2-2.7 M1885.1 2462.3l2.1-2.7 3.4-.1 3.3 .9 .1 3.4-.9 3.3 M1885.1 2462.3l-2.2-2.6-3.3-.9-3-1.6-2.3-2.5 M1885.1 2462.3l3.2-1.3 2.6-2.1 .2-3.4-2.2-2.6-1.7-2.9 M1885.1 2462.3l-2.8 1.9-3.2 1.2-2.8-1.9-.6-3.4-1.7-2.9 M1810.3 2284.6l3.1 1.4 3.4 0 M1810.3 2284.6l-3.3 .5-3.2 1.1-3 1.7-1.7 3 0 3.4 M1810.3 2284.6l-3.3 .5-2.6-2.2-3.2-1.1 M1810.3 2284.6l-1.2-3.2 .6-3.3 1.2-3.2 M1810.3 2284.6l-3.4-.1-2.7-2-3.3-.8-.5-3.4 M1810.3 2284.6l.5 3.3-.3 3.4 M1920.5 2285l.9 3.3 0 3.4 .7 3.3 1.6 3 M1920.5 2285l-.4 3.4-2 2.7 M1920.5 2285l-2.3 2.5-2.4 2.4 M1920.5 2285l-2.7-2.1-3.4-.1-3-1.6 M1920.5 2285l.2-3.4 3.2-1.1 3.4 0 3.4 .3 M1920.5 2285l.7 3.3 2.4 2.5 1.9 2.7 1.9 2.9 M1637.5 2397.2l-3.2 1.2-3-1.7 M1637.5 2397.2l-.2-3.4-2.5-2.3 0-3.4 1.6-3 M1637.5 2397.2l3 1.5 3.3-.9 2.2-2.6 M1637.5 2397.2l-1.6 3-1.1 3.2-1.1 3.3 1.7 2.9 M1729.8 2455.6l-2.4 2.3-.6 3.4 M1729.8 2455.6l-1.1-3.3 1.9-2.7 3.2-1.4 3.1-1.2 3.2 1.2 M1729.8 2455.6l-1 3.2-.4 3.4-1.8 2.9-3.1 1.3 M1729.8 2455.6l-3.4-.1-2.7 2.1-1.3 3.1 1.2 3.2 3.4 .3 M1729.8 2455.6l-1.9 2.8-2 2.7 M1729.8 2455.6l-2.2-2.6-1.7-3 .9-3.3 M1889.5 2500.2l.5 3.4 0 3.4-.3 3.3-2.1 2.7-2.8 1.9 M1889.5 2500.2l3.2 1.1 3.3 .7 3-1.6 M1889.5 2500.2l-2.8-2-3.2-1.1-2.5-2.3 M1889.5 2500.2l-3.4-.1-3.4 0-2.7-2.1-1.9-2.8 M1819.7 2385.1l2.5-2.2 3-1.5 3.4-.5 2.8 2 M1819.7 2385.1l2.2-2.5 2.6-2.2 M1819.7 2385.1l2.8-1.8 3.4 0 M1819.7 2385.1l-3.4-.4-1.7 3 .1 3.4 M1761.9 2481.2l-2.9-1.8-2.9 1.9-3.2 1-2.6 2.3-2.5 2.3 M1761.9 2481.2l1.9 2.8 3.1-1.5 M1761.9 2481.2l-1 3.2-3.3-.8 M1761.9 2481.2l.3 3.4-2.5 2.3 M1761.9 2481.2l-.1-3.4-3.3-.8-3.1 1.3-1.9 2.8 .5 3.4 M1920.4 2316l-1.4-3.1 .1-3.4 2.4-2.3 1.9-2.9-1.1-3.2 M1920.4 2316l3.3 1 3.4-.3 .1-3.4 M1920.4 2316l-2.6-2.2-2.5-2.3 1.8-2.8 3.4-.8 1.2 3.2 M1920.4 2316l-.1-3.4-1.2-3.2-.4-3.3 .1-3.4-3.2-1.1 M1920.4 2316l1.3-3.2 3.2-1 3-1.7 3 1.5 1.7 2.9 M1865.7 2248.9l3.4-.2 2.3-2.4 2.3-2.6 3.3-.4 3.2-1.1 M1865.7 2248.9l-1.4 3.1-2.2 2.6-1.7 2.9-1.8 2.9-.2 3.4 M1865.7 2248.9l-.2 3.4 .6 3.3 M1865.7 2248.9l-3.3 .9-2.6 2.1-3.4 .2-3.4 .2-3.3-.9 M1865.7 2248.9l3.2-1.1 2.7-2 3.2-1.2 M1865.7 2248.9l3.4 .2 3.3-.6 3.3 .9 2.2 2.5 M1794.1 2484.8l3.2-1.1 .6-3.4-3.2-1.2-2.3 2.5 M1794.1 2484.8l-2.9-1.7 1.2-3.1 3.2-1.2 2.1-2.7 3.3-.8 M1794.1 2484.8l-2 2.7-1.7 3 1.8 2.9 M1794.1 2484.8l-2.5-2.2-3.2-1.3-.3-3.4 2.1-2.6 .5-3.4 M1794.1 2484.8l-2.3-2.4-2-2.8 .2-3.4 M1538.1 2155.3l-2-2.7-.9-3.3 .7-3.3 .8-3.3 M1538.1 2155.3l2.4 2.5 2.1 2.6 1.1 3.2 3.4 .4 M1538.1 2155.3l-3.3 .6-3.4 .4 M1538.1 2155.3l3.4-.3 3.2-1.2 M1538.1 2155.3l2 2.7 3.1 1.5 M1538.1 2155.3l-2 2.7-2.9 1.7-1.9 2.9-3.3 .8 M1797.3 2562.7l-2.3 2.5 .6 3.4 M1797.3 2562.7l1.3-3.1 2.8-1.9 2.7-2.1 3.3-.8 M1797.3 2562.7l-3.4 .5-3.3 .8-3.3 .5-3.3 1 M1797.3 2562.7l-3.2-1.2-3.2-1-3.1-1.4-2.8-2 M1797.3 2562.7l-2.8 1.9-3.3 .9-.8 3.3 1.2 3.2 3.2 1.2 M1697.8 2490.3l.1 3.4 0 3.4-.6 3.3-3 1.8-3.2-1 M1697.8 2490.3l-3.3-.3-2.1 2.7-2.3 2.5-2.3 2.5 M1697.8 2490.3l-3.2-1-3-1.6-3.4-.3-3.4-.3 M1697.8 2490.3l-3-1.6-2.5 2.3-1.6 3 1.4 3.1 M1652.6 2522.8l-1.2-3.2-2.4-2.4-3.4-.3 M1652.6 2522.8l1.2-3.2 2-2.8-2.3-2.6-2.9-1.6-2.5 2.3 M1652.6 2522.8l-1.8 2.8 2.2 2.6 3.2 1.1 2.4-2.4 1.8-2.9 M1652.6 2522.8l-.8 3.3-2.6 2.2 M1652.6 2522.8l-2.5 2.2-.8 3.3-2.6 2.2-1.3 3.2 .8 3.3 M1652.6 2522.8l-.3 3.4 .6 3.3 3.4 0 M1896.3 2547.5l-.3-3.4 1.1-3.2 M1896.3 2547.5l.1 3.4-2.4 2.5-2.3 2.4-3.3-.7-.1-3.4 M1896.3 2547.5l-2.3-2.5-1.1-3.2 M1896.3 2547.5l2 2.8 2.1 2.7-1.7 2.9-2.2 2.5 M1896.3 2547.5l1.9 2.9 .6 3.3-1.2 3.2 M1766.2 2290.8l.7-3.3 .7-3.3-.1-3.4 M1766.2 2290.8l3.4-.2 3.2-1 M1766.2 2290.8l-3.4-.4-1.9 2.8-2.2 2.6-.3 3.4 M1766.2 2290.8l3-1.6 3.3-.6 M1766.2 2290.8l3-1.5 3.2-1.1 2.7-2.1-3.1-1.5-3.4-.6 M1643.1 2319l-.9-3.3-.9-3.2 M1643.1 2319l.6-3.3 .7-3.3-.7-3.4 M1643.1 2319l-2.3 2.5-3.4-.2-1-3.2 2.7-2.1 3.3-.7 M1643.1 2319l3.3-.9 2.3 2.4 .8 3.3 1.3 3.2 2.3 2.4 M1643.1 2319l-2.9 1.7-2.2 2.6 M1536.2 2348.3l-2.5 2.3-3.1 1.3-3.4 0-2.9-1.7 M1536.2 2348.3l-.3-3.4-2.2-2.6-3.1-1.3-1.3-3.2 .8-3.3 M1536.2 2348.3l-2.5-2.4-3.4 0-2.2 2.5 M1536.2 2348.3l-2-2.8-1.7-3-3.1-1.2-3.3-.9 M1536.2 2348.3l-1.7-3-3.2-1-3.3-1-3.2 1.2 M1536.2 2348.3l.6-3.4 1.7-2.9 3.2 1.4 3.1 1.3 2.8 1.9 M1885.6 2317.5l3.4-.1 3.3 1 1.9 2.8 M1885.6 2317.5l0 3.4 1.8 2.9 2.9 1.9 M1885.6 2317.5l3.3 1.1 3.2-.9 2.9-1.8 2.9-1.8 M1885.6 2317.5l3 1.7 3.4-.3 M1885.6 2317.5l-2.8 1.9-2.7-2-3.2 1.2-3.2-1.2 M1885.6 2317.5l-3.4 .3-3.3-.7-2.9 1.7-1 3.3 M1847.9 2561.7l2.3-2.6 3-1.6 3.3 .8 3.1 1.4 3.4 .2 M1847.9 2561.7l-3.3-.5-.8-3.3 M1847.9 2561.7l2.4 2.4 .9 3.3 2.5 2.3 M1847.9 2561.7l2.2-2.7 .8-3.2 .4-3.4 M1847.9 2561.7l-2.6 2.1-3.4 0-3.4-.5-2.8 1.8 M1847.9 2561.7l-2.5 2.2-2.9 1.8-2.7 2 M1637.6 2423.1l1.2 3.2 .2 3.4 M1637.6 2423.1l-1.9-2.8-.5-3.4-.8-3.3 M1637.6 2423.1l.8 3.3 2.6 2.2 2.5 2.3 2.3 2.6 M1637.6 2423.1l-.4-3.3-3.3-.5 M1637.6 2423.1l-.6 3.4 2.5 2.2 M1595.5 2378.4l-2.8 1.9-3.4-.4-2 2.8 M1595.5 2378.4l.2-3.4 3.4 .4 3.2 1 3 1.7 M1595.5 2378.4l-.6 3.4-2.2 2.6 M1595.5 2378.4l.8 3.3 .1 3.4 M1604.1 2453.2l-2.3-2.6-2.9-1.7-1.2-3.2-2.3-2.4 M1604.1 2453.2l-2.7 2-3 1.8-2.9 1.7-3.4 .5-3.1-1.3 M1604.1 2453.2l-1.9 2.8-.5 3.4 2.1 2.7 3.3 .7 M1604.1 2453.2l-2.9-1.7-3.4-.4-3.3-.9 M1802.1 2194l-3.4 .2-3.1 1.3-2.7 2 M1802.1 2194l-2.7-2-3.1-1.4-3.4-.4-1.7-2.9 M1802.1 2194l-3.4-.5-2.9 1.7-1.8 2.9 M1802.1 2194l3.1-1.4 2.7-2.1 3.3-.9 1.8-2.9-2.2-2.5 M1567.3 2565l3.4-.5 2.1 2.6 3.3 .6 2.4-2.5 M1567.3 2565l2.8 2.1-1.1 3.2-1.7 3-3.3 .6-3.3 .8 M1567.3 2565l2.9 1.9 .8 3.3 M1567.3 2565l.1-3.4-.2-3.4-.9-3.3-.2-3.4 M1567.3 2565l1.7 3 2.9 1.7 3.2 1.3 1.8-2.9 M1586.2 2198.7l1.9-2.9-.3-3.4 .9-3.2-3-1.6-3.4-.2 M1586.2 2198.7l-3.3-.8-3 1.6-2.8 1.8 M1586.2 2198.7l3.4-.4 3.3 .8 2.2 2.6 M1586.2 2198.7l-2.9-1.8-3.3-.7 M1586.2 2198.7l-2.9-1.8-2.6-2.2 .8-3.3 3.4-.5 M1519.9 2453.3l1.7-3 3.3-.7 3 1.6 M1519.9 2453.3l-1 3.2-1.9 2.8-1.6 3 2.2 2.6 M1519.9 2453.3l3.3-.9 3.4-.3 3.2 1.1 1.2 3.2 M1519.9 2453.3l-2.5-2.3-.9-3.3 M1519.9 2453.3l-3.1-1.5-1.6-3-2.8-1.8-3.3-1 M1519.9 2453.3l1.9 2.8 1 3.2 3.3-.9 M1501.9 2229.5l1.7 2.9 .5 3.3-1.6 3 M1501.9 2229.5l3.2-1 3.3-1 3.2-1 2-2.7-1.6-3 M1501.9 2229.5l-.1-3.4 2.1-2.7 3.1-1.4 M1501.9 2229.5l-3.2 1.1-2.7 2.2-3.2 1.1-3.4-.1-3.2-1.2 M1501.9 2229.5l3.2-1 1.6 3 M1511.7 2460.2l2.7-2.1 1.7-2.9 M1511.7 2460.2l.8-3.3 .6-3.4-.6-3.3-1.8-2.9 M1511.7 2460.2l-2.8-1.9-2.8 2-3.3 .6-3.2 1.2 M1511.7 2460.2l-3.3-.9-.4-3.4 2.9-1.6 2.1 2.7 M1862.4 2439l-3.4-.3-2.8-1.9-2.9-1.8-2.7-2.1 M1862.4 2439l-3.4 .5-2.7 2-1.9 2.9 M1862.4 2439l.3-3.4 1.1-3.2 M1862.4 2439l-3.3 1.1-2.9 1.7 M1862.4 2439l3.1-1.2 1.8-2.9 2.7-2.1 2-2.8 M1699.7 2564.1l3.4 .1 3.1-1.4 1.6-3 M1699.7 2564.1l3.2-.9 3.2-1.2 3.4-.3 M1699.7 2564.1l3.3 .9 .4-3.4-3.1-1.5 M1699.7 2564.1l3.3 .5 1.3 3.1 .7 3.4 M1699.7 2564.1l2.8-1.9 1.6-3-1.2-3.1-3.1-1.5-2.4-2.3 M1750.7 2129.2l3.2-1.2 3-1.7 3.3 .5 M1750.7 2129.2l-2.5-2.2-3.3 .7-3.3 .9-3.3 .8 M1750.7 2129.2l1-3.3-.6-3.3 M1750.7 2129.2l.7 3.3 2.9 1.7 3-1.6 2.5-2.3-1.8-2.9 M1937.4 2420.9l.5 3.4-1.9 2.8-1.7 3 M1937.4 2420.9l-2.4-2.4-1.3-3.1-1.2-3.2 M1937.4 2420.9l2.8 2 1.7 2.9 .9 3.3-2.8 1.9-2.6 2.2 M1937.4 2420.9l3 1.6 1.4 3.2 1.8 2.8 1.3 3.2-.4 3.4 M1781.5 2319.6l.9 3.3 3.3-.3 .1-3.4-1.9-2.9-3.3-.8 M1781.5 2319.6l-2.7-2-2.9-1.7-2.1-2.7-1.8-2.9-1.8-2.9 M1781.5 2319.6l3 1.6-.8 3.3 M1781.5 2319.6l-3.3-.5-3.4 .4 M1781.5 2319.6l3-1.7 1.8-2.9-1.1-3.2-2.9-1.7-3.3 .6 M1690.2 2374.9l-1.4-3.1 .5-3.4 1.9-2.8 2.9-1.8 M1690.2 2374.9l2.9 1.8 .3 3.3-1.3 3.2 M1690.2 2374.9l-.5 3.4-2.2 2.6-3.3 .5-3.4 0-3.4 .4 M1690.2 2374.9l3.1 1.4 1.3 3.1 .3 3.4 1.1 3.2 M1690.2 2374.9l-1.5 3.1 .2 3.4 1.9 2.8 M1679.4 2261.2l-.7 3.3 .2 3.4 M1679.4 2261.2l-.1 3.4-.3 3.4 M1679.4 2261.2l.4-3.4-.5-3.4-1-3.2 .4-3.4 M1679.4 2261.2l-1.1-3.2 .3-3.4 1.2-3.2-.7-3.3 M1676.2 2155.7l-1-3.2 1.2-3.2 M1676.2 2155.7l.6-3.3-2.5-2.4-1.7-2.9-2.7-2.1 M1676.2 2155.7l2.2-2.6 2.3 2.5 1.8 2.9 M1676.2 2155.7l-2.6-2.1-3.4-.2-.5 3.4 2.8 1.8 3.4 .1 M1733.2 2370.3l3 1.5 2.7 2.2 2.8 1.8 M1733.2 2370.3l-.2 3.4-.4 3.4 1 3.2 M1733.2 2370.3l3.4 0 1.2-3.1 M1733.2 2370.3l-2.5-2.3-.6-3.4 1.4-3.1 2.1-2.6 3.4-.2 M1899.2 2141l2.5 2.2 .1 3.4-2.8 1.9 M1899.2 2141l3.2 .9 3.3 .9 3.4 .5 M1899.2 2141l1.9 2.8 2.5 2.3 3.4-.2 M1899.2 2141l-1-3.3 .5-3.3 1.4-3.1 1.9-2.8 M1899.2 2141l3.1 1.2 2.3 2.5 2.8 1.9 M1837.3 2126.6l-3.3 .8-1.8-2.9 M1837.3 2126.6l3.4-.4 2.8-1.9-.7-3.3-2.9-1.8-2.9-1.8 M1837.3 2126.6l-2.7 2.1-2.9 1.8-2.4 2.4-2.7 2.1-2.1 2.7 M1837.3 2126.6l-3.1 1.5-3.4-.4-3.3-.6-3.4-.2 M1837.3 2126.6l-3.2-1-1.9-2.9 M1837.3 2126.6l-.6 3.4-.2 3.4 .2 3.4 2.6 2.2 M1725.3 2330.3l3-1.7 2.6-2.2 M1725.3 2330.3l3.4 .3 1.9 2.8 3.3 1.1 1.9 2.7 M1725.3 2330.3l3.4 0 3.4 .5 3.1 1.5 M1725.3 2330.3l-3.2 1.1-.4 3.3 M1725.3 2330.3l-2.9 1.7-1.6 3 .2 3.4-.8 3.3-2.5 2.3 M1725.3 2330.3l2.7 2.1-.3 3.4 .3 3.4 2.8 1.9 3.3 .9 M1579.6 2462.7l3-1.7-.4-3.4-.9-3.3 .5-3.3 M1579.6 2462.7l-.5 3.3 2.1 2.7 .1 3.4 0 3.4 M1579.6 2462.7l-3.1 1.4-3.1 1.3-2.6 2.2-2.6 2.1 2 2.8 M1579.6 2462.7l3.3 .8 2.2-2.6 M1579.6 2462.7l-3.1-1.3-1.4-3.1-3.1 1.2-3.3 .8 M1679.3 2314.9l.5 3.4 .1 3.4-1.2 3.2 .6 3.3-.8 3.3 M1679.3 2314.9l-3.2 1.1-2.9 1.7-3.4-.7 M1679.3 2314.9l3.2-1.2 3.3-.7 3.3 1 3.1 1.3 M1679.3 2314.9l3.2 1.4 3.2 1.1 3.1 1.3 3.4-.1 3.2 1.2 M1679.3 2314.9l-2.8 2 1.3 3.1 3.1 1.5 M1679.3 2314.9l-1.7 3 0 3.4 1.5 3 M1664.7 2443.5l2.6 2.2 3.3 .8 2.5 2.2 2 2.8 3.4 .2 M1664.7 2443.5l3.4-.7-.5-3.4-3.2-1-3.3-1.1 M1664.7 2443.5l-3.1-1.4-3-1.6-3.3-.5-3.1-1.6-3.2-1 M1664.7 2443.5l-3-1.6-2-2.8 1.8-2.9 3-1.5 3.4 0 M1664.7 2443.5l-2.6-2.2-3.3-.9-3.4-.3-3.3-.7-3-1.6 M1616.9 2469.9l-2.5 2.3-.5 3.3 3.2 1.3 3.1 1.4 M1616.9 2469.9l3.4-.1 3.3 .8 3.2 1.1 3.2-1.1 M1616.9 2469.9l-3.2 1.1-3.3 .9 M1616.9 2469.9l3.3-.3 .9-3.3-1.2-3.2-2-2.7 M1616.9 2469.9l3.3 .3 2.7-2.2-.2-3.4 M1907.1 2368.9l-3.4-.3-2.9 1.6-2.5 2.3-1.3 3.2-.5 3.3 M1907.1 2368.9l3.4-.1 3.4 .2 3.3-.9 3.4 .4 M1907.1 2368.9l3 1.7 2.6-2.1-1.9-2.8 M1907.1 2368.9l2.3-2.5 2.5-2.3 3.3 .5 1.5 3-2.3 2.6 M1606 2338.9l-3.1 1.3-3.4 0-3.1-1.4-1.3-3.2 M1606 2338.9l-2.9 1.6-3.3 1-3.1-1.4-2-2.8 M1606 2338.9l2.3-2.6-.9-3.3-3.2-1.2 M1606 2338.9l-1.5-3-3.4-.7-2.8 1.9-2.1 2.7-1 3.2 M1606 2338.9l3.2-1.4 3.1 1.4 3.3-.9 1.2-3.2 M1871.8 2400.8l1.7 2.9 1.3 3.1 M1871.8 2400.8l-3.2 1.2-.9 3.3-.3 3.3 M1871.8 2400.8l2.5-2.3 3.3-.6 3.4-.1 1.6 3 .2 3.4 M1871.8 2400.8l1.3-3.1 .3-3.4 .3-3.4 1.8-2.9 3.3-.8 M1871.8 2400.8l.8-3.3-1.4-3.1-.3-3.4-1-3.3-1.8-2.9 M1500.3 2327.9l2-2.8 1.2-3.1 M1500.3 2327.9l-.9-3.3 .8-3.3-.5-3.3-1.9-2.9-2.7-1.9 M1500.3 2327.9l3.4-.6 2.3 2.4 M1500.3 2327.9l3.1 1.4 2.6-2.2-.4-3.4 .3-3.4 M1500.3 2327.9l-1.6 3-2.8 1.9 M1500.3 2327.9l-3.3 .5-3.2-1.4 M1627.3 2190.2l1.1 3.2-3.3 .8-2.6-2.2-1.5-3.1 M1627.3 2190.2l-3.2 .9-.4 3.4 M1627.3 2190.2l-2.7-2.1-3.4-.3-2.9 1.7-.1 3.4 M1627.3 2190.2l-3.1 1.3-3.3 .7-1.6 3-2.2 2.6 3.2 .9 M1896.3 2209.1l-1 3.3-1.5 3-3 1.6-2.6 2.2 M1896.3 2209.1l-.9-3.3-2.4-2.3 M1896.3 2209.1l3-1.6 3.3-.4 2.6 2.1 M1896.3 2209.1l1.2 3.2 1.6 3 3.2 1.1 3.4-.5 M1896.3 2209.1l.3-3.4-.9-3.2-2.1-2.7 M1896.3 2209.1l1.4 3.1 2.9 1.8 M1576.9 2255.4l3.2 1.1 3.4-.2 3.1-1.2 1.6-3.1-1.9-2.9 M1576.9 2255.4l2.7 2 3.4-.3 M1576.9 2255.4l.5 3.3-1.2 3.2-3.4-.1-2.5-2.3 M1576.9 2255.4l3.2-1.1 2.6-2.1 3.2-1.3 M1576.9 2255.4l-3.4 .2-3.4 .4-3.4-.1-3.1-1.4 M1780.7 2146.8l.8 3.3 2.6 2.1 3.4 .7 3.3-.3 M1780.7 2146.8l3.4 .3 3-1.5 M1780.7 2146.8l-.1 3.4 1.9 2.8 2.7 2.1 2.4 2.4 2.8-2 M1780.7 2146.8l-2.4-2.5-1.8-2.8 M1780.7 2146.8l2.3-2.5 2.5-2.4 M1780.7 2146.8l1.9-2.8-1-3.3 1.1-3.2-.7-3.3-2.9-1.9 M1537.8 2239.7l-2.3 2.4-.9 3.3 M1537.8 2239.7l3.4-.2 3.3-.8 3.4 .1 M1537.8 2239.7l2.1 2.7 3 1.6 2.5 2.3 M1537.8 2239.7l-.8-3.3-3.4-.4-3 1.6 M1854.7 2190.7l-1.6 3-3.4 .2-1 3.2-2.3 2.6-3.3 .6 M1854.7 2190.7l3.3-.3 2.9 1.8 2.6 2.3 .7 3.3-1.2 3.2 M1854.7 2190.7l.9-3.3 2.1-2.7 2.7-2 M1854.7 2190.7l-1.5-3.1-3.1-1.5 M1854.7 2190.7l-2.6-2.3-3.4 .4-2 2.7-1.8 2.9 3.3 .8 M1733.7 2551.6l-.8 3.3-.3 3.4 M1733.7 2551.6l3.2 1.3 3.3 .1 2.9 1.9 2.8 2 M1733.7 2551.6l3.4-.1 2.7-2.1 .8-3.3-1.1-3.2 M1733.7 2551.6l-2.5 2.3-3 1.6-3.2 1.2-3.3 .9-2.3 2.5 M1780.1 2437.4l.4-3.4 1.1-3.2-3.1-1.5-3.2-1.1-3.3 .9 M1780.1 2437.4l-3.4 .2-3.4-.3-3.2 1.2 M1780.1 2437.4l-2 2.7-2.2 2.7-2.4 2.4 .5 3.3 M1780.1 2437.4l-1.4-3.1-1.4-3.1-.7-3.4-3.3-.6 M1780.1 2437.4l2.2-2.6 3.3-.8 3.4-.2 M1498.7 2552.7l.8-3.3 1.8-2.8-2.8-1.9-3.4-.5-3.4 .3 M1498.7 2552.7l-1.1 3.3-.8 3.2 .9 3.3 M1498.7 2552.7l-1.3-3.1-.1-3.4 M1498.7 2552.7l-3.3 .8-2.4 2.5 M1498.7 2552.7l-1 3.3 0 3.4 M1498.7 2552.7l-1.3 3.2 2.9 1.7 M1682.5 2232.2l3.2 1.2 2.6-2.1 2.1-2.7 .3-3.3 1.2-3.2 M1682.5 2232.2l-2.8-2-1.8-2.9-3.3-.3 M1682.5 2232.2l.6 3.4 3.2 1.1 1.9 2.8 M1682.5 2232.2l2.7-2.1 2.4-2.4 2.9-1.7 2.9 1.7 2.2 2.6 M1682.5 2232.2l.2-3.4-1.9-2.8 .5-3.4 M1648.5 2241.6l2.9 1.7 3.1 1.5 M1648.5 2241.6l2.2-2.5 2.2-2.6 3-1.6 .4-3.4 M1648.5 2241.6l-2.9-1.7-1.3-3.2-.8-3.3 3-1.5 3.3-.9 M1648.5 2241.6l-2 2.8-2.3 2.5-1.2 3.2 M1648.5 2241.6l-3.3 .9-3.1-1.5" fill="none" stroke="#d8a444" stroke-width="3" stroke-linecap="round" stroke-linejoin="round" opacity="0.92"/>
<ellipse cx="1548.8" cy="2451.2" rx="8.9" ry="6" fill="#e8c878" opacity="0.9"/>
<ellipse cx="1752.9" cy="2389.8" rx="7.1" ry="4.8" fill="#e8c878" opacity="0.9"/>
<ellipse cx="1646.8" cy="2180.5" rx="5.4" ry="3.6" fill="#e8c878" opacity="0.9"/>
<circle cx="1513" cy="2212.7" r="2.9" fill="#fff4dc"/>
<circle cx="1786.3" cy="2493.5" r="2.5" fill="#fff4dc"/>
<circle cx="1792.5" cy="2355.1" r="2.7" fill="#fff4dc"/>
<circle cx="1868.7" cy="2350.5" r="2.8" fill="#fff4dc"/>
<circle cx="1881" cy="2447" r="2.2" fill="#fff4dc"/>
<circle cx="1678.9" cy="2263.5" r="2.1" fill="#fff4dc"/>
<circle cx="1573.7" cy="2475" r="2.3" fill="#fff4dc"/>
<circle cx="1809.5" cy="2202.3" r="2.6" fill="#fff4dc"/>
<circle cx="1692.2" cy="2205.5" r="2.9" fill="#fff4dc"/>
<circle cx="1833.5" cy="2406.4" r="2.6" fill="#fff4dc"/>
<circle cx="1931.2" cy="2145.1" r="2.1" fill="#fff4dc"/>
<circle cx="1656.5" cy="2327.4" r="2.7" fill="#fff4dc"/>
<circle cx="1697.3" cy="2458.7" r="2.3" fill="#fff4dc"/>
<circle cx="1565" cy="2343.1" r="2.4" fill="#fff4dc"/>
<circle cx="1684.5" cy="2500.7" r="2.3" fill="#fff4dc"/>
<circle cx="1664.9" cy="2549.7" r="2.2" fill="#fff4dc"/>
<circle cx="1634.8" cy="2296.9" r="3.1" fill="#fff4dc"/>
<circle cx="1644" cy="2442" r="2.9" fill="#fff4dc"/>
<circle cx="1926.9" cy="2273.4" r="2.5" fill="#fff4dc"/>
<circle cx="1556.6" cy="2216.4" r="2.9" fill="#fff4dc"/>
<circle cx="1655.7" cy="2196.2" r="2" fill="#fff4dc"/>
<circle cx="1744.1" cy="2324.1" r="2.7" fill="#fff4dc"/>
<circle cx="1862.2" cy="2482.5" r="2.6" fill="#fff4dc"/>
<circle cx="1579.1" cy="2510.9" r="3" fill="#fff4dc"/>
<circle cx="1833.4" cy="2276" r="3.1" fill="#fff4dc"/>
<circle cx="1586.9" cy="2146.2" r="2.6" fill="#fff4dc"/>
<circle cx="1807.9" cy="2527.9" r="2" fill="#fff4dc"/>
<circle cx="1778.8" cy="2315.1" r="2.5" fill="#fff4dc"/>
<circle cx="1933.7" cy="2330.6" r="2.2" fill="#fff4dc"/>
<circle cx="1910.5" cy="2419" r="2.9" fill="#fff4dc"/>
</g>
</g>
<text x="-1.5" y="24" font-size="34">a</text>
<text x="669" y="24" font-size="34">b</text>
<text x="1393" y="23" font-size="34">c</text>
<text x="70" y="1034" font-size="32" font-weight="bold" fill="#3a3a3a">d</text>
<text x="601" y="1035" font-size="32" font-weight="bold" fill="#3a3a3a">e</text>
<text x="1311" y="1034" font-size="32" font-weight="bold">f</text>
<text x="80" y="1645" font-size="32" font-weight="bold" fill="#3a3a3a">g</text>
<rect x="167.1" y="389" width="18.8" height="9.8" fill="url(#grid)" stroke="#000" stroke-width="3.2"/>
<rect x="199.9" y="377.6" width="18.8" height="21.1" fill="#d3d3d9" stroke="#a0a0a6" stroke-width="3.2"/>
<rect x="254" y="366.2" width="18.8" height="32.5" fill="url(#grid)" stroke="#000" stroke-width="3.2"/>
<rect x="286.8" y="352" width="18.8" height="46.7" fill="#d3d3d9" stroke="#a0a0a6" stroke-width="3.2"/>
<rect x="340.8" y="334.9" width="18.8" height="63.8" fill="url(#grid)" stroke="#000" stroke-width="3.2"/>
<rect x="373.6" y="309.4" width="18.8" height="89.4" fill="#d3d3d9" stroke="#a0a0a6" stroke-width="3.2"/>
<rect x="427.7" y="289.4" width="18.8" height="109.3" fill="url(#grid)" stroke="#000" stroke-width="3.2"/>
<rect x="460.5" y="269.5" width="18.8" height="129.2" fill="#d3d3d9" stroke="#a0a0a6" stroke-width="3.2"/>
<rect x="514.5" y="275.2" width="18.8" height="123.5" fill="url(#grid)" stroke="#000" stroke-width="3.2"/>
<rect x="547.3" y="235.4" width="18.8" height="163.3" fill="#d3d3d9" stroke="#a0a0a6" stroke-width="3.2"/>
<rect x="601.4" y="133" width="18.8" height="265.7" fill="url(#grid)" stroke="#000" stroke-width="3.2"/>
<rect x="634.2" y="195.6" width="18.8" height="203.2" fill="#d3d3d9" stroke="#a0a0a6" stroke-width="3.2"/>
<circle cx="172.5" cy="386.2" r="6.8" fill="#000"/>
<circle cx="180.5" cy="381.7" r="6.8" fill="#000"/>
<circle cx="205.3" cy="380.6" r="6.8" fill="#a3a3a3"/>
<circle cx="213.3" cy="370.3" r="6.8" fill="#a3a3a3"/>
<circle cx="259.4" cy="365.8" r="6.8" fill="#000"/>
<circle cx="267.4" cy="361.8" r="6.8" fill="#000"/>
<circle cx="292.2" cy="352.1" r="6.8" fill="#a3a3a3"/>
<circle cx="300.2" cy="346.4" r="6.8" fill="#a3a3a3"/>
<circle cx="350.2" cy="323.7" r="6.8" fill="#000"/>
<circle cx="350.2" cy="341.9" r="6.8" fill="#000"/>
<circle cx="379" cy="313.4" r="6.8" fill="#a3a3a3"/>
<circle cx="387" cy="304.9" r="6.8" fill="#a3a3a3"/>
<circle cx="437.1" cy="278.2" r="6.8" fill="#000"/>
<circle cx="437.1" cy="300.4" r="6.8" fill="#000"/>
<circle cx="465.9" cy="273.6" r="6.8" fill="#a3a3a3"/>
<circle cx="473.9" cy="262.2" r="6.8" fill="#a3a3a3"/>
<circle cx="523.9" cy="265.1" r="6.8" fill="#000"/>
<circle cx="523.9" cy="283.3" r="6.8" fill="#000"/>
<circle cx="556.7" cy="243.5" r="6.8" fill="#a3a3a3"/>
<circle cx="556.7" cy="222.4" r="6.8" fill="#a3a3a3"/>
<circle cx="610.8" cy="122.9" r="6.8" fill="#000"/>
<circle cx="610.8" cy="141.7" r="6.8" fill="#000"/>
<circle cx="643.6" cy="216.8" r="6.8" fill="#a3a3a3"/>
<circle cx="643.6" cy="173" r="6.8" fill="#a3a3a3"/>
<line x1="155.5" y1="56" x2="155.5" y2="400.2" stroke="#000" stroke-width="3"/>
<line x1="141" y1="398.8" x2="667" y2="398.8" stroke="#000" stroke-width="3"/>
<line x1="141.5" y1="398.8" x2="155.5" y2="398.8" stroke="#000" stroke-width="3"/>
<text x="137" y="410" font-size="31.5" text-anchor="end">0</text>
<line x1="141.5" y1="285" x2="155.5" y2="285" stroke="#000" stroke-width="3"/>
<text x="140" y="296.3" font-size="31.5" text-anchor="end">20</text>
<line x1="141.5" y1="171.2" x2="155.5" y2="171.2" stroke="#000" stroke-width="3"/>
<text x="140" y="182.5" font-size="31.5" text-anchor="end">40</text>
<line x1="141.5" y1="57.5" x2="155.5" y2="57.5" stroke="#000" stroke-width="3"/>
<text x="140" y="68.8" font-size="31.5" text-anchor="end">60</text>
<line x1="192.7" y1="398.8" x2="192.7" y2="412.8" stroke="#000" stroke-width="3"/>
<line x1="279.6" y1="398.8" x2="279.6" y2="412.8" stroke="#000" stroke-width="3"/>
<line x1="366.4" y1="398.8" x2="366.4" y2="412.8" stroke="#000" stroke-width="3"/>
<line x1="453.3" y1="398.8" x2="453.3" y2="412.8" stroke="#000" stroke-width="3"/>
<line x1="540.1" y1="398.8" x2="540.1" y2="412.8" stroke="#000" stroke-width="3"/>
<line x1="627" y1="398.8" x2="627" y2="412.8" stroke="#000" stroke-width="3"/>
<text x="190" y="441.5" font-size="31">5</text>
<text x="256.5" y="441.5" font-size="31">10</text>
<text x="343.5" y="441.5" font-size="31">20</text>
<text x="431" y="441.5" font-size="31">40</text>
<text x="521" y="441.5" font-size="31">80</text>
<text x="603.5" y="441.5" font-size="31">160</text>
<text transform="translate(89 218) rotate(-90)" font-size="33" text-anchor="middle">%Knockin(CD25+GFP+)</text>
<circle cx="205" cy="99.5" r="7" fill="#a3a3a3"/>
<circle cx="205" cy="145.5" r="7" fill="#000"/>
<text x="245" y="109" font-size="33">+PGA</text>
<text x="244" y="155" font-size="33">-PGA</text>
<rect x="164.7" y="683.6" width="18.8" height="204.3" fill="url(#grid)" stroke="#000" stroke-width="3.2"/>
<rect x="197.5" y="653" width="18.8" height="234.9" fill="#d3d3d9" stroke="#a0a0a6" stroke-width="3.2"/>
<rect x="251.5" y="666.6" width="18.8" height="221.3" fill="url(#grid)" stroke="#000" stroke-width="3.2"/>
<rect x="284.3" y="644.5" width="18.8" height="243.4" fill="#d3d3d9" stroke="#a0a0a6" stroke-width="3.2"/>
<rect x="338.3" y="688.7" width="18.8" height="199.2" fill="url(#grid)" stroke="#000" stroke-width="3.2"/>
<rect x="371.1" y="651.3" width="18.8" height="236.6" fill="#d3d3d9" stroke="#a0a0a6" stroke-width="3.2"/>
<rect x="425" y="715.9" width="18.8" height="172" fill="url(#grid)" stroke="#000" stroke-width="3.2"/>
<rect x="457.8" y="654.7" width="18.8" height="233.2" fill="#d3d3d9" stroke="#a0a0a6" stroke-width="3.2"/>
<rect x="511.8" y="784" width="18.8" height="103.9" fill="url(#grid)" stroke="#000" stroke-width="3.2"/>
<rect x="544.6" y="659.8" width="18.8" height="228.1" fill="#d3d3d9" stroke="#a0a0a6" stroke-width="3.2"/>
<rect x="598.6" y="884.4" width="18.8" height="3.5" fill="url(#grid)" stroke="#000" stroke-width="3.2"/>
<rect x="631.4" y="792.5" width="18.8" height="95.4" fill="#d3d3d9" stroke="#a0a0a6" stroke-width="3.2"/>
<circle cx="170.1" cy="687.1" r="6.8" fill="#000"/>
<circle cx="178.1" cy="676.9" r="6.8" fill="#000"/>
<circle cx="206.9" cy="614" r="6.8" fill="#a3a3a3"/>
<circle cx="206.9" cy="687.1" r="6.8" fill="#a3a3a3"/>
<circle cx="260.9" cy="646.3" r="6.8" fill="#000"/>
<circle cx="260.9" cy="683.7" r="6.8" fill="#000"/>
<circle cx="293.7" cy="629.3" r="6.8" fill="#a3a3a3"/>
<circle cx="293.7" cy="653.1" r="6.8" fill="#a3a3a3"/>
<circle cx="347.7" cy="675.2" r="6.8" fill="#000"/>
<circle cx="347.7" cy="699" r="6.8" fill="#000"/>
<circle cx="380.5" cy="614" r="6.8" fill="#a3a3a3"/>
<circle cx="380.5" cy="682" r="6.8" fill="#a3a3a3"/>
<circle cx="430.4" cy="716" r="6.8" fill="#000"/>
<circle cx="438.4" cy="710.9" r="6.8" fill="#000"/>
<circle cx="467.2" cy="622.5" r="6.8" fill="#a3a3a3"/>
<circle cx="467.2" cy="682" r="6.8" fill="#a3a3a3"/>
<circle cx="521.2" cy="765.4" r="6.8" fill="#000"/>
<circle cx="521.2" cy="797.7" r="6.8" fill="#000"/>
<circle cx="554" cy="636.1" r="6.8" fill="#a3a3a3"/>
<circle cx="554" cy="676.9" r="6.8" fill="#a3a3a3"/>
<circle cx="604" cy="884.5" r="6.8" fill="#000"/>
<circle cx="612" cy="876" r="6.8" fill="#000"/>
<circle cx="640.8" cy="770.5" r="6.8" fill="#a3a3a3"/>
<circle cx="640.8" cy="809.6" r="6.8" fill="#a3a3a3"/>
<line x1="152.4" y1="546.1" x2="152.4" y2="889.4" stroke="#000" stroke-width="3"/>
<line x1="139" y1="887.9" x2="664.5" y2="887.9" stroke="#000" stroke-width="3"/>
<line x1="138.4" y1="887.9" x2="152.4" y2="887.9" stroke="#000" stroke-width="3"/>
<text x="131" y="899.2" font-size="31.5" text-anchor="end">0</text>
<line x1="138.4" y1="819.8" x2="152.4" y2="819.8" stroke="#000" stroke-width="3"/>
<text x="136" y="831.1" font-size="31.5" text-anchor="end">20</text>
<line x1="138.4" y1="751.8" x2="152.4" y2="751.8" stroke="#000" stroke-width="3"/>
<text x="136" y="763.1" font-size="31.5" text-anchor="end">40</text>
<line x1="138.4" y1="683.7" x2="152.4" y2="683.7" stroke="#000" stroke-width="3"/>
<text x="136" y="695" font-size="31.5" text-anchor="end">60</text>
<line x1="138.4" y1="615.7" x2="152.4" y2="615.7" stroke="#000" stroke-width="3"/>
<text x="136" y="626.9" font-size="31.5" text-anchor="end">80</text>
<line x1="138.4" y1="547.6" x2="152.4" y2="547.6" stroke="#000" stroke-width="3"/>
<text x="136" y="558.9" font-size="31.5" text-anchor="end">100</text>
<line x1="190.3" y1="887.9" x2="190.3" y2="901.9" stroke="#000" stroke-width="3"/>
<line x1="277.1" y1="887.9" x2="277.1" y2="901.9" stroke="#000" stroke-width="3"/>
<line x1="363.9" y1="887.9" x2="363.9" y2="901.9" stroke="#000" stroke-width="3"/>
<line x1="450.6" y1="887.9" x2="450.6" y2="901.9" stroke="#000" stroke-width="3"/>
<line x1="537.4" y1="887.9" x2="537.4" y2="901.9" stroke="#000" stroke-width="3"/>
<line x1="624.2" y1="887.9" x2="624.2" y2="901.9" stroke="#000" stroke-width="3"/>
<text x="182" y="937.5" font-size="31">5</text>
<text x="248.5" y="937.5" font-size="31">10</text>
<text x="335" y="937.5" font-size="31">20</text>
<text x="422" y="937.5" font-size="31">40</text>
<text x="513.5" y="937.5" font-size="31">80</text>
<text x="596.5" y="937.5" font-size="31">160</text>
<text transform="translate(42 697.6) rotate(-90)" font-size="33" text-anchor="middle">Live Cells</text>
<text transform="translate(76 704.6) rotate(-90)" font-size="33" text-anchor="middle">(%No Electro Control)</text>
<rect x="859" y="353.9" width="18.8" height="32.4" fill="url(#grid)" stroke="#000" stroke-width="3.2"/>
<rect x="891.8" y="340.3" width="18.8" height="46" fill="#d3d3d9" stroke="#a0a0a6" stroke-width="3.2"/>
<rect x="945.8" y="331.5" width="18.8" height="54.8" fill="url(#grid)" stroke="#000" stroke-width="3.2"/>
<rect x="978.6" y="330.1" width="18.8" height="56.2" fill="#d3d3d9" stroke="#a0a0a6" stroke-width="3.2"/>
<rect x="1032.6" y="318.6" width="18.8" height="67.7" fill="url(#grid)" stroke="#000" stroke-width="3.2"/>
<rect x="1065.4" y="319.9" width="18.8" height="66.4" fill="#d3d3d9" stroke="#a0a0a6" stroke-width="3.2"/>
<rect x="1119.3" y="262.1" width="18.8" height="124.2" fill="url(#grid)" stroke="#000" stroke-width="3.2"/>
<rect x="1152.1" y="299.5" width="18.8" height="86.8" fill="#d3d3d9" stroke="#a0a0a6" stroke-width="3.2"/>
<rect x="1206.1" y="206.4" width="18.8" height="179.9" fill="url(#grid)" stroke="#000" stroke-width="3.2"/>
<rect x="1238.9" y="224.7" width="18.8" height="161.6" fill="#d3d3d9" stroke="#a0a0a6" stroke-width="3.2"/>
<rect x="1325.7" y="211.2" width="18.8" height="175.1" fill="#d3d3d9" stroke="#a0a0a6" stroke-width="3.2"/>
<circle cx="868.4" cy="342.8" r="6.8" fill="#000"/>
<circle cx="868.4" cy="362.5" r="6.8" fill="#000"/>
<circle cx="901.2" cy="328.5" r="6.8" fill="#a3a3a3"/>
<circle cx="901.2" cy="350.3" r="6.8" fill="#a3a3a3"/>
<circle cx="955.2" cy="318.3" r="6.8" fill="#000"/>
<circle cx="955.2" cy="340.8" r="6.8" fill="#000"/>
<circle cx="988" cy="320.4" r="6.8" fill="#a3a3a3"/>
<circle cx="988" cy="337.4" r="6.8" fill="#a3a3a3"/>
<circle cx="1042" cy="302.7" r="6.8" fill="#000"/>
<circle cx="1042" cy="329.9" r="6.8" fill="#000"/>
<circle cx="1074.8" cy="307.4" r="6.8" fill="#a3a3a3"/>
<circle cx="1074.8" cy="329.9" r="6.8" fill="#a3a3a3"/>
<circle cx="1124.7" cy="259.2" r="6.8" fill="#000"/>
<circle cx="1132.7" cy="259.2" r="6.8" fill="#000"/>
<circle cx="1161.5" cy="288.4" r="6.8" fill="#a3a3a3"/>
<circle cx="1161.5" cy="307.4" r="6.8" fill="#a3a3a3"/>
<circle cx="1215.5" cy="182.4" r="6.8" fill="#000"/>
<circle cx="1215.5" cy="226.5" r="6.8" fill="#000"/>
<circle cx="1248.3" cy="200" r="6.8" fill="#a3a3a3"/>
<circle cx="1248.3" cy="244.9" r="6.8" fill="#a3a3a3"/>
<circle cx="1298.3" cy="384.9" r="6.8" fill="#000"/>
<circle cx="1306.3" cy="383.6" r="6.8" fill="#000"/>
<circle cx="1335.1" cy="126.6" r="6.8" fill="#a3a3a3"/>
<circle cx="1335.1" cy="291.1" r="6.8" fill="#a3a3a3"/>
<line x1="846.7" y1="44.9" x2="846.7" y2="387.8" stroke="#000" stroke-width="3"/>
<line x1="832.6" y1="386.3" x2="1355" y2="386.3" stroke="#000" stroke-width="3"/>
<line x1="832.7" y1="386.3" x2="846.7" y2="386.3" stroke="#000" stroke-width="3"/>
<text x="824" y="397.6" font-size="31.5" text-anchor="end">0</text>
<line x1="832.7" y1="318.3" x2="846.7" y2="318.3" stroke="#000" stroke-width="3"/>
<text x="828" y="329.6" font-size="31.5" text-anchor="end">10</text>
<line x1="832.7" y1="250.3" x2="846.7" y2="250.3" stroke="#000" stroke-width="3"/>
<text x="828" y="261.6" font-size="31.5" text-anchor="end">20</text>
<line x1="832.7" y1="182.4" x2="846.7" y2="182.4" stroke="#000" stroke-width="3"/>
<text x="828" y="193.6" font-size="31.5" text-anchor="end">30</text>
<line x1="832.7" y1="114.4" x2="846.7" y2="114.4" stroke="#000" stroke-width="3"/>
<text x="828" y="125.7" font-size="31.5" text-anchor="end">40</text>
<line x1="832.7" y1="46.4" x2="846.7" y2="46.4" stroke="#000" stroke-width="3"/>
<text x="828" y="57.7" font-size="31.5" text-anchor="end">50</text>
<line x1="884.6" y1="386.3" x2="884.6" y2="400.3" stroke="#000" stroke-width="3"/>
<line x1="971.4" y1="386.3" x2="971.4" y2="400.3" stroke="#000" stroke-width="3"/>
<line x1="1058.2" y1="386.3" x2="1058.2" y2="400.3" stroke="#000" stroke-width="3"/>
<line x1="1144.9" y1="386.3" x2="1144.9" y2="400.3" stroke="#000" stroke-width="3"/>
<line x1="1231.7" y1="386.3" x2="1231.7" y2="400.3" stroke="#000" stroke-width="3"/>
<line x1="1318.5" y1="386.3" x2="1318.5" y2="400.3" stroke="#000" stroke-width="3"/>
<text x="879" y="439.5" font-size="31">5</text>
<text x="945" y="439.5" font-size="31">10</text>
<text x="1032.5" y="439.5" font-size="31">20</text>
<text x="1120.5" y="439.5" font-size="31">40</text>
<text x="1208.5" y="439.5" font-size="31">80</text>
<text x="1292" y="439.5" font-size="31">160</text>
<text transform="translate(774 202) rotate(-90)" font-size="33" text-anchor="middle">%Knockin(CD5+HA+)</text>
<circle cx="897.9" cy="87.9" r="7" fill="#a3a3a3"/>
<circle cx="897.9" cy="139.9" r="7" fill="#000"/>
<text x="941" y="98.8" font-size="33">+PGA</text>
<text x="940" y="150.5" font-size="33">-PGA</text>
<rect x="854.2" y="633.2" width="18.8" height="246.2" fill="url(#grid)" stroke="#000" stroke-width="3.2"/>
<rect x="887" y="624.7" width="18.8" height="254.7" fill="#d3d3d9" stroke="#a0a0a6" stroke-width="3.2"/>
<rect x="940.9" y="658.6" width="18.8" height="220.8" fill="url(#grid)" stroke="#000" stroke-width="3.2"/>
<rect x="973.7" y="636.6" width="18.8" height="242.8" fill="#d3d3d9" stroke="#a0a0a6" stroke-width="3.2"/>
<rect x="1027.6" y="636.6" width="18.8" height="242.8" fill="url(#grid)" stroke="#000" stroke-width="3.2"/>
<rect x="1060.4" y="617.9" width="18.8" height="261.5" fill="#d3d3d9" stroke="#a0a0a6" stroke-width="3.2"/>
<rect x="1114.2" y="699.4" width="18.8" height="180" fill="url(#grid)" stroke="#000" stroke-width="3.2"/>
<rect x="1147" y="612.8" width="18.8" height="266.6" fill="#d3d3d9" stroke="#a0a0a6" stroke-width="3.2"/>
<rect x="1200.9" y="870.8" width="18.8" height="8.6" fill="url(#grid)" stroke="#000" stroke-width="3.2"/>
<rect x="1233.7" y="646.7" width="18.8" height="232.7" fill="#d3d3d9" stroke="#a0a0a6" stroke-width="3.2"/>
<rect x="1287.6" y="857.2" width="18.8" height="22.2" fill="url(#grid)" stroke="#000" stroke-width="3.2"/>
<rect x="1320.4" y="879.3" width="18.8" height="0.1" fill="#d3d3d9" stroke="#a0a0a6" stroke-width="3.2"/>
<circle cx="863.6" cy="602.7" r="6.8" fill="#000"/>
<circle cx="863.6" cy="660.4" r="6.8" fill="#000"/>
<circle cx="896.4" cy="573.8" r="6.8" fill="#a3a3a3"/>
<circle cx="896.4" cy="672.3" r="6.8" fill="#a3a3a3"/>
<circle cx="950.3" cy="641.8" r="6.8" fill="#000"/>
<circle cx="950.3" cy="670.6" r="6.8" fill="#000"/>
<circle cx="979.1" cy="628.2" r="6.8" fill="#a3a3a3"/>
<circle cx="987.1" cy="641.8" r="6.8" fill="#a3a3a3"/>
<circle cx="1037" cy="623.1" r="6.8" fill="#000"/>
<circle cx="1037" cy="646.8" r="6.8" fill="#000"/>
<circle cx="1065.8" cy="616.3" r="6.8" fill="#a3a3a3"/>
<circle cx="1073.8" cy="621.4" r="6.8" fill="#a3a3a3"/>
<circle cx="1123.6" cy="684.2" r="6.8" fill="#000"/>
<circle cx="1123.6" cy="714.7" r="6.8" fill="#000"/>
<circle cx="1156.4" cy="589.1" r="6.8" fill="#a3a3a3"/>
<circle cx="1156.4" cy="633.3" r="6.8" fill="#a3a3a3"/>
<circle cx="1206.3" cy="867.5" r="6.8" fill="#000"/>
<circle cx="1214.3" cy="870.9" r="6.8" fill="#000"/>
<circle cx="1243.1" cy="631.6" r="6.8" fill="#a3a3a3"/>
<circle cx="1243.1" cy="660.4" r="6.8" fill="#a3a3a3"/>
<circle cx="1297" cy="830.2" r="6.8" fill="#000"/>
<circle cx="1297" cy="879.4" r="6.8" fill="#000"/>
<circle cx="1325.8" cy="876" r="6.8" fill="#a3a3a3"/>
<circle cx="1333.8" cy="877.7" r="6.8" fill="#a3a3a3"/>
<line x1="841.9" y1="538.4" x2="841.9" y2="880.9" stroke="#000" stroke-width="3"/>
<line x1="827.3" y1="879.4" x2="1353.5" y2="879.4" stroke="#000" stroke-width="3"/>
<line x1="827.9" y1="879.4" x2="841.9" y2="879.4" stroke="#000" stroke-width="3"/>
<text x="820" y="890.7" font-size="31.5" text-anchor="end">0</text>
<line x1="827.9" y1="709.6" x2="841.9" y2="709.6" stroke="#000" stroke-width="3"/>
<text x="826" y="720.9" font-size="31.5" text-anchor="end">50</text>
<line x1="827.9" y1="539.9" x2="841.9" y2="539.9" stroke="#000" stroke-width="3"/>
<text x="826" y="551.2" font-size="31.5" text-anchor="end">100</text>
<line x1="879.8" y1="879.4" x2="879.8" y2="893.4" stroke="#000" stroke-width="3"/>
<line x1="966.5" y1="879.4" x2="966.5" y2="893.4" stroke="#000" stroke-width="3"/>
<line x1="1053.2" y1="879.4" x2="1053.2" y2="893.4" stroke="#000" stroke-width="3"/>
<line x1="1139.8" y1="879.4" x2="1139.8" y2="893.4" stroke="#000" stroke-width="3"/>
<line x1="1226.5" y1="879.4" x2="1226.5" y2="893.4" stroke="#000" stroke-width="3"/>
<line x1="1313.2" y1="879.4" x2="1313.2" y2="893.4" stroke="#000" stroke-width="3"/>
<text x="864" y="926.2" font-size="31">5</text>
<text x="932" y="926.2" font-size="31">10</text>
<text x="1018" y="926.2" font-size="31">20</text>
<text x="1105" y="926.2" font-size="31">40</text>
<text x="1193.5" y="926.2" font-size="31">80</text>
<text x="1279" y="926.2" font-size="31">160</text>
<text transform="translate(736 709) rotate(-90)" font-size="33" text-anchor="middle">Live Cells</text>
<text transform="translate(769 717) rotate(-90)" font-size="33" text-anchor="middle">(%No Electro Control)</text>
<rect x="1567.1" y="369.6" width="15.6" height="31.9" fill="#c4c4c4" stroke="#000" stroke-width="1.8"/>
<rect x="1600.2" y="344.1" width="15.6" height="57.4" fill="#c4c4c4" stroke="#000" stroke-width="1.8"/>
<rect x="1633.2" y="300.4" width="15.6" height="101.1" fill="#c4c4c4" stroke="#000" stroke-width="1.8"/>
<rect x="1666.3" y="256.7" width="15.6" height="144.8" fill="#c4c4c4" stroke="#000" stroke-width="1.8"/>
<rect x="1699.3" y="285.9" width="15.6" height="115.6" fill="#c4c4c4" stroke="#000" stroke-width="1.8"/>
<circle cx="1570.9" cy="368.7" r="7" fill="#000"/>
<circle cx="1578.9" cy="366.5" r="7" fill="#000"/>
<circle cx="1608" cy="349.1" r="7" fill="#000"/>
<circle cx="1608" cy="335.9" r="7" fill="#000"/>
<circle cx="1641" cy="288.6" r="7" fill="#000"/>
<circle cx="1641" cy="304.6" r="7" fill="#000"/>
<circle cx="1674.1" cy="208.5" r="7" fill="#000"/>
<circle cx="1674.1" cy="298.1" r="7" fill="#000"/>
<circle cx="1707.1" cy="236.2" r="7" fill="#000"/>
<circle cx="1707.1" cy="328.7" r="7" fill="#000"/>
<rect x="1753" y="358.7" width="15.6" height="42.8" fill="#e9bfd1" stroke="#9d2457" stroke-width="1.8"/>
<rect x="1786" y="333.2" width="15.6" height="68.3" fill="#e9bfd1" stroke="#9d2457" stroke-width="1.8"/>
<rect x="1819.1" y="278.6" width="15.6" height="122.9" fill="#e9bfd1" stroke="#9d2457" stroke-width="1.8"/>
<rect x="1852.2" y="225.4" width="15.6" height="176.1" fill="#e9bfd1" stroke="#9d2457" stroke-width="1.8"/>
<rect x="1885.2" y="231.2" width="15.6" height="170.3" fill="#e9bfd1" stroke="#9d2457" stroke-width="1.8"/>
<circle cx="1756.8" cy="356.3" r="7" fill="#9d2457"/>
<circle cx="1764.8" cy="355.6" r="7" fill="#9d2457"/>
<circle cx="1789.8" cy="334.5" r="7" fill="#9d2457"/>
<circle cx="1797.8" cy="325" r="7" fill="#9d2457"/>
<circle cx="1826.9" cy="265.3" r="7" fill="#9d2457"/>
<circle cx="1826.9" cy="285" r="7" fill="#9d2457"/>
<circle cx="1860" cy="214.3" r="7" fill="#9d2457"/>
<circle cx="1860" cy="230.3" r="7" fill="#9d2457"/>
<circle cx="1893" cy="206.3" r="7" fill="#9d2457"/>
<circle cx="1893" cy="250.7" r="7" fill="#9d2457"/>
<rect x="1938.4" y="300.4" width="15.6" height="101.1" fill="#86cfcd" stroke="#16928f" stroke-width="1.8"/>
<rect x="1971.5" y="258.9" width="15.6" height="142.6" fill="#86cfcd" stroke="#16928f" stroke-width="1.8"/>
<rect x="2004.5" y="220.3" width="15.6" height="181.2" fill="#86cfcd" stroke="#16928f" stroke-width="1.8"/>
<rect x="2037.6" y="178.8" width="15.6" height="222.7" fill="#86cfcd" stroke="#16928f" stroke-width="1.8"/>
<rect x="2070.6" y="147.5" width="15.6" height="254" fill="#86cfcd" stroke="#16928f" stroke-width="1.8"/>
<circle cx="1942.2" cy="300.3" r="7" fill="#16928f"/>
<circle cx="1950.2" cy="297.3" r="7" fill="#16928f"/>
<circle cx="1975.2" cy="260.9" r="7" fill="#16928f"/>
<circle cx="1983.2" cy="253.6" r="7" fill="#16928f"/>
<circle cx="2008.3" cy="219.4" r="7" fill="#16928f"/>
<circle cx="2016.3" cy="213.6" r="7" fill="#16928f"/>
<circle cx="2045.4" cy="158.9" r="7" fill="#16928f"/>
<circle cx="2045.4" cy="192.4" r="7" fill="#16928f"/>
<circle cx="2078.4" cy="102.9" r="7" fill="#16928f"/>
<circle cx="2078.4" cy="186.6" r="7" fill="#16928f"/>
<line x1="1553.4" y1="36.3" x2="1553.4" y2="402.5" stroke="#000" stroke-width="2"/>
<line x1="1539.7" y1="401.5" x2="2100" y2="401.5" stroke="#000" stroke-width="2"/>
<line x1="1539.4" y1="401.5" x2="1553.4" y2="401.5" stroke="#000" stroke-width="2"/>
<text x="1534" y="412.8" font-size="31.5" text-anchor="end">0</text>
<line x1="1539.4" y1="328.7" x2="1553.4" y2="328.7" stroke="#000" stroke-width="2"/>
<text x="1534" y="339.9" font-size="31.5" text-anchor="end">10</text>
<line x1="1539.4" y1="255.8" x2="1553.4" y2="255.8" stroke="#000" stroke-width="2"/>
<text x="1534" y="267.1" font-size="31.5" text-anchor="end">20</text>
<line x1="1539.4" y1="183" x2="1553.4" y2="183" stroke="#000" stroke-width="2"/>
<text x="1534" y="194.3" font-size="31.5" text-anchor="end">30</text>
<line x1="1539.4" y1="110.1" x2="1553.4" y2="110.1" stroke="#000" stroke-width="2"/>
<text x="1534" y="121.4" font-size="31.5" text-anchor="end">40</text>
<line x1="1539.4" y1="37.3" x2="1553.4" y2="37.3" stroke="#000" stroke-width="2"/>
<text x="1534" y="48.6" font-size="31.5" text-anchor="end">50</text>
<line x1="1574.9" y1="401.5" x2="1574.9" y2="413.5" stroke="#000" stroke-width="2"/>
<text transform="translate(1585 420) rotate(-90)" font-size="28" text-anchor="end">10</text>
<line x1="1608" y1="401.5" x2="1608" y2="413.5" stroke="#000" stroke-width="2"/>
<text transform="translate(1618 420) rotate(-90)" font-size="28" text-anchor="end">20</text>
<line x1="1641" y1="401.5" x2="1641" y2="413.5" stroke="#000" stroke-width="2"/>
<text transform="translate(1651.1 420) rotate(-90)" font-size="28" text-anchor="end">40</text>
<line x1="1674.1" y1="401.5" x2="1674.1" y2="413.5" stroke="#000" stroke-width="2"/>
<text transform="translate(1684.1 420) rotate(-90)" font-size="28" text-anchor="end">80</text>
<line x1="1707.1" y1="401.5" x2="1707.1" y2="413.5" stroke="#000" stroke-width="2"/>
<text transform="translate(1717.2 420) rotate(-90)" font-size="28" text-anchor="end">160</text>
<line x1="1760.8" y1="401.5" x2="1760.8" y2="413.5" stroke="#000" stroke-width="2"/>
<text transform="translate(1770.9 420) rotate(-90)" font-size="28" text-anchor="end">10</text>
<line x1="1793.8" y1="401.5" x2="1793.8" y2="413.5" stroke="#000" stroke-width="2"/>
<text transform="translate(1803.9 420) rotate(-90)" font-size="28" text-anchor="end">20</text>
<line x1="1826.9" y1="401.5" x2="1826.9" y2="413.5" stroke="#000" stroke-width="2"/>
<text transform="translate(1837 420) rotate(-90)" font-size="28" text-anchor="end">40</text>
<line x1="1860" y1="401.5" x2="1860" y2="413.5" stroke="#000" stroke-width="2"/>
<text transform="translate(1870 420) rotate(-90)" font-size="28" text-anchor="end">80</text>
<line x1="1893" y1="401.5" x2="1893" y2="413.5" stroke="#000" stroke-width="2"/>
<text transform="translate(1903.1 420) rotate(-90)" font-size="28" text-anchor="end">160</text>
<line x1="1946.2" y1="401.5" x2="1946.2" y2="413.5" stroke="#000" stroke-width="2"/>
<text transform="translate(1956.3 420) rotate(-90)" font-size="28" text-anchor="end">10</text>
<line x1="1979.2" y1="401.5" x2="1979.2" y2="413.5" stroke="#000" stroke-width="2"/>
<text transform="translate(1989.3 420) rotate(-90)" font-size="28" text-anchor="end">20</text>
<line x1="2012.3" y1="401.5" x2="2012.3" y2="413.5" stroke="#000" stroke-width="2"/>
<text transform="translate(2022.4 420) rotate(-90)" font-size="28" text-anchor="end">40</text>
<line x1="2045.4" y1="401.5" x2="2045.4" y2="413.5" stroke="#000" stroke-width="2"/>
<text transform="translate(2055.4 420) rotate(-90)" font-size="28" text-anchor="end">80</text>
<line x1="2078.4" y1="401.5" x2="2078.4" y2="413.5" stroke="#000" stroke-width="2"/>
<text transform="translate(2088.5 420) rotate(-90)" font-size="28" text-anchor="end">160</text>
<text x="1831" y="498" font-size="33" text-anchor="middle">HDRT (nM)</text>
<text transform="translate(1475 213) rotate(-90)" font-size="33" text-anchor="middle">%Knockin (CAR+)</text>
<circle cx="1601.9" cy="50.6" r="7" fill="#16928f"/>
<circle cx="1601.9" cy="92" r="7" fill="#9d2457"/>
<circle cx="1601.9" cy="133.5" r="7" fill="#000"/>
<text x="1643.4" y="62" font-size="33.5">ssDNA enhancer</text>
<text x="1643.4" y="103.5" font-size="33.5">PGA</text>
<text x="1643.4" y="145" font-size="33.5">No anionic polymer</text>
<rect x="1567.2" y="614.3" width="11.5" height="254.8" fill="#c4c4c4" stroke="#000" stroke-width="1.8"/>
<rect x="1593.2" y="614.3" width="11.5" height="254.8" fill="#c4c4c4" stroke="#000" stroke-width="1.8"/>
<rect x="1619.3" y="614.3" width="11.5" height="254.8" fill="#c4c4c4" stroke="#000" stroke-width="1.8"/>
<rect x="1645.4" y="639.9" width="11.5" height="229.2" fill="#c4c4c4" stroke="#000" stroke-width="1.8"/>
<rect x="1671.4" y="833.8" width="11.5" height="35.3" fill="#c4c4c4" stroke="#000" stroke-width="1.8"/>
<circle cx="1572.9" cy="592.1" r="7" fill="#000"/>
<circle cx="1572.9" cy="634.7" r="7" fill="#000"/>
<circle cx="1599" cy="562.3" r="7" fill="#000"/>
<circle cx="1599" cy="664.6" r="7" fill="#000"/>
<circle cx="1625" cy="575.1" r="7" fill="#000"/>
<circle cx="1625" cy="647.5" r="7" fill="#000"/>
<circle cx="1651.1" cy="630.5" r="7" fill="#000"/>
<circle cx="1651.1" cy="643.3" r="7" fill="#000"/>
<circle cx="1677.2" cy="794.5" r="7" fill="#000"/>
<circle cx="1677.2" cy="867" r="7" fill="#000"/>
<circle cx="1699.2" cy="869.1" r="7" fill="#000"/>
<circle cx="1707.2" cy="869.1" r="7" fill="#000"/>
<rect x="1741" y="607.9" width="11.5" height="261.2" fill="#e9bfd1" stroke="#9d2457" stroke-width="1.8"/>
<rect x="1767" y="614.3" width="11.5" height="254.8" fill="#e9bfd1" stroke="#9d2457" stroke-width="1.8"/>
<rect x="1793.1" y="631.4" width="11.5" height="237.7" fill="#e9bfd1" stroke="#9d2457" stroke-width="1.8"/>
<rect x="1819.2" y="627.1" width="11.5" height="242" fill="#e9bfd1" stroke="#9d2457" stroke-width="1.8"/>
<rect x="1845.2" y="716.6" width="11.5" height="152.5" fill="#e9bfd1" stroke="#9d2457" stroke-width="1.8"/>
<circle cx="1746.7" cy="579.4" r="7" fill="#9d2457"/>
<circle cx="1746.7" cy="628.4" r="7" fill="#9d2457"/>
<circle cx="1772.8" cy="573" r="7" fill="#9d2457"/>
<circle cx="1772.8" cy="647.5" r="7" fill="#9d2457"/>
<circle cx="1798.8" cy="604.9" r="7" fill="#9d2457"/>
<circle cx="1798.8" cy="651.8" r="7" fill="#9d2457"/>
<circle cx="1824.9" cy="598.5" r="7" fill="#9d2457"/>
<circle cx="1824.9" cy="647.5" r="7" fill="#9d2457"/>
<circle cx="1851" cy="688" r="7" fill="#9d2457"/>
<circle cx="1851" cy="734.9" r="7" fill="#9d2457"/>
<circle cx="1873" cy="869.1" r="7" fill="#9d2457"/>
<circle cx="1881" cy="869.1" r="7" fill="#9d2457"/>
<rect x="1914.2" y="597.3" width="11.5" height="271.8" fill="#86cfcd" stroke="#16928f" stroke-width="1.8"/>
<rect x="1940.3" y="607.9" width="11.5" height="261.2" fill="#86cfcd" stroke="#16928f" stroke-width="1.8"/>
<rect x="1966.4" y="610.1" width="11.5" height="259" fill="#86cfcd" stroke="#16928f" stroke-width="1.8"/>
<rect x="1992.5" y="618.6" width="11.5" height="250.5" fill="#86cfcd" stroke="#16928f" stroke-width="1.8"/>
<rect x="2018.5" y="665.5" width="11.5" height="203.6" fill="#86cfcd" stroke="#16928f" stroke-width="1.8"/>
<rect x="2044.6" y="861.5" width="11.5" height="7.6" fill="#86cfcd" stroke="#16928f" stroke-width="1.8"/>
<circle cx="1920" cy="575.1" r="7" fill="#16928f"/>
<circle cx="1920" cy="613.4" r="7" fill="#16928f"/>
<circle cx="1946.1" cy="562.3" r="7" fill="#16928f"/>
<circle cx="1946.1" cy="643.3" r="7" fill="#16928f"/>
<circle cx="1972.1" cy="579.4" r="7" fill="#16928f"/>
<circle cx="1972.1" cy="632.6" r="7" fill="#16928f"/>
<circle cx="1998.2" cy="583.6" r="7" fill="#16928f"/>
<circle cx="1998.2" cy="643.3" r="7" fill="#16928f"/>
<circle cx="2024.3" cy="651.8" r="7" fill="#16928f"/>
<circle cx="2024.3" cy="675.2" r="7" fill="#16928f"/>
<circle cx="2046.3" cy="856.3" r="7" fill="#16928f"/>
<circle cx="2054.3" cy="860.6" r="7" fill="#16928f"/>
<line x1="1556.3" y1="527.2" x2="1556.3" y2="870.1" stroke="#000" stroke-width="2"/>
<line x1="1543.8" y1="869.1" x2="2068.5" y2="869.1" stroke="#000" stroke-width="2"/>
<line x1="1542.3" y1="869.1" x2="1556.3" y2="869.1" stroke="#000" stroke-width="2"/>
<text x="1540.3" y="880.4" font-size="31.5" text-anchor="end" font-weight="bold">0</text>
<line x1="1542.3" y1="698.7" x2="1556.3" y2="698.7" stroke="#000" stroke-width="2"/>
<text x="1532" y="709.9" font-size="31.5" text-anchor="end">4</text>
<line x1="1542.3" y1="528.2" x2="1556.3" y2="528.2" stroke="#000" stroke-width="2"/>
<text x="1532" y="539.5" font-size="31.5" text-anchor="end">8</text>
<line x1="1548.3" y1="783.9" x2="1556.3" y2="783.9" stroke="#000" stroke-width="2"/>
<line x1="1548.3" y1="613.4" x2="1556.3" y2="613.4" stroke="#000" stroke-width="2"/>
<line x1="1572.9" y1="869.1" x2="1572.9" y2="881.1" stroke="#000" stroke-width="2"/>
<text transform="translate(1581.4 891) rotate(-90)" font-size="23.5" text-anchor="end">0</text>
<line x1="1599" y1="869.1" x2="1599" y2="881.1" stroke="#000" stroke-width="2"/>
<text transform="translate(1607.4 891) rotate(-90)" font-size="23.5" text-anchor="end">10</text>
<line x1="1625" y1="869.1" x2="1625" y2="881.1" stroke="#000" stroke-width="2"/>
<text transform="translate(1633.5 891) rotate(-90)" font-size="23.5" text-anchor="end">20</text>
<line x1="1651.1" y1="869.1" x2="1651.1" y2="881.1" stroke="#000" stroke-width="2"/>
<text transform="translate(1659.6 891) rotate(-90)" font-size="23.5" text-anchor="end">40</text>
<line x1="1677.2" y1="869.1" x2="1677.2" y2="881.1" stroke="#000" stroke-width="2"/>
<text transform="translate(1685.6 891) rotate(-90)" font-size="23.5" text-anchor="end">80</text>
<line x1="1703.2" y1="869.1" x2="1703.2" y2="881.1" stroke="#000" stroke-width="2"/>
<text transform="translate(1711.7 891) rotate(-90)" font-size="23.5" text-anchor="end">160</text>
<line x1="1746.7" y1="869.1" x2="1746.7" y2="881.1" stroke="#000" stroke-width="2"/>
<text transform="translate(1755.2 891) rotate(-90)" font-size="23.5" text-anchor="end">0</text>
<line x1="1772.8" y1="869.1" x2="1772.8" y2="881.1" stroke="#000" stroke-width="2"/>
<text transform="translate(1781.2 891) rotate(-90)" font-size="23.5" text-anchor="end">10</text>
<line x1="1798.8" y1="869.1" x2="1798.8" y2="881.1" stroke="#000" stroke-width="2"/>
<text transform="translate(1807.3 891) rotate(-90)" font-size="23.5" text-anchor="end">20</text>
<line x1="1824.9" y1="869.1" x2="1824.9" y2="881.1" stroke="#000" stroke-width="2"/>
<text transform="translate(1833.4 891) rotate(-90)" font-size="23.5" text-anchor="end">40</text>
<line x1="1851" y1="869.1" x2="1851" y2="881.1" stroke="#000" stroke-width="2"/>
<text transform="translate(1859.4 891) rotate(-90)" font-size="23.5" text-anchor="end">80</text>
<line x1="1877" y1="869.1" x2="1877" y2="881.1" stroke="#000" stroke-width="2"/>
<text transform="translate(1885.5 891) rotate(-90)" font-size="23.5" text-anchor="end">160</text>
<line x1="1920" y1="869.1" x2="1920" y2="881.1" stroke="#000" stroke-width="2"/>
<text transform="translate(1928.5 891) rotate(-90)" font-size="23.5" text-anchor="end">0</text>
<line x1="1946.1" y1="869.1" x2="1946.1" y2="881.1" stroke="#000" stroke-width="2"/>
<text transform="translate(1954.5 891) rotate(-90)" font-size="23.5" text-anchor="end">10</text>
<line x1="1972.1" y1="869.1" x2="1972.1" y2="881.1" stroke="#000" stroke-width="2"/>
<text transform="translate(1980.6 891) rotate(-90)" font-size="23.5" text-anchor="end">20</text>
<line x1="1998.2" y1="869.1" x2="1998.2" y2="881.1" stroke="#000" stroke-width="2"/>
<text transform="translate(2006.7 891) rotate(-90)" font-size="23.5" text-anchor="end">40</text>
<line x1="2024.3" y1="869.1" x2="2024.3" y2="881.1" stroke="#000" stroke-width="2"/>
<text transform="translate(2032.7 891) rotate(-90)" font-size="23.5" text-anchor="end">80</text>
<line x1="2050.3" y1="869.1" x2="2050.3" y2="881.1" stroke="#000" stroke-width="2"/>
<text transform="translate(2058.8 891) rotate(-90)" font-size="23.5" text-anchor="end">160</text>
<text x="1802" y="966.6" font-size="33" text-anchor="middle">HDRT (nM)</text>
<line x1="1586" y1="557" x2="1595" y2="559.2" stroke="#7a1838" stroke-width="1.8"/>
<text transform="translate(1497 713) rotate(-90)" font-size="33.7" text-anchor="middle">Live Cell Count (e4)</text>
<rect x="170.7" y="1008.6" width="38.3" height="20" fill="#e6e6e6" stroke="#000" stroke-width="1.8"/>
<rect x="170.7" y="1057" width="38.3" height="20.5" fill="#8f8f8f" stroke="#000" stroke-width="1.8"/>
<text x="230" y="1028.6" font-size="28.3">Unmodified</text>
<text x="230" y="1077.5" font-size="28.3">Indel</text>
<rect x="172.3" y="1177.2" width="36.8" height="283" fill="#a8a8a8" stroke="#000" stroke-width="1.8"/>
<rect x="169.4" y="1461.7" width="42.6" height="1.9" fill="#111"/>
<rect x="172.3" y="1120.8" width="36.8" height="53.1" fill="#e6e6e6" stroke="#000" stroke-width="1.8"/>
<rect x="237.9" y="1140.9" width="36.8" height="319.4" fill="#a8a8a8" stroke="#000" stroke-width="1.8"/>
<rect x="235" y="1461.7" width="42.6" height="1.9" fill="#111"/>
<rect x="237.9" y="1120.8" width="36.8" height="16.8" fill="#e6e6e6" stroke="#000" stroke-width="1.8"/>
<rect x="303.5" y="1132.9" width="36.8" height="326.6" fill="#a8a8a8" stroke="#000" stroke-width="1.8"/>
<rect x="300.6" y="1461" width="42.6" height="2.6" fill="#111"/>
<rect x="303.5" y="1120.8" width="36.8" height="8.8" fill="#e6e6e6" stroke="#000" stroke-width="1.8"/>
<rect x="369.1" y="1132.2" width="36.8" height="326.6" fill="#a8a8a8" stroke="#000" stroke-width="1.8"/>
<rect x="366.2" y="1460.3" width="42.6" height="3.3" fill="#111"/>
<rect x="369.1" y="1120.8" width="36.8" height="8.1" fill="#e6e6e6" stroke="#000" stroke-width="1.8"/>
<rect x="434.7" y="1132.2" width="36.8" height="327.3" fill="#a8a8a8" stroke="#000" stroke-width="1.8"/>
<rect x="431.8" y="1461" width="42.6" height="2.6" fill="#c07050"/>
<rect x="434.7" y="1120.8" width="36.8" height="8.1" fill="#e6e6e6" stroke="#000" stroke-width="1.8"/>
<rect x="500.3" y="1130.5" width="36.8" height="329.8" fill="#a8a8a8" stroke="#000" stroke-width="1.8"/>
<rect x="497.4" y="1461.7" width="42.6" height="1.9" fill="#111"/>
<rect x="500.3" y="1120.8" width="36.8" height="6.4" fill="#e6e6e6" stroke="#000" stroke-width="1.8"/>
<line x1="147.1" y1="1048.9" x2="147.1" y2="1464.6" stroke="#000" stroke-width="1.8"/>
<line x1="132" y1="1463.6" x2="562.5" y2="1463.6" stroke="#000" stroke-width="1.8"/>
<line x1="133" y1="1463.6" x2="147.1" y2="1463.6" stroke="#000" stroke-width="1.8"/>
<text x="127" y="1474.6" font-size="30" text-anchor="end" font-weight="bold">0</text>
<line x1="133" y1="1290.5" x2="147.1" y2="1290.5" stroke="#000" stroke-width="1.8"/>
<text x="127" y="1301.5" font-size="30" text-anchor="end">50</text>
<line x1="133" y1="1117.5" x2="147.1" y2="1117.5" stroke="#000" stroke-width="1.8"/>
<text x="127" y="1128.5" font-size="30" text-anchor="end">100</text>
<line x1="140" y1="1377.1" x2="147.1" y2="1377.1" stroke="#000" stroke-width="1.8"/>
<line x1="140" y1="1204" x2="147.1" y2="1204" stroke="#000" stroke-width="1.8"/>
<line x1="191" y1="1463.6" x2="191" y2="1477.6" stroke="#000" stroke-width="1.8"/>
<text x="189" y="1512.6" font-size="30" text-anchor="middle">7</text>
<line x1="256.4" y1="1463.6" x2="256.4" y2="1477.6" stroke="#000" stroke-width="1.8"/>
<text x="254.4" y="1512.6" font-size="30" text-anchor="middle">21</text>
<line x1="321.9" y1="1463.6" x2="321.9" y2="1477.6" stroke="#000" stroke-width="1.8"/>
<text x="319.9" y="1512.6" font-size="30" text-anchor="middle">35</text>
<line x1="387.4" y1="1463.6" x2="387.4" y2="1477.6" stroke="#000" stroke-width="1.8"/>
<text x="385.4" y="1512.6" font-size="30" text-anchor="middle">50</text>
<line x1="452.8" y1="1463.6" x2="452.8" y2="1477.6" stroke="#000" stroke-width="1.8"/>
<text x="450.8" y="1512.6" font-size="30" text-anchor="middle">64</text>
<line x1="518.2" y1="1463.6" x2="518.2" y2="1477.6" stroke="#000" stroke-width="1.8"/>
<text x="516.2" y="1512.6" font-size="30" text-anchor="middle">78</text>
<text x="355" y="1548.4" font-size="31.2" text-anchor="middle">RNP (pmol)</text>
<text transform="translate(80.5 1292.7) rotate(-90)" font-size="31" text-anchor="middle">% Indel</text>
<polyline points="772.9,1464.9 868.9,1464 964.8,1461.1 1060.8,1459.2 1156.7,1458.2 1252.7,1454.9" fill="none" stroke="#999999" stroke-width="2" stroke-linejoin="round"/>
<circle cx="772.9" cy="1464.9" r="7.6" fill="#999999"/>
<circle cx="772.9" cy="1467.8" r="7.6" fill="#999999"/>
<circle cx="868.9" cy="1463" r="7.6" fill="#999999"/>
<circle cx="868.9" cy="1464.9" r="7.6" fill="#999999"/>
<circle cx="964.8" cy="1459.2" r="7.6" fill="#999999"/>
<circle cx="964.8" cy="1462.1" r="7.6" fill="#999999"/>
<circle cx="1060.8" cy="1458.2" r="7.6" fill="#999999"/>
<circle cx="1060.8" cy="1459.2" r="7.6" fill="#999999"/>
<circle cx="1156.7" cy="1456.3" r="7.6" fill="#999999"/>
<circle cx="1156.7" cy="1461.1" r="7.6" fill="#999999"/>
<circle cx="1252.7" cy="1452.5" r="7.6" fill="#999999"/>
<circle cx="1252.7" cy="1457.3" r="7.6" fill="#999999"/>
<polyline points="772.9,1456.3 868.9,1444.8 964.8,1424.7 1060.8,1426.6 1156.7,1409.4 1252.7,1414.2" fill="none" stroke="#4c9a3e" stroke-width="2" stroke-linejoin="round"/>
<circle cx="772.9" cy="1453.4" r="7.6" fill="#4c9a3e"/>
<circle cx="772.9" cy="1456.3" r="7.6" fill="#4c9a3e"/>
<circle cx="868.9" cy="1443.8" r="7.6" fill="#4c9a3e"/>
<circle cx="868.9" cy="1445.8" r="7.6" fill="#4c9a3e"/>
<circle cx="964.8" cy="1419.9" r="7.6" fill="#4c9a3e"/>
<circle cx="964.8" cy="1429.5" r="7.6" fill="#4c9a3e"/>
<circle cx="1060.8" cy="1422.8" r="7.6" fill="#4c9a3e"/>
<circle cx="1060.8" cy="1431.4" r="7.6" fill="#4c9a3e"/>
<circle cx="1156.7" cy="1400.7" r="7.6" fill="#4c9a3e"/>
<circle cx="1156.7" cy="1416.1" r="7.6" fill="#4c9a3e"/>
<circle cx="1252.7" cy="1407.4" r="7.6" fill="#4c9a3e"/>
<circle cx="1252.7" cy="1419.9" r="7.6" fill="#4c9a3e"/>
<polyline points="772.9,1408.4 868.9,1354.8 964.8,1289.6 1060.8,1268.5 1156.7,1259.9 1252.7,1260.9" fill="none" stroke="#a21d23" stroke-width="2" stroke-linejoin="round"/>
<circle cx="772.9" cy="1408.4" r="7.6" fill="#a21d23"/>
<circle cx="772.9" cy="1408.4" r="7.6" fill="#a21d23"/>
<circle cx="868.9" cy="1337.5" r="7.6" fill="#a21d23"/>
<circle cx="868.9" cy="1372" r="7.6" fill="#a21d23"/>
<circle cx="964.8" cy="1266.6" r="7.6" fill="#a21d23"/>
<circle cx="964.8" cy="1311.6" r="7.6" fill="#a21d23"/>
<circle cx="1060.8" cy="1233.1" r="7.6" fill="#a21d23"/>
<circle cx="1060.8" cy="1302.1" r="7.6" fill="#a21d23"/>
<circle cx="1156.7" cy="1223.5" r="7.6" fill="#a21d23"/>
<circle cx="1156.7" cy="1294.4" r="7.6" fill="#a21d23"/>
<circle cx="1252.7" cy="1224.5" r="7.6" fill="#a21d23"/>
<circle cx="1252.7" cy="1294.4" r="7.6" fill="#a21d23"/>
<line x1="724.3" y1="1083.6" x2="724.3" y2="1468.8" stroke="#000" stroke-width="2"/>
<line x1="724" y1="1467.8" x2="1301" y2="1467.8" stroke="#000" stroke-width="2"/>
<line x1="710.3" y1="1467.8" x2="724.3" y2="1467.8" stroke="#000" stroke-width="2"/>
<text x="705.3" y="1478.3" font-size="29.5" text-anchor="end">0</text>
<line x1="710.3" y1="1372" x2="724.3" y2="1372" stroke="#000" stroke-width="2"/>
<text x="705.3" y="1382.5" font-size="29.5" text-anchor="end">10</text>
<line x1="710.3" y1="1276.2" x2="724.3" y2="1276.2" stroke="#000" stroke-width="2"/>
<text x="705.3" y="1286.7" font-size="29.5" text-anchor="end">20</text>
<line x1="710.3" y1="1180.4" x2="724.3" y2="1180.4" stroke="#000" stroke-width="2"/>
<text x="705.3" y="1190.9" font-size="29.5" text-anchor="end">30</text>
<line x1="710.3" y1="1084.6" x2="724.3" y2="1084.6" stroke="#000" stroke-width="2"/>
<text x="705.3" y="1095.1" font-size="29.5" text-anchor="end">40</text>
<line x1="772.9" y1="1467.8" x2="772.9" y2="1482.8" stroke="#000" stroke-width="2"/>
<text x="759.9" y="1512.6" font-size="29.5" text-anchor="middle">7</text>
<line x1="868.9" y1="1467.8" x2="868.9" y2="1482.8" stroke="#000" stroke-width="2"/>
<text x="862.9" y="1512.6" font-size="29.5" text-anchor="middle">21</text>
<line x1="964.8" y1="1467.8" x2="964.8" y2="1482.8" stroke="#000" stroke-width="2"/>
<text x="960.8" y="1512.6" font-size="29.5" text-anchor="middle">35</text>
<line x1="1060.8" y1="1467.8" x2="1060.8" y2="1482.8" stroke="#000" stroke-width="2"/>
<text x="1056.8" y="1512.6" font-size="29.5" text-anchor="middle">50</text>
<line x1="1156.7" y1="1467.8" x2="1156.7" y2="1482.8" stroke="#000" stroke-width="2"/>
<text x="1151.7" y="1512.6" font-size="29.5" text-anchor="middle">64</text>
<line x1="1252.7" y1="1467.8" x2="1252.7" y2="1482.8" stroke="#000" stroke-width="2"/>
<text x="1248.7" y="1512.6" font-size="29.5" text-anchor="middle">78</text>
<text x="1016.5" y="1056.4" font-size="31.7" text-anchor="middle">CD5-HA ssDNA Template</text>
<line x1="743" y1="1091.6" x2="786" y2="1091.6" stroke="#a21d23" stroke-width="2"/>
<circle cx="764" cy="1091.6" r="7.6" fill="#a21d23"/>
<text x="809.5" y="1103.6" font-size="31">100 pmol</text>
<line x1="743" y1="1135.1" x2="786" y2="1135.1" stroke="#4c9a3e" stroke-width="2"/>
<circle cx="764" cy="1135.1" r="7.6" fill="#4c9a3e"/>
<text x="809.5" y="1147.1" font-size="31">20 pmol</text>
<line x1="743" y1="1178.6" x2="786" y2="1178.6" stroke="#999999" stroke-width="2"/>
<circle cx="764" cy="1178.6" r="7.6" fill="#999999"/>
<text x="809.5" y="1190.6" font-size="31">4 pmol</text>
<text x="1003.7" y="1545.8" font-size="31" text-anchor="middle">RNP (pmol)</text>
<text transform="translate(650 1279) rotate(-90)" font-size="31" text-anchor="middle">%Knockin (CD5+HA+)</text>
<polyline points="1474,1438.3 1570.1,1420 1666.1,1396 1762.2,1379.7 1858.2,1364.3 1954.3,1355.6" fill="none" stroke="#999999" stroke-width="2" stroke-linejoin="round"/>
<circle cx="1474" cy="1434.5" r="7.6" fill="#999999"/>
<circle cx="1474" cy="1444.1" r="7.6" fill="#999999"/>
<circle cx="1570.1" cy="1420" r="7.6" fill="#999999"/>
<circle cx="1570.1" cy="1421" r="7.6" fill="#999999"/>
<circle cx="1666.1" cy="1393.1" r="7.6" fill="#999999"/>
<circle cx="1666.1" cy="1398.9" r="7.6" fill="#999999"/>
<circle cx="1762.2" cy="1376.8" r="7.6" fill="#999999"/>
<circle cx="1762.2" cy="1381.6" r="7.6" fill="#999999"/>
<circle cx="1858.2" cy="1348" r="7.6" fill="#999999"/>
<circle cx="1858.2" cy="1379.7" r="7.6" fill="#999999"/>
<circle cx="1954.3" cy="1336.4" r="7.6" fill="#999999"/>
<circle cx="1954.3" cy="1374.9" r="7.6" fill="#999999"/>
<polyline points="1474,1393.1 1570.1,1335.5 1666.1,1281.6 1762.2,1270.1 1858.2,1221.1 1954.3,1201.8" fill="none" stroke="#4c9a3e" stroke-width="2" stroke-linejoin="round"/>
<circle cx="1474" cy="1391.2" r="7.6" fill="#4c9a3e"/>
<circle cx="1474" cy="1396" r="7.6" fill="#4c9a3e"/>
<circle cx="1570.1" cy="1330.7" r="7.6" fill="#4c9a3e"/>
<circle cx="1570.1" cy="1340.3" r="7.6" fill="#4c9a3e"/>
<circle cx="1666.1" cy="1273.9" r="7.6" fill="#4c9a3e"/>
<circle cx="1666.1" cy="1289.3" r="7.6" fill="#4c9a3e"/>
<circle cx="1762.2" cy="1241.3" r="7.6" fill="#4c9a3e"/>
<circle cx="1762.2" cy="1298" r="7.6" fill="#4c9a3e"/>
<circle cx="1858.2" cy="1192.2" r="7.6" fill="#4c9a3e"/>
<circle cx="1858.2" cy="1250.9" r="7.6" fill="#4c9a3e"/>
<circle cx="1954.3" cy="1160.5" r="7.6" fill="#4c9a3e"/>
<circle cx="1954.3" cy="1243.2" r="7.6" fill="#4c9a3e"/>
<polyline points="1474,1362.4 1570.1,1258.6 1666.1,1202.8 1762.2,1179.7 1858.2,1154.7 1954.3,1158.6" fill="none" stroke="#a21d23" stroke-width="2" stroke-linejoin="round"/>
<circle cx="1474" cy="1352.8" r="7.6" fill="#a21d23"/>
<circle cx="1474" cy="1372.9" r="7.6" fill="#a21d23"/>
<circle cx="1570.1" cy="1258.6" r="7.6" fill="#a21d23"/>
<circle cx="1570.1" cy="1258.6" r="7.6" fill="#a21d23"/>
<circle cx="1666.1" cy="1184.5" r="7.6" fill="#a21d23"/>
<circle cx="1666.1" cy="1220.1" r="7.6" fill="#a21d23"/>
<circle cx="1762.2" cy="1146.1" r="7.6" fill="#a21d23"/>
<circle cx="1762.2" cy="1213.4" r="7.6" fill="#a21d23"/>
<circle cx="1858.2" cy="1129.8" r="7.6" fill="#a21d23"/>
<circle cx="1858.2" cy="1180.7" r="7.6" fill="#a21d23"/>
<circle cx="1954.3" cy="1125.9" r="7.6" fill="#a21d23"/>
<circle cx="1954.3" cy="1190.3" r="7.6" fill="#a21d23"/>
<line x1="1425.4" y1="1073" x2="1425.4" y2="1459.5" stroke="#000" stroke-width="2"/>
<line x1="1411.2" y1="1458.5" x2="2001.5" y2="1458.5" stroke="#000" stroke-width="2"/>
<line x1="1411.4" y1="1458.5" x2="1425.4" y2="1458.5" stroke="#000" stroke-width="2"/>
<text x="1406.4" y="1469" font-size="29.5" text-anchor="end">0</text>
<line x1="1411.4" y1="1362.4" x2="1425.4" y2="1362.4" stroke="#000" stroke-width="2"/>
<text x="1406.4" y="1372.9" font-size="29.5" text-anchor="end">10</text>
<line x1="1411.4" y1="1266.2" x2="1425.4" y2="1266.2" stroke="#000" stroke-width="2"/>
<text x="1406.4" y="1276.8" font-size="29.5" text-anchor="end">20</text>
<line x1="1411.4" y1="1170.1" x2="1425.4" y2="1170.1" stroke="#000" stroke-width="2"/>
<text x="1406.4" y="1180.6" font-size="29.5" text-anchor="end">30</text>
<line x1="1411.4" y1="1074" x2="1425.4" y2="1074" stroke="#000" stroke-width="2"/>
<text x="1406.4" y="1084.5" font-size="29.5" text-anchor="end">40</text>
<line x1="1474" y1="1458.5" x2="1474" y2="1473.5" stroke="#000" stroke-width="2"/>
<text x="1462.5" y="1504.3" font-size="29.5" text-anchor="middle">7</text>
<line x1="1570.1" y1="1458.5" x2="1570.1" y2="1473.5" stroke="#000" stroke-width="2"/>
<text x="1566.6" y="1504.3" font-size="29.5" text-anchor="middle">21</text>
<line x1="1666.1" y1="1458.5" x2="1666.1" y2="1473.5" stroke="#000" stroke-width="2"/>
<text x="1663.6" y="1504.3" font-size="29.5" text-anchor="middle">35</text>
<line x1="1762.2" y1="1458.5" x2="1762.2" y2="1473.5" stroke="#000" stroke-width="2"/>
<text x="1759.7" y="1504.3" font-size="29.5" text-anchor="middle">50</text>
<line x1="1858.2" y1="1458.5" x2="1858.2" y2="1473.5" stroke="#000" stroke-width="2"/>
<text x="1854.7" y="1504.3" font-size="29.5" text-anchor="middle">64</text>
<line x1="1954.3" y1="1458.5" x2="1954.3" y2="1473.5" stroke="#000" stroke-width="2"/>
<text x="1951.8" y="1504.3" font-size="29.5" text-anchor="middle">78</text>
<text x="1713.4" y="1054.8" font-size="31.7" text-anchor="middle">CD5-HA ssCTS Template</text>
<line x1="1445.5" y1="1091.6" x2="1488.5" y2="1091.6" stroke="#a21d23" stroke-width="2"/>
<circle cx="1466.5" cy="1091.6" r="7.6" fill="#a21d23"/>
<text x="1512" y="1103.6" font-size="31">100 pmol</text>
<line x1="1445.5" y1="1135.1" x2="1488.5" y2="1135.1" stroke="#4c9a3e" stroke-width="2"/>
<circle cx="1466.5" cy="1135.1" r="7.6" fill="#4c9a3e"/>
<text x="1512" y="1147.1" font-size="31">20 pmol</text>
<line x1="1445.5" y1="1178.6" x2="1488.5" y2="1178.6" stroke="#999999" stroke-width="2"/>
<circle cx="1466.5" cy="1178.6" r="7.6" fill="#999999"/>
<text x="1512" y="1190.6" font-size="31">4 pmol</text>
<text x="1718.4" y="1552.6" font-size="31" text-anchor="middle">RNP (pmol)</text>
<text transform="translate(1352 1270) rotate(-90)" font-size="31" text-anchor="middle">%Knockin (CD5+HA+)</text>
<text x="391" y="1668.5" font-size="32.5" text-anchor="middle">dsCTS</text>
<text x="842.5" y="1668.5" font-size="32.5" text-anchor="middle">dsCTS + RNP</text>
<text x="1276.5" y="1668.5" font-size="32.5" text-anchor="middle">ssCTS</text>
<text x="1727" y="1668.5" font-size="32.5" text-anchor="middle">ssCTS + RNP</text>
<line x1="155.3" y1="1694.5" x2="155.3" y2="2110.6" stroke="#222" stroke-width="1.7"/>
<path d="M155.3 1686.5 L163.8 1702.5 L155.3 1698 L146.8 1702.5 Z" fill="#222"/>
<path d="M155.3 2118.6 L163.8 2102.6 L155.3 2107.1 L146.8 2102.6 Z" fill="#222"/>
<line x1="155.3" y1="2137.2" x2="155.3" y2="2553.8" stroke="#222" stroke-width="1.7"/>
<path d="M155.3 2129.2 L163.8 2145.2 L155.3 2140.7 L146.8 2145.2 Z" fill="#222"/>
<path d="M155.3 2561.8 L163.8 2545.8 L155.3 2550.3 L146.8 2545.8 Z" fill="#222"/>
<text transform="translate(105 1913.5) rotate(-90)" font-size="36" text-anchor="middle">1X</text>
<text transform="translate(144 1915.5) rotate(-90)" font-size="29" text-anchor="middle">3000 nm</text>
<text transform="translate(105 2360) rotate(-90)" font-size="34.5" text-anchor="middle">2X Zoom</text>
<text transform="translate(144 2336) rotate(-90)" font-size="29" text-anchor="middle">1500 nm</text>
<rect x="1950.2" y="1687.5" width="13.6" height="431.1" fill="url(#cbar)" stroke="#000" stroke-width="1.6"/>
<line x1="1949.4" y1="1687.7" x2="1964.6" y2="1687.7" stroke="#000" stroke-width="2.6"/>
<text x="1980.5" y="1711" font-size="29.3">2 nm</text>
<text x="1969.5" y="2117.1" font-size="29.6">-1 nm</text>
<rect x="1950.2" y="2129.8" width="13.6" height="430.4" fill="url(#cbar)" stroke="#000" stroke-width="1.6"/>
<line x1="1949.4" y1="2130" x2="1964.6" y2="2130" stroke="#000" stroke-width="2.6"/>
<text x="1980.5" y="2153.3" font-size="29.3">2 nm</text>
<text x="1969.5" y="2558.7" font-size="29.6">-1 nm</text>
</svg>
</body></html>
